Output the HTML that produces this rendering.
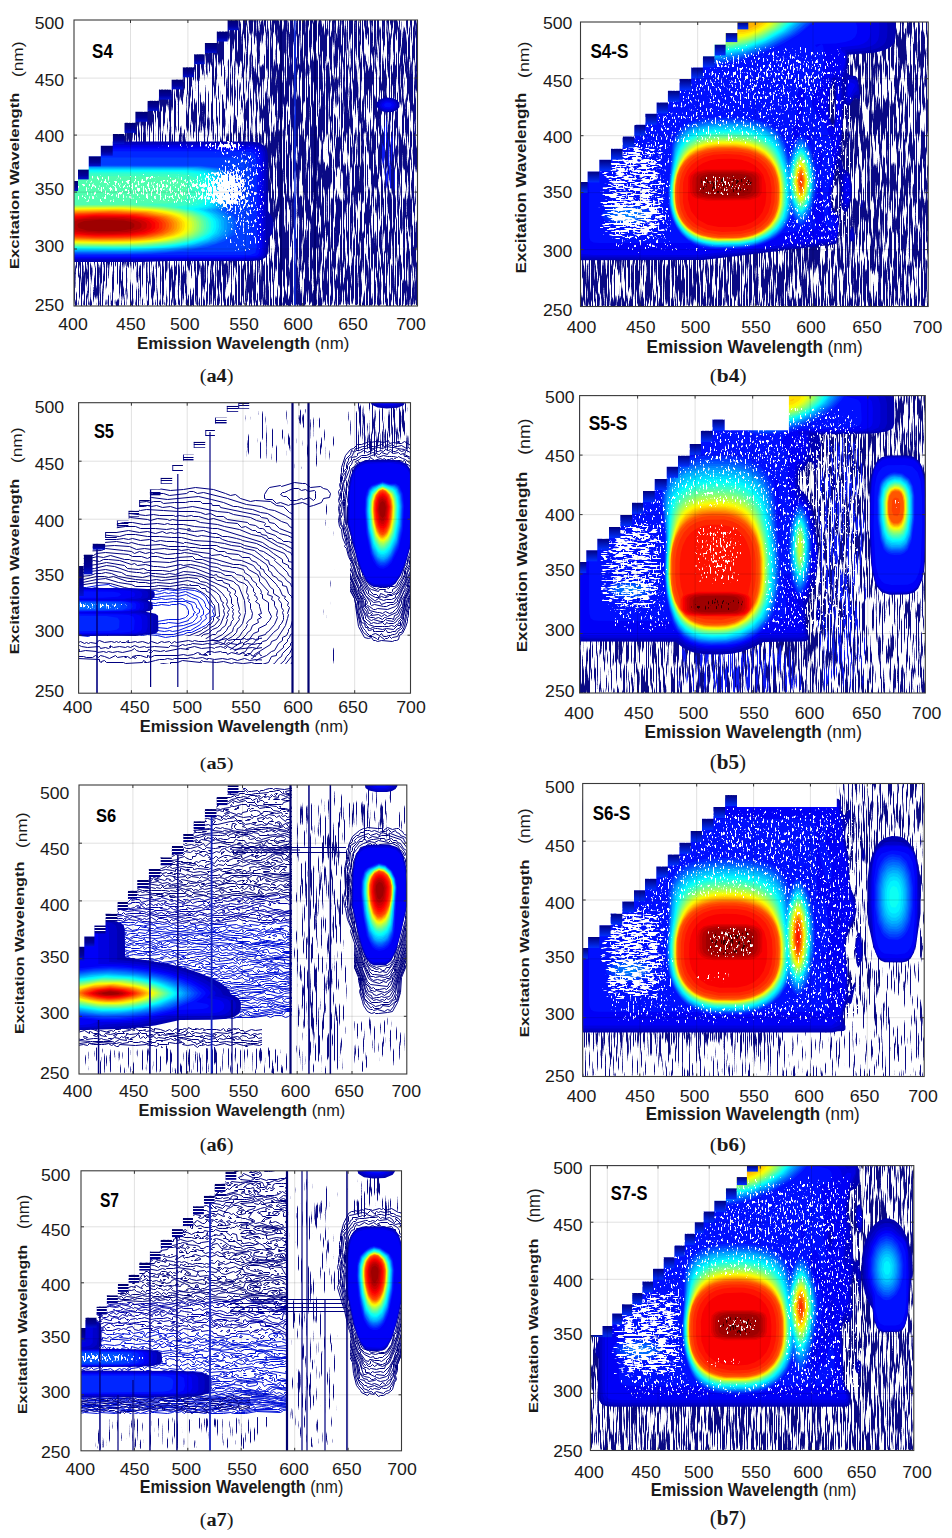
<!DOCTYPE html><html><head><meta charset="utf-8"><style>html,body{margin:0;padding:0;background:#fff;}svg{display:block}</style></head><body>
<svg width="952" height="1538" viewBox="0 0 952 1538">
<defs>
<filter id="tex" x="0" y="0" width="952" height="1538" filterUnits="userSpaceOnUse" color-interpolation-filters="sRGB">
<feTurbulence type="fractalNoise" baseFrequency="0.75 0.03" numOctaves="2" seed="7" result="n0"/>
<feColorMatrix in="n0" type="matrix" values="1 0 0 0 0  1 0 0 0 0  1 0 0 0 0  0 0 0 0 1" result="n"/>
<feGaussianBlur in="SourceGraphic" stdDeviation="1.5" result="d"/>
<feComposite in="n" in2="d" operator="arithmetic" k1="0" k2="14" k3="14" k4="-14" result="s"/>
<feColorMatrix in="s" type="matrix" values="0 0 0 0 0.04  0 0 0 0 0.04  0 0 0 0 0.52  1 0 0 0 0"/>
</filter>
<filter id="htex" x="0" y="0" width="952" height="1538" filterUnits="userSpaceOnUse" color-interpolation-filters="sRGB">
<feTurbulence type="fractalNoise" baseFrequency="0.025 0.42" numOctaves="2" seed="11" result="n0"/>
<feColorMatrix in="n0" type="matrix" values="1 0 0 0 0  1 0 0 0 0  1 0 0 0 0  0 0 0 0 1" result="n"/>
<feGaussianBlur in="SourceGraphic" stdDeviation="1.5" result="d"/>
<feComposite in="n" in2="d" operator="arithmetic" k1="0" k2="14" k3="14" k4="-14" result="s"/>
<feColorMatrix in="s" type="matrix" values="0 0 0 0 0.04  0 0 0 0 0.04  0 0 0 0 0.52  1 0 0 0 0"/>
</filter>
<filter id="btex" x="0" y="0" width="952" height="1538" filterUnits="userSpaceOnUse" color-interpolation-filters="sRGB">
<feTurbulence type="fractalNoise" baseFrequency="0.75 0.03" numOctaves="2" seed="5" result="n0"/>
<feColorMatrix in="n0" type="matrix" values="1 0 0 0 0  1 0 0 0 0  1 0 0 0 0  0 0 0 0 1" result="n"/>
<feGaussianBlur in="SourceGraphic" stdDeviation="1.5" result="d"/>
<feComposite in="n" in2="d" operator="arithmetic" k1="0" k2="14" k3="14" k4="-14" result="s"/>
<feColorMatrix in="s" type="matrix" values="0 0 0 0 0.05  0 0 0 0 0.1  0 0 0 0 0.95  1 0 0 0 0"/>
</filter>
<filter id="spk" x="0" y="0" width="952" height="1538" filterUnits="userSpaceOnUse" color-interpolation-filters="sRGB">
<feTurbulence type="fractalNoise" baseFrequency="0.6 0.25" numOctaves="2" seed="3" result="n0"/>
<feColorMatrix in="n0" type="matrix" values="1 0 0 0 0  1 0 0 0 0  1 0 0 0 0  0 0 0 0 1" result="n"/>
<feGaussianBlur in="SourceGraphic" stdDeviation="1.5" result="d"/>
<feComposite in="n" in2="d" operator="arithmetic" k1="0" k2="14" k3="14" k4="-14" result="s"/>
<feColorMatrix in="s" type="matrix" values="0 0 0 0 1  0 0 0 0 1  0 0 0 0 1  1 0 0 0 0"/>
</filter>
<filter id="hspk" x="0" y="0" width="952" height="1538" filterUnits="userSpaceOnUse" color-interpolation-filters="sRGB">
<feTurbulence type="fractalNoise" baseFrequency="0.12 0.55" numOctaves="2" seed="13" result="n0"/>
<feColorMatrix in="n0" type="matrix" values="1 0 0 0 0  1 0 0 0 0  1 0 0 0 0  0 0 0 0 1" result="n"/>
<feGaussianBlur in="SourceGraphic" stdDeviation="1.5" result="d"/>
<feComposite in="n" in2="d" operator="arithmetic" k1="0" k2="14" k3="14" k4="-14" result="s"/>
<feColorMatrix in="s" type="matrix" values="0 0 0 0 1  0 0 0 0 1  0 0 0 0 1  1 0 0 0 0"/>
</filter>
<filter id="kspk" x="0" y="0" width="952" height="1538" filterUnits="userSpaceOnUse" color-interpolation-filters="sRGB">
<feTurbulence type="fractalNoise" baseFrequency="0.6 0.2" numOctaves="2" seed="9" result="n0"/>
<feColorMatrix in="n0" type="matrix" values="1 0 0 0 0  1 0 0 0 0  1 0 0 0 0  0 0 0 0 1" result="n"/>
<feGaussianBlur in="SourceGraphic" stdDeviation="1.5" result="d"/>
<feComposite in="n" in2="d" operator="arithmetic" k1="0" k2="14" k3="14" k4="-14" result="s"/>
<feColorMatrix in="s" type="matrix" values="0 0 0 0 0.2  0 0 0 0 0  0 0 0 0 0  1 0 0 0 0"/>
</filter>
<clipPath id="ca4"><rect x="74" y="20" width="343.5" height="286.0"/></clipPath>
<clipPath id="cb4"><rect x="580.5" y="22" width="347.7" height="284.5"/></clipPath>
<clipPath id="ca5"><rect x="78.6" y="402.7" width="331.9" height="290.5"/></clipPath>
<clipPath id="cb5"><rect x="579.6" y="395.6" width="345.7" height="297.4"/></clipPath>
<clipPath id="ca6"><rect x="79" y="785" width="327.8" height="289.0"/></clipPath>
<clipPath id="cb6"><rect x="582.7" y="783.5" width="341.5" height="293.0"/></clipPath>
<clipPath id="ca7"><rect x="81" y="1170.8" width="320.5" height="280.0"/></clipPath>
<clipPath id="cb7"><rect x="590.4" y="1165.6" width="323.4" height="284.9"/></clipPath>
<linearGradient id="rimg" x1="0" y1="0" x2="0" y2="1"><stop offset="0" stop-color="#000070"/><stop offset="0.6" stop-color="#00009a"/><stop offset="1" stop-color="#0010d0"/></linearGradient>
<linearGradient id="rimb" x1="0" y1="0" x2="0" y2="1"><stop offset="0" stop-color="#000080"/><stop offset="1" stop-color="#0030ff"/></linearGradient>
<linearGradient id="rims" x1="0" y1="0" x2="0" y2="1"><stop offset="0" stop-color="#000070"/><stop offset="0.25" stop-color="#000070"/><stop offset="0.25" stop-color="#fff"/><stop offset="0.37" stop-color="#fff"/><stop offset="0.37" stop-color="#000080"/><stop offset="0.62" stop-color="#000080"/><stop offset="0.62" stop-color="#fff"/><stop offset="0.74" stop-color="#fff"/><stop offset="0.74" stop-color="#000090"/><stop offset="1" stop-color="#000090"/></linearGradient>
<linearGradient id="rimo" x1="0" y1="0" x2="0" y2="1"><stop offset="0" stop-color="#000070"/><stop offset="0.17" stop-color="#000070"/><stop offset="0.17" stop-color="#fff" stop-opacity="0"/><stop offset="0.42" stop-color="#fff" stop-opacity="0"/><stop offset="0.42" stop-color="#000080"/><stop offset="0.58" stop-color="#000080"/><stop offset="0.58" stop-color="#fff" stop-opacity="0"/><stop offset="0.83" stop-color="#fff" stop-opacity="0"/><stop offset="0.83" stop-color="#000080"/><stop offset="1" stop-color="#000080"/></linearGradient>
</defs>
<g clip-path="url(#ca4)">
<rect x="74" y="20" width="343.5" height="286.0" fill="#fff"/>
<g filter="url(#tex)"><rect x="72" y="18" width="347.5" height="290.0" fill="#000"/>
<path d="M419 307 72 307 72 18 419 18 419 307Z" fill="#4c4c4c" fill-rule="evenodd"/>
<path d="M419 307 72 307 72 18 419 18 419 307Z" fill="#545454" fill-rule="evenodd"/>
<path d="M419 307 72 307 72 18 419 18 419 307Z" fill="#5c5c5c" fill-rule="evenodd"/>
<path d="M419 307 72 307 72 18 419 18 419 307Z" fill="#636363" fill-rule="evenodd"/>
<path d="M419 307 72 307 72 18 419 18 419 307Z" fill="#6b6b6b" fill-rule="evenodd"/>
<path d="M419 307 72 307 72 18 419 18 419 307Z" fill="#737373" fill-rule="evenodd"/>
<path d="M419 307 72 307 72 18 419 18 419 307Z" fill="#7a7a7a" fill-rule="evenodd"/>
<path d="M419 307 72 307 72 18 419 18 419 307ZM147 104 148 95.2 158 96.8 159 85.5 171 86 172 75.6 182 75.6 182.9 61 182 59 162 61 155 64.1 150 68.7 146.4 76 144.6 86 144.8 100 147 104ZM193.3 125 201 122.9 207.6 119 212 113 214.4 106 215.7 93 214.4 81 211.5 76 205 72.9 204 82.7 195 81.7 194 94.4 183 94.1 182 106.6 172 106.7 171 119 163.8 121 164.9 123 172 125.6 193.3 125Z" fill="#828282" fill-rule="evenodd"/>
<path d="M419 307 72 307 72 302.9 80 305.4 94 306.4 140 306.4 157.4 305 162.8 303 166 299.8 168.1 286 165.9 273 162 269.6 155 267.6 92 266.6 79 267.7 72 270.1 72 18 419 18 419 307ZM135.1 119 136 109.2 147 110.1 148 99.3 158 99.6 159 88.3 171 88.5 172 78.3 182 78.3 183 66 194 65.9 195 51.9 204 51.6 204 38.6 179 37.4 155 38.8 141 42.6 132 49.2 127.1 57 124.1 68 122.7 103 124 116.5 130.4 119 135.1 119ZM197.9 147 212 144.9 222 140.8 229.5 134 234 125 237.1 106 236.9 76 233.9 60 228 51.8 227 59 217 56.8 216 66.9 205 66 204 76.8 195 76.5 194 89.4 183 89.2 182 101.4 172 101.4 171 111.8 159 112.1 158 124.3 148 125 147 142 148 144.9 168 147.3 197.9 147Z" fill="#8a8a8a" fill-rule="evenodd"/>
<path d="M419 307 189.1 307 192.2 297 191.7 272 188.2 265 180 259.3 168 255.8 154 254.5 72 255.1 72 18 122.8 18 112.6 26 104.2 36 98.3 47 94.9 59 93 81 93.3 112 95.5 129 100 141.8 101 138.5 112 141.4 113 130.7 124 132 125 121.1 135 122 136 111.1 147 111.7 148 100.9 158 101.2 159 89.9 171 90.1 172 79.9 182 79.9 183 67.6 194 67.6 195 53.9 204 53.8 205 41.5 216 41.2 217 28.3 227 27.7 227.1 18 419 18 419 307ZM195.3 177 218 174.7 234 168.9 249 157.2 258 143 261 132 262.4 119 262.5 68 259 45 256 38.4 252 34.6 249 35.1 238 43.5 228 44.1 227 54 217 53.1 216 63.6 205 63 204 73.7 195 73.5 194 86.3 183 86.2 182 98.3 172 98.3 171 108.6 159 108.8 158 120.7 148 121.2 147 133.2 136 134.3 135 147.7 125 149.7 125 168.3 132 171.7 155 176.5 195.3 177Z" fill="#919191" fill-rule="evenodd"/>
<path d="M77 205 74 205 73.6 203 73.6 180 77 179 78 167.4 88 167.4 89 154.3 100 154.5 101 144 112 144.4 113 133.1 124 133.7 125 122.8 135 123.5 136 112.7 147 113.3 148 102.7 158 103 159 91.8 171 92 172 81.9 182 81.9 183 69.5 194.4 69 195 55.6 204 55.5 205 43.3 216 43 217 30.8 227 30.6 228 18.8 239.1 21 240.9 25 239.6 35 236 39.6 228 40.9 227 51.1 217 50.4 216 60.7 205 60 204 70.4 195 70 194 82.5 183 82.3 182 94.3 172 94.3 171 104.7 159 105.1 158 117 148 117.7 147 129.7 136 130.8 135 143.3 125 144.3 124 156.7 113 157.3 112 169.4 101 169.6 100 180.3 89 180.3 88 193.4 78 193.4 77 205ZM320 303.1 285 303.1 279.7 300 277.5 293 277.7 35 280 26 288 22.6 320.2 23 325.3 26 327.5 33 327.8 288 326 298.9 320 303.1Z" fill="#999999" fill-rule="evenodd"/>
<path d="M216 56.3 205 54.9 205 45.4 216 44.9 217 32.5 227 32.3 228 20.5 235.8 22 237.4 27 235.6 35 233 37.1 228 38 227 47.9 217 47.1 216 56.3ZM77 201.5 74 201.5 73.5 184 74 180.7 77 180.7 78 169.2 88 169.2 89 156.1 100 156.2 101 145.7 112 145.9 113 134.6 124 135.3 125 124.4 135 125.4 136 115 146.7 118 147 122.3 136 126.5 135 139.6 125 140.9 124 153.3 113 153.9 112 165.9 101 166.1 100 176.7 89 176.8 88 189.9 78 189.9 77 201.5Z" fill="#a1a1a1" fill-rule="evenodd"/>
<path d="M230 33.1 227.9 33 228 22.5 233.3 25 232.9 30 230 33.1ZM227 41.4 217 39.6 217 35.6 227 35 227 41.4ZM125 134.2 125 128.8 126.4 132 125 134.2ZM77 198.3 74 198.3 73.8 185 74 182.4 77.2 182 78 170.8 88 170.8 89 157.7 100 157.8 101 147.4 112 147.7 113 136.5 124 137.8 124 149.1 113 150.3 112 162.5 101 162.8 100 173.5 89 173.6 88 186.7 78 186.7 77 198.3Z" fill="#a8a8a8" fill-rule="evenodd"/>
<path d="M97 166 89 166.4 89 161.7 100 162.4 100 165.7 97 166ZM88 179.8 78 179.9 78 174.5 88 174.6 88 179.8ZM77 191.5 74 191.5 74 186 77 186 77 191.5Z" fill="#b0b0b0" fill-rule="evenodd"/>
</g>
<g filter="url(#btex)"><rect x="72" y="18" width="347.5" height="290.0" fill="#000"/>
<path d="M295 303.3 293 299.7 292.5 292 292.4 164 292.5 34 293 26.3 295 22.7 297 26.3 297.5 34 297.6 154 297.5 291 297 299.7 295 303.3ZM389 202.2 384 200.9 381 196.3 378.7 171 379.8 124 383 115.1 388 112.8 392.9 115 395.4 120 397.3 144 396.4 190 394 198.5 389 202.2Z" fill="#4c4c4c" fill-rule="evenodd"/>
<path d="M295 302.1 293.3 299 292.8 291 292.7 165 292.8 35 293.3 27 295 23.9 296.7 27 297.2 35 297.3 157 297.2 291 296.7 299 295 302.1ZM389 200.2 384 198.7 381.4 194 379.3 170 380.5 125 383 117.5 388 114.7 392 116.3 394.9 122 396.7 145 395.7 189 393.3 197 389 200.2Z" fill="#545454" fill-rule="evenodd"/>
<path d="M295 300.6 293.7 298 293 288 293 166 293 38 293.7 28 295 25.4 296.3 28 297 38 297 153 297 288 296.3 298 295 300.6ZM389 198 385 197.1 382 192.2 380 169 381 127.5 383.2 120 388 116.9 392 118.8 394.1 123 396 146 395 187.5 393 194.7 389 198Z" fill="#5c5c5c" fill-rule="evenodd"/>
<path d="M295 298.7 293.4 287 293.4 161 293.4 39 295 27.3 296.6 39 296.6 155 296.6 287 295 298.7ZM390 195.2 386 195.2 383 191.2 380.9 174 381.7 130 384 121.7 388 119.3 391 120.5 393.1 124 395.1 141 394.6 183 393 191.2 390 195.2Z" fill="#636363" fill-rule="evenodd"/>
<path d="M295 295.9 293.9 286 293.8 166 293.9 41 295 30.1 296.1 40 296.2 154 296.1 285 295 295.9ZM390 192.2 387 192.7 384 189.4 381.8 173 382.5 132 384.3 125 388 122.1 391 123.8 392.5 127 394.2 142 393.8 180 392.5 188 390 192.2Z" fill="#6b6b6b" fill-rule="evenodd"/>
<path d="M295 286.8 295 39.2 295 286.8ZM388 189.2 385.9 188 383.9 183 382.7 158 383.8 133 385.3 128 388 125.8 390.1 127 392.1 132 393.3 157 392.2 182 390.7 187 388 189.2Z" fill="#737373" fill-rule="evenodd"/>
<path d="M389 183 387 183 385.6 180 384.2 164 385 138 386 133.7 388 131.5 390.8 137 391.8 151 391.3 174 389 183Z" fill="#7a7a7a" fill-rule="evenodd"/>
<path d="M388 159.2 388 155.8 388 159.2Z" fill="#828282" fill-rule="evenodd"/>
</g>
<path d="M392 112.1 385 112.3 379.1 110 376.2 106 377.1 102 380.8 99 386 97.5 392 97.9 396.9 100 399.5 103 399.5 107 396.9 110 392 112.1ZM141 262 72 262 72 141.4 248 141.5 259 142.6 264.6 146 266.9 150 267.9 156 268.2 211 272.5 218 273.8 225 272.5 233 268.4 239 267.9 253 266 257.3 261 259.9 253 260.9 169 261.1 141 262Z" fill="#0000b2" fill-rule="evenodd"/>
<path d="M390 111.1 384 110.7 380 108.6 378.2 105 379.4 102 383 99.6 387 98.8 392 99.3 396 101.4 397.7 104 397.3 107 394 109.9 390 111.1ZM145 260 72 260.1 72 143.3 247 143.4 257 144.3 262.4 147 265.1 152 265.9 163 265.9 249 265.4 254 263.7 257 259 259.1 250 259.9 145 260Z" fill="#0000c9" fill-rule="evenodd"/>
<path d="M389 110 384 109.4 381 107.4 380 105 381.6 102 385 100.3 389 100 392.9 101 395 102.6 396 105 395.3 107 392.9 109 389 110ZM237 259 72 259 72 145 245 145.1 255 145.7 260 147.7 262.9 152 263.9 160 263.6 253 262 256.2 258 258.1 237 259Z" fill="#0000e0" fill-rule="evenodd"/>
<path d="M391 108.4 387 108.8 384.1 108 382.1 106 382.1 104 386 101.3 391.9 102 394.1 105 393.3 107 391 108.4ZM244 258 72 258 72 146.7 243 146.7 253 147.3 258 148.9 261 153 261.9 160 261.9 251 260.6 255 258 256.7 244 258Z" fill="#0000f7" fill-rule="evenodd"/>
<path d="M390 107.2 385.5 107 384.3 106 384.3 104 387 102.5 390.5 103 392 105 390 107.2ZM255 256.1 240 256.9 72 256.9 72 148.6 241 148.6 251 149.1 256 150.7 259 155 259.8 162 259.9 246 259.1 253 257.5 255 255 256.1Z" fill="#000fff" fill-rule="evenodd"/>
<path d="M250 255 72 255.5 72 151.2 238 151.2 248 151.7 253 153 256 157 256.8 164 256.9 247 255.4 253 250 255Z" fill="#0026ff" fill-rule="evenodd"/>
<path d="M151 254.1 72 254.4 72 157.4 233 157.5 242.4 158 247.2 160 249.2 164 249.8 175 249.8 243 249.2 248 248 249.9 245 251.2 239 251.7 181 252 151 254.1Z" fill="#003dff" fill-rule="evenodd"/>
<path d="M155 253 121 253.9 72 253.6 72 165.3 200 165.7 219 167.8 225 169.9 228 172 229.8 175 230.6 179 230.7 200 229.4 206 225.3 210 232.7 215 236.2 220 236.7 229 233.7 235 224 241.5 207 246.9 184 250.7 155 253Z" fill="#0054ff" fill-rule="evenodd"/>
<path d="M131 253 72 252.8 72 165.9 200 166.4 218 168.6 223 170.4 226.3 173 228.3 180 228.3 201 226.3 207 222.3 210 231 217 233.1 221 233.6 225 232.3 232 228 237 215 243.4 194 248.3 166 251.5 131 253Z" fill="#006bff" fill-rule="evenodd"/>
<path d="M142 252 72 252.1 72 166.4 198 167 215.9 169 221 170.9 223.7 173 226 180 225.9 201 223.7 207 219.1 210 226.8 216 229.9 221 230.2 229 226.8 235 222 238.7 216 241.6 198 246.6 173 250.2 142 252Z" fill="#0081ff" fill-rule="evenodd"/>
<path d="M150 251 72 251.4 72 167 195 167.5 212 169.1 218 170.9 221.1 173 222.9 176 223.7 180 223.6 201 221.1 207 215.6 210 223.7 216 226.5 220 227.3 228 224.6 234 216 240 200 245.2 178 248.8 150 251Z" fill="#0098ff" fill-rule="evenodd"/>
<path d="M127 251 72 250.7 72 167.6 194 168.1 211.5 170 216.8 172 219.2 174 220.7 177 221.4 182 220.9 202 218.2 207 211.5 210 220.6 216 223.9 221 223.9 230 219.5 236 207.4 242 187 246.8 161 249.7 127 251Z" fill="#00afff" fill-rule="evenodd"/>
<path d="M142 250 72 250.1 72 168.3 192 168.7 208 170.3 213.4 172 216.3 174 218 177 218.8 182 218.3 202 215.1 207 206.8 210 216 214.7 220.7 220 221.6 228 218.7 234 209.3 240 193 244.8 170 248.2 142 250Z" fill="#00c6ff" fill-rule="evenodd"/>
<path d="M150 249 117 249.9 72 249.5 72 168.9 188 169.4 205 170.9 213 174 215.1 177 215.9 181 215.4 202 212 206.7 203.4 210 212.1 214 217.4 219 218.7 222 219 227 216.7 233 208.3 239 195 243.4 175 246.9 150 249Z" fill="#00ddff" fill-rule="evenodd"/>
<path d="M134 249 72 248.8 72 169.7 186 170.1 203 171.8 210.3 175 212.2 178 213 183 213 196 212.2 202 210.3 205 208 206.6 198.5 209 209.2 214 214.8 219 216.1 222 216.4 227 215.3 231 213.1 234 209.2 237 202.8 240 186 244.5 163 247.5 134 249Z" fill="#00f4ff" fill-rule="evenodd"/>
<path d="M146 248 114 248.7 72 248.3 72 170.6 183 171 200 172.7 207 176 208.7 179 209.4 184 209.4 196 208.3 202 204.1 206 193.2 209 205 213.3 212 218.8 213.5 222 213.8 227 211.4 233 203 238.6 189.1 243 170 246.1 146 248Z" fill="#0cfff3" fill-rule="evenodd"/>
<path d="M128 248 72 247.7 72 171.7 179 172.1 195 173.6 199.7 175 202.6 177 204.3 180 205 186 204.8 197 203.4 202 198 205.6 185.2 208 200 212.4 208.8 218 211 222 211.3 227 210.2 231 207.8 234 197 239.8 180 244 157 246.7 128 248Z" fill="#23ffdc" fill-rule="evenodd"/>
<path d="M142 247 72 247.1 72 173.3 175 173.7 188.6 175 196 178 198 181 198.9 187 198.6 196 196.9 201 191 204.4 175.4 207 193.3 211 204 216.1 207 219 208.7 223 208.7 228 207 232 203.9 235 199 237.8 185.9 242 167 245.1 142 247Z" fill="#3affc5" fill-rule="evenodd"/>
<path d="M121 247 72 246.5 72 204 90.3 204 72 204 72 176 165 176.6 179 178 185.3 181 187.4 186 187.4 194 186 198.1 182.2 201 166 203.4 121.5 204 149 204.2 150.3 205 160 205.5 177.1 208 193.1 212 201.3 216 205.7 221 206.3 228 203.6 233 199.7 236 193.1 239 176 243.2 152 245.9 121 247Z" fill="#50ffaf" fill-rule="evenodd"/>
<path d="M139 246 72 246 72 205 131 204.7 165.6 207 181 209.5 192 212.7 199 216.3 203.2 221 204 227 202.7 231 198.6 235 192.8 238 183 241 171 243.3 139 246Z" fill="#67ff98" fill-rule="evenodd"/>
<path d="M147 245.1 115 246 72 245.4 72 205.6 127 205.2 164 207.5 179 209.9 189.8 213 197.4 217 200.8 221 201.7 225 200.8 230 197.4 234 192.3 237 174.4 242 147 245.1Z" fill="#7eff81" fill-rule="evenodd"/>
<path d="M137 245 72 244.9 72 206.1 127 205.7 163.2 208 177 210.3 188 213.4 194.9 217 198.8 222 199.2 227 197.8 231 193.4 235 186.9 238 166 242.6 137 245Z" fill="#95ff6a" fill-rule="evenodd"/>
<path d="M145 244 113 244.9 72 244.3 72 206.7 125 206.2 160 208.2 173 210.2 184 213 192.3 217 196 221 196.9 225 196 230 193.6 233 188.9 236 171.9 241 145 244Z" fill="#acff53" fill-rule="evenodd"/>
<path d="M134 244 72 243.8 72 207.2 125 206.7 160 208.9 173.1 211 183.7 214 191.1 218 194 222 194.5 227 193 231 189.7 234 183.7 237 163 241.7 134 244Z" fill="#c3ff3c" fill-rule="evenodd"/>
<path d="M143 243 111 243.9 72 243.2 72 207.8 123 207.2 158 209.3 171 211.4 181 214.1 188.5 218 191.6 222 192.2 226 191.2 230 188.5 233 183.3 236 167 240.4 143 243Z" fill="#daff25" fill-rule="evenodd"/>
<path d="M132 243 72 242.6 72 208.4 122 207.7 156 209.7 169 211.7 179 214.5 186 218 189.2 222 189.7 227 188.1 231 184.5 234 179 236.5 160 240.8 132 243Z" fill="#f1ff0e" fill-rule="evenodd"/>
<path d="M141 242 109 242.8 72 242.1 72 208.9 121 208.3 154 210.1 167 212.1 177.5 215 183.3 218 186.8 222 187.4 226 186.3 230 179.9 235 164 239.5 141 242Z" fill="#fff600" fill-rule="evenodd"/>
<path d="M129 242 72 241.5 72 209.5 119 208.8 152 210.5 165 212.5 174.4 215 180.7 218 184.3 222 184.9 226 183.8 230 180.7 233 174.4 236 156 240 129 242Z" fill="#ffe000" fill-rule="evenodd"/>
<path d="M138 241 102 241.7 72 240.9 72 210.1 118 209.3 150.6 211 171.3 215 178 218 181.8 222 182.4 226 181.2 230 178 233 174 235 159 238.9 138 241Z" fill="#ffc900" fill-rule="evenodd"/>
<path d="M124 241 72 240.3 72 210.7 118 209.9 150 211.6 162 213.5 170.9 216 176.6 219 179.6 223 179.6 228 177.8 231 173.3 234 168 236 150 239.4 124 241Z" fill="#ffb200" fill-rule="evenodd"/>
<path d="M135 240 99 240.6 72 239.7 72 211.3 115 210.4 147 211.9 167.7 216 173.8 219 176.6 222 177.3 225 176.6 229 173.8 232 170.2 234 155 238 135 240Z" fill="#ff9b00" fill-rule="evenodd"/>
<path d="M112 240 72 239 72 212 114 211 146 212.5 166 216.6 172 219.8 174.3 223 174.3 228 172.3 231 162 235.7 141 238.9 112 240Z" fill="#ff8400" fill-rule="evenodd"/>
<path d="M129 239 95 239.3 72 238.3 72 212.7 112 211.6 143.7 213 163.7 217 169.3 220 171.5 223 171.9 226 171 229.1 167.9 232 163.7 234 150 237.2 129 239Z" fill="#ff6d00" fill-rule="evenodd"/>
<path d="M135 238 99 238.8 72 237.6 72 213.4 109 212.2 141 213.5 160.1 217 166.3 220 168.7 223 169 226 168.2 229 162.7 233 152.1 236 135 238Z" fill="#ff5600" fill-rule="evenodd"/>
<path d="M120 238 91.6 238 72 236.9 72 214.1 103 212.9 138.8 214 157 217.3 163 220 165.6 223 166 226 165.1 229 161.4 232 157 233.7 142 236.7 120 238Z" fill="#ff3f00" fill-rule="evenodd"/>
<path d="M128 237 94 237.3 72 236.1 72 214.9 100 213.6 136 214.5 155 217.9 159.6 220 162.4 223 162.4 228 160.9 230 157 232.3 146 235.2 128 237Z" fill="#ff2800" fill-rule="evenodd"/>
<path d="M131 236 96 236.6 72 235.2 72 215.8 97 214.4 132 215 150.8 218 155.8 220 159 223 159 228 154 231.9 145 234.4 131 236Z" fill="#ff1200" fill-rule="evenodd"/>
<path d="M132 235.1 97 235.8 72 234.1 72 216.9 95 215.2 130 215.8 147 218.3 152 220.2 155.3 223 155.3 228 151.6 231 144 233.4 132 235.1Z" fill="#fa0000" fill-rule="evenodd"/>
<path d="M112 235 88 234.7 72 232.9 72 218.1 94 216.1 128 216.6 144 219 148.9 221 151.6 224 151.6 227 150.3 229 144 232 132 234.1 112 235Z" fill="#e30000" fill-rule="evenodd"/>
<path d="M113 234 88 233.6 72 231.3 72 219.7 91 217.2 123 217.3 141 219.9 145.4 222 147 224 146.5 228 141.2 231 131 233 113 234Z" fill="#cc0000" fill-rule="evenodd"/>
<path d="M127 232.1 99 232.8 80 231.3 72 228.6 72 222.4 78 220.1 85 218.9 115 218.2 133.8 220 139.5 222 141.5 224 141.5 227 139.5 229 127 232.1Z" fill="#b50000" fill-rule="evenodd"/>
<path d="M119 231 99 231.3 87 230.4 78.6 228 77.3 225 78.6 223 84.3 221 100 219.7 124 220.4 131.4 222 134.3 224 134.3 227 131.4 229 119 231Z" fill="#9e0000" fill-rule="evenodd"/>
<g filter="url(#spk)"><rect x="72" y="18" width="347.5" height="290.0" fill="#000"/>
<path d="M252 254.1 235 253.6 225.7 249 222.1 240 220.2 217 217.9 213 211.7 209 201 206 188 204.7 82 203.1 76.9 201 74.3 197 73.6 187 74.6 180 79 175.8 89 174.1 198 172.5 213.9 168 218.2 165 221.1 160 220.1 155 209.9 151 191 148.9 142 148.1 133.1 146 133.1 144 137 142.5 194 141.1 230 138.7 242.3 140 254.4 144 263.8 150 268 160 269.1 180 268.7 228 267.8 241 265.1 248 260.2 252 252 254.1Z" fill="#4c4c4c" fill-rule="evenodd"/>
<path d="M250 251 237 250.5 229 246.1 226 239 223.4 216 220 212 213 208.3 201 205 187 203.5 84.2 202 79.2 200 76.9 197 75.9 189 76.9 181 81 177 91 175.2 179 174.7 199 173.4 216.9 168 222.6 164 225.3 159 224.9 156 222.5 154 208 149.8 188 147.8 142.9 147 137.2 145 140 143.5 192 142.1 227 139.4 245.2 142 255.6 148 262 155 264.2 162 265.6 176 264 239.1 260 247.2 250 251Z" fill="#575757" fill-rule="evenodd"/>
<path d="M249 246.1 240 245.9 234 242.4 231.2 236 228.5 217 223.6 212 215.2 208 201 203.9 187 202.2 87 200.6 82.4 199 79.9 196 78.9 189 79.9 182 84 178.2 92 176.8 181 176.1 205 173.3 225.6 165 230.6 160 231 156 221.1 152 199 147.5 151.7 145 190 143.5 225 140 241.9 142 249.4 147 252 153 257.1 159 261.6 178 261.6 200 259 235.1 256 242.4 249 246.1Z" fill="#616161" fill-rule="evenodd"/>
<path d="M236 153 219 150.6 198.9 145 211.4 142 229 140.7 238.7 142 245.1 146 245.8 149 244 151 236 153ZM246 221.2 244 221.7 237.1 216 223.7 210 194 201.2 176 199.8 90 198.4 86.4 197 84 194.2 83.6 185 87 180.6 95 178.9 191 177.2 207 173.8 237 163.7 245 163.5 250 166.1 255 172 257.2 185 256 204 246 221.2Z" fill="#6b6b6b" fill-rule="evenodd"/>
<path d="M236 151.1 220 149.9 208.7 147 206.3 145 219 141.8 235.1 142 240.3 144 242.6 147 241 149.6 236 151.1ZM241 210.2 227 209.5 196 199.4 180 195.8 105.5 194 98 192.5 95.3 189 98 185.5 105.5 184 180 182.2 193 179.5 227 168.6 239 167.7 245 169.5 249.8 173 251.9 177 252.7 183 252.6 197 251.2 203 247 207.7 241 210.2Z" fill="#757575" fill-rule="evenodd"/>
<path d="M234 150 219.8 149 213 147 211.3 145 222 142.3 234 142.8 238 144.4 239.7 147 237.9 149 234 150ZM239 208 232 208.7 224 207.4 202 199 198 196 195.5 192 196.4 184 203.8 178 222 171.1 234 169.4 243 171.6 247 175 248.6 179 248.9 197 246.3 204 239 208Z" fill="#7f7f7f" fill-rule="evenodd"/>
<path d="M231 149.1 220.2 148 217.2 147 216 145 228 142.9 234 144 236.6 146 235.5 148 231 149.1ZM235 207 221 205.6 206.5 199 203.3 195 202.3 191 202.6 185 204.5 181 211.4 176 225 171.5 235 171.1 242.6 174 246 181 245.7 199 242 204.5 235 207Z" fill="#8a8a8a" fill-rule="evenodd"/>
<path d="M232 147.1 226 147.6 220.9 146 228 144.3 231.5 145 232 147.1ZM237 205 231 205.9 223 205 210.1 199 207.5 195 206.7 189 207.5 183 210.1 179 216.8 175 227 172.3 235 172.5 240.5 175 243.5 181 243.6 196 241.6 202 237 205Z" fill="#949494" fill-rule="evenodd"/>
<path d="M235 204 223 203.8 215.9 201 212.4 198 210.5 193 210.4 186 211.8 181 214.4 178 220.3 175 229 173.4 235 174 239.5 177 241.4 183 241.2 197 239 201.7 235 204Z" fill="#9e9e9e" fill-rule="evenodd"/>
<path d="M232 203.1 221 201.8 216.5 199 214.5 196 213.5 189 214.5 182 217 178.6 221.6 176 232.4 175 236.6 177 238.5 180 238.8 197 236.7 201 232 203.1Z" fill="#a8a8a8" fill-rule="evenodd"/>
<path d="M232 201.2 223 200.7 219 198 217.4 195 217.4 183 220 179 223.9 177 232 176.8 236.2 181 236.5 196 235 199.2 232 201.2Z" fill="#b2b2b2" fill-rule="evenodd"/>
<path d="M230 199 223.6 198 220.7 193 221.3 183 226 179 231 179.5 233.7 184 233.5 195 230 199Z" fill="#bdbdbd" fill-rule="evenodd"/>
</g>
<rect x="294.2" y="20" width="1.5" height="286" fill="#1030e0"/>
<rect x="280.0" y="20" width="2" height="286" fill="#000070"/>
<rect x="314.0" y="20" width="2" height="286" fill="#000070"/>
<rect x="73.6" y="181.0" width="4.4" height="10" fill="url(#rimg)"/>
<rect x="78.0" y="169.4" width="10.7" height="10" fill="url(#rimg)"/>
<rect x="88.7" y="156.3" width="12.1" height="10" fill="url(#rimg)"/>
<rect x="100.8" y="145.7" width="11.9" height="10" fill="url(#rimg)"/>
<rect x="112.7" y="134.1" width="11.6" height="10" fill="url(#rimg)"/>
<rect x="124.3" y="122.8" width="11.1" height="10" fill="url(#rimg)"/>
<rect x="135.4" y="111.7" width="12.1" height="10" fill="url(#rimg)"/>
<rect x="147.5" y="100.8" width="11.3" height="10" fill="url(#rimg)"/>
<rect x="158.8" y="89.5" width="12.6" height="10" fill="url(#rimg)"/>
<rect x="171.4" y="79.4" width="11.4" height="10" fill="url(#rimg)"/>
<rect x="182.8" y="67.3" width="11.3" height="10" fill="url(#rimg)"/>
<rect x="194.1" y="54.2" width="10.6" height="10" fill="url(#rimg)"/>
<rect x="204.7" y="42.9" width="12.1" height="10" fill="url(#rimg)"/>
<rect x="216.8" y="31.5" width="10.8" height="10" fill="url(#rimg)"/>
<rect x="227.6" y="20.2" width="11.0" height="10" fill="url(#rimg)"/>
<path d="M73.0 19.0 73.0 181.0 78.0 181.0 78.0 169.4 88.7 169.4 88.7 156.3 100.8 156.3 100.8 145.7 112.7 145.7 112.7 134.1 124.3 134.1 124.3 122.8 135.4 122.8 135.4 111.7 147.5 111.7 147.5 100.8 158.8 100.8 158.8 89.5 171.4 89.5 171.4 79.4 182.8 79.4 182.8 67.3 194.1 67.3 194.1 54.2 204.7 54.2 204.7 42.9 216.8 42.9 216.8 31.5 227.6 31.5 227.6 20.2 227.6 19.0Z" fill="#fff"/>
</g>
<path d="M130.5 20.0V306.0M187.9 20.0V306.0M245.3 20.0V306.0M302.7 20.0V306.0M360.1 20.0V306.0M74.0 78.1H417.5M74.0 135.1H417.5M74.0 192.1H417.5M74.0 249.0H417.5" stroke="#000" stroke-opacity="0.12" stroke-width="1" fill="none"/>
<path d="M130.5 20.0v3M130.5 306.0v-3M187.9 20.0v3M187.9 306.0v-3M245.3 20.0v3M245.3 306.0v-3M302.7 20.0v3M302.7 306.0v-3M360.1 20.0v3M360.1 306.0v-3M74.0 78.1h3M417.5 78.1h-3M74.0 135.1h3M417.5 135.1h-3M74.0 192.1h3M417.5 192.1h-3M74.0 249.0h3M417.5 249.0h-3" stroke="#333" stroke-width="1" fill="none"/>
<rect x="74.0" y="20.0" width="343.5" height="286.0" fill="none" stroke="#3a3a3a" stroke-width="1.1"/>
<text transform="translate(34.70,28.93) scale(0.1766,0.1690)" font-size="100" fill="#1a1a1a" xml:space="preserve"><tspan font-family="Liberation Sans" font-weight="400">500</tspan></text>
<text transform="translate(34.70,86.13) scale(0.1766,0.1690)" font-size="100" fill="#1a1a1a" xml:space="preserve"><tspan font-family="Liberation Sans" font-weight="400">450</tspan></text>
<text transform="translate(34.70,141.63) scale(0.1766,0.1690)" font-size="100" fill="#1a1a1a" xml:space="preserve"><tspan font-family="Liberation Sans" font-weight="400">400</tspan></text>
<text transform="translate(34.70,195.23) scale(0.1766,0.1690)" font-size="100" fill="#1a1a1a" xml:space="preserve"><tspan font-family="Liberation Sans" font-weight="400">350</tspan></text>
<text transform="translate(34.70,252.43) scale(0.1766,0.1690)" font-size="100" fill="#1a1a1a" xml:space="preserve"><tspan font-family="Liberation Sans" font-weight="400">300</tspan></text>
<text transform="translate(34.70,310.63) scale(0.1766,0.1690)" font-size="100" fill="#1a1a1a" xml:space="preserve"><tspan font-family="Liberation Sans" font-weight="400">250</tspan></text>
<text transform="translate(58.20,329.54) scale(0.1772,0.1648)" font-size="100" fill="#1a1a1a" xml:space="preserve"><tspan font-family="Liberation Sans" font-weight="400">400</tspan></text>
<text transform="translate(116.10,329.54) scale(0.1772,0.1648)" font-size="100" fill="#1a1a1a" xml:space="preserve"><tspan font-family="Liberation Sans" font-weight="400">450</tspan></text>
<text transform="translate(170.00,329.54) scale(0.1772,0.1648)" font-size="100" fill="#1a1a1a" xml:space="preserve"><tspan font-family="Liberation Sans" font-weight="400">500</tspan></text>
<text transform="translate(229.20,329.54) scale(0.1772,0.1648)" font-size="100" fill="#1a1a1a" xml:space="preserve"><tspan font-family="Liberation Sans" font-weight="400">550</tspan></text>
<text transform="translate(283.20,329.54) scale(0.1772,0.1648)" font-size="100" fill="#1a1a1a" xml:space="preserve"><tspan font-family="Liberation Sans" font-weight="400">600</tspan></text>
<text transform="translate(338.20,329.54) scale(0.1772,0.1648)" font-size="100" fill="#1a1a1a" xml:space="preserve"><tspan font-family="Liberation Sans" font-weight="400">650</tspan></text>
<text transform="translate(396.20,329.54) scale(0.1772,0.1648)" font-size="100" fill="#1a1a1a" xml:space="preserve"><tspan font-family="Liberation Sans" font-weight="400">700</tspan></text>
<text transform="translate(137.00,348.56) scale(0.1681,0.1636)" font-size="100" fill="#1a1a1a" xml:space="preserve"><tspan font-family="Liberation Sans" font-weight="700">Emission Wavelength</tspan><tspan font-family="Liberation Sans" font-weight="400"> (nm)</tspan></text>
<text transform="translate(19.01,269.00) rotate(-90) scale(0.1660,0.1326)" font-size="100" fill="#1a1a1a" xml:space="preserve"><tspan font-family="Liberation Sans" font-weight="700">Excitation Wavelength</tspan></text>
<text transform="translate(22.50,77.00) rotate(-90) scale(0.1723,0.1380)" font-size="100" fill="#1a1a1a" xml:space="preserve"><tspan font-family="Liberation Sans" font-weight="400">(nm)</tspan></text>
<text transform="translate(199.70,381.57) scale(0.2032,0.1967)" font-size="100" fill="#1a1a1a" xml:space="preserve"><tspan font-family="Liberation Serif" font-weight="400">(</tspan><tspan font-family="Liberation Serif" font-weight="700">a4</tspan><tspan font-family="Liberation Serif" font-weight="400">)</tspan></text>
<text transform="translate(92.10,57.70) scale(0.1698,0.2014)" font-size="100" fill="#000" xml:space="preserve"><tspan font-family="Liberation Sans" font-weight="700">S4</tspan></text>
<g clip-path="url(#cb4)">
<rect x="580.5" y="22" width="347.7" height="284.5" fill="#fff"/>
<g filter="url(#tex)"><rect x="578.5" y="20" width="351.7" height="288.5" fill="#000"/>
<path d="M929.5 308 578.5 308 578.5 20 929.5 20 929.5 308Z" fill="#4c4c4c" fill-rule="evenodd"/>
<path d="M929.5 308 578.5 308 578.5 20 929.5 20 929.5 308Z" fill="#545454" fill-rule="evenodd"/>
<path d="M929.5 308 578.5 308 578.5 20 929.5 20 929.5 308Z" fill="#5c5c5c" fill-rule="evenodd"/>
<path d="M929.5 308 578.5 308 578.5 20 929.5 20 929.5 308Z" fill="#636363" fill-rule="evenodd"/>
<path d="M929.5 308 578.5 308 578.5 20 929.5 20 929.5 308Z" fill="#6b6b6b" fill-rule="evenodd"/>
<path d="M929.5 308 578.5 308 578.5 20 929.5 20 929.5 308Z" fill="#737373" fill-rule="evenodd"/>
<path d="M929.5 308 578.5 308 578.5 20 929.5 20 929.5 308Z" fill="#7a7a7a" fill-rule="evenodd"/>
<path d="M929.5 308 578.5 308 578.5 20 929.5 20 929.5 308Z" fill="#828282" fill-rule="evenodd"/>
<path d="M929.5 308 578.5 308 578.5 20 929.5 20 929.5 308Z" fill="#8a8a8a" fill-rule="evenodd"/>
<path d="M929.5 308 578.5 308 578.5 20 929.5 20 929.5 308Z" fill="#919191" fill-rule="evenodd"/>
</g>
<path d="M703.5 260.1 578.5 260.3 578.5 20 895.3 20 895.9 29 895.3 39 893.4 44 890.6 47 884.9 50 875.5 52.5 847.5 54.8 847.5 72.9 850.5 75.5 855.5 76.1 857.4 78 859 85 860 96 859.5 99.2 854.5 97.8 849.5 105.5 847.5 105.5 844.5 103.7 843.1 107 841.1 158 843.5 168.7 848.5 171.8 849.8 174 851.3 182 851.8 193 849.2 207 846.5 211.7 844.5 212.1 842 209 841.2 206 840.7 183 838.5 168 837.5 166.2 835.5 171.3 831.5 193 831 200 832.5 209.3 837.9 214 839.2 217 839 231 836.5 243.5 833.5 244.5 703.5 260.1ZM833.6 124 835.2 112 834.6 87 833.5 83.6 830.5 90.9 829.1 109 830.5 120.5 832.5 124.4 833.6 124ZM850.5 144.1 848.9 136 849.5 131.4 850.5 131 850.5 144.1ZM862.5 208.1 861.5 208 860.7 205 861.5 199.6 862.5 200 862.8 202 862.5 208.1ZM853.5 241.6 850.5 241.3 849.3 238 849.8 231 851.5 227.1 852.5 227.1 853.5 228.8 854.7 234 854.9 239 853.5 241.6Z" fill="#0000b2" fill-rule="evenodd"/>
<path d="M706.5 258 699.5 258.8 578.5 258.5 578.5 20 886.7 20 887.5 27 887.1 37 885.6 42 883.2 45 878.2 48 871.5 49.9 847.5 52.3 847 53 846 69 843.1 77 842.3 82 843 97 841.9 130 839.6 157 835.5 166.5 830.7 198 831.9 209 837.5 215.6 838.6 219 838.6 230 836.5 241.8 833.5 242.8 706.5 258ZM849.5 103.2 847.5 103.3 846.2 102 844.5 96 847 79 848.3 77 849.5 76.8 856.5 78.5 858 83 858.9 91 858.5 94.6 854.5 95.3 849.5 103.2ZM833.8 126 835.1 122 835.7 114 835.6 84 834.5 80 832.5 81.8 830.4 88 828.5 107 830 121 832.5 126.2 833.8 126ZM845.5 209.3 843 206 841.9 198 842.4 174 843.1 173 845.5 172.7 847.5 173.1 849.5 176.1 851.3 191 849.5 203.7 847.5 207.9 845.5 209.3ZM853.5 239.4 851.5 239.7 850.3 238 850.2 234 851.5 229.9 852.5 229.8 853.8 233 854.2 237 853.5 239.4Z" fill="#0000c9" fill-rule="evenodd"/>
<path d="M700.5 257.1 578.5 256.6 578.5 20 878.5 20 879.5 26 879.2 35 878 40 875.5 43.5 871.4 46 864.6 48 845.3 50 846.2 57 845.6 66 842.1 75 841 82 841.6 125 840.8 137 838.6 153 835 165 830.2 199 831.4 209 836.7 216 838.1 220 838.2 229 836.5 240.1 834.5 241 700.5 257.1ZM833.9 128 836.1 118 836.7 84 836.3 79 834.5 76.7 832.2 80 829.8 87 827.8 107 829.1 120 831.5 126.5 832.5 127.9 833.9 128ZM848.5 101.2 847.1 100 846.1 96 847.5 82.4 849.5 79 854.5 79.5 856.8 82 857.5 90 853.5 93.7 850.5 99.3 848.5 101.2ZM846.5 206.3 845.5 206.2 844.1 204 843.1 196 843.8 179 844.6 176 846.5 174.8 848.5 176.4 849.5 179.1 850.8 191 849.5 201.2 846.5 206.3ZM852.5 237 851.4 235 852.5 233.4 852.5 237Z" fill="#0000e0" fill-rule="evenodd"/>
<path d="M706.5 254.1 699.5 254.9 593.5 254.9 578.5 253.8 578.5 20 868.9 20 870.3 24 870.5 32 869.6 37 867.3 41 863.5 43.6 858.5 45.2 840.5 47.3 841.5 51.1 844.7 54 845.3 59 844.5 65.1 839.5 76 838.5 76.6 836.5 73.1 834.5 72.7 830.8 80 828.8 87 827.1 104 827.2 113 829.9 125 833.5 130.9 835.2 129 836.3 124 837.2 113 837 96 838.5 88.1 839.9 96 840.5 133.7 834.8 161 829.8 199 831.1 210 836.5 217.7 837.5 221 837.5 232 836.5 237.6 832.4 239 706.5 254.1ZM849.5 96.5 848.2 96 847.6 91 848.5 84.9 850.5 82.2 854.5 83.9 854.9 86 849.5 96.5ZM847.5 202.3 846.5 202.6 845.5 201.6 844.4 195 844.7 183 846.5 177.9 848.5 179.8 849.9 189 849.5 197.3 847.5 202.3Z" fill="#0000f7" fill-rule="evenodd"/>
<path d="M738.5 249.1 721.5 249.5 708.5 248.7 698.5 246.7 690.5 243.1 599.5 243 593.5 242.4 590.5 240.7 589.5 238 589.1 230 589.1 45 589.5 35 591.5 30.8 594.5 29.6 601.5 29.1 679.5 29 689.8 20 853.5 20 855.7 22 857.3 27 856.9 33 855.1 37 851.5 39.9 845.1 42 835.5 43.5 818 44 815 45 816.5 47.3 821.5 44 822.8 45 823.7 49 823.5 61.3 821.5 84.6 820.5 85.8 816.5 84.3 814.5 86 811.9 104 818.5 118.3 822.5 119.8 823.5 121.2 831.5 140.3 832.2 148 831.3 171 830.5 181.4 827.7 195 827.6 206 828.9 215 833.5 220.8 834.5 226 833.1 227 829.5 227.2 825.5 224.3 823.5 211.2 822.3 188 820.5 181.6 818.5 184.3 817.5 187.7 817.2 194 814.2 208 812.4 214 810.5 217 810.5 218.2 812.5 216.4 814.5 217.6 816 226 815.5 229 782.5 233.1 773.5 239.6 762.5 244.5 751.5 247.4 738.5 249.1ZM789.5 81 789.4 77 785.5 62.1 784.3 67 784.9 74 787.5 80.9 788.5 81.9 789.5 81ZM793.5 141 799.9 133 800.1 125 804.8 96 804.3 90 802.5 87.8 799.4 89 796.8 95 797 118 792.6 130 792.7 139 793.5 141ZM811.9 147 808.5 128.5 807.4 130 807.2 138 811.9 147ZM821 169 822.5 157 821.5 147.4 819.5 150.8 818.6 157 819.5 165.9 820.5 169.6 821 169Z" fill="#000fff" fill-rule="evenodd"/>
<path d="M712.5 66 698.5 66.4 686.5 64.7 678.2 61 673.1 55 672.2 48 675.4 39 682.1 30 692.9 20 816 20 798.5 34.4 784.5 42.8 769.5 50.2 740.5 60.7 725.5 64.2 712.5 66ZM742.5 248 714.5 248.3 703.5 246.7 695.5 244.3 688.5 240.7 681.8 235 677.2 229 672.1 219 669.1 208 668 194 672 144 674 137 677.5 131 682.5 126.2 689.5 122.3 700.5 119.1 715.5 117.5 739.5 117.5 755.5 119.4 768.5 123.7 778.5 130.9 784.3 140 788.5 154.8 795.2 141 800.5 135.8 802.5 136.3 805.5 139.2 810.4 148 815.7 167 816.8 185 813.2 206 810 215 806.5 221.5 803.5 225 800.5 226.2 796.5 222.8 791.5 214.6 785.7 227 781.5 232 775.5 236.9 767.5 241.5 759.5 244.6 742.5 248ZM638.5 225.1 625.5 225.9 613 224 604.5 219.8 602.3 217 602 214 603.7 211 608.5 207.7 615.5 205.4 623.5 204.2 639.5 205.1 645.9 207 651.2 210 654 214 653.7 217 652.3 219 646.5 222.7 638.5 225.1Z" fill="#0026ff" fill-rule="evenodd"/>
<path d="M715.5 64 701.5 64.6 689.9 63 681.5 59.4 676.7 54 675.6 47 678.3 39 684.8 30 695.6 20 813.3 20 804.5 27.9 794.5 35.1 769.5 48.6 742.5 58.6 715.5 64ZM734.5 248 710.5 247.3 700.5 245.4 692.5 242.3 686.5 238.6 680.5 232.7 676 226 671.9 217 669.1 205 668.6 190 673 144 675.4 137 679.5 131 685.5 126.2 693.5 122.6 706.5 119.8 723.5 118.9 744.5 119.5 759.5 122.1 771.5 127.3 779.5 134.5 784.5 144 788.5 159.2 794.5 144.4 797.5 140.1 800.5 137.8 803.5 139.1 806.5 142.7 812 155 815.7 173 815.7 189 811.7 208 808.4 216 804.5 221.9 801.5 224.2 798.5 222.9 794.7 218 791.5 211.3 788.7 220 784.8 227 779.5 232.9 773.5 237.4 765.5 241.6 754.5 245.4 734.5 248ZM633.5 224.1 622.5 224.1 613.2 222 606.9 218 605.9 214 607.9 211 612.5 208.3 625.5 205.7 639.5 207 645.1 209 649.1 212 650.1 216 647.5 219.5 641.5 222.4 633.5 224.1Z" fill="#003dff" fill-rule="evenodd"/>
<path d="M719.5 62 705.5 62.9 693.5 61.6 684.6 58 680 53 678.8 46 681.6 38 688.3 29 698.2 20 810.7 20 793.5 34 770.5 46.7 744.5 56.6 719.5 62ZM741.5 247.1 715.5 247.3 704.5 245.8 696.5 243.5 688.5 239.4 682.5 234.3 677 227 673.1 219 669.8 207 668.8 192 673.3 147 675.3 140 678.7 134 683.5 129.3 690.5 125.3 701.5 122.1 716.5 120.5 739.5 120.6 755.5 122.6 768.5 127.2 773.5 130.5 778.2 135 783.7 145 788.5 162.8 793.7 148 799.5 140.1 801.5 139.6 804.5 142 809.6 151 814.1 167 815.3 185 812 204 809.2 212 805.5 218.7 801.5 222.4 799.5 221.9 795.5 217.3 791.5 208.7 789.1 217 785.9 224 781.5 229.9 776.5 234.5 770.5 238.5 761.5 242.7 751.5 245.6 741.5 247.1ZM634.5 222.1 625.5 222.6 616.8 221 611.3 218 610 216 610 214 614.5 209.9 625.5 207.4 636.5 208.3 644.7 212 646.1 215 644.7 218 640.5 220.5 634.5 222.1Z" fill="#0054ff" fill-rule="evenodd"/>
<path d="M714.5 61 702.5 61 692.5 59 685.5 55.1 682.2 50 682.2 43 685.3 36 691.7 28 700.6 20 808.3 20 800.7 27 790.5 34.3 765.5 47.6 739.5 56.7 714.5 61ZM735.5 247 710.5 246.4 701.5 244.6 693.5 241.7 686.5 237.4 681 232 675.8 224 672.3 216 669.8 205 669.2 189 674.3 146 676.8 139 680.5 133.7 686.5 128.8 693.5 125.6 705.5 122.8 721.5 121.7 742.5 122.1 757.5 124.5 769.5 129.3 774.5 133 778.5 137.4 783.8 148 788.5 165.9 794.2 149 797.5 143.8 800.5 141.3 802.5 141.9 805.5 145.1 810.3 155 814.1 172 814.3 188 810.9 205 807.8 213 804.5 218.2 801.5 220.7 798.5 219.3 794.7 214 791.5 206.4 788.4 217 785.1 224 780.6 230 774.5 235.3 767.5 239.5 757.5 243.5 747.5 245.8 735.5 247ZM633.5 220.1 626.5 220.6 619.5 219.4 615.4 217 614.8 214 618.5 211 625.5 209.5 633.5 209.9 639.4 212 641.2 214 640.6 217 633.5 220.1Z" fill="#006bff" fill-rule="evenodd"/>
<path d="M720.5 59.1 707.5 59.6 697.5 58.3 689.7 55 685.4 50 684.7 44 687.7 36 693.9 28 702.9 20 806.1 20 789.5 33.5 767.5 45.5 743.5 54.3 720.5 59.1ZM742.5 246.1 715.5 246.5 705.5 245.1 696.5 242.6 688.5 238.4 683.5 234.2 677.9 227 674.2 220 670.4 207 669.5 193 670 181 674.2 150 676.1 143 679.5 136.6 684.5 131.6 691.5 127.6 707.5 123.7 730.5 122.8 750.5 124.2 764.5 128.1 773.5 133.7 779.6 141 783.9 151 788.5 168.7 793.7 152 799.5 143.5 801.5 142.9 803.5 144.3 808.5 152.5 812.9 168 814 184 811.1 202 805.5 215.2 802.5 218.5 799.5 218.5 795.2 213 791.5 204 786.1 221 782.4 227 776.6 233 770.5 237.3 761.5 241.6 752.5 244.4 742.5 246.1ZM632.5 217.1 625.5 217.6 622.5 216.6 621.3 215 624.5 212.6 630.5 212.4 634.5 214.4 634.3 216 632.5 217.1Z" fill="#0081ff" fill-rule="evenodd"/>
<path d="M717.5 58 706.5 58 697.5 56.3 691.2 53 687.8 48 687.6 42 690.6 35 696.1 28 705 20 803.9 20 796.2 27 787.5 33.3 764.5 45.6 739.5 54.3 717.5 58ZM738.5 246.1 721.5 246.4 709.5 245.4 694.5 241.3 687.5 237.2 682 232 677 225 673.3 217 670.2 204 669.8 189 675 149 677.5 141.7 681.3 136 686.5 131.5 692.5 128.4 708.5 124.7 731.5 123.9 750.5 125.3 764.5 129.4 773.5 135.1 779.5 142.7 783.7 153 788.5 171.4 793.7 154 796.5 148.5 799.5 145 801.5 144.4 803.5 145.9 808.7 155 812.7 171 813.3 186 810.1 203 804.5 214.9 801.5 217.6 799.5 217 797.5 214.9 793.7 208 790.5 198 789.6 208 786.8 218 783.2 225 777.5 231.6 769.5 237.4 761.5 241.2 750.5 244.5 738.5 246.1Z" fill="#0098ff" fill-rule="evenodd"/>
<path d="M724.5 56 712.5 56.8 702.5 55.7 695.4 53 690.7 48 690.1 42 692.8 35 698.2 28 707.1 20 801.8 20 787.3 32 768.5 42.6 745.5 51.4 724.5 56ZM731.5 246 709.5 245.1 700.5 243.1 692.8 240 686.6 236 681.5 230.9 676.5 223.4 672.5 213.8 670.5 204 670.2 186 675.5 149.7 678.5 141.6 682.5 136.1 689.4 131 696.8 128 715.5 125.2 736.2 125 753.5 126.9 765.5 131 773.5 136.5 779.5 144.5 783.5 154.6 788.5 174 789.5 173.7 791.2 164 794 155 799.5 146.4 801.5 145.8 804.5 148.6 810 161 812.7 176 812.3 190 808.7 205 803.5 214.6 800.5 216.2 796.5 212 792.9 204 790.5 194.9 788.6 210 786.5 217.4 782.6 225 776.3 232 767.5 238 758 242 745.2 245 731.5 246Z" fill="#00afff" fill-rule="evenodd"/>
<path d="M722.5 55 711.5 55.3 703 54 696.5 51 693.2 47 692.6 41 694.9 35 700.2 28 709.1 20 799.8 20 785.3 32 765.5 42.9 743.5 50.9 722.5 55ZM739.5 245.1 713.7 245 697.5 241.5 690.3 238 684.5 233.4 679.5 227.5 674.8 219 670.9 204 670.4 190 671.5 176.9 675.7 153 678.1 145 681.5 139.4 686.5 134.7 693.5 130.9 704.5 127.9 717.5 126.6 738.5 126.7 753.5 128.6 762.5 131.4 770.5 136 776.4 142 780.7 150 785.8 166 789.1 181 788.8 204 787.4 212 785 219 778.4 229 768.5 236.7 754.5 242.5 739.5 245.1ZM802.5 214.2 801.5 214.8 799.5 214.2 795.5 208.6 792.3 200 789.8 188 789.9 175 792 163 795.7 153 800.5 147.2 802.5 147.8 804.5 150 808.1 157 810.9 167 812.4 179 811.9 189 809.7 200 806.5 208.6 802.5 214.2Z" fill="#00c6ff" fill-rule="evenodd"/>
<path d="M719.5 54 710.5 53.8 702.8 52 697.8 49 695.3 45 695.4 39 698.2 33 703.1 27 711.1 20 797.8 20 783.2 32 762.5 43.1 740.5 50.7 719.5 54ZM743.5 244.1 716.5 244.7 706.5 243.4 698.5 241.3 691.5 238 685.5 233.7 679.7 227 675.7 220 672.3 210 670.9 200 670.9 185 672.8 172 676.6 153 679.5 145 684.5 138.3 692.5 133.1 702.5 129.9 715.5 128.3 736.5 128.2 751.5 129.9 761.5 132.8 769.2 137 775.3 143 779.4 150 785.2 167 788.1 183 788.1 203 785 217 779.1 227 770.5 234.7 758.5 240.6 743.5 244.1ZM801.5 213.5 799.5 212.8 797.5 210.5 793.9 203 791.2 193 790.1 182 790.9 171 793.2 161 796.5 153.1 800.5 148.5 802.5 149.2 804.5 151.5 808.1 159 810.8 169 811.9 180 811.1 191 808.8 201 805.5 208.9 801.5 213.5Z" fill="#00ddff" fill-rule="evenodd"/>
<path d="M727.5 52.1 717.5 52.8 708.5 51.8 701.5 49 698 45 697.4 40 699.6 34 705 27 713 20 795.9 20 782.8 31 765.5 40.7 746.5 47.9 727.5 52.1ZM738.5 244.1 712.5 243.8 703.5 242.2 695.5 239.5 688.5 235.5 683.5 231 678.9 225 674.8 217 671.7 205 671.1 189 672.3 177 676.5 156.7 678.8 149 682.5 142.6 687.5 137.7 694.5 133.9 705.5 130.9 718.5 129.7 739.5 129.9 753.5 131.9 763.5 135.4 770.5 139.9 775.8 146 779.9 154 785.4 171 787.6 186 787.1 205 783.3 219 776.4 229 766.5 236.4 753.5 241.6 738.5 244.1ZM801.5 212.2 799.5 211.5 797.5 209.1 794.1 202 791.8 193 790.6 182 791.3 172 793.5 162 796.8 154 800.5 149.8 802.5 150.5 804.5 152.9 807.9 160 810.2 169 811.4 180 810.7 190 808.5 200 805.2 208 801.5 212.2Z" fill="#00f4ff" fill-rule="evenodd"/>
<path d="M726.5 51.1 717.5 51.4 709.5 50.4 703.8 48 700.3 44 699.8 39 702.2 33 706.9 27 714.9 20 794 20 781.5 30.5 764.5 40.1 745.5 47.2 726.5 51.1ZM743.5 243.1 717.5 243.7 707.5 242.6 699.5 240.5 692.5 237.4 685.5 232.3 680 226 676.1 219 673 210 671.6 200 671.6 185 673.2 174 677.4 156 680.5 147.9 685.5 141.2 693.5 135.9 703.5 132.7 715.5 131.2 736.5 131.1 750.5 132.7 759.5 135.2 767.5 139.4 773.5 145 778.4 153 784.1 169 786.8 184 786.6 203 783.8 216 778.1 226 769.5 233.9 757.5 239.8 743.5 243.1ZM802.5 210.2 801.5 210.9 799.5 210.2 795.5 203.9 792.5 194 791.1 183 791.6 173 793.7 163 797 155 800.5 151.1 803.5 152.8 807.3 160 809.7 169 810.9 179 810.5 188 808.8 197 806 205 802.5 210.2Z" fill="#0cfff3" fill-rule="evenodd"/>
<path d="M725.5 50 716.5 50 709.5 48.6 704.8 46 702.2 42 702.4 37 704.8 32 709.8 26 716.8 20 792.1 20 779.5 30.6 762.5 39.9 743.5 46.8 725.5 50ZM739.5 243 715.5 243.1 705.5 241.7 697.5 239.3 690.5 235.7 684.7 231 679.8 225 676 218 673.1 209 671.8 198 672 184 674.2 171 678.1 156 681.6 148 687.5 141.1 695.5 136.5 705.5 133.7 718.5 132.4 738.5 132.5 752.5 134.5 761.5 137.5 769.5 142.6 775 149 779.1 157 784.1 172 786.2 186 785.8 205 782.2 218 775.6 228 766.5 235.1 753.5 240.6 739.5 243ZM802.5 209 801.5 209.7 799.5 209 795.5 202.4 792.8 193 791.5 183 792 174 794 164 797.2 156 800.5 152.3 803.5 154.1 807 161 809.2 169 810.5 179 810 188 808.3 197 805.5 204.6 802.5 209Z" fill="#23ffdc" fill-rule="evenodd"/>
<path d="M732.5 48.1 722.5 48.9 713.5 48 708.4 46 704.8 42 704.6 37 706.7 32 711.6 26 718.7 20 790.2 20 779.9 29 765.5 37.5 748.5 44.3 732.5 48.1ZM731.5 243 708.5 241.8 700.5 239.9 693.5 236.9 687.5 232.9 681.7 227 677.3 220 674.2 212 672.2 200 672.3 185 674.1 173 678.5 157.1 681.5 150 686 144 691.5 139.9 699.5 136.5 713.5 134 732.5 133.6 746.5 134.6 758.5 137.7 766.5 141.9 773 148 778.2 157 782.6 169 785.4 183 785.4 202 783.1 214 778.1 224 769.5 232.5 758.5 238.4 746.5 241.7 731.5 243ZM801.5 208.5 798.5 206.7 795.2 200 792.9 191 791.9 182 792.6 173 794.5 164.1 797.5 156.9 800.5 153.5 803.5 155.3 806.8 162 809.1 171 810.1 180 809.4 189 807.5 197.9 804.5 205.1 801.5 208.5Z" fill="#3affc5" fill-rule="evenodd"/>
<path d="M731.5 47.1 722.5 47.6 715.5 46.8 710.5 44.9 707.1 41 707 36 709.3 31 713.5 26 720.5 20 788.4 20 778.1 29 763.5 37.4 747.5 43.6 731.5 47.1ZM740.5 242.1 715.5 242.3 698.5 238.7 691.5 235.3 685.5 230.6 680.7 225 676.7 218 673.7 209 672.4 198 672.6 184 674.7 172 678.8 158 682.5 150.1 687.7 144 695.5 139.2 705.5 136.2 719.5 134.8 738.5 135 752.5 137.1 761.5 140.3 768.5 144.9 773.9 151 778.5 159.6 783.1 173 785 187 784.5 205 780.9 218 774.9 227 765.5 234.5 753.5 239.6 740.5 242.1ZM801.5 207.4 798.5 205.4 795.5 199.3 793.3 191 792.4 182 793 173 794.7 165 797.5 158.2 800.5 154.6 803.5 156.6 806.5 162.7 808.7 171 809.6 180 809 189 807.3 197 804.5 203.8 801.5 207.4Z" fill="#50ffaf" fill-rule="evenodd"/>
<path d="M730.5 46.1 722.5 46.3 716.5 45.4 711.6 43 709.4 40 709.1 36 711.3 31 715.3 26 722.4 20 786.5 20 776.2 29 762 37 745.5 43.2 730.5 46.1ZM735.5 242.1 712.5 241.6 703.5 239.9 696.5 237.5 689.5 233.5 684.4 229 679.1 222 675.8 215 673.3 205 672.6 193 673.2 181 675.8 169 679.9 157 684.4 149 690.5 143.2 697.5 139.6 708.5 136.9 722.5 135.9 741.5 136.4 754.5 138.8 763.5 142.7 770.2 148 775.5 155.3 779.9 165 783.8 180 784.5 197 783 210 778.7 221 772.2 229 762.5 235.6 749.5 240.2 735.5 242.1ZM801.5 206.2 798.5 204.2 795.9 199 793.8 191 792.8 182 795 166 797.5 159.5 800.5 155.8 803.5 157.8 806.1 163 808.2 171 809.2 180 807 196 804.5 202.5 801.5 206.2Z" fill="#67ff98" fill-rule="evenodd"/>
<path d="M729.5 45 722.5 44.9 716.5 43.5 712.8 41 711.4 38 711.8 34 713.9 30 718.2 25 724.3 20 784.6 20 774.2 29 760.5 36.6 744.5 42.4 729.5 45ZM742.5 241.1 717.5 241.6 700.5 238.6 693.5 235.6 687.5 231.5 682.2 226 677.8 219 674.8 211 673.1 201 673 187 674.4 176 678.1 163 682.5 153.2 687.5 146.9 694.5 142.1 704.5 138.7 716.5 137.2 735.5 137.1 749.5 138.7 758.5 141.4 766.5 146.1 772.3 152 777.1 160 781.9 173 783.9 187 783.4 205 780.1 217 774.4 226 766.2 233 754.5 238.4 742.5 241.1ZM801.5 205.1 798.5 203 796.1 198 794.1 190 793.2 182 793.7 174 795.5 166 797.9 160 800.5 156.9 803.5 159 805.9 164 807.9 172 808.8 180 808.3 188 806.5 196 804.1 202 801.5 205.1Z" fill="#7eff81" fill-rule="evenodd"/>
<path d="M736.5 43.1 728.5 43.8 721.5 43.2 716.5 41.2 714 38 714 34 715.9 30 720.1 25 726.3 20 782.7 20 775.1 27 763.5 34.1 749.5 39.9 736.5 43.1ZM739.5 241 715.5 241.1 706.5 239.8 698.5 237.5 691.5 233.9 685.5 229.2 681.1 224 677.2 217 674.3 208 673.2 199 673.3 185 675.1 174 679 162 683.5 153 689.5 146.5 696.5 142.4 706.5 139.4 719.5 138.1 738.5 138.3 752.5 140.5 761.5 144 768.4 149 773.5 155.2 778.2 164 782 176 783.5 190 782.7 206 779.1 218 772.8 227 764.5 233.5 753.5 238.4 739.5 241ZM802.5 203.1 800.5 203.9 797.1 199 794.9 192 793.7 183 795.4 168 797.5 162 800.5 158.1 802.5 158.9 805.5 164.5 808.3 179 806.9 193 802.5 203.1Z" fill="#95ff6a" fill-rule="evenodd"/>
<path d="M735.5 42 728.5 42.4 722.5 41.7 718.8 40 716.4 37 716.5 33 718.6 29 728.2 20 780.7 20 773.1 27 761.4 34 748.5 39.1 735.5 42ZM734.5 241 712.5 240.5 703.5 238.7 696.5 236.2 689.5 232.2 684.5 227.7 680.1 222 676.3 214 673.9 204 673.3 191 674.1 180 676.8 169 680.9 159 685.5 151.6 691.5 146.2 699.5 142.3 710.5 139.8 725.5 138.9 741.5 139.5 754.5 142.2 762.5 145.8 769.5 151.4 775 159 779.5 169 782.6 183 782.9 199 781.1 211 776.9 221 770.1 229 760.5 235.2 748.5 239.3 734.5 241ZM801.5 202.8 799.5 201.9 796.5 196 794 182 795.9 168 798.2 162 800.5 159.2 802.5 160.1 805.5 166 808 180 806.1 194 803.8 200 801.5 202.8Z" fill="#acff53" fill-rule="evenodd"/>
<path d="M732.5 41 722.5 39.6 720.2 38 718.7 35 719.1 32 721.4 28 730.3 20 778.6 20 771.1 27 759 34 745.5 38.9 732.5 41ZM741.5 240.1 717.5 240.6 700.5 237.5 693.5 234.4 687.5 230.2 682.5 224.9 678.2 218 675.3 210 673.8 201 673.7 187 675.1 176 678.5 165.4 683.5 155.5 688.5 149.6 695.5 145 705.5 141.6 717.5 140.1 736.5 140.1 749.5 141.8 758.5 144.8 765.5 148.9 771.5 155 776.5 163.2 780.8 175 782.5 188 781.9 205 778.5 217 772.5 226 764.5 232.6 753.5 237.6 741.5 240.1ZM801.5 201.7 799.5 200.8 797 196 794.5 182 796.1 169 798.4 163 800.5 160.3 802.5 161.2 805 166 807.5 180 805.9 193 803.6 199 801.5 201.7Z" fill="#c3ff3c" fill-rule="evenodd"/>
<path d="M739.5 39 727.5 39.2 723.5 37.5 721.6 35 721.5 32 723.5 28 732.5 20 776.5 20 770.3 26 760.6 32 750.5 36.2 739.5 39ZM739.5 240 716.5 240.2 706.5 238.8 699.5 236.8 692.5 233.4 686.5 228.9 682.1 224 678 217 675 208 673.9 199 674 185 675.9 174 679.9 163 684.5 155.2 689.5 149.9 696.5 145.5 706.5 142.4 718.5 141 737.5 141.1 750.5 143 759.5 146.3 766.5 150.9 772.5 157.6 777.2 166 780.9 178 782.1 192 781.1 207 777.5 218 771 227 762.5 233.3 752.5 237.6 739.5 240ZM801.5 200.6 799.5 199.6 797.2 195 794.9 182 796.5 169.2 798.5 164 800.5 161.4 802.5 162.4 804.8 167 807.1 180 805.5 192.8 803.5 198 801.5 200.6Z" fill="#daff25" fill-rule="evenodd"/>
<path d="M736.5 38 727.5 37 724.9 35 724.1 33 726.6 27 734.8 20 774.1 20 768.1 26 758 32 747.4 36 736.5 38ZM735.5 240 713.5 239.6 705.5 238.2 697.5 235.6 690.5 231.7 685 227 680.4 221 677 214 674.7 205 674 194 674.6 182 676.7 172 680.5 162.8 685.5 154.9 691.5 149.3 698.5 145.6 709.5 142.7 722.5 141.7 739.5 142.1 752.5 144.5 760.5 147.8 767.5 152.9 773.5 160.3 777.9 169 781.1 182 781.6 198 780 210 775.9 220 769.3 228 759.5 234.5 748.5 238.3 735.5 240ZM801.5 199.4 799.5 198.4 797.5 194.3 795.3 182 796.8 170 800.5 162.6 802.5 163.6 804.5 167.7 806.7 180 805.2 192 801.5 199.4Z" fill="#f1ff0e" fill-rule="evenodd"/>
<path d="M741.5 36 731.7 36 729.2 35 727.4 33 727.4 30 729.1 27 737.3 20 771.6 20 767 25 759.2 30 749.7 34 741.5 36ZM742.5 239.1 718.5 239.7 701.5 236.8 694.5 233.8 688.5 229.9 682.8 224 679 218 675.9 210 674.4 200 674.3 187 675.9 176 678.9 167 683.5 158.5 688.5 152.7 695.5 147.9 704.5 144.6 716.5 142.8 735.5 142.7 748.5 144.3 757.5 147.3 764.5 151.3 770.5 157.2 775.5 164.9 779.6 176 781.2 188 780.7 204 777.4 216 771.7 225 764.5 231.3 754.5 236.2 742.5 239.1ZM801.5 198.2 799.5 197.1 797.6 193 795.7 182 797 171 800.5 163.8 802.5 164.9 804.4 169 806.3 180 805 191 801.5 198.2Z" fill="#fff600" fill-rule="evenodd"/>
<path d="M743.5 34.1 734.5 34.3 731.7 33 730.5 31 732.6 26 740.1 20 768.8 20 765.5 24 759.5 28.2 751.5 31.9 743.5 34.1ZM740.5 239 717.5 239.4 700.5 236.1 693.5 233 687.5 228.7 682.5 223.3 678.7 217 675.9 209 674.6 200 674.6 186 676.1 176 679.5 166.4 684.5 158 689.5 152.8 696.5 148.3 705.5 145.2 717.5 143.6 735.5 143.5 748.5 145.2 757.5 148.2 764.5 152.3 770.5 158.2 776 167 779.6 178 780.8 191 780 206 776.5 217 771.2 225 762.7 232 752.5 236.6 740.5 239ZM801.5 197.1 799.6 196 798.1 193 796.1 182 797.2 172 800.5 164.9 802.4 166 803.9 169 805.9 180 804.8 190 801.5 197.1Z" fill="#ffe000" fill-rule="evenodd"/>
<path d="M744.5 32.1 737.5 32.2 734.5 30 735.7 26 741.8 21 743.5 20 765.4 20 763.4 23 758.2 27 752.1 30 744.5 32.1ZM737.5 239 714.5 238.8 699.5 235.5 692.5 232 686.5 227.4 681.9 222 678 215 675.7 207 674.6 197 674.9 184 676.8 174 680.5 165.1 685.5 157.6 690.5 152.8 697.5 148.7 707.5 145.6 719.5 144.3 736.5 144.4 749.5 146.3 758.5 149.5 765.5 154 771.5 160.4 775.9 168 779.7 181 780.4 196 778.9 209 775 219 768.8 227 760.5 232.9 750.5 236.8 737.5 239ZM801.5 195.8 800.5 195.8 798.5 192.5 796.5 182 797.5 172.7 800.5 166.2 801.5 166.2 803.5 169.5 805.5 180 804.5 189.3 801.5 195.8Z" fill="#ffc900" fill-rule="evenodd"/>
<path d="M748.5 29 741.5 29.5 740.3 29 739.5 27 742.9 23 748.5 20 760.4 20 760 22 757.1 25 748.5 29ZM732.5 239 711.5 238.2 703.5 236.5 695.5 233.4 689.5 229.7 684.5 225 680.2 219 677.1 212 675.1 202 674.8 190 675.8 179 678.1 171 682.5 162.4 687.5 156.3 693.5 151.6 700.5 148.3 710.5 145.9 723.5 144.9 739.5 145.4 751.5 147.6 760.5 151.4 767.5 156.7 773.3 164 777.1 172 779.7 184 779.8 201 777.7 212 773.4 221 765.9 229 756.5 234.5 745.5 237.7 732.5 239ZM801.5 194.6 800.5 194.6 798.5 190.9 796.9 182 797.9 173 800.5 167.4 801.5 167.4 803.5 171.1 805.1 180 804.1 189 801.5 194.6Z" fill="#ffb200" fill-rule="evenodd"/>
<path d="M741.5 238.1 718.5 238.6 701.5 235.6 694.5 232.6 688.5 228.6 683.5 223.5 679.9 218 677 211 675.2 201 675 188 676.2 178 679.2 169 683.5 161.6 688.5 156.1 695.5 151.3 705.5 147.6 716.5 145.9 733.5 145.7 746.5 147.2 755.5 149.8 763.5 154.2 769.5 159.7 774.5 167 778.2 177 779.6 189 779.1 204 775.7 216 770.5 224.2 762.5 231 752.5 235.7 741.5 238.1ZM801.5 193.3 800.5 193.3 798.8 190 797.4 182 798.2 174 800.5 168.7 801.5 168.7 803.2 172 804.6 180 803.8 188 801.5 193.3Z" fill="#ff9b00" fill-rule="evenodd"/>
<path d="M739.5 238.1 717.5 238.3 701.5 235.4 694.5 232.3 688.5 228.3 683.4 223 679.5 216.8 676.4 208 675.2 199 675.3 186 677.2 175 679.9 168 684.5 161 690.5 155.2 696.5 151.6 705.5 148.4 716.5 146.7 733.5 146.4 746.5 147.9 755.5 150.6 763.5 155 769.5 160.5 774.5 168 778 178 779.3 191 778.6 205 774.9 217 769.3 225 761.5 231.3 752.5 235.4 739.5 238.1ZM801.5 191.9 800.5 191.9 799.4 190 797.8 182 798.5 174.9 800.5 170.1 801.5 170.1 802.6 172 804.2 180 803.5 187.1 801.5 191.9Z" fill="#ff8400" fill-rule="evenodd"/>
<path d="M736.5 238.1 716.6 238 708.9 237 699.5 234.4 692.8 231 687.5 227.1 682.5 221.5 679.3 216 676.4 207 675.3 198 675.5 185.6 677.4 175 680.2 168 684.5 161.6 690.5 155.9 697.5 151.8 707.5 148.6 718.5 147.2 735.5 147.2 747.5 148.9 756.5 151.8 764.5 156.6 770.5 162.5 775 170 778.5 183 779 196 777.7 208 773.9 218 767.9 226 759.5 232.1 748.5 236.3 736.5 238.1ZM801.5 190.3 800.5 190.3 799.5 188.4 798.3 182 798.8 176 800.5 171.7 801.5 171.7 802.5 173.6 803.7 180 803.2 186 801.5 190.3Z" fill="#ff6d00" fill-rule="evenodd"/>
<path d="M732.5 238 710.5 237 699.3 234 693.3 231 686.9 226 682.4 221 678.5 213.4 676.5 206.6 675.5 196 675.5 188.5 677.5 175.4 680.5 168 685.5 161.1 691.5 155.9 699.5 151.7 709.5 148.9 721.5 147.8 736.7 148 749.2 150 759.4 154 766.5 159 771.7 165 775.5 172.2 777.5 179 778.5 186.9 778.5 199.1 776.5 211 771.7 221 763.8 229 754.8 234 743.7 237 732.5 238ZM801.5 188.6 800.5 188.6 799.8 187 798.8 182 800.5 173.4 801.5 173.4 802.2 175 803.2 180 801.5 188.6Z" fill="#ff5600" fill-rule="evenodd"/>
<path d="M742.5 236 720.5 236.9 704.5 234.5 697.7 232 691.5 228.4 686.5 224 682.5 218.8 679.3 212 677.2 203 676.7 191 677.5 180.8 679.6 173 683.3 166 688.5 160 693.9 156 702.8 152 713.5 149.7 729.5 149 742.5 150 751.5 152.1 760.1 156 766.6 161 771.5 167.2 775.5 176.4 777.2 187 776.8 203 774 214 768.5 222.9 761.7 229 753.5 233.2 742.5 236ZM801.5 186.6 800.5 186.6 799.5 183 800.5 175.4 801.5 175.4 802.5 179 801.5 186.6Z" fill="#ff3f00" fill-rule="evenodd"/>
<path d="M740.5 234.1 719.5 234.7 704.5 232.2 692.5 226.2 688 222 684.3 217 681.2 210 679.5 202 679.2 189 680.2 180 682.3 173 685.6 167 690.5 161.5 696.5 157.2 704.5 153.8 714.5 151.8 729.5 151.2 741.5 152 750.5 154.1 758.5 157.8 765.1 163 769.7 169 773.4 178 774.8 188 774.5 202 771.5 213.5 766.9 221 760.3 227 751.5 231.5 740.5 234.1ZM801.5 183.8 800.3 183 800.5 178.2 801.7 179 801.5 183.8Z" fill="#ff2800" fill-rule="evenodd"/>
<path d="M741.5 231 722.5 231.9 707.5 229.9 696.4 225 691.6 221 687.6 216 684.5 209.3 682.9 202 683 183 684.5 176.7 687.5 170.2 691.5 165.1 696.5 161 704.5 157 713.5 154.8 725.5 154 739.5 154.7 748.5 156.7 756 160 761.5 164.1 766.4 170 769.9 178 771.5 188 771.1 202 768.5 211.9 764.2 219 758.5 224.3 750.5 228.6 741.5 231Z" fill="#ff1200" fill-rule="evenodd"/>
<path d="M735.5 227 718.5 227 707.5 224.8 697.5 219.3 691 211 687.9 199 688.3 177 690.6 173 698.4 166 703.2 163 710.5 160.3 718.5 159 731.5 158.7 741.5 159.8 748.7 162 754.2 165 758.8 169 763.3 175 765.7 184 766.3 195 765.4 204 762.5 211.9 758.5 217.4 752.5 222.1 745.5 225.1 735.5 227Z" fill="#fa0000" fill-rule="evenodd"/>
<path d="M749.5 200.3 706.5 200.8 695.5 198.3 692.1 196 690.2 192 689.8 181 690.8 176 695.5 171.7 705.5 169.5 744.5 169.4 756.5 171.7 759.9 174 761.6 177 761.8 192 760.7 195 758.5 197.2 749.5 200.3Z" fill="#e30000" fill-rule="evenodd"/>
<path d="M748.5 199 713.5 199.7 698.5 197.8 694.5 195.4 692.6 192 692.2 182 693 177 694.5 174.6 697.5 172.6 707.5 170.6 740.5 170.4 753.5 172.2 756.8 174 759 177 759.6 191 756.8 196 748.5 199Z" fill="#cc0000" fill-rule="evenodd"/>
<path d="M744.5 198 712.5 198.3 700.5 196.5 696.8 194 695.5 191.1 695.8 178 699.4 174 708.5 171.9 739.5 171.7 751.5 173.5 755.2 176 756.5 178.9 756.2 192 752.6 196 744.5 198Z" fill="#b50000" fill-rule="evenodd"/>
<path d="M743.5 196.1 715.5 196.6 703.9 195 700.9 193 699.7 191 699.7 179 700.9 177 703.5 175.2 710.5 173.7 737.5 173.4 748.1 175 751.1 177 752.3 179 752.5 190 750 194 743.5 196.1Z" fill="#9e0000" fill-rule="evenodd"/>
<g filter="url(#spk)"><rect x="578.5" y="20" width="351.7" height="288.5" fill="#000"/>
<path d="M829.5 253 637.5 253.3 621.5 252 612.6 248 609.1 242 607.6 232 607.3 145 599.8 140 596.1 134 594 124 593.4 107 593.9 88 595.7 77 599.8 70 607.8 65 609.1 57 611.7 52 618.5 47.8 630.5 46 742.5 44.6 829.5 46 840.5 47.5 847.4 51 851.2 58 852.5 71 852.1 235 850.5 243.3 846.5 248.7 839.5 251.8 829.5 253ZM774.1 243 780.5 239.2 782.7 231 782.7 159 781.7 152 779.5 148.3 771.5 145.5 743.5 145.2 685.5 145.4 679.5 146.1 675.5 148.3 673.3 152 672.4 158 672.2 222 672.8 235 675.5 240.4 679.5 242.7 687.5 243.6 774.1 243ZM742.5 197.1 715.5 197.5 702.5 195.6 698.6 193 697 190 697 180 701.2 175 709.5 172.9 736.5 172.5 749.5 174.4 753.4 177 755 180 755 190 750.8 195 742.5 197.1ZM716.5 212 707.5 212.3 705.1 211 704.5 209 708.5 206.4 715.5 206.7 718.5 209 716.5 212Z" fill="#4c4c4c" fill-rule="evenodd"/>
<path d="M822.5 250 785.5 250.2 771.7 248 780.5 242.5 784 235 784.3 159 783.1 151 780.5 147 775.5 144.4 768.5 143.7 686.5 143.7 675.5 146.2 672.3 150 670.8 157 670.8 233 674 242 683.2 248 669.5 250.2 636.5 250 623.5 248.5 616.6 245 613.2 239 611.9 229 611.6 143 602.8 138 598.9 132 596.8 122 596.2 105 596.8 88 598.9 78 603.5 71.4 612.1 67 613.5 59 616.5 54.1 623.5 50.5 636.5 49 762.5 47.7 827.5 49.2 837.5 50.8 843.4 54 847.1 61 848.3 74 847.7 234 845.7 242 841.5 246.5 834.5 248.9 822.5 250ZM730.5 196 712.5 195.6 703.5 193.6 699.2 188 699.9 180 704.5 175.9 716.5 174.1 741.5 174.6 750.7 178 753.1 185 750.5 192.2 744.2 195 730.5 196Z" fill="#575757" fill-rule="evenodd"/>
<path d="M820.5 245 791.5 245.3 786 243 786.9 232 786.2 153 784.4 148 780.5 144 775.5 141.9 768.5 141.3 685.5 141.3 674.5 144 670.1 149 668.4 157 669 243 663.5 245.3 641.5 245.1 630.5 243.9 623.5 241 620 236 618.4 226 618 140 609.5 137.5 604.7 134 601.9 129 600.2 121 600.1 90 601.5 82 604.5 76.3 609.5 72.5 618.6 70 620.4 62 624.5 57.3 637.5 54.1 710.5 53.5 736.5 51.7 796.5 51.7 827.5 54.7 836.5 58 840.5 64.7 841.8 77 841.5 228 840 236 836.5 241 830.5 243.7 820.5 245ZM729.5 194 714.5 193.6 706.8 192 702.8 188 702.8 182 707.5 177.7 720.5 176 740.5 176.7 745.5 178.2 748.5 180.7 749.7 186 746.9 191 741.5 193.1 729.5 194Z" fill="#616161" fill-rule="evenodd"/>
<path d="M804.5 97.5 726.5 98 714.5 95.9 707.5 91.6 704.7 88 702.9 80 704.2 70 706.6 65 710.5 61.6 724.6 58 788.5 57.3 814.5 59.6 820.5 62.3 824.7 67 826.7 75 826.1 84 824.1 89 820.1 93 814.5 95.6 804.5 97.5ZM639.5 135.2 627.5 135.9 616.5 134.6 610.5 131.9 606.5 126.9 603.9 113 604.4 91 607.5 81.3 613.5 76.4 624.5 74.2 639.5 74.9 647.4 78 652.2 84 654.4 94 653.3 123 648.5 131.3 639.5 135.2ZM726.5 191 711.5 189.2 708.7 187 708.5 183.4 713.7 180 725.5 179 738.3 180 743.5 183.4 743.3 187 740.5 189.2 726.5 191Z" fill="#6b6b6b" fill-rule="evenodd"/>
<path d="M783.5 81.1 748.5 81.3 740.5 79.8 737.7 77 745.8 74 764.5 73.1 784.2 74 792.3 77 790.5 79.4 783.5 81.1ZM635.5 128.1 627.5 128.7 619.5 127.2 614.9 124 612.1 119 610.4 107 611.5 93.1 614.5 86.4 620.5 82.5 628.5 81.2 637.5 82.5 642.5 85.4 645.9 91 647.6 104 646.2 118 642.5 124.6 635.5 128.1Z" fill="#757575" fill-rule="evenodd"/>
</g>
<g filter="url(#hspk)"><rect x="578.5" y="20" width="351.7" height="288.5" fill="#000"/>
<path d="M647.5 242 610.5 241.3 603.4 239 599.2 234 597.6 217 598.7 155 600.6 147 605.5 142.8 618.5 140.6 651.5 140.8 661 143 665.9 148 667.4 157 668.4 201 667.6 231 665.8 236 662.5 239 647.5 242Z" fill="#4c4c4c" fill-rule="evenodd"/>
<path d="M645.5 241 610.5 240.1 604.5 237.9 600.6 233 599.2 212 600.4 155 602.5 147.4 607.5 143.5 620.5 141.6 651.3 142 659.6 144 664.3 149 665.7 157 665.9 200 666.8 201 666 231 663.7 236 660.5 238.5 645.5 241Z" fill="#575757" fill-rule="evenodd"/>
<path d="M642.5 240 611.5 239 605.5 236.7 602.1 232 600.8 201 601.9 200 602.2 156 604.4 148 609.5 144.4 622.5 142.8 649.5 143.1 658.5 145.3 662.7 150 664 160 664.1 200 665.2 201 664.5 230 662.3 235 658.5 237.8 642.5 240Z" fill="#616161" fill-rule="evenodd"/>
<path d="M652.5 238 615.5 238.3 607.5 236 604.1 232 602.7 224 602.5 201 603.8 200 604.1 157 605.7 150 610.3 146 622.5 144.1 647.5 144.4 655.7 146 660.5 150.5 662.1 160 662.2 200 663.5 201 663.2 226 660.5 234.3 652.5 238Z" fill="#6b6b6b" fill-rule="evenodd"/>
<path d="M649.5 237 616.3 237 609.5 235 605.9 231 604.5 223 604.3 201 606.1 200 606.4 158 608.1 151 612.5 147.4 624.5 145.6 647.1 146 654.8 148 658.4 152 659.8 162 659.9 200 661.7 201 661.2 226 657.9 234 649.5 237Z" fill="#757575" fill-rule="evenodd"/>
<path d="M641.5 236 615.3 235 610.5 232.9 607.6 228 606.6 201 609 200 609.5 158 611.5 152 616.5 148.9 628.5 147.6 646.5 148.2 652.5 150.2 655.9 155 657 200 659.4 201 658.7 227 657.2 231 653.7 234 641.5 236Z" fill="#7f7f7f" fill-rule="evenodd"/>
<path d="M640.5 234 617.5 233 612.5 230.3 610.4 226 609.5 201 613.6 200 614.3 160 616.5 154.5 621.5 151.8 632.5 150.8 644.5 151.8 649 154 651.5 158.7 652.4 200 656.5 201 656 224 652.5 231.2 640.5 234Z" fill="#8a8a8a" fill-rule="evenodd"/>
<path d="M643.5 230.1 626.5 230.6 617.5 227.8 614.6 221 614.1 201 632.5 200.1 651.9 201 650.8 224 648.3 228 643.5 230.1Z" fill="#949494" fill-rule="evenodd"/>
</g>
<g filter="url(#kspk)"><rect x="578.5" y="20" width="351.7" height="288.5" fill="#000"/>
<path d="M740.5 196 713.5 196.1 703.5 194.6 698.9 190 698.9 180 702.5 175.8 710.5 174.1 739.5 173.9 750.5 175.8 754.4 181 753.7 191 749.5 194.6 740.5 196Z" fill="#4c4c4c" fill-rule="evenodd"/>
<path d="M734.5 195 713.5 194.8 704.5 193.2 700.6 188 701.2 180 705.5 176.4 715.5 175.1 741.5 175.3 750.3 178 752.7 185 750.5 191.8 745.5 194.1 734.5 195Z" fill="#575757" fill-rule="evenodd"/>
<path d="M741.5 193 708.5 192.4 703.8 189 703.4 182 706.5 178.3 712.5 176.9 744.5 177.6 749.2 181 749.9 187 747.6 191 741.5 193Z" fill="#616161" fill-rule="evenodd"/>
<path d="M737.5 191 712.5 190.5 708 188 707.1 184 709.5 180.6 715.1 179 733.5 178.7 742.5 180.1 745.6 183 745.6 187 742.5 189.9 737.5 191Z" fill="#6b6b6b" fill-rule="evenodd"/>
</g>
<rect x="580.5" y="182.0" width="7.1" height="11" fill="url(#rimb)"/>
<rect x="587.6" y="171.4" width="11.7" height="11" fill="url(#rimb)"/>
<rect x="599.3" y="159.8" width="11.7" height="11" fill="url(#rimb)"/>
<rect x="611.0" y="148.7" width="11.6" height="11" fill="url(#rimb)"/>
<rect x="622.6" y="136.5" width="11.7" height="11" fill="url(#rimb)"/>
<rect x="634.3" y="124.8" width="11.0" height="11" fill="url(#rimb)"/>
<rect x="645.3" y="113.7" width="11.3" height="11" fill="url(#rimb)"/>
<rect x="656.6" y="102.4" width="11.3" height="11" fill="url(#rimb)"/>
<rect x="667.9" y="90.8" width="11.6" height="11" fill="url(#rimb)"/>
<rect x="679.5" y="79.1" width="11.7" height="11" fill="url(#rimb)"/>
<rect x="691.2" y="67.5" width="11.7" height="11" fill="url(#rimb)"/>
<rect x="702.9" y="56.2" width="11.6" height="11" fill="url(#rimb)"/>
<rect x="714.5" y="44.5" width="11.1" height="11" fill="url(#rimb)"/>
<rect x="725.6" y="33.1" width="11.7" height="9" fill="url(#rimb)"/>
<rect x="737.3" y="22.4" width="11.0" height="7" fill="url(#rimb)"/>
<path d="M579.5 21.0 579.5 182.0 587.6 182.0 587.6 171.4 599.3 171.4 599.3 159.8 611.0 159.8 611.0 148.7 622.6 148.7 622.6 136.5 634.3 136.5 634.3 124.8 645.3 124.8 645.3 113.7 656.6 113.7 656.6 102.4 667.9 102.4 667.9 90.8 679.5 90.8 679.5 79.1 691.2 79.1 691.2 67.5 702.9 67.5 702.9 56.2 714.5 56.2 714.5 44.5 725.6 44.5 725.6 33.1 737.3 33.1 737.3 22.4 737.3 21.0Z" fill="#fff"/>
</g>
<path d="M640.1 22.0V306.5M697.7 22.0V306.5M755.3 22.0V306.5M813.0 22.0V306.5M870.6 22.0V306.5M580.5 78.7H928.2M580.5 135.7H928.2M580.5 192.6H928.2M580.5 249.6H928.2" stroke="#000" stroke-opacity="0.12" stroke-width="1" fill="none"/>
<path d="M640.1 22.0v3M640.1 306.5v-3M697.7 22.0v3M697.7 306.5v-3M755.3 22.0v3M755.3 306.5v-3M813.0 22.0v3M813.0 306.5v-3M870.6 22.0v3M870.6 306.5v-3M580.5 78.7h3M928.2 78.7h-3M580.5 135.7h3M928.2 135.7h-3M580.5 192.6h3M928.2 192.6h-3M580.5 249.6h3M928.2 249.6h-3" stroke="#333" stroke-width="1" fill="none"/>
<rect x="580.5" y="22.0" width="347.7" height="284.5" fill="none" stroke="#3a3a3a" stroke-width="1.1"/>
<text transform="translate(543.00,28.93) scale(0.1766,0.1690)" font-size="100" fill="#1a1a1a" xml:space="preserve"><tspan font-family="Liberation Sans" font-weight="400">500</tspan></text>
<text transform="translate(543.00,87.13) scale(0.1766,0.1690)" font-size="100" fill="#1a1a1a" xml:space="preserve"><tspan font-family="Liberation Sans" font-weight="400">450</tspan></text>
<text transform="translate(543.00,143.33) scale(0.1766,0.1690)" font-size="100" fill="#1a1a1a" xml:space="preserve"><tspan font-family="Liberation Sans" font-weight="400">400</tspan></text>
<text transform="translate(543.00,198.33) scale(0.1766,0.1690)" font-size="100" fill="#1a1a1a" xml:space="preserve"><tspan font-family="Liberation Sans" font-weight="400">350</tspan></text>
<text transform="translate(543.00,256.63) scale(0.1766,0.1690)" font-size="100" fill="#1a1a1a" xml:space="preserve"><tspan font-family="Liberation Sans" font-weight="400">300</tspan></text>
<text transform="translate(543.00,315.83) scale(0.1766,0.1690)" font-size="100" fill="#1a1a1a" xml:space="preserve"><tspan font-family="Liberation Sans" font-weight="400">250</tspan></text>
<text transform="translate(566.70,333.14) scale(0.1772,0.1648)" font-size="100" fill="#1a1a1a" xml:space="preserve"><tspan font-family="Liberation Sans" font-weight="400">400</tspan></text>
<text transform="translate(626.00,333.14) scale(0.1772,0.1648)" font-size="100" fill="#1a1a1a" xml:space="preserve"><tspan font-family="Liberation Sans" font-weight="400">450</tspan></text>
<text transform="translate(680.70,333.14) scale(0.1772,0.1648)" font-size="100" fill="#1a1a1a" xml:space="preserve"><tspan font-family="Liberation Sans" font-weight="400">500</tspan></text>
<text transform="translate(741.20,333.14) scale(0.1772,0.1648)" font-size="100" fill="#1a1a1a" xml:space="preserve"><tspan font-family="Liberation Sans" font-weight="400">550</tspan></text>
<text transform="translate(796.20,333.14) scale(0.1772,0.1648)" font-size="100" fill="#1a1a1a" xml:space="preserve"><tspan font-family="Liberation Sans" font-weight="400">600</tspan></text>
<text transform="translate(852.20,333.14) scale(0.1772,0.1648)" font-size="100" fill="#1a1a1a" xml:space="preserve"><tspan font-family="Liberation Sans" font-weight="400">650</tspan></text>
<text transform="translate(912.70,333.14) scale(0.1772,0.1648)" font-size="100" fill="#1a1a1a" xml:space="preserve"><tspan font-family="Liberation Sans" font-weight="400">700</tspan></text>
<text transform="translate(646.60,352.95) scale(0.1713,0.1786)" font-size="100" fill="#1a1a1a" xml:space="preserve"><tspan font-family="Liberation Sans" font-weight="700">Emission Wavelength</tspan><tspan font-family="Liberation Sans" font-weight="400"> (nm)</tspan></text>
<text transform="translate(526.07,273.40) rotate(-90) scale(0.1702,0.1444)" font-size="100" fill="#1a1a1a" xml:space="preserve"><tspan font-family="Liberation Sans" font-weight="700">Excitation Wavelength</tspan></text>
<text transform="translate(528.94,78.00) rotate(-90) scale(0.1771,0.1551)" font-size="100" fill="#1a1a1a" xml:space="preserve"><tspan font-family="Liberation Sans" font-weight="400">(nm)</tspan></text>
<text transform="translate(709.70,381.98) scale(0.2140,0.1868)" font-size="100" fill="#1a1a1a" xml:space="preserve"><tspan font-family="Liberation Serif" font-weight="400">(</tspan><tspan font-family="Liberation Serif" font-weight="700">b4</tspan><tspan font-family="Liberation Serif" font-weight="400">)</tspan></text>
<text transform="translate(590.40,57.80) scale(0.1712,0.2000)" font-size="100" fill="#000" xml:space="preserve"><tspan font-family="Liberation Sans" font-weight="700">S4-S</tspan></text>
<g clip-path="url(#ca5)">
<rect x="78.6" y="402.7" width="331.9" height="290.5" fill="#fff"/>
<g filter="url(#tex)"><rect x="76.6" y="400.7" width="335.9" height="294.5" fill="#000"/>
<path d="M399.6 456.7 363.6 456.6 355.6 454.9 350.6 451.5 346.9 442.7 346 422.7 347.2 408.7 351.4 400.7 411.6 400.7 411.6 453.8 399.6 456.7ZM311.6 470.7 260.6 470.7 249.6 468.9 243.6 465.7 238.9 457.7 237.2 442.7 238.2 423.7 242.2 413.7 251.1 408.7 269.6 407 313.6 407.4 322.6 408.9 328.6 411.7 333.2 417.7 335.2 426.7 335.7 444.7 334.1 457.7 331.6 463.2 327.6 467 321.6 469.4 311.6 470.7ZM330.6 676.8 325.6 676.4 322.6 672.7 320.5 652.7 320.7 508.7 322.9 496.7 325.4 493.7 328.6 492.8 332.6 494.5 334.9 498.7 336.5 517.7 336.4 659.7 334.8 671.7 330.6 676.8Z" fill="#4c4c4c" fill-rule="evenodd"/>
<path d="M390.6 455.7 360.6 454.7 354.6 452.7 350.6 448.8 347.8 438.7 347.6 416.4 349.6 406.1 354 400.7 411.6 401.1 411.6 451.9 404.5 454.7 390.6 455.7ZM312.6 466.8 264.6 467.1 254.2 465.7 247.6 462.7 242.9 455.7 241.1 444.7 241.7 427.7 245.2 417.7 252.7 412.7 268.6 410.7 309.6 411 318.6 412.2 324.6 414.7 329 419.7 331.3 427.7 332 441.7 330.7 453.7 328.6 459.1 325.4 462.7 320.6 465.2 312.6 466.8ZM329.6 664.9 327.6 665.2 326.3 661.7 325.3 643.7 325.4 518.7 326.4 507.7 328.6 504.4 331 509.7 331.7 526.7 331.7 648.7 329.6 664.9Z" fill="#545454" fill-rule="evenodd"/>
<path d="M400.6 453.8 365.6 453.9 358.6 452.6 353.5 449.7 349.7 441.7 348.7 425.7 349.8 410.7 353.6 403.2 357.6 400.7 407.3 400.7 411.6 403.4 411.6 449.6 407.6 452.2 400.6 453.8ZM306.6 461.7 267.6 461.8 258.6 460.4 252.6 457.7 248.6 452.3 246.7 442.7 247.2 430.7 250.3 422.7 257.6 417.8 271.6 416 305.6 416.2 319.6 419.8 323.6 424.1 325.8 430.7 326.3 441.7 325 450.7 322.6 455.5 318.8 458.7 306.6 461.7Z" fill="#5c5c5c" fill-rule="evenodd"/>
<path d="M394.6 452.7 364.6 452.2 358.4 450.7 354.2 447.7 350.8 438.7 350.3 421.7 351.6 410.4 355.6 403.9 365.1 400.7 399.9 400.7 406.6 402.3 411.1 405.7 411.6 446.7 405.6 451.1 394.6 452.7ZM287.6 449.7 273.6 448.8 266.6 446.4 262.6 440.7 263.6 434.6 270.6 429.9 283.6 428.3 300.6 429.4 308.8 433.7 310.5 439.7 307.4 445.7 300.1 448.7 287.6 449.7Z" fill="#636363" fill-rule="evenodd"/>
<path d="M398.6 450.7 367.6 450.8 360.6 449.5 356.1 446.7 352.6 438.7 351.9 424.7 352.9 412.7 356.6 405.8 365.6 402.4 387.6 401.7 401.6 402.8 409.2 406.7 411.6 411 411.6 442 407.6 447.8 398.6 450.7Z" fill="#6b6b6b" fill-rule="evenodd"/>
<path d="M397.6 448.8 368.6 448.9 361.6 447.4 357.6 444.7 354.6 437.7 353.8 424.7 354.9 413.7 358.2 407.7 365.6 404.5 382.6 403.6 399.6 404.5 406.8 407.7 409.4 411.7 410.8 417.7 410.2 438.7 406.3 445.7 397.6 448.8Z" fill="#737373" fill-rule="evenodd"/>
<path d="M392.6 446.8 369.6 446.5 363.6 445.1 359.6 442.2 356.9 435.7 356.3 423.7 357.5 414.7 360.7 409.7 368.6 406.6 386.6 406 398.6 407.1 405.3 410.7 408.6 421.7 407.3 438.7 402.6 444.5 392.6 446.8Z" fill="#7a7a7a" fill-rule="evenodd"/>
<path d="M386.6 443.7 369.6 442.8 362.4 438.7 360.2 432.7 359.9 422.7 361.6 415.7 364.6 412.2 372.6 409.7 388.6 409.4 397.6 410.8 402.6 414.3 405.3 425.7 403.2 437.7 397.6 442.2 386.6 443.7Z" fill="#828282" fill-rule="evenodd"/>
<path d="M389.6 436.7 377.6 437.1 370.4 434.7 366.9 427.7 369 419.7 373.6 416.7 380.6 415.7 389.6 416.3 395.1 418.7 397.8 423.7 397.6 430.2 394.6 434.7 389.6 436.7Z" fill="#8a8a8a" fill-rule="evenodd"/>
</g>
<clipPath id="lca50"><path d="M78 402H292V664L262 664L200 636H78Z"/></clipPath>
<g clip-path="url(#lca50)" fill="none" stroke-width="1">
<path d="M77.5 636.5l13 1 16-1 2-2 28 1 6 2 8-1 3 1 5 0 3 1 13 0 15-3 12-5 2-2 3-1 2-3 2 0 3-4 0-3 2-2-1-10-2-2-2-4-5-5-10-6-13-1-7 2-6-1-9 0-23 2-13-3-14-4-13-1-20 3M77.5 640.5l21 1 4-2 7 0 2-2 6 0 25 2 19 3 6-1 6 1 11-4 14-3 10-6 2-2 4-2 5-6-2-1-1-1 3-1 0-2-1-11-2-2-1-2-6-7-3-1-1-3-4 0-3-3-8 0 0-1-2 1-5-1-14 2-11-1-4 1-19 0-4-2-13-2-13-4-9 1-14 3-5 0M77.5 642.5l6 1 5-1 16 1 10-2 7-1 3 1 10-1 7 2 22 3 2 1 7-1 16-5 5 0 2-2 4 0 4-4 5-1 4-4 5-2 3-3 4-10-1-4 1-2-2-4 1-2-2-1-2-6-3-3-11-7-10-3-8-2-17 3-14-1-7 1-4-1-7 0-3-1-8 0-14-5-5 1-4-1-8 0-13 3-6 0M77.5 646.5l14 0 2-1 4 2 10-1 14-1 5-2 3 1 4 0 14 2 4 1 13 1 12 0 6-4 7-1 3 0 5-2 4 0 11-7 3 0 1-1 1-2 3-1 1-2 4-3 2-6-1-1 2-4-1-2 2-3-3-5 1-3-1-3-2-2-2-3-8-7-5-2-3-2-6-1-3-3-9-1-27 3-5-1-7 1-14-1-17-3-7-3-6-1-4 1-6 0-5 2-10 1-3-1M77.5 650.5l11-1 7 1 5-1 5 1 14-3 5 1 4-1 4 1 4 0 3 1 4-1 7 3 18 2 13-4 5-3 9 0 9-4 9-3 9-5 4-4 2-4 2-1 1-4 2-2-1-3 1-3-1-2 1-2-2-2 2-2-2-2 0-5-2-4 1-2-3-2 0-2-18-8-8-4-14-2-22 3-10-1-5-1-8 2-16-2-5-3-16-3-15 2-3 1-10 0M77.5 652.5l5 0 3 0 5 0 13 0 12-1 3 1 12-2 8 2 8 0 6 2 2 1 4-1 5 1 6 0 17-6 16-2 11-5 5-1 14-10 1-4 6-8-1-2 2-3-2-3 1-2-2-8 0-4-3-3 1-2 0-2-6-4 0-2-6-2-1-2-5 0-4-3-4 0-14-5-12-1-8 3-6-1-5 1-9-1-4 0-3-1-5 1-4-1-3 0-8-1-14-5-8-1-12 3-11 1-6 0M77.5 656.5l4-1 17 0 10 2 13-2 6-1 5 2 4-2 26 6 16-4 6-2 1-1 17-1 7-4 4 0 4-3 7-2 1-3 7-4 4-4 1-4 2-1 3-4 3-11-1-12-6-15-2-1-3-3-10-3-6-2-1-2-3 1-18-7-8-2-18 5-7-1-15 0-4-2-5 1-11-1-3-3-18-3-10 2-8 1-11 0M77.5 659.5l6 0 5-2 22 3 18-2 5 1 3-1 3 1 14 2 4 2 6 0 1 0 0-1 9-1 14-4 6-1 4 1 5-1 2-1 19-8 10-6 3-3 3-2 3-5 3-3 2-4-1-1 2-3 3-2 1-5-1-3-1-2 0-5-2-2 1-2-2-1 1-3-2-3 1-6-3-3-6-2-7-6-6 0-5-3-10-2-3-2-7-2-10-2-7 1-3-1-15 3-8-1-4 0-8-2-8 1-3-2-3 1-12-4-11-1-5 0-4 2-6-1-6 3-8 0-2-1M77.5 663.5l6-2 9 1 3-1 4 1 18 1 3 1 3-1 19-1 6 2 7 0 9 2 8-1 5-3 7-1 18-1 7-1 3-3 5 0 1-2 9-3 13-9 0-2 6-6 1-2 3-2 2-5 6-3-1-3 4-2-3-3 3-1-2-7 0-2-4-3 2-2-1-3-2-1 1-2-2-2 0-3-4-5-2-3-3-1 0-2-3-2-5-1-2-2-12-2-5-3-7-1-7-3-13-3-12 0-9 2-18-1-8 1-2-1-10-1-2-1-5 0-14-4-7 2-6-1-8 2-12 0M77.5 666.5l14-1 4-1 9 1 6 1 19 1 6-1 9 0 4 1 7 0 1 2 3 0 9-1 18-4 6 0 1 1 6-1 10-1 7-2 1-2 5-1 9-4 2-3 9-5 2-4 4-2 5-7 5-2 0-3 8-4 0-1 3-3 2-4-3-6 0-8-6-4 0-4-2-1 1-1-1-3-4-4 0-2-4-3-2-4-6-4 0-1-1-2-7-2-4 0-3-1-8-1-2-1-3-1-6-1-8-3-7 0-3-3-15 1-3 1-10 0-7-2-6 0-4 2-6-2-9 0-4-2-23-2-9 1-3 2-16 0M77.5 670.5l13-2 10 0 24 3 10-1 15 0 5 2 8 0 19-2 3-1 4 0 12-1 7 1 3-1 6-1 1-2 5-3 6-2 2-3 5 0 3-3 7-3 3-5 6-4 1-2 3-1 0-3 7-2 1-2 2-1 6-7 3-7-1-2 1-5-3-5 0-4-3-2 1-3-5-2 1-3-9-10 0-3-2-4-9-5-2-3-7-2-6 0-21-6-9-1-6-3-6-1-7-1-4 1-5 0-8 1-12-2-2 1-4-1-4 1-6-2-5 2-3-2-8-1-18-2-4 2-24 1M77.5 674.5l8-2 20 0 22 0 10 2 6 0 4-1 2 1 3 1 6-1 4 1 3-1 7 1 6-2 8 2 4-1 8 0 19-4 4-2 3-3 16-6 7-6 3 0 3-4 3-1 6-7 4-1 7-8 5-4 1-3 2-2 2-4 0-2 0-2-1-3 1-2-2-3 0-4-3-4 1-2-6-4 0-4-3-2-5-8-5-4-1-4-3-2-3-4-12-5-9-1-5-3-3 0-4-2-9 1-2-2-16-2-5-2-7 1-4-1-7 0-6-1-13 1-7-1-8 1-7-3-15-1-17 1-9 1-11 1M77.5 677.5l42-2 6 0 11 2 3 0 7 1 34 0 5-1 5 2 11-1 13-3 3-2 7-1 2-3 8-2 0-1 2-1 5-1 4-2 1-2 4-1 3-2 1-3 16-10 1-3 5-2 9-14 2-7 1-4-1-1 2-6-2-2 1-3-4-4 1-2-3-1-3-7-2-2-1-2-12-12-1-3-3-1 0-2-3-2-1-2-5-2-2-3-7 0-4-3-11-1-3-2-6 0-6-3-12 0-5-1-6 0-4-1-5 0-12 0-8-2-15 1-7-1-7-2-3 1-12-2-24 2-5-1-10 2M77.5 681.5l2-1 4 0 4 0 6 1 31-3 6 1 6 2 10 1 3-1 4 1 7-2 24 3 8-1 4 2 23-7 9-3 5-1 3-2 1-2 9-2 13-9 7-3 5-4 3-1 4-7 4-3 0-3 4-2 2-4 0-2 2-2 2-7 1-2 0-2 1-2 0-4 0-3-2-3 0-3 2-2-3-2 0-1-3-3-2-7-4-1 0-2-1-2-3-1-2-3-4-2-1-3-3-2 0-2-2-4-7-5-8-5-10-3-21-4-4-2-15 0-15-3-2 0-1 1-9-2-8 0-6-1-5 1-6-2-9 1-8-2-4 1-5-1-7 1-27 0-5 2-7-1M77.5 685.5l3-1 16 1 3-1 10 0 4-2 14 0 10 3 9 0 7-1 3 2 6-2 8 0 15 2 3 2 16-2 5-2 13-3 9-4 17-5 4-3 5-2 1-2 10-3 3-6 5-1 0-2 7-6 0-2 4-4 0-2 2-2 1-3 2-1 2-7 3-3 2-4 2-3 1-5-1-2 0-5-2-2 1-2-2-2 0-4-5-7-2-1-1-3-4-3-2-3-6-5-5-6-4-2-1-4-3-1-2-2-9-7-10-2-4-2-9-1-7-2-7-1-6-1-18-1-12-3-10 0-12-1-12 0-12-2-9 0-7 2-21-2-12 3-4-2-5 1M77.5 689.5l9 0 6-1 7 1 2-1 18-3 30 4 4-1 23 0 8 3 7-1 6 2 15-4 3-2 10-2 9-3 10-2 2-1 2-2 8-1 0-2 18-10 4-5 3-2 1-3 8-8 0-2 4-4 1-3 2-2 1-3 4-4 1-5 4-8 0-2 1-3-2-4-1-8-3-3 0-3-4-4-1-3-3-2-3-5-3-2-1-3-5-5-1-1-6-5-1-1 1-1-12-8-4-1-2-2-13-3-4-2-12-2-6-2-3-2-4 0-14-2-4 1-12-3-4 0-3-1-4 1-4-1-4 1-4-2-7 2-8-2-8 1-11-2-12 2-3-1-4 1-13-1-4 1-3-1-5 1-7 0M194.5 695.5l10-1 17-7 10-1 3 1 10-3 5 0 14-8 1-2 9-4 11-10 2-4 3-3 3-6 7-6 1-3 0-2 3-3 3-1 0-3 4-4 1-3-1-1 4-10-2-11-4-6 0-2-1-3-4-2 0-3-1-3-8-8-1-3-5-3 0-2-6-3 0-3-9-6-5-4-12-6-14-3-2-1-4-1-9-2-5 0-6-3-4 0-9-3-9 1-7-1 3-1-1-1-3 1-7-1-4 1-3-1-6 1-11-1-15 0-5-2-10 0-14 2-11 0-4-1-11 2-8-1M77.5 693.5l6-1 5 1 4-1 3 2 4 0 22-5 11 2 3 2 3-1 16 1 6-1 7 0 10 0 14 3M212.5 695.5l7-1 4-3 7 0 10-1 8 0 3-2 7-2 1-2 4-2 3-3 7-3 5-6 5-4 12-15 4-3 2-4 3-3 1-2 4-3 0-1 1-3 4-2 2-8 0-3 1-1 0-2 2-3-1-6 1-2-2-2 1-2-4-6 1-2-3-4 1-1-3-2-3-5-5-5-3-6-4-3 0-2-2-1 0-2-5-1 0-2-4-6-15-6-7-5-45-14-5 0-7-1-11-1-11-2-10 0-3 0-3-1-3 1-7-1-14 1-11-2-9 0-11 3-6-1-5 1-7-2-6 1-4 0-3 1-4-1M114.5 695.5l6-1 6 0 3 0 1 1M243.5 695.5l19-6 1-2 4-2 3-3 4-2 1-2 11-7 1-3 2-2 3-5 2-1 5-6 2-1 4-6 6-4 3-5 0-3 4-3 4-10-1-1 0-2 2-3-1-3 1-6-1-2 1-5-2-3 0-5-4-6 1-2-5-3-3-6-5-2 0-3-3-2-1-4-3-2-1-4-4-1-3-5-3-1-6-4-3-1-17-10-10-2-12-5-15-3-7-2-17-2-5-2-17 0-6-1-3 1-2-1-10-1-7 2-3-1-17-2-23 5-11-2-8 0-11-1M256.5 695.5l6-2 6-4 4-4 4-1 5-4 5-2 1-3 4-3 0-2 4-3 0-2 3-4 5-3 9-9 3 0 0-3 3-1 2-4 2-2 3-4-1-1 2-4-2-1 1-3 3-4-1-6 2-7 0-6-2-5 1-4-2-2-2-4 1-2-2-4-4-3 2-3-1-1-3 1-2-1 0-2-5-3-1-4-2-1-1-2-2-2-4-6-4-3-3-3-9-5-7-2-6-4-3 0-2-3-5-1-1-2-3 0-2-2-3 0-7-4-4 1-4-4-11-1-13-4-5 1-10-3-5 0-2-1-6 1-6-1-4 1-2-1-14 0-6-1-8 1-16-2-25 5-10-2-17 0M266.5 695.5l4-1 7-6 8-3 0-2 6-3 8-9-3-1 3-1 0-2 8-5 1-3 4-1 6-6 4-1 6-7 0-1-1-1 3-3 0-2 6-5-1-3-3-3 2-1 3-3-2-3 1-2 0-1 0-4 2-2-1-2-1-5-2-2 0-4 1-2-1-1-2-6-2-3 2-2-4-5-1-2 1-2-6-2-2-3-5-3-4-7-3-2-3-5-9-6-2-3-6-2-5 0-2-2-4-2-2-2-9-3-2-3-2-1-3 0-4-3-6-1-2-2-20-3-4-3-7 0-6-3-5 1-5-2-6-1-16 0-15-1-17-1-6 1-5-1-9 2-3-1-20 3-26-2M275.5 695.5l3 0 2-3 8-3 1-2 4-1 7-6 9-13 6-5 0-1 8-1 2-4 3-1 2-4 2-1 4-5 3-7 1-1 0-2 2-2 0-6 3-3-1-4 1-4-2-4 1-2-2-5 1-2-2-5 1-2-2-2-2-8-2-2 0-2-3-5 0-3-1-3-4-1 2-3-5-1-3-4-11-9-4-6-4-2-4-4-12-6-8-2-1-1-7-3-2-3-4 0-1-1 1-2-1-1-8-2-6-3-17-3-5-2-11-1-25-5-6 1-10 1-6-2-8 1-6-2-5 1-4-1-3 1-17 0-4 1-6-1-2 1-5 1-11 1-3-1-4 1-7-1-1-1-7 0M316.5 554.5l-2 0 2 0M290.5 695.5l0-1 4-2 1-1 9-4 1-1-1-1 3-2 1-3 1-3 3-2 2-4 4-3 4 0 2-3 9-5 3-3 0-3 4-3-1-2 4-5 3-1 1-9 3-4 0-5 2-3-1-1 0-7-2-2 3-2-3-4 1-2-2-2 1-4-4-6-2-7-3-4-1-2 2-2-3-2 1-2-6-11-7-2-3-3 0-2-7-5-3-5-9-6-2-2-23-9-5-5-5-1-2-4-6-1-2-2-39-8-1-2-7 0-1-2-9 0-2-2-7 0-4 0-4 1-11 0-11 1-3-2-7 0-3 1-4-1-9 1-15 0-12 2-6-2-2 2-3-1-5 1-5-2-8 1-4-1M301.5 695.5l11-7 0-4 6-4 1-2 2-2 0-1 0-1 6-3 4-4 5-2 8-10 1-2 4-3 1-4-1-2 5-7 1-6 2-2-2-2 1-1 0-3 1-2-2-2 1-2-1-2 2-4-2-4 2-2-1-4 1-3-2-1-3-9-4-5 0-2-2-3 0-2-3-7 1-3-5-3 2-1-3-3 0-1-1-1-4-2-1-1-8-7-5-1-1-4-5-2 0-1-11-7-8-3-5-3-2-3-6-2-14-8-7-1-8-3-8-1-7-2-4 0-10-4-12-3-13-3-31 3-16-2-3 1-3-1-17 2-7-1-13 1-5-1-9 1-3-1-14 0M312.5 695.5l2-2 6-6 2-1 0-3 5-3 3-4 3-1 7-7 3-1 3-2 1-4 7-6 0-2 2-1-1-3 5-11 1-20 2-3 0-3 1-2-1-3 2-3-3-4 0-3-2-4 1-4-2-3-2-2-2-3-3-4 0-4-3-3 2-3-2-4 0-2-6-5-7-8-4-1-2-3-10-6 0-2-3-2-4-1-2-2-9-4-7-5-1-2-3-1-6-4-11-5-6-1-7-3-15-2-19-6-24-6-6 1-4-2-4 0-3 2-17 2-6-2-11 0-5-1-4 2-8-2-15 2-8 0-4-1-6 1-3 0-9 0-10-1-3 1M321.5 695.5l8-5 1-5 6-2 3-5 2-2 2-3 4-2 6-7 7-6 3-9-1-2 2-3 0-8 2-4 0-2 1-1-1-2 3-3-2-2 2-2-1-2 3-2-1-3 1-3-1-2 2-4-2-2 2-2-2-3 1-2-3-3 0-3-2-2 0-3-8-13 0-4-3-8-4-5-2-1-4-5-4-2 0-1-3-4-4-2-2-2-4-3-6-3-1-3-2 0-8-4-3 0-11-7-1-2-7-3-6-6-7-1-6-4-15-1-5 1-10-3-5-4-5 1-5-2-12-4-18-2-12 2-13 1-13-2-15 1-12 1-18-2-4 2-8 0-23-1" stroke="#000080"/>
</g>
<clipPath id="lca51"><path d="M78 636H262V664H78Z"/></clipPath>
<g clip-path="url(#lca51)" fill="none" stroke-width="1">
<path d="M383.5 632.5l1 0-1 0M388.5 633.5l-2 0 2 0M77.5 641.5l1 2 0-1 2-1 4 2 2-1 2 1 2-1 6 1 1-2 2-1 5 2 7-1 3 1 2-1 2 1 2-1 1 1 4 0 3-2 0 1-1 1 3 0 5-1 2 1 5-1 6 2 3-2 6 2 4-2 3 1 5-1 2 2 3-2 2 1 12-2 4 1 2-1 4 1 6 0 5-1 9 0 8-2 2 2 4-1 8 0 4-1 2 1 6-1 3 1 4-1 7-1 6 1 3 0 3 1 18 0 3-1 6 1 9-2 3 1 2-1 5 1 11-2 3 1 3-1 2 1 8-2 4 2 9-3 2 1-2 1 3 1 4-3 5 1 5-1 5 1-1 1 6-2 6 0 1 2 4-1 4 2 3-2 3 1M77.5 645.5l2 0 2 1 6 1 12-1 1 2 5-1 3 1 3-2 2 1 6-1 6 1 2-1 3 1 4-2 5 2 5-1 2 1 8-1 14 1 2-2 8 1 4-2 3 1 3-1 2 0 2-1 10 1 5-1 5 1 8-2 5 2 3-2 2 1 7 1 5-2 2 2 1 0 2-1 6 1 4-1 7 0-1-1 2-1 9 2 22-2 3 1 14 0 4 1 3-2 2 2 4-1 1 1 0-2 2-1 1 0 1 3 2 0 1-2 3 1 0 1 1 0 2-1 6-1 1 1 5 0 5-1 5 1 3-2 5-2 4 2 4 0 5-2 5 2 5-2 3 1 5 0 5 1 3 0 1 1 2 0M236.5 645.5l0-1 0 1M110.5 647.5l-1-1 1-1 0 2M77.5 650.5l2-1 0 1-1 1 2 0 5-1 11 1 1 1 6-1 3 1 2-1 4 1 5-1 5 1 9-2 3-2 1 1 1 1 3 1 8 0 1-2 3 1-2 2 2 0 2-2 7 1 4-1 1 1 15-3 7 1 1 0-2-1 8-2 7 2 10-1 3 1 1-1 5-1 3 1 2 1 2-2 7 3 18-2 4 1 6-1 4 1 3-2 6 0 5-1 7 1 4-2 4 1 2-1 3 1 2-1 9 3 5-1 2 2 2-2 2 1 22-1 3 1 7-2 5 2 4-1 5 1 8-1 4 2 9-3 6 1 1 0-1-2 1-1 3 2 4 1-1 1 2 0 8-2M398.5 650.5l-1-1 0-1 1 1 0 1M77.5 656.5l6 0 3 1 6 0 3-2 3 2 2-2 4 1 5 2 6-3 2 2 6-1 3 1 1-1 3 2 2-1 0-1 4-1 4 0 6 2 1 0 0-2 3 1-1 1 1 0 4-2 23 0 6-1 4 1 6-1 4-2 3 1-1 1 1 0 6 1 1 0-2-2 1-1 5-1 3 1 6-1 2 1 4 0 1 2 4-2 8 2 3-2 3 2-1 1 3 0 3-2 1 2 4 1 0-1 4-3 0 1 1 2 1 0 3-1 1-2 2 0 2 1 2 0-2-1 4 0 1-1 0 1-2 1 2 0 3-1 3 2 1 0-2-2 3-1 3 1 1-1 5 0 3 1 2-1 7 0 2-1 1 2 4-2 7 2 2-1 4-1 3 1 6-1 12 1 5 0 2 2 1-1-1-1 2-1 7 2 3-1 1 1 6 0 4-1 6 1 2 1 1-2 8-1 2 1 9-1 3 1 1-2 6 1M209.5 651.5l-2 0 2 0M382.5 651.5l-2 0 2-1 0 1M237.5 652.5l-1 0 1 0M205.5 654.5l-2 0 2-1 0 1M210.5 654.5l-1 0 1 0M126.5 656.5l-1 1-1-1 2 0M136.5 657.5l-1-1-2 1 2 1 1-1M77.5 658.5l22 1 0 2 2 1 0-1 3-1 2 2 17 0 2 1 17-1 1-2 2 1-1 1 3 0 8-2 4-1 5 0 3-1 5 1 2-1 13 0 3-1 5 1 7-1 5 2 0-1 2 0 5 1 8-1 5 1 4-1 6 2 7-2 3 1 2 1 7-1 11 1 3-1 3 0 0-1 4 0 2-1 9-1 2 0 4-1 2 1 2-1 4 0 1-1 3 2 7-1 2 1 4-1 5 2 4-1-1-1 1-1 11 2 4-1 3 1 7-1 4 1 7-1 3 1 9-1 9 1 2-1 5 1 3-2 7 3 2-1 3 1 2-1 3 0M77.5 665.5l5-1 5 2 5-1 2 1 3-2 3 2 9-1 3 1 5-1 1 2 5-1 3 1 7-2 4 2 5-2 6 0 3 2 1 0 0-2 1-1 6 0 3-1 7 1 1 0 0-2 7 0 5-2 18 2 1 0-1-1 1-1 2 1 13 1 7-1 8 2 3-1 8 1 1 0 8-1 3 1 12 0 9-2 6 1 4-2 7 1 1 0 0-2 6 0 5-1 0 1-1 1 3 1 1 0-2-1 2-2 8 2 3-2 8 2 12-1 26 0 9-1 3 1 3-1 6 1 2-1 8 2 3-2 3 1 2 0 0 1 3 0 2-1 4-1M77.5 664.5l0 1M84.5 664.5l-1 1-1-1 2 0M119.5 665.5l-2 0 3 0-1 0" stroke="#000080"/>
</g>
<clipPath id="lca52"><path d="M78 402H292V693H78Z"/></clipPath>
<g clip-path="url(#lca52)" fill="none" stroke-width="1">
<path d="M77.5 618.5l4 0 4 2 5-1 3 1 6 1 13-2 17 1 7 1 5-1 12 0 4 1 11-2 11 0 6-2 3-3 0-4-3-5-6-2-3 1-5 0-2 1-8-1-4 1-7 0-9-2-4 0-11-2-10 0-8 0-6 0-7 0-8 2-10 1M77.5 622.5l13 1 9 0 5-1 3 1 12-1 14 1 8-1 6 2 7 0 7-1 4 0 3-1 10 1 10-3 0-1 5-4 0-2 2-1-2-2-2-6-6-3-12 0-6 1-9 0-3 1-12-2-18-2-6-2-8 1-4-1-18 1-1 2-1 1-10 0M77.5 625.5l6 0 4 2 3-2 12 1 8-2 11 1 14 0 32 3 6-2 10-1 9-3 3-3 2-3-1-2 3-2 0-3-3-2 0-2-2-3-9-2-3-2-5 1-5-1-7 1-4-1-5 1-17 0-21-3-2-1-4 0-11-1-4 0-4 2-6-1-10 2M77.5 628.5l9 1 6-1 4 1 4-1 14-1 10 1 7 1 4-1 4 1 4-1 21 3 5-1 3 1 6-1 18-7 4-3 1-2-1-2 3-2 0-4-6-11-6-2-5-3-9 2-3-1-13 1-4 1-28-2-11-3-4 0-3-1-21 0-2 2-11 0M77.5 631.5l11 1 16-1 9-1 9 1 3-2 3 2 13 0 3 1 3 0 14 2 12 0 13-4 4 0 10-6 1-2 5-4-1-3 4-3 0-2-4-4 0-2-2-4-4-3-14-6-8 2-5-1-4 1-4-1-3 1-6 1-10-2-4 1-8 0-4-1-5 0-14-4-8 1-7-2-11 3-4 0-3 1M77.5 634.5l2 1 9 1 2-1 16-2 5-1 8 1 3 0 14 1 6 1 5-1 10 1 8 2 6-1 3 0 3-1 6-1 4-2 4 0 10-5 4-2 6-6-1-2 4-2-2-4 1-3-2-3-2-1-4-8-5-4-6-2-9-1-11 1-8-1-4 1-3 1-4-1-17 1-15-2-11-3-4-2-11 1-11 2-9 0" stroke="#0018e8"/>
</g>
<clipPath id="lca53"><path d="M336 402H412V693H336Z"/></clipPath>
<g clip-path="url(#lca53)" fill="none" stroke-width="1">
<path d="M412.5 473.5l-1-3-1-3-1-2-4-2 0-2-1-1-2 1-2-1-3 0-2 1-2-1-1-2-1 0-2 1-2 0-1 1-2-2-2 1-2-1-6 2-4-3-2 3-3 0-5 3-2-2-2 5-3 1-1 2 0 5-2 4-2 9 1 3-1 3-1 7 1 4-1 2 0 17 4 13 0 3 1 2 0 2 4 10 1 7 5 13 0 2 2 3 5 7 3 2 4 2 3-2 3 0 4 0 2 1 2-2 4 0 2-1 2-4 3-4 3-11 3-4 0-3 2-5 3-10M395.5 458.5l-1 0 1 0M412.5 465.5l-7-6-3-1-4-2-1 1-4-1-2 0-2 0-2 0-4-1-6 2-2-3-4 1-4 2-6 0-2 2-4 2 1 2-2 3-3 2-5 20 0 7-1 4 1 26 2 7 1 6 2 3 0 3 4 13 1 6 2 1 1 5 1 7 3 2 5 9 3 2 7 2 1-2 6 0-1 2 4 1 3 0 1-1 0-2 5-3 5-8 2-4 0-4 3-6 1-5 2-4 2-7M412.5 459.5l-4-1-1-2-3 0-1-3-3 1-2-2-5 1-3-2-2 1-1 2-6-2-2 2-1 0-2-1-4-1-6 3-5 0-6 4-2 0-1 2-1 3-2 2 0 3-4 10 1 2 0 5-2 12 0 3 0 5 1 17-1 2 3 7 1 6 1 3 0 2 4 12 1 2 1 6 4 7-1 2 2 4 5 8 2 4 2 1 1 2 3 3 3 0 2 2 1 0 1-3 3 1 3 2 1-2 4 0 4-3 4-5 6-12 0-4 4-6 0-4 2-4 1-3M412.5 458.5l-8-4 1-3-1-1-3 1-3-2-3 2-2 0-3-2-2 1-3-1-2 2-3-1-2 1-2 0-3-2-6 3-2-1-2-1-3 2-3 1 0 2-1 1-5 1 0 1 0 2-2 2-2 3 0 4-1 1-2 9 0 2-1 2 1 7-1 2 0 6 0 3 0 5 1 12-1 7 6 20 2 10 5 11 3 10 4 7 1 2 2 4 2 1 0 3 7 4 4 0 2-1 3 1 2 0 3-2 3 0 1-1 3-1 5-8 3-5 2-6 1-4 3-6 0-2 2-5M412.5 453.5l-8-4-7-1-3-1-3 0-4-1-5 2-4-1-6 1-4-1-2 1-3 0-4 2-3 0-3 2-1 3-4 3 0 2-2 4 0 4-2 2 1 2-3 4 0 3 1 2-1 3 0 6-1 2 0 7 1 2-1 10 1 3-2 4 1 6 2 3 0 4 3 6 0 3 2 5 2 10 4 11 2 7 11 21 3 3 4 3 1 0 3-2 5 2 3-1 5 0 4-2 0-2 4-4 6-10 2-9 4-7 1-5M412.5 450.5l-4-3-2 1-5-3-4 1-3 0-2-2-2 1-3-1-3 2-3-2-6 2-2 0-2 0-3-2-3 2-3 0-5 2-2 0-1 2-1 1-2-1-1 4-5 5-2 8 0 5-2 3 0 7-1 3 1 5-1 2 0 4-1 3 2 3-2 6 1 6-1 5 1 5 2 3 7 29 4 8 3 10 3 6 6 15 8 7 6-1 2 3 5-2 7 0 5-7 4-7 1-2 8-18 1-4M412.5 446.5l-8-5-3 2-3 0-5-1-4 1-1-3-5 2-5-1-2 1-1-1-5 1-1-1-8 3-4 0-4 4-3 1-5 6-4 12 0 5-1 4 0 6-1 2 1 4-2 3 1 5-1 4 1 3-1 5 1 6-1 6 1 6 2 3 1 8 3 7-1 2 2 2 2 8 4 8 3 10 5 10 0 3 5 8 5 7 0 2 1 1 3-1 9 2 3 0 4-2 3 0 4-3 0-2 2-3 3-7 2-3 8-18M399.5 442.5l0-1-2 0 0 1 2 0" stroke="#000080"/>
</g>
<clipPath id="lca54"><path d="M350 560H412V693H350Z"/></clipPath>
<g clip-path="url(#lca54)" fill="none" stroke-width="1">
<path d="M412.5 444.5l-4-5-3 1-7-2-2 1-1-1-5 0-2-1-5 2-2-2-3 1-2-1-2 1-4 0-3 1-3-1-2 1 0 1-3 0-1 0-3 0-2 2-2 0-1 3-3 2 1 1-4 1-1 7-4 6 0 3-1 4-1 10 1 2-1 6 0 5-1 3 1 2-1 2 1 4-1 7 0 11 1 2-1 2 2 3 2 7 0 2 3 7 0 3 2 1 3 13 2 2 1 4 2 5 1 3 7 17 5 8 1 2-1 2 1 1 2 1 4 3 2 0 2-1 10 1 8-3 3-4 1-3 3-5 2-5 1-2 7-16M412.5 440.5l-4-2-2 0-2-2-3-1-2 1-2 0-3-1-2 1-4-1-8 1-4-1-6 1-4-1-5 2-1-1-2 2-2-1-3 3-3 1-1 3-4 1-3 4-1 3-1 2 0 2-2 4 0 6-2 1 1 5-1 3 0 2-1 3 0 2 0 3 1 7-2 5 1 4-1 9 0 14 2 4 11 32 2 3 0 4 3 5 1 3 6 16 3 3 1 4 2 2 0 6 3 1 1 3 8 2 2 0 3 1 3-2 4 2 3-1 3-3 2-2 6-15 4-5 0-3 5-11M412.5 435.5l-2 1-2-1-5-1-2-2-5 1-2-1-2 2-5-2-4 2-3-2-2 2-6-2-2 1-3-1 1 1-2 0-3-1-1 2-4 0-1 1-4 0-1 2-3-1-1 1-2 4-7 9 0 2-3 8 0 3-2 4 1 4-2 10 0 4 1 3-2 9 2 6-1 10 0 6 0 4 2 5 1 5 2 3 3 9 0 3 4 9 1 3 2 3 0 4 4 6 0 3 6 12 0 3 2 3 3 6 1 6 3 3 1 4 1 0 2-1 1 1-2 2 1 0 7-1 3 2 3-2 3 2 9-4 5-9 0-3 3-5 1-3 3-5 0-3 4-8M412.5 433.5l-1 0-2-2-3-1-2 0-5 0-1-1-5 1-2-3-2 2-4 0-5-1-3 0-1 0-2 1 1 1-1 1-2-1-9-1-2 1-2 2-4 0-3 1-2 0-2 1-2 4-2 2-4 6-2 2 0 3-3 5-1 4 1 3-2 4 1 3-1 2-1 4 1 2-2 5 1 10-1 5 2 6-1 6-1 2 1 2-1 4 1 7 1 2 2 7 2 2 3 8 0 3 3 6 2 7 2 3 0 3 4 11 5 11 1 3 2 3 3 6 1 7 3 4 1 4 3 2 3 0 2 1 3-1 4 2 2-2 1 0 2 1 4 0 2 1 1-4 3-1 3-6 2-2 1-7 6-12 0-2 3-6M391.5 432.5l-2-1 1-2 1 2 0 1M412.5 428.5l-5-2-4 3-1-2-2-2-3 2-6-1-4 2-3-2-2 1-2-1-2 0-2 0-2 1-2-1-2 2-3-2-2 2-3-3-3 2 0 3-1 1-5-2-2 2-2-1-1 1-3 5-3 1-2 3-3 2-1 4 0 4-3 9 0 3-2 5 0 6-1 3 1 3-1 14-1 5 2 7-1 4-1 2 2 4-2 3 2 8 5 15 2 2 0 4 4 6 2 8 2 2 2 8 7 17 1 4 3 2 2 6 1 8 4 7 3 4 2 1 2-1 7 2 3 0 2-2 2 1 6 1 1-1 2-3 2-1 1-2 4-9 1-6 5-11 1-3 2-4M412.5 426.5l-2-1-5 0-3-2-3 0-2 2-4-3-2 3-3-2-2 2-4-2-2 0-2 2-6-1-3 1-5-2-4 0-3 2-3 0-3 2-3 0-5 5 0 2-4 2-1 3-2 3 0 2-2 2-3 12 0 3-1 5 0 3-2 7 1 9-1 14 1 5-1 4 1 6-1 7 2 6 3 5 2 9 2 3 4 13 6 12 0 2 5 11 4 10 4 8 1 7 4 9 0 2 2 2 2 1 1 2 1 0 2-1 4 1 5-1 2 2 1 0 1-2 2 1 5 0 3-2 1-2 3-2 4-12 0-6 6-11 2-5M412.5 424.5l-4-2-2 1-6-2-3 1-2-1-5 1-1-2-3 0-2 2-4-1-5 0-1 1-6 0-4-1-4 0-1 1-2 0-2 1-2-1-2 3-7 2-2 2-1 3-4 2-2 4 0 5-3 2 0 2-2 7-2 2 2 3-1 3 0 2-1 2 0 3-1 7 0 13 1 5-1 8 1 2-1 4 0 9-1 6 5 10 2 8 3 5 2 7 3 6 3 8 1 2 1 2 6 12 3 9 4 8 1 8 1 3 1 3 1 2 0 3 4 4 1 1 6 2 8 0 2 0 4 0 3-1 3 1 2-2 3-1-1-2 3-3 1-5 1-2 2-12 7-13M412.5 420.5l-2-1-8 0-7-1-3 2-1-3-3 0-3 1-1 2-1 0-1-2 0-1-1 2-1 0-1-1 0-1-1-1-1 2-4 0-2 1-2 0-2 1-5-2-5 0-2 2-4 1-1 2-3-1-2 3-3 2-2 0 0 3-4 2 0 1-3 4 0 2-3 6-1 8-2 3 0 1 1 2-1 2 1 3-2 3 1 3-1 3 1 5-1 11 1 5-2 2 1 3-1 4 1 3-1 2 1 2-1 8 0 6 5 10 3 9 2 3 2 7 2 3 6 15 13 29 0 5 4 13 3 5 1 2 3 3 1 0 2-1 3 1 2 0 5 1 4-1 7 1 4-4 3 0 0-4 2-2 1-6 1-2 2-11 6-11M412.5 418.5l-3-2-1 0-2 0-2 1-3-2-2 1-2-2-3 2-2-2-5 0-2 2-3-2-3 1-2-2-1 0-2 3-5 0-2-1-4 2-5-2-6 4-3 0-2 1-2 0-6 6-3 1-1 3-4 6 0 3-1 3-3 12-1 2 0 8-2 8 1 7-1 6 1 6-1 5 1 3-1 6 0 9-1 4 2 10 3 4 3 12 4 6 1 4 3 5 1 4 6 12 5 12 6 14 1 9 3 12 3 1 1 4 2 0 1 3 1 0 3-1 1 0 0 2 2 0 8 0 2-2 1 1 1 2 3 0 2-1 3 0 1-2 4-2 3-8 0-3 3-11 0-2 1-3 5-10M412.5 413.5l-1 1-10-2-2 0-3 0-2 2-2-2-3 1-6-1-3 1-3-2-5 3-3-2-4 1-5-1-4 1-2 3-2-1-4 0-1 3-2 0-3 1-2 2-1 2-4 1-1 3 0 3-5 6-1 8-1 2 0 2-2 3 0 3-1 2 1 5-1 7-1 4 1 7-2 4 1 15-1 8 1 2-1 10 1 4-1 2 6 12 2 8 5 7 0 3 3 6 1 3 6 12 3 8 9 18-1 4 1 6 4 13 1 2 1 2 2 2 1 2 3 3 2 0 1-1 3-1 4 2 2-2 2 3 3 0 2-1 2 0 2-1 2 0 2-1 2-3 2-1 2-2 2-7 4-20 4-8M412.5 410.5l-4 0-3 1-6-2-2 0-5 0-3 1-2-1-2 1-1-1-1-1-3 2-3-1-3 1-1-2-4 0-2 2-3-2-2 2-2-1-4 1-3 0-2 3-3-1-2 2-3 0-2 3-3 2-5 2 0 2-2 4 0 3-3 2-2 6 0 6-2 2 1 2-1 5-2 4 1 10-2 4 1 5-1 9 0 10-1 11 1 2 0 10 1 4-1 2 2 2 0 3 4 7 3 8 3 7 4 10 1 3 6 11 3 8 7 15 6 28 3 6 5 4 4 0 4 2 1 1 1 0 0-2 2-1 4 3 1-1 2 0 2-2 2 2 1-1 5-1 2-4 2 0 3-6 2-10 1-4 0-2 2-6-1-4 4-7M412.5 408.5l-2-2-2 2-1 0-2-1-1 1-2 0-3-3-3 1-5 2-4-3-1 2-8 0-2 0-2-1-6 1-4-1-3 2-6-1-2 2-5 0-3 1-2 0-2 3-2-1-1 2 0 2-3 1-2 2-4 6-1 3-3 5 0 4-2 3 1 3-1 3 0 6-2 5 1 6-2 7 1 6-1 5 0 14-1 5 0 3 0 3 1 6-1 2 1 2-1 2 1 2 0 5 2 2 0 4 2 2 3 9 5 9 5 14 3 4 1 2 2 4 2 7 9 16 1 5 0 2 3 21 6 11 4 1 3-1 2 3 2 0 2 1 4-1 11 1 2-1 2 0 2-1 1-4 3-2 3-6 2-6 0-3 1-3 0-5 2-6-1-4 3-5" stroke="#000080"/>
</g>
<clipPath id="lca55"><path d="M240 470H345V520H240Z"/></clipPath>
<g clip-path="url(#lca55)" fill="none" stroke-width="1">
<path d="M313.5 500.5l2-2 0-5 0-2-1-1-6 1-3-2-4 1-3-2-5 0-5 2-4 2-2 0-2 2 3 2 3 0 4 4 6 0 5-2 2 1 6-2 4 3M313.5 505.5l8-3 2-4 6-1 1-4-3-4-4-1-3-2-10 1-5-4-3 0-8-1-13 4-1-1-11 2-2 2-3 5 0 4 2 1 6 0 4 4 4-1 8 3 2-1 3 0 9-2 5 2 2 2 4-1" stroke="#000080"/>
</g>
<path d="M397.6 407.8 386.6 408.5 377.6 407.6 371.7 404.7 369.9 400.7 406.1 400.7 403.6 405.3 397.6 407.8ZM390.6 586.9 383.6 587.6 373.6 587 369.6 584.8 366.1 580.7 361.4 571.7 357.1 559.7 347.7 523.7 348.1 492.7 350.4 476.7 353.1 469.7 355.8 465.7 359.6 462.5 365.6 460.2 384.6 459.4 398.6 460.3 406.6 464.1 411.6 471.1 411.6 542.7 406 562.7 400.7 575.7 395.6 583.6 390.6 586.9ZM134.6 635.7 76.6 636.1 76.6 587.8 134.6 588.2 146.6 589 153.3 590.7 154.7 592.7 154.6 596.7 152.5 598.7 148.7 599.7 147.9 600.7 152.5 602.7 152.9 608.7 150.2 610.7 145.6 611.7 155.5 613.7 158.1 615.7 158.4 630.7 156.8 632.7 152.6 634.1 134.6 635.7Z" fill="#0000b2" fill-rule="evenodd"/>
<path d="M395.6 406.8 385.6 407.3 378.6 406.4 373.7 403.7 372.5 400.7 403.5 400.7 401.2 404.7 395.6 406.8ZM384.6 586.7 372.6 585.7 368.6 582.9 364.6 577.3 357.5 559.7 348.2 523.7 348.6 493.4 351.6 474.9 354.5 468.7 358.1 464.7 362.6 462.1 368.6 460.7 390.6 460.4 399.6 461.5 406.6 465.3 411.6 472.8 411.6 541 404.8 564.7 398.6 578.6 392.6 585.1 384.6 586.7ZM137.6 634.8 76.6 635.4 76.6 588.4 131.6 588.8 142.7 589.7 147.6 591.5 148.6 594.7 147.5 597.7 139.5 599.7 147.4 602.7 148.3 604.7 147.9 608.7 144.7 610.7 139 611.7 148.8 613.7 152.2 615.7 152.9 618.7 152.8 629.7 151.9 631.7 149.6 633 137.6 634.8Z" fill="#0000c9" fill-rule="evenodd"/>
<path d="M394.6 405.7 380.6 405.5 376.5 403.7 374.9 400.7 401.1 400.7 399.5 403.7 394.6 405.7ZM385.6 585.7 372.6 584.7 368.6 581.9 365.6 577.9 361.6 569.9 357.6 558.5 348.8 523.7 349.3 492.7 351.6 477.2 354.6 470.1 357.6 466.4 361.6 463.6 368.4 461.7 390.6 461.4 400.2 462.7 406.8 466.7 411.6 474.7 411.6 539.1 405.6 561 399.6 575.9 393.6 583.5 390.6 585 385.6 585.7ZM100.6 634.7 76.6 634.7 76.6 589.1 128.6 589.5 137.6 590.4 141.4 591.7 142.4 594.7 140.9 597.7 136.6 598.8 124 599.7 138.6 601.1 143.6 603.3 144 607.7 142.6 609.7 132.1 611.7 131 612.7 141.8 613.7 146.6 615.7 147.6 618.7 147.6 626.7 146.2 631.7 142.6 633.1 134.6 634.1 100.6 634.7Z" fill="#0000e0" fill-rule="evenodd"/>
<path d="M392.6 404.8 381.6 404.4 378.3 402.7 377.4 400.7 398.6 400.7 396.6 403.5 392.6 404.8ZM389.6 583.7 374.3 583.7 370.1 581.7 366.6 577.9 362.6 570.4 358.6 559.5 349.6 523.9 350 495.7 350.6 487.3 352.6 477.6 354.6 472.6 357.6 468.4 361 465.7 366.2 463.7 389.6 462.9 400.6 464.6 404.5 466.7 407.6 469.8 411.6 478.2 411.6 536 405.6 558.9 400.6 572.1 395.6 580.1 389.6 583.7ZM124.6 598.7 76.6 599.1 76.6 589.8 123.6 590.3 130.6 591 134.5 592.7 135 594.7 134.1 596.7 124.6 598.7ZM121.6 611.8 76.6 612.4 76.6 599.9 126.6 600.4 136.8 601.7 140 603.7 140.2 607.7 138.5 609.7 121.6 611.8ZM124.6 633.7 76.6 634 76.6 613 126.6 613.4 135.6 614.2 140.5 615.7 141.9 619.7 141.9 627.7 141.1 630.7 136.7 632.7 124.6 633.7Z" fill="#0000f7" fill-rule="evenodd"/>
<path d="M393.6 402.8 384.6 403.4 382.2 402.7 380.4 400.7 395.6 400.7 393.6 402.8ZM383.6 568.7 379.6 568.2 376.6 565.9 373.1 560.7 370.4 553.7 366.1 532.7 364.6 509.7 365.1 497.7 366.1 492.7 368.5 487.7 371.6 485.1 382.6 481.2 389.6 483.4 395.6 483.2 399.5 485.7 403 493.7 404.2 505.7 403 529.7 398.8 548.7 391.5 562.7 387.6 566.8 383.6 568.7ZM102.6 597.7 76.6 597.8 76.6 591.2 113.3 591.7 119.3 592.7 121.1 594.7 117.9 596.7 102.6 597.7ZM128.6 610.8 76.6 611.7 76.6 600.3 120.6 600.7 135 602.7 136.4 604.7 135.8 608.7 128.6 610.8ZM121.6 632.7 76.6 633.1 76.6 613.9 121.6 614.4 128.6 615 133.5 616.7 134.7 620.7 134 629.7 130.6 631.7 121.6 632.7Z" fill="#000fff" fill-rule="evenodd"/>
<path d="M383.6 566.8 379.6 566.2 376.6 563.8 371.3 553.7 366.9 532.7 365.2 509.7 366 496.7 368.7 488.7 371.6 485.9 382.6 482 389.6 484.1 395.6 484.1 398.6 486 402.1 493.7 403.4 506.7 402.1 529.7 398.4 546.7 391.3 560.7 387.6 564.8 383.6 566.8ZM121.6 610.7 76.6 611.2 76.6 600.7 120.6 601.3 127.6 602 131.9 603.7 132.5 606.7 131.5 608.7 121.6 610.7ZM110.6 630.7 76.6 631.3 76.6 615.7 106.6 616.1 117.6 617.7 119.5 620.7 119.1 627.7 116.6 629.7 110.6 630.7Z" fill="#0026ff" fill-rule="evenodd"/>
<path d="M384.6 564.8 380.6 564.9 377.6 563 374.6 559.2 372.1 553.7 367.9 535.7 365.7 512.7 366.2 498.7 368.7 489.7 371.6 486.6 382.6 482.4 389.6 484.6 395.6 484.9 398.2 486.7 401.4 493.7 402.8 505.7 401.8 526.7 398.2 544.7 391.6 558.4 388 562.7 384.6 564.8ZM100.6 610.7 76.6 610.8 76.6 601.3 116.9 601.7 124.8 602.7 127.5 604.7 127.3 607.7 122.9 609.7 100.6 610.7Z" fill="#003dff" fill-rule="evenodd"/>
<path d="M385.6 562.8 381.6 563.6 378.6 562.3 375.6 559.1 372.8 553.7 368.2 534.7 366.1 513.7 366.5 499.7 369.3 489.7 372.5 486.7 382.6 482.8 388.6 484.8 394.6 485.2 397.6 487 400.7 493.7 402.2 504.7 401.3 525.7 398.1 542.7 392.3 555.7 388.6 560.5 385.6 562.8ZM110.6 609.7 76.6 610.1 76.6 601.9 112.6 602.5 118.6 603.4 120.9 604.7 121.1 606.7 118.6 608.7 110.6 609.7Z" fill="#0054ff" fill-rule="evenodd"/>
<path d="M384.6 561.9 380.6 562 377.6 560.1 374.6 556 372.3 550.7 368.2 531.7 366.5 511.7 367 498.7 369.2 490.7 372.6 487.1 382.6 483.1 388.6 485.1 394.6 485.8 397.4 487.7 400.4 494.7 401.7 505.7 400.8 525.7 397.4 542.7 391.3 555.7 387.6 560.1 384.6 561.9ZM91.6 608.7 76.6 608.8 76.6 603.2 101 603.7 106.6 604.7 107.9 605.7 107.6 606.7 105.3 607.7 91.6 608.7Z" fill="#006bff" fill-rule="evenodd"/>
<path d="M383.6 561 380.6 560.8 377.6 558.8 374.6 554.6 372.2 548.7 368.1 528.7 366.8 509.7 367.4 498.7 369.7 490.7 372.6 487.6 382.6 483.4 389.6 485.7 394.6 486.3 397.5 488.7 400.2 495.7 401.3 506.7 400.2 526.7 396.8 542.7 390.6 555.3 387.6 558.8 383.6 561Z" fill="#0081ff" fill-rule="evenodd"/>
<path d="M383.6 559.9 380.6 559.6 377.6 557.6 374.6 553.3 372.4 547.7 368.3 527.7 367.1 510.7 367.6 499.7 370.1 490.7 373.2 487.7 382.6 483.7 394.3 486.7 396.9 488.7 399.7 495.7 400.8 506.7 400 524.7 396.9 540.7 390.6 554.1 386.6 558.4 383.6 559.9Z" fill="#0098ff" fill-rule="evenodd"/>
<path d="M383.6 558.8 380.6 558.6 377.6 556.5 372.6 547 368.6 527.2 367.4 510.7 368.4 496.7 370.5 490.7 373.6 487.9 379.6 484.7 382.6 484.1 393.6 487 396.6 489.2 399.6 497.3 400.4 506.7 399.7 523.7 396.6 540 390.6 552.9 387.3 556.7 383.6 558.8Z" fill="#00afff" fill-rule="evenodd"/>
<path d="M384.6 556.8 381.6 557.2 378.6 555.7 373.6 547.8 369.7 531.7 367.9 511.7 368.6 498.1 370.6 491.6 373.2 488.7 379.6 485.1 382.6 484.4 393.6 487.6 396.1 489.7 398.6 495.7 399.8 505.7 399 523.7 396.2 538.7 390.6 551 387.6 554.8 384.6 556.8Z" fill="#00c6ff" fill-rule="evenodd"/>
<path d="M384.6 555.2 381.6 555.5 378.6 554 373.6 545.7 369.9 529.7 368.3 511.7 368.8 499.7 371.2 491.7 374.2 488.7 382.6 484.8 392.6 488 395.6 490.2 398.2 496.7 399.2 505.7 398.3 523.7 395.7 537.7 390.6 549.1 387.6 553 384.6 555.2Z" fill="#00ddff" fill-rule="evenodd"/>
<path d="M383.6 553.9 380.6 553.7 377.9 551.7 373.6 543.6 370.1 527.7 368.7 509.7 369.3 499.7 371.6 492 378.6 486.5 382.6 485.2 392.6 488.6 395.1 490.7 397.5 496.7 398.6 506.7 397.7 523.7 394.9 537.7 389.6 548.9 386.6 552.3 383.6 553.9Z" fill="#00f4ff" fill-rule="evenodd"/>
<path d="M384.6 552.1 381.6 552.5 378.6 550.9 374.3 543.7 370.9 529.7 369.1 511.7 369.5 500.7 371.7 492.7 374.6 489.5 379.6 486.3 382.6 485.5 392.6 489.3 394.6 491.1 396.9 496.7 398.1 505.7 397.3 522.7 394.8 535.7 390 546.7 384.6 552.1Z" fill="#0cfff3" fill-rule="evenodd"/>
<path d="M384.6 550.7 381.6 551.1 379.6 550.3 376.6 546.9 374.6 542.8 371.2 528.7 369.5 511.7 369.9 500.7 372.2 492.7 378.6 487.3 382.6 485.9 391.6 489.4 394.3 491.7 396.4 496.7 397.5 505.7 396.9 520.7 394.4 534.7 389.6 545.7 384.6 550.7Z" fill="#23ffdc" fill-rule="evenodd"/>
<path d="M383.6 549.8 380.6 549.5 378.6 548.1 374.5 540.7 371.1 525.7 369.8 509.7 370.3 500.7 372.2 493.7 377.6 488.4 382.6 486.2 391.6 490 393.6 491.7 396.1 497.7 397.1 506.7 396.2 522.7 393.8 534.7 389.3 544.7 386.6 548 383.6 549.8Z" fill="#3affc5" fill-rule="evenodd"/>
<path d="M384.6 548.1 381.6 548.6 379.6 547.7 375 540.7 371.8 527.7 370.2 511.7 370.7 500.7 372.6 493.7 378.6 488 382.6 486.5 391.6 490.6 393.6 492.6 395.6 497.7 396.6 505.7 396 519.7 393.8 532.7 389.6 542.8 384.6 548.1Z" fill="#50ffaf" fill-rule="evenodd"/>
<path d="M384.6 546.9 381.6 547.4 379.6 546.5 375.2 539.7 372 526.7 370.6 511.7 371 500.7 373 493.7 378.6 488.3 382.6 486.8 390.6 490.5 393 492.7 395.1 497.7 396.1 505.7 395.5 520.7 393.2 532.7 389.4 541.7 384.6 546.9Z" fill="#67ff98" fill-rule="evenodd"/>
<path d="M384.6 545.8 381.6 546.3 379.6 545.3 375.6 539.3 372.4 526.7 370.9 511.7 371.2 501.7 372.9 494.7 378.5 488.7 382.6 487.1 385.6 488 392.6 492.9 394.6 497.7 395.7 505.7 395.1 519.7 393 531.7 389.2 540.7 384.6 545.8Z" fill="#7eff81" fill-rule="evenodd"/>
<path d="M383.6 545.1 380.6 544.8 378.6 543.2 375.2 536.7 372.2 523.7 371.1 509.7 371.5 501.7 373.3 494.7 378.6 488.9 382.6 487.4 386.6 488.9 392.6 493.7 394.4 498.7 395.3 506.7 394.7 519.7 392.4 531.7 388.5 540.7 383.6 545.1Z" fill="#95ff6a" fill-rule="evenodd"/>
<path d="M383.6 544.1 379.6 543.1 375.6 536.6 372.7 524.7 371.4 509.7 371.9 500.7 373.7 494.7 378.6 489.2 382.6 487.6 386.6 489.2 392.1 493.7 394 498.7 394.9 506.7 394.2 520.7 391.9 531.7 387.7 540.7 383.6 544.1Z" fill="#acff53" fill-rule="evenodd"/>
<path d="M383.6 543.1 379.6 542.1 375.6 535.4 372.8 523.7 371.7 509.7 372.2 500.7 374 494.7 378.6 489.5 382.6 487.9 386.6 489.5 391.6 493.8 393.6 498.7 394.6 506.7 393.9 519.7 391.7 530.7 387.6 539.7 383.6 543.1Z" fill="#c3ff3c" fill-rule="evenodd"/>
<path d="M383.6 542.1 379.6 541.1 375.8 534.7 373.1 523.7 371.9 509.7 372.3 501.7 374.3 494.7 378.6 489.7 382.6 488.1 386.6 489.8 391.6 494.5 393.5 499.7 394.2 506.7 393.5 519.7 391.3 530.7 387.6 538.6 383.6 542.1Z" fill="#daff25" fill-rule="evenodd"/>
<path d="M384.6 540.7 380.6 540.9 376.6 535.6 373.8 525.7 372.2 511.7 372.5 502.7 374.2 495.7 378.6 490 382.6 488.3 386.6 490 391.3 494.7 393.1 499.7 393.8 505.7 393.4 517.7 391.7 527.7 388.6 535.9 384.6 540.7Z" fill="#f1ff0e" fill-rule="evenodd"/>
<path d="M384.6 539.8 380.6 540 376.6 534.5 373.9 524.7 372.5 511.7 372.7 502.7 374.4 495.7 378.6 490.2 382.6 488.6 386.6 490.3 390.9 494.7 392.7 499.7 393.5 505.7 393.1 517.7 391.3 527.7 388.1 535.7 384.6 539.8Z" fill="#fff600" fill-rule="evenodd"/>
<path d="M384.6 539 382.6 539.7 380.6 539.1 376.7 533.7 374 523.7 372.7 511.7 373 502.7 374.7 495.7 378.6 490.5 382.6 488.8 386.6 490.6 390.5 494.7 392.4 499.7 393.2 505.7 392.8 516.7 391.2 526.7 388.1 534.7 384.6 539Z" fill="#ffe000" fill-rule="evenodd"/>
<path d="M382.6 538.8 380.6 538.3 378.6 536.3 375.7 529.7 373.5 518.7 372.9 507.7 373.5 500.7 375.5 494.7 379.6 489.9 382.6 489 386.5 490.7 390.1 494.7 392.1 499.7 392.9 507.7 392.1 519.7 390.2 528.7 386.6 536.2 382.6 538.8Z" fill="#ffc900" fill-rule="evenodd"/>
<path d="M383.6 537.8 381.6 537.9 379.6 536.7 376.6 531.5 374.2 521.7 373.1 509.7 373.6 501.7 375.2 495.7 378.6 491 382.6 489.2 386.2 490.7 389.8 494.7 391.7 499.7 392.6 506.7 392.1 517.7 390.1 527.7 387 534.7 383.6 537.8Z" fill="#ffb200" fill-rule="evenodd"/>
<path d="M383.6 537.1 381.6 537.2 379.6 535.9 376.6 530.5 374.2 520.7 373.3 509.7 373.8 501.7 375.5 495.7 378.6 491.2 382.6 489.4 385.9 490.7 389.4 494.7 391.4 499.7 392.3 506.7 391.9 516.7 390 526.7 387.1 533.7 383.6 537.1Z" fill="#ff9b00" fill-rule="evenodd"/>
<path d="M384.6 535.8 382.6 536.5 380.6 535.9 377.6 532 375 523.7 373.6 511.4 373.8 503.7 375.3 496.7 378.6 491.4 382.6 489.6 385.6 490.7 389.2 494.7 391.1 499.7 392 505.7 391.7 515.7 390.2 524.7 387.6 532 384.6 535.8Z" fill="#ff8400" fill-rule="evenodd"/>
<path d="M382.6 535.8 379.6 534.3 376.3 527.7 374.4 518.7 373.8 507.7 374.4 500.7 376.4 494.7 379.7 490.7 382.6 489.8 386.5 491.7 388.9 494.7 390.8 499.7 391.8 507.7 391 518.7 389 527.7 385.9 533.7 382.6 535.8Z" fill="#ff6d00" fill-rule="evenodd"/>
<path d="M383.6 534.9 381.6 535 379.6 533.5 376.6 527.7 374.6 518.5 374.1 509.7 374.6 500.8 376.6 494.9 380.2 490.7 382.6 490.2 384.8 490.7 388.6 494.7 390.8 500.7 391.4 507.7 389.6 524.5 386.8 531.7 383.6 534.9Z" fill="#ff5600" fill-rule="evenodd"/>
<path d="M382.6 533.9 379.6 532.3 376.6 526.1 374.8 516.7 374.4 507.7 374.8 501.7 376.6 495.7 379.6 491.7 382.6 490.7 385.6 491.8 388.6 495.7 390.5 501.7 391 507.7 390.6 516.7 388.6 526.1 385.6 532.1 382.6 533.9Z" fill="#ff3f00" fill-rule="evenodd"/>
<path d="M383.6 532 380.6 531.6 377.6 526.8 375.6 518.9 374.8 509.7 375.2 502.7 376.6 497.3 379.6 492.8 382.6 491.7 385.6 492.9 387.8 495.7 389.7 500.7 390.5 506.7 388.6 523.7 386.6 528.8 383.6 532Z" fill="#ff2800" fill-rule="evenodd"/>
<path d="M383.6 530.3 380.6 529.8 378.1 525.7 376.2 518.7 375.4 509.7 375.6 503.6 377.2 497.7 379.6 494 382.6 492.8 385.6 494.2 387.6 496.9 390 506.7 388.4 521.7 386.6 526.8 383.6 530.3Z" fill="#ff1200" fill-rule="evenodd"/>
<path d="M383.6 528.4 380.6 527.9 378.6 524.7 376.7 517.7 375.9 509.7 376.2 503.7 377.6 498.5 379.6 495.4 382.6 494 384.6 494.7 387.1 497.7 389.3 506.7 387.6 521.7 385.6 526.4 383.6 528.4Z" fill="#fa0000" fill-rule="evenodd"/>
<path d="M383.6 526.3 380.6 525.7 378.8 522.7 376.6 509.7 378 499.7 379.8 496.7 382.6 495.4 384.6 496.2 386.6 498.6 388.6 506.7 387.5 518.7 385.6 524 383.6 526.3Z" fill="#e30000" fill-rule="evenodd"/>
<path d="M383.6 523.9 381.6 524.1 379.6 521.7 377.3 509.7 378.6 500.5 380.6 497.6 382.6 496.9 386 499.7 387.9 506.7 386.6 518.5 383.6 523.9Z" fill="#cc0000" fill-rule="evenodd"/>
<path d="M383.6 521.1 381.6 521.4 379.8 518.7 378.2 509.7 379.2 501.7 380.6 499.5 382.6 498.7 385.6 501.3 386.9 506.7 386.1 515.7 383.6 521.1Z" fill="#b50000" fill-rule="evenodd"/>
<path d="M382.6 518.2 380.3 515.7 379.2 507.7 380.3 502.7 382.6 500.9 384.7 502.7 385.9 507.7 384.7 515.7 382.6 518.2Z" fill="#9e0000" fill-rule="evenodd"/>
<g filter="url(#spk)"><rect x="76.6" y="400.7" width="335.9" height="294.5" fill="#000"/>
<path d="M129.6 609.7 76.6 610.7 76.6 601.3 122.6 601.8 132.3 602.7 136.3 604.7 136 607.7 129.6 609.7Z" fill="#4c4c4c" fill-rule="evenodd"/>
<path d="M123.6 609.7 76.6 610.3 76.6 601.6 120.6 602.1 127.7 602.7 132.9 604.7 132.5 607.7 123.6 609.7Z" fill="#575757" fill-rule="evenodd"/>
<path d="M113.6 609.7 76.6 610 76.6 602.1 121.5 602.7 127.3 603.7 129.5 605.7 128.5 607.7 125.9 608.7 113.6 609.7Z" fill="#616161" fill-rule="evenodd"/>
<path d="M118.6 608.7 76.6 609.5 76.6 602.5 113.6 602.9 121.6 603.7 124.9 605.7 123.5 607.7 118.6 608.7Z" fill="#6b6b6b" fill-rule="evenodd"/>
<path d="M103.6 608.7 76.6 608.9 76.6 603.1 111.6 603.7 118.3 605.7 115.8 607.7 103.6 608.7Z" fill="#757575" fill-rule="evenodd"/>
<path d="M76.6 607.7 76.6 604.4 103.3 605.7 98.6 607 76.6 607.7Z" fill="#7f7f7f" fill-rule="evenodd"/>
</g>
<rect x="96.2" y="542" width="1.6" height="151" fill="#000080"/>
<rect x="150.0" y="490" width="1.2" height="197" fill="#000080"/>
<rect x="177.2" y="474" width="1.2" height="213" fill="#000080"/>
<rect x="209.4" y="432" width="1.2" height="223" fill="#000080"/>
<rect x="212.4" y="660" width="1.2" height="30" fill="#000080"/>
<rect x="291.4" y="402" width="2.2" height="291" fill="#000070"/>
<rect x="307.4" y="402" width="2.2" height="291" fill="#000070"/>
<rect x="78.6" y="566.0" width="5.1" height="30" fill="url(#rimg)"/>
<rect x="83.7" y="554.4" width="8.8" height="20" fill="url(#rimg)"/>
<rect x="92.5" y="543.7" width="12.6" height="6" fill="url(#rimg)"/>
<rect x="105.1" y="532.0" width="11.7" height="6" fill="url(#rimo)"/>
<path d="M105.6 532.0v6" stroke="#000080" stroke-width="1"/>
<rect x="116.8" y="520.4" width="11.6" height="6" fill="url(#rimo)"/>
<path d="M117.3 520.4v6" stroke="#000080" stroke-width="1"/>
<rect x="128.4" y="510.7" width="10.7" height="6" fill="url(#rimo)"/>
<path d="M128.9 510.7v6" stroke="#000080" stroke-width="1"/>
<rect x="139.1" y="500.0" width="10.7" height="6" fill="url(#rimo)"/>
<path d="M139.6 500.0v6" stroke="#000080" stroke-width="1"/>
<rect x="149.8" y="489.3" width="10.7" height="6" fill="url(#rimo)"/>
<path d="M150.3 489.3v6" stroke="#000080" stroke-width="1"/>
<rect x="160.5" y="477.7" width="11.7" height="6" fill="url(#rimo)"/>
<path d="M161.0 477.7v6" stroke="#000080" stroke-width="1"/>
<rect x="172.2" y="465.0" width="10.7" height="6" fill="url(#rimo)"/>
<path d="M172.7 465.0v6" stroke="#000080" stroke-width="1"/>
<rect x="182.9" y="454.4" width="10.6" height="6" fill="url(#rimo)"/>
<path d="M183.4 454.4v6" stroke="#000080" stroke-width="1"/>
<rect x="193.5" y="441.7" width="11.7" height="6" fill="url(#rimo)"/>
<path d="M194.0 441.7v6" stroke="#000080" stroke-width="1"/>
<rect x="205.2" y="430.0" width="9.7" height="6" fill="url(#rimo)"/>
<path d="M205.7 430.0v6" stroke="#000080" stroke-width="1"/>
<rect x="214.9" y="417.4" width="11.7" height="6" fill="url(#rimo)"/>
<path d="M215.4 417.4v6" stroke="#000080" stroke-width="1"/>
<rect x="226.6" y="405.8" width="11.6" height="6" fill="url(#rimo)"/>
<path d="M227.1 405.8v6" stroke="#000080" stroke-width="1"/>
<rect x="238.2" y="402.7" width="11.0" height="6" fill="url(#rimo)"/>
<path d="M238.7 402.7v6" stroke="#000080" stroke-width="1"/>
<path d="M77.6 401.7 77.6 566.0 83.7 566.0 83.7 554.4 92.5 554.4 92.5 543.7 105.1 543.7 105.1 532.0 116.8 532.0 116.8 520.4 128.4 520.4 128.4 510.7 139.1 510.7 139.1 500.0 149.8 500.0 149.8 489.3 160.5 489.3 160.5 477.7 172.2 477.7 172.2 465.0 182.9 465.0 182.9 454.4 193.5 454.4 193.5 441.7 205.2 441.7 205.2 430.0 214.9 430.0 214.9 417.4 226.6 417.4 226.6 405.8 238.2 405.8 238.2 402.7 238.2 401.7Z" fill="#fff"/>
</g>
<path d="M131.4 402.7V693.2M187.2 402.7V693.2M243.0 402.7V693.2M298.9 402.7V693.2M354.7 402.7V693.2M78.6 461.2H410.5M78.6 519.2H410.5M78.6 577.2H410.5M78.6 635.2H410.5" stroke="#000" stroke-opacity="0.12" stroke-width="1" fill="none"/>
<path d="M131.4 402.7v3M131.4 693.2v-3M187.2 402.7v3M187.2 693.2v-3M243.0 402.7v3M243.0 693.2v-3M298.9 402.7v3M298.9 693.2v-3M354.7 402.7v3M354.7 693.2v-3M78.6 461.2h3M410.5 461.2h-3M78.6 519.2h3M410.5 519.2h-3M78.6 577.2h3M410.5 577.2h-3M78.6 635.2h3M410.5 635.2h-3" stroke="#333" stroke-width="1" fill="none"/>
<rect x="78.6" y="402.7" width="331.9" height="290.5" fill="none" stroke="#3a3a3a" stroke-width="1.1"/>
<text transform="translate(34.70,412.83) scale(0.1766,0.1690)" font-size="100" fill="#1a1a1a" xml:space="preserve"><tspan font-family="Liberation Sans" font-weight="400">500</tspan></text>
<text transform="translate(34.70,470.03) scale(0.1766,0.1690)" font-size="100" fill="#1a1a1a" xml:space="preserve"><tspan font-family="Liberation Sans" font-weight="400">450</tspan></text>
<text transform="translate(34.70,527.23) scale(0.1766,0.1690)" font-size="100" fill="#1a1a1a" xml:space="preserve"><tspan font-family="Liberation Sans" font-weight="400">400</tspan></text>
<text transform="translate(34.70,581.33) scale(0.1766,0.1690)" font-size="100" fill="#1a1a1a" xml:space="preserve"><tspan font-family="Liberation Sans" font-weight="400">350</tspan></text>
<text transform="translate(34.70,637.43) scale(0.1766,0.1690)" font-size="100" fill="#1a1a1a" xml:space="preserve"><tspan font-family="Liberation Sans" font-weight="400">300</tspan></text>
<text transform="translate(34.70,696.73) scale(0.1766,0.1690)" font-size="100" fill="#1a1a1a" xml:space="preserve"><tspan font-family="Liberation Sans" font-weight="400">250</tspan></text>
<text transform="translate(62.70,713.24) scale(0.1772,0.1648)" font-size="100" fill="#1a1a1a" xml:space="preserve"><tspan font-family="Liberation Sans" font-weight="400">400</tspan></text>
<text transform="translate(120.00,713.24) scale(0.1772,0.1648)" font-size="100" fill="#1a1a1a" xml:space="preserve"><tspan font-family="Liberation Sans" font-weight="400">450</tspan></text>
<text transform="translate(172.60,713.24) scale(0.1772,0.1648)" font-size="100" fill="#1a1a1a" xml:space="preserve"><tspan font-family="Liberation Sans" font-weight="400">500</tspan></text>
<text transform="translate(231.20,713.24) scale(0.1772,0.1648)" font-size="100" fill="#1a1a1a" xml:space="preserve"><tspan font-family="Liberation Sans" font-weight="400">550</tspan></text>
<text transform="translate(283.20,713.24) scale(0.1772,0.1648)" font-size="100" fill="#1a1a1a" xml:space="preserve"><tspan font-family="Liberation Sans" font-weight="400">600</tspan></text>
<text transform="translate(338.20,713.24) scale(0.1772,0.1648)" font-size="100" fill="#1a1a1a" xml:space="preserve"><tspan font-family="Liberation Sans" font-weight="400">650</tspan></text>
<text transform="translate(396.20,713.24) scale(0.1772,0.1648)" font-size="100" fill="#1a1a1a" xml:space="preserve"><tspan font-family="Liberation Sans" font-weight="400">700</tspan></text>
<text transform="translate(139.80,732.41) scale(0.1653,0.1711)" font-size="100" fill="#1a1a1a" xml:space="preserve"><tspan font-family="Liberation Sans" font-weight="700">Emission Wavelength</tspan><tspan font-family="Liberation Sans" font-weight="400"> (nm)</tspan></text>
<text transform="translate(19.15,654.20) rotate(-90) scale(0.1652,0.1262)" font-size="100" fill="#1a1a1a" xml:space="preserve"><tspan font-family="Liberation Sans" font-weight="700">Excitation Wavelength</tspan></text>
<text transform="translate(21.95,463.00) rotate(-90) scale(0.1723,0.1455)" font-size="100" fill="#1a1a1a" xml:space="preserve"><tspan font-family="Liberation Sans" font-weight="400">(nm)</tspan></text>
<text transform="translate(199.70,769.04) scale(0.2032,0.1747)" font-size="100" fill="#1a1a1a" xml:space="preserve"><tspan font-family="Liberation Serif" font-weight="400">(</tspan><tspan font-family="Liberation Serif" font-weight="700">a5</tspan><tspan font-family="Liberation Serif" font-weight="400">)</tspan></text>
<text transform="translate(93.90,437.50) scale(0.1641,0.2000)" font-size="100" fill="#000" xml:space="preserve"><tspan font-family="Liberation Sans" font-weight="700">S5</tspan></text>
<g clip-path="url(#cb5)">
<rect x="579.6" y="395.6" width="345.7" height="297.4" fill="#fff"/>
<g filter="url(#tex)"><rect x="577.6" y="393.6" width="349.7" height="301.4" fill="#000"/>
<path d="M926.6 694.6 577.6 694.6 577.6 393.6 926.6 393.6 926.6 694.6Z" fill="#4c4c4c" fill-rule="evenodd"/>
<path d="M926.6 694.6 577.6 694.6 577.6 393.6 926.6 393.6 926.6 694.6Z" fill="#545454" fill-rule="evenodd"/>
<path d="M926.6 694.6 577.6 694.6 577.6 393.6 926.6 393.6 926.6 694.6Z" fill="#5c5c5c" fill-rule="evenodd"/>
<path d="M926.6 694.6 577.6 694.6 577.6 393.6 926.6 393.6 926.6 694.6Z" fill="#636363" fill-rule="evenodd"/>
<path d="M926.6 694.6 577.6 694.6 577.6 393.6 926.6 393.6 926.6 694.6Z" fill="#6b6b6b" fill-rule="evenodd"/>
<path d="M926.6 694.6 577.6 694.6 577.6 393.6 926.6 393.6 926.6 694.6Z" fill="#737373" fill-rule="evenodd"/>
<path d="M926.6 694.6 577.6 694.6 577.6 393.6 926.6 393.6 926.6 694.6Z" fill="#7a7a7a" fill-rule="evenodd"/>
<path d="M926.6 694.6 577.6 694.6 577.6 393.6 926.6 393.6 926.6 694.6ZM897.5 691.6 906.6 689.9 913.6 686.3 917.7 681.6 920.8 673.6 922.9 643.6 921.6 590.6 917.8 578.6 910.6 571.8 897.6 568.4 879.6 568.8 871.6 570.8 865.6 574.4 861.6 579.6 858.9 587.6 857 620.6 858.4 669.6 861.7 680.6 868.6 687.8 880.6 691.4 897.5 691.6ZM623.6 688.6 643.6 687.2 652.8 682.6 655.7 677.6 656.8 669.6 655.8 662.6 652.6 657.2 642.6 652.6 623.6 651.4 602.6 652.6 592.6 657 589.6 661.6 588.2 669.6 589.3 677.6 592.6 683 602.6 687.4 623.6 688.6Z" fill="#828282" fill-rule="evenodd"/>
<path d="M839.6 694.6 676.7 694.6 680.3 678.6 679.5 654.6 675.1 642.6 666.6 634.4 659.6 631.4 650.6 629.8 616.6 629 591.6 630.1 577.6 634.9 577.6 393.6 926.6 393.6 926.6 550.8 917.6 547.1 905.6 545 870.6 545.4 853.6 550.7 846.6 556 841.3 562.6 835.7 578.6 834 605.6 834.5 670.6 836.1 683.6 839.6 694.6Z" fill="#8a8a8a" fill-rule="evenodd"/>
</g>
<g filter="url(#btex)"><rect x="577.6" y="393.6" width="349.7" height="301.4" fill="#000"/>
<path d="M853.6 694.6 829.7 694.6 823.6 692.1 817.6 683.7 815.1 668.6 815.3 458.6 817.2 447.6 820.6 440.6 826.6 436.3 835.6 434.6 852.6 435.1 861.4 438.6 866.5 446.6 868.8 460.6 868.9 668.6 867.5 679.6 864.6 687.6 859.7 692.6 853.6 694.6ZM794.6 694.6 684.6 694.6 677.6 689.7 674.4 682.6 673.5 666.6 675.2 654.6 678.2 649.6 682.6 646.3 698.6 642.7 768.6 642.1 793.6 644.8 799.6 647.6 803.6 652.1 805.8 658.6 806.6 667.6 806.1 679.6 804.3 686.6 800.6 691.6 794.6 694.6Z" fill="#4c4c4c" fill-rule="evenodd"/>
<path d="M848.6 692.7 832.6 692.4 823.5 688.6 818.5 679.6 816.4 661.6 816.9 459.6 818.7 449.6 822.6 442.3 828.6 438.6 838.6 437.1 853.6 438.1 861.6 442.5 865.8 451.6 867.6 467.6 867.2 668.6 865.5 679.6 862.3 686.6 857.5 690.6 848.6 692.7ZM788.6 694.6 691.2 694.6 687.6 693.6 680.8 689.6 677.1 682.6 675.9 667.6 677.6 655.6 680.6 650.6 684.7 647.6 700.6 644.1 768.6 643.6 792.6 646.5 798.6 649.9 802.4 655.6 803.9 664.6 803.9 676.6 802.6 683.6 800.1 688.6 795.6 692.2 788.6 694.6Z" fill="#545454" fill-rule="evenodd"/>
<path d="M849.6 689.6 833.6 689.5 824.6 685.6 819.9 676.6 818.1 660.6 818.6 461.7 820.4 451.6 823.6 445.5 829.6 441.5 838.6 440 851.6 440.7 859.6 444.6 863.8 452.6 865.9 468.6 865.6 665.9 864.1 676.6 861.1 683.6 856.6 687.6 849.6 689.6ZM773.6 694.6 706.2 694.6 688.4 691.6 682.7 687.6 679.5 680.6 678.6 666.6 680.6 655.8 683.4 651.6 688 648.6 703.6 645.6 768.6 645.2 782.6 646.2 791.6 648.4 797.5 652.6 800.6 659.6 801.4 672.6 799.7 683.6 796.4 688.6 791.6 691.6 773.6 694.6Z" fill="#5c5c5c" fill-rule="evenodd"/>
<path d="M844.6 686.7 831.6 685.4 827.6 683.5 824.1 679.6 820.7 667.6 819.7 645.6 820.6 463.5 822.6 453.6 826.2 447.6 831.6 444.5 841.6 443.3 853.6 445 860 450.6 863.3 462.6 864.3 484.6 863.5 665.6 861.7 675.6 858.5 681.6 853.6 685 844.6 686.7ZM775.6 692.6 714.6 693.1 691.6 690.2 685.9 686.6 682.6 680.3 681.6 667.6 683.3 657.6 685.7 653.6 689.8 650.6 704.6 647.4 764.6 646.9 787.8 649.6 793.6 652.9 797.1 658.6 798.5 669.6 797.3 680.6 794.9 685.6 790.6 689.2 775.6 692.6Z" fill="#636363" fill-rule="evenodd"/>
<path d="M849.6 681.7 836.6 682.1 828.5 678.6 824 669.6 822.3 653.6 822.8 468.6 824.6 458.1 827.6 452.3 832.6 448.9 840.6 447.5 850.6 448.6 856.6 452.6 860 460.6 861.6 475.6 861.5 657.6 858.3 674.6 854.6 679.4 849.6 681.7ZM772.6 690.6 717.6 691.1 695.6 688.6 689.6 685.2 686.3 679.6 685.1 669.6 686.5 659.6 688.9 655.6 692.8 652.6 706.6 649.5 762.6 648.9 784.9 651.6 790.6 655 793.8 660.6 794.9 670.6 793.7 679.6 791 684.6 786.8 687.6 772.6 690.6Z" fill="#6b6b6b" fill-rule="evenodd"/>
<path d="M847.6 675.9 836.6 675.9 830.1 671.6 826.8 662.6 825.5 645.6 826 473.6 827.6 463.9 830.6 457.8 835.1 454.6 841.6 453.4 849.6 454.9 854.6 459.6 857.4 468.6 858.5 484.6 858.2 652.6 855.5 668.6 852.6 673.1 847.6 675.9ZM755.6 688.6 715.6 688.3 698.3 685.6 693.6 682.6 690.6 677.3 689.7 668.6 691.4 660.6 694.6 656.5 700.6 653.6 719.6 651.5 769.6 652 779.6 653.7 786.6 657.6 789.4 662.6 790.3 670.6 789.3 677.6 786.4 682.6 776.6 687 755.6 688.6Z" fill="#737373" fill-rule="evenodd"/>
<path d="M844.6 663.7 838.6 663.3 834.5 658.6 832.3 648.6 831.4 630.6 831.8 486.6 834.6 471.3 837.6 467.3 841.6 465.9 846.7 467.6 850.3 473.6 852.6 499.1 852.3 640.6 850.2 656.6 847.6 661.6 844.6 663.7ZM757.6 684.6 722.6 684.6 706.5 682.6 701.6 680.4 698.2 676.6 696.8 671.6 697.4 665.6 699.4 661.6 703.4 658.6 718.7 655.6 762.6 655.7 773.6 657.4 779.6 660.6 782.3 664.6 783.2 669.6 780.4 678.6 773.5 682.6 757.6 684.6Z" fill="#7a7a7a" fill-rule="evenodd"/>
<path d="M742.6 674.6 727.2 673.6 722.3 671.6 721.5 669.6 726.4 666.6 739.6 665.4 753.6 666.6 758.6 669.6 757.7 671.6 754.6 673.1 742.6 674.6Z" fill="#828282" fill-rule="evenodd"/>
</g>
<path d="M720.6 654.6 704.6 654.3 692.6 652.2 683.6 648.2 675.6 641.8 577.6 641.4 577.6 398.6 724.6 398.2 727.1 397.6 730.8 393.6 889.5 393.6 893.1 397.6 894.2 402.6 894.3 423.6 892.6 428.6 886.6 431.6 873.6 433.5 819.1 434.6 821.2 445.6 815.6 472.6 813.3 463.6 812.6 462.4 810.6 462.1 807.6 463.6 804.6 469.3 800.6 471.4 799.2 473.6 798.4 479.6 800.3 489.6 806.6 495.8 812.2 507.6 815.2 521.6 818.1 546.6 818.1 560.6 815.6 584.6 814.6 586.5 813.6 585.7 813.2 586.6 806.6 605.6 806.3 622.6 808.6 636.6 808.1 639.6 806.6 641.1 803.6 641.6 763.6 641.9 751.6 648.1 742.6 651.4 731.6 653.8 720.6 654.6ZM906.6 594.6 889.6 594.7 881.6 592.3 876 585.6 872.1 571.6 870.3 552.6 869.7 524.6 869.9 493.6 871.1 478.6 873.3 468.6 876.6 461.7 881.6 457.2 887.6 455.5 906.6 455.3 911.6 456.1 915.6 457.9 919.3 461.6 922 466.6 925 479.6 926.2 495.6 926.3 525.6 925.4 557.6 924 571.6 921.9 580.6 918.2 588.6 913.6 592.8 906.6 594.6ZM834.6 491.4 833.2 489.6 832.1 484.6 832.4 479.6 833.6 476.8 834.6 477.6 835.8 483.6 835.6 489.6 834.6 491.4ZM817.6 622.7 816.4 620.6 815.8 614.6 817.6 599.6 818.6 599.7 819.6 602.3 820.7 611.6 819.7 619.6 817.6 622.7Z" fill="#0000b2" fill-rule="evenodd"/>
<path d="M719.6 651.6 704.6 651.3 693.6 649.3 685.6 646 677.6 639.8 577.6 639.3 577.6 400.7 728.6 400.2 730.4 399.6 735.8 393.6 880.7 393.6 882.6 394.6 885.6 397.7 887 403.6 887.1 423.6 884.9 428.6 878.6 431.1 866.6 432.6 811.1 433.6 811.9 448.6 810.8 456.6 807.6 460 804.4 465.6 799.6 468.1 797.6 471.6 796.4 479.6 797 487.6 799.6 494.2 801.6 494.7 804.6 497.5 811 507.6 817.8 549.6 817.7 558.6 815.6 577.7 814.6 581.1 812.6 580.3 809.4 592.6 805.3 602.6 805.4 621.6 807.2 635.6 806.6 638.4 802.6 639.6 760.6 639.8 750.6 645.1 740.6 648.8 730.6 650.8 719.6 651.6ZM907.6 593.6 889.6 593.7 881.6 591.3 878.6 588.5 875.6 583.2 872.4 570.6 870.9 554.6 870.1 524.6 870.3 495.6 871.4 479.6 873.6 469.6 876.6 463 881.6 458.2 887.6 456.4 906.6 456.3 915 458.6 918.4 461.6 920.9 465.6 924.6 480.1 925.8 496.6 926 524.6 923.8 569.6 921.7 579.6 918.6 586.8 913.6 591.8 907.6 593.6ZM817.6 618.6 817 611.6 817.6 607.5 818.6 606.5 819.5 613.6 818.6 618.2 817.6 618.6Z" fill="#0000c9" fill-rule="evenodd"/>
<path d="M729.6 648.7 710.6 649.4 697.6 648 686.6 644.1 678.6 637.8 587.6 637.7 577.6 637 577.6 403 589.6 402.3 731.6 402.2 739.7 393.6 870.4 393.6 875.7 395.6 878.8 398.6 880.3 404.6 880.3 422.6 878.5 427.6 872.6 430.1 860.6 431.6 809.6 432.2 808.9 432.6 810.1 444.6 809.6 452.1 803.9 462.6 798.6 465.6 796.6 469.6 795.1 480.6 796.4 493.6 798.4 497.6 800.6 497.4 803.6 499.7 807.9 506.6 810.6 509.3 813.8 533.6 816.6 543.1 817.3 550.6 815.6 573.1 814.6 576.5 813.6 576.5 812.6 573.3 808.1 591.6 802.7 601.6 805.6 636.1 801.6 637.5 759.6 637.8 744.6 645.1 729.6 648.7ZM907.6 592.7 889.6 592.8 882.2 590.6 876.6 584 872.6 569.3 870.4 525.6 871.6 482 873.6 471.4 876.6 464.3 881.1 459.6 886.6 457.5 905.6 457.2 913.6 458.9 916.6 460.9 919.6 464.6 923.6 476.6 925.2 493.6 925.6 524.6 923.6 567.9 921.6 578.1 918.6 585.5 913.8 590.6 907.6 592.7Z" fill="#0000e0" fill-rule="evenodd"/>
<path d="M720.6 647.6 705.6 647.4 694.6 645.5 685.6 641.5 677.6 635 587.6 635 581.2 634.6 577.6 633.2 577.6 406.8 580.6 405.5 588.6 405 733.6 405 742.9 393.6 851.3 393.6 862.6 395.2 868.6 397.4 871.9 401.6 872.8 408.6 872.6 422.7 871.7 425.6 869.6 427.6 863.6 429.4 855.6 430.2 800.6 431 798.2 431.6 797.9 432.6 799.6 435.6 805.6 433.9 807 437.6 807.4 443.6 803.6 458.5 801.6 460.4 797.6 461.6 795.2 467.6 793.8 479.6 795.1 495.6 796.6 500.8 797.6 501.2 800.6 500.1 802.6 501.4 807.6 509.6 810 511.6 813.2 537.6 815.6 543.2 816.7 551.6 815.6 568 814.6 571.3 813.6 571.1 812.6 566.7 808.9 584.6 804.6 595.6 801.6 599.3 799.6 600 795.1 595.6 793.6 592.1 793.1 592.6 794.4 596.6 798.8 603.6 803.6 627.5 803.6 633.4 797.6 634.6 760.6 635 749.6 641.1 741.6 644.3 731.6 646.7 720.6 647.6ZM905.6 591.6 889.6 591.5 885 590.6 881.3 588.6 878.6 585.7 875.6 579.6 872.6 565 871.1 524.6 871.4 493.6 872.6 479 874.6 470.6 877.6 464.5 881.7 460.6 887.9 458.6 906.6 458.5 914.3 460.6 917.6 463.4 920.6 468.5 923.6 480.3 924.7 493.6 924.9 525.6 924.6 546.1 922.6 570.7 920.6 579 916.6 586.7 911.6 590.4 905.6 591.6Z" fill="#0000f7" fill-rule="evenodd"/>
<path d="M728.6 645.6 705.6 645.9 696.6 644.5 689.6 642.1 684.6 639.3 679.4 634.6 674.9 628.6 671.7 622.6 671.6 620.9 598.6 620.8 593.6 620.2 590.6 618.2 589.4 613.6 589.1 602.6 589.1 434.6 590.2 422.6 593.6 419.8 600.6 419.2 731.6 419.1 733 412.6 736.1 405.6 745.8 393.6 848.3 393.6 846.6 396.8 856.6 399.2 858.8 400.6 860.8 403.6 861.7 419.6 860.9 423.6 859.3 425.6 853.6 427.6 843.6 428.6 800.6 429.2 785.6 433.6 781.6 441.2 782.2 447.6 786.6 450.9 788.2 455.6 787.7 482.6 791.7 511.6 792.6 511.7 793.8 508.6 797.6 503.7 799.6 502.4 801.6 503 804.7 506.6 808 513.6 811 526.6 812.3 541.6 812 560.6 809.3 578.6 805.5 590.6 801.6 596.5 799.6 597.3 798.6 596.7 793.6 588.5 789.7 577.6 789.6 573.6 787.6 574.7 784.2 574.6 783.4 576.6 783.4 582.6 786.7 609.6 785.4 617.6 783.6 619.1 779.6 618.9 775.6 620.4 771.6 620.6 762.8 630.6 749.6 639.4 739.6 643.4 728.6 645.6ZM907.6 584.8 891.6 585.1 884.6 583.5 881.6 581.2 878.6 576.6 875.6 565.5 873.6 527.5 874.6 486.9 876.6 476.7 878.6 472 882.3 467.6 887.6 465.3 904.6 464.9 912.2 466.6 917.6 472.3 920.6 481.6 922 497.6 922.3 524.6 920.6 564.2 918.6 573.4 915.6 579.7 912.6 582.8 907.6 584.8ZM778.8 523.6 780.2 520.6 780.7 513.6 779.2 500.6 779.1 484.6 776.6 477.4 775.6 477.5 774.1 481.6 777.5 498.6 777.6 513.8 778.8 523.6Z" fill="#000fff" fill-rule="evenodd"/>
<path d="M766.6 434.6 756.6 434.1 747.6 431.9 740.6 427.9 736.6 422.6 735.5 415.6 737.2 408.6 741.2 401.6 748.3 393.6 845.7 393.6 841.1 400.6 834.6 407.4 826.6 414 816.6 420.3 804.6 425.9 790.6 430.8 778.6 433.4 766.6 434.6ZM726.6 644.6 711.6 645 700.6 644.1 690.6 641.2 683.6 637.1 677.6 630.7 673.3 622.6 669.4 610.6 666.1 595.6 664.2 574.6 665.1 534.6 661.3 500.6 662.3 485.6 666.1 474.6 672.6 466.2 681.6 460.3 694.6 456.5 708.6 455.3 729.6 455.7 741.6 457.5 751.6 460.8 759.6 465.7 766.6 473.1 771.5 482.6 774.4 493.6 780 563.6 779.3 588.6 775.9 606.6 772.9 614.6 768.9 621.6 758.6 632.3 751.6 636.9 743.6 640.7 735.6 643.2 726.6 644.6ZM900.6 554.7 894.6 555.1 889.6 554.2 886.6 552.5 883.6 549.2 880.1 539.6 877.4 518.6 877.4 496.6 879.8 483.6 881.9 479.6 885.6 475.9 890.6 473.1 894.6 472.3 902.6 473.6 909.6 479 913.1 486.6 914.7 497.6 914.4 520.6 911.4 541.6 907.6 550.3 904.6 553.1 900.6 554.7ZM800.6 594.7 798.6 594.2 796.5 591.6 792.1 580.6 789.5 566.6 788.4 550.6 789 533.6 791.1 520.6 795 509.6 799.6 504.5 801.6 505.2 803.8 507.6 808.2 517.6 810.7 530.6 811.5 544.6 811 561.6 808.9 576.6 805.1 588.6 800.6 594.7ZM630.6 599.6 620.6 598.8 612.5 596.6 606.9 592.6 606.2 588.6 608.6 585.6 614.6 582.6 629.6 580.4 637.6 580.9 645.4 582.6 651.4 585.6 653.8 588.6 653.1 592.6 648.6 596.1 640.6 598.6 630.6 599.6Z" fill="#0026ff" fill-rule="evenodd"/>
<path d="M773.6 432.6 761.6 432.9 751.6 431.1 744.3 427.6 739.7 422.6 738.1 416.6 739.2 409.6 743.5 401.6 750.7 393.6 843.4 393.6 838.8 400.6 833.1 406.6 824.6 413.4 815.6 419.1 794.6 428.1 773.6 432.6ZM725.6 643.6 710.6 643.9 699.6 642.8 690.6 640.1 682.6 635 677.1 628.6 673.1 620.6 669.2 607.6 666.3 593.6 664.7 573.6 665.7 535.6 662.4 502.6 663.6 487.5 667.6 476.6 674.1 468.6 683.6 462.8 695.6 459.5 709.6 458.4 729.6 458.8 741.6 460.7 751.6 464.2 759.6 469.4 766 476.6 770.4 485.6 773.2 496.6 779 564.6 778.1 589.6 774.4 607.6 767.4 621.6 762.6 627.3 756.6 632.4 749.6 636.8 741.6 640.3 725.6 643.6ZM901.6 552.7 891.6 553 887.6 551.4 884.6 548.5 880.9 539.6 878.4 522.6 877.8 499.6 879.9 485.6 881.6 481.6 884.6 477.9 888.6 475.1 893.6 473.4 901.6 474.2 908.6 479.1 912.1 485.6 913.8 494.6 914.1 516.6 911.3 538.6 907.6 548.3 904.6 551.3 901.6 552.7ZM801.6 591.7 799.6 592.5 797.6 590.8 793.3 581.6 790.4 567.6 789.2 551.6 789.6 535.6 791.4 522.6 795.1 511.6 799.6 506.5 801.6 507.2 803.6 509.4 807.3 517.6 809.8 529.6 810.8 543.6 810.5 559.6 808.8 572.6 805.6 584.6 801.6 591.7ZM637.6 597.6 627.6 598.1 617.6 596.5 610.6 592.6 609.6 590.6 609.8 588.6 612.6 585.7 616.6 583.8 628.6 581.8 641.6 583.3 646.6 585.2 649.6 587.6 650.4 590.6 648.4 593.6 643.6 596.1 637.6 597.6Z" fill="#003dff" fill-rule="evenodd"/>
<path d="M778.6 430.6 766.6 431.6 756.6 430.5 748.4 427.6 742.7 422.6 740.5 416.6 741.4 409.6 745.7 401.6 752.8 393.6 841.2 393.6 837.4 399.6 832 405.6 816.6 417 797.6 425.8 778.6 430.6ZM725.6 642.7 710.6 643 699.6 641.9 690.6 639.1 683.6 634.8 678 628.6 674.2 621.6 670.1 609.6 667 595.6 665 573.6 666.1 535.6 663.4 504.6 664.6 489.6 668.2 479.6 674.6 471.4 683.6 465.7 695.6 462.3 709.6 461.1 728.6 461.5 740.6 463.3 750.6 466.8 758.6 471.9 764.6 478.6 769.2 487.6 772.1 498.6 778 563.6 777.3 588.6 774 605.6 770.9 613.6 766.9 620.6 756.6 631.2 748.6 636.2 741.6 639.3 725.6 642.7ZM899.6 551.6 890.6 551.2 887.6 549.8 884.6 546.6 881.1 537.6 878.6 517.6 878.5 497.6 880.9 484.6 883.2 480.6 886.6 477.3 890.6 475 894.6 474.2 901.6 475.1 908.6 480.3 911.8 486.6 913.4 496.6 913.3 519.6 910.4 539.6 906.6 547.7 903.6 550.3 899.6 551.6ZM800.6 590.2 798.6 589.6 796.6 587 793 577.6 790.8 565.6 789.8 550.6 790.2 535.6 792.2 522.6 795.6 512.9 799.6 508.3 801.6 509 803.6 511.5 807 519.6 809.4 531.6 810.2 545.6 809.8 559.6 807.9 573.6 804.6 584.6 800.6 590.2ZM631.6 596.6 624.6 596.3 617.9 594.6 613.8 591.6 613.7 588.6 615.6 586.6 619.6 584.8 629.6 583.3 639.8 584.6 644.4 586.6 646.3 588.6 646.2 591.6 643.6 593.9 638.6 595.7 631.6 596.6Z" fill="#0054ff" fill-rule="evenodd"/>
<path d="M776.6 429.6 765.6 430.1 756.6 428.8 749 425.6 744.6 421.2 742.8 415.6 743.9 408.6 747.7 401.6 754.9 393.6 839.2 393.6 835.5 399.6 830 405.6 814.6 416.8 795.6 425.3 776.6 429.6ZM727.6 641.6 712.6 642.2 701.6 641.4 692.6 639 684.6 634.6 678.8 628.6 674.3 620.6 670.2 608.6 667.3 595.6 665.3 573.6 666.5 536.6 664.3 504.6 665.5 491.6 669.2 481.6 675.5 473.6 683.6 468.4 694.6 465 707.6 463.7 727.6 463.9 739.6 465.6 749.6 469 757.6 474 763.6 480.6 767.9 488.6 771 499.6 776.2 546.6 777.2 562.6 776.5 587.6 773.1 605.6 766.5 619.6 756.6 630 742.6 638 727.6 641.6ZM901.6 549.8 891.6 550.1 888.6 549 885.6 546.4 882 538.6 879.5 522.6 878.8 500.6 880.8 486.6 882.6 482.6 885.6 479 889.6 476.3 893.6 475.1 900.6 475.6 907.6 480.2 910.9 485.6 912.8 494.6 913.1 515.6 910.7 535.6 907.6 544.6 904.6 548.2 901.6 549.8ZM800.6 588.2 798.6 587.6 797.1 585.6 793.6 576.6 791.3 564.6 790.4 550.6 790.8 536.6 792.5 524.6 795.6 514.9 799.6 510 803.1 512.6 806.5 520.6 808.7 531.6 809.6 544.6 809.2 559.6 807.4 572.6 804.4 582.6 800.6 588.2ZM633.6 594.7 627.6 594.8 621.6 593.6 618.3 591.6 617.7 589.6 621 586.6 628.6 585.1 636.6 585.8 641.8 588.6 642.3 590.6 640.5 592.6 633.6 594.7Z" fill="#006bff" fill-rule="evenodd"/>
<path d="M774.6 428.6 764.6 428.6 756.6 427.1 750.6 424.3 746.3 419.6 744.9 413.6 746.2 407.6 750.3 400.6 756.8 393.6 837.3 393.6 833.6 399.6 828.1 405.6 812.6 416.6 793.6 424.8 774.6 428.6ZM728.6 640.7 715.6 641.4 702.6 640.7 692.6 638.2 685.6 634.4 679.6 628.7 675.3 621.6 671.2 610.6 668.1 598.6 666.2 586.6 665.6 574.6 666.8 538.6 665.1 508.6 666.1 494.6 669.6 484.2 675.6 476.2 683.6 470.8 694.6 467.3 707.6 465.9 726.6 466.1 738.6 467.7 748.6 471 756.6 475.9 762.6 482.3 767.1 490.6 769.9 500.6 776.3 560.6 775.9 585.6 772.8 603.6 766.8 617.6 757.6 628.2 744.6 636.3 736.6 639.1 728.6 640.7ZM900.6 548.8 891.6 548.9 888.6 547.7 885.6 544.9 882.1 536.6 879.7 520.6 879.3 499.6 881.3 486.6 883.3 482.6 886.6 479.1 890.6 476.6 894.6 475.7 901.6 476.7 907.6 481.1 911 487.6 912.4 495.6 912.6 515.6 910.1 535.6 906.6 544.6 903.6 547.5 900.6 548.8ZM800.6 586.2 799.6 586.3 797.6 584.3 794.1 575.6 791.9 564.6 791 550.6 791.4 536.6 792.9 525.6 795.8 516.6 799.6 511.7 801.6 512.5 803.2 514.6 806.4 522.6 808.3 532.6 809 545.6 808.6 559.6 806.9 571.6 803.9 581.6 800.6 586.2ZM634.6 591.7 627.6 592.2 624.6 591.1 623.9 589.6 627.6 587.7 632.6 587.8 636.1 589.6 634.6 591.7Z" fill="#0081ff" fill-rule="evenodd"/>
<path d="M780.6 426.7 769.6 427.6 760.6 426.6 753.6 423.9 748.8 419.6 747 413.6 748.1 407.6 752.1 400.6 758.7 393.6 835.4 393.6 832.5 398.6 827.3 404.6 814.6 414.2 797.6 422.3 780.6 426.7ZM721.6 640.6 708.6 640.6 698.6 639.3 689.6 636.1 683.6 632 678.6 626.4 674.4 618.6 670.4 606.6 667.3 592.6 665.8 574.6 667.2 536.6 665.8 508.6 667.4 493.6 671.6 483.7 677.6 476.9 686.6 471.7 698.6 468.7 712.6 467.9 730.6 468.5 741.6 470.6 750.6 474.2 758.6 480.2 764 487.6 768 497.6 770.4 509.6 775 549.6 775.7 567.6 774.8 589.6 770.8 607.6 763.8 620.6 758.6 626.3 752.6 631 745.6 635 737.6 638.1 721.6 640.6ZM900.6 547.7 891.6 547.7 888.6 546.5 885.6 543.6 882.4 535.6 880.1 520.6 879.7 500.6 881.5 487.6 883.6 483.1 886.6 479.8 890.6 477.3 894.6 476.3 901.6 477.4 907.2 481.6 910.2 486.6 912 495.6 912.1 518.6 909.8 534.6 906.6 543.3 903.6 546.3 900.6 547.7ZM800.6 584.4 799.6 584.5 797.6 582.4 794.5 574.6 792.4 563.6 791.5 550.6 791.8 537.6 793.3 526.6 796.2 517.6 799.6 513.4 802.6 515.5 805.7 522.6 807.7 532.6 808.5 544.6 808.2 557.6 806.7 569.6 803.8 579.6 800.6 584.4Z" fill="#0098ff" fill-rule="evenodd"/>
<path d="M780.6 425.6 770.6 426.3 761.6 425.3 754.8 422.6 750.7 418.6 749 412.6 750.3 406.6 753.8 400.6 760.5 393.6 833.6 393.6 826.5 403.6 813.6 413.6 797.6 421.2 780.6 425.6ZM726.6 639.6 709.6 639.9 699.6 638.8 692.3 636.6 685.3 632.6 678.6 625.6 674.6 618 670.6 606.3 667.6 592.9 666.1 569.6 667.5 536.6 666.5 507.6 667.6 497.3 670.6 488.3 676.6 480.1 684.7 474.6 694.6 471.3 708.6 469.9 726.6 470.1 737.6 471.5 747.2 474.6 755.3 479.6 761.6 486.4 765.6 494 768.6 504.6 773.7 543.6 774.9 561.6 774.6 585 770.7 605.6 763.6 619.6 754.6 628.7 742.6 635.6 726.6 639.6ZM900.6 546.6 891.6 546.7 886.6 543.6 882.6 534.3 880.5 520.6 880.1 501.6 881.6 488.9 883.6 484.1 886.5 480.6 891.4 477.6 894.6 477.1 900.6 477.6 906.6 481.7 909.7 486.6 911.6 495.6 911.7 518.6 909.6 533.4 906.6 541.9 904.3 544.6 900.6 546.6ZM799.6 582.6 796.6 578.4 794.2 570.6 792.5 559.6 792 547.6 794 526.6 796.6 518.6 799.6 514.9 802.6 517.2 805.6 524.8 807.3 534.6 808 547.6 807.4 560.6 805.6 571.6 802.6 580.1 799.6 582.6Z" fill="#00afff" fill-rule="evenodd"/>
<path d="M779.6 424.7 770.6 425.1 762.6 424.1 756.5 421.6 752.4 417.6 750.9 412.6 752.1 406.6 756.3 399.6 762.2 393.6 831.9 393.6 824.8 403.6 811.6 413.6 795.6 420.9 779.6 424.7ZM725.6 638.7 711.6 639 700.6 638 691.6 635.2 684.6 630.9 679.6 625.6 675 617.6 670.8 605.6 667.9 592.6 666.6 580.8 666.4 565.6 667.9 536.6 667.4 510.6 668.9 498.6 672.6 489.2 678.6 481.9 686.6 477 697.6 473.9 710.6 472.8 728.6 473.3 739.6 475.2 748.6 478.6 755.7 483.6 761.6 490.8 765.5 499.6 768.1 510.6 772.9 546.6 774 563.6 773.3 587.6 769.9 604.6 763.6 617.7 753.6 628.1 740.6 635.3 725.6 638.7ZM900.6 544.9 891.6 545 886.6 541.6 883.2 533.6 881 519.6 880.7 499.6 882.6 488 884.6 484 887.6 480.9 894.6 477.9 900.6 478.6 906.6 482.9 909.6 488.6 911.1 496.6 911.3 515.6 909 532.6 905.6 541.4 900.6 544.9ZM800.6 580.7 799.6 580.9 797.6 578.5 795.1 571.6 793.3 561.6 792.6 550.6 794.1 528.6 796.6 520.5 799.6 516.5 802.6 518.9 804.9 524.6 806.7 533.6 807.4 544.6 805.8 567.6 803.6 575.8 800.6 580.7Z" fill="#00c6ff" fill-rule="evenodd"/>
<path d="M779.6 423.6 770.6 423.9 763.6 422.9 758.1 420.6 754.1 416.6 752.8 411.6 754.2 405.6 758 399.6 763.9 393.6 830.1 393.6 827.4 398.6 823.1 403.6 811.3 412.6 795.6 419.9 779.6 423.6ZM725.6 637.6 711.6 638 701.6 637.1 692.6 634.5 685.6 630.5 679.6 624.3 675.3 616.6 671 604.6 668.3 592.6 666.9 579.6 666.7 563.6 668.4 536.6 668.5 511.6 670.1 500.6 673.6 491.9 679.6 484.7 687.6 479.8 697.6 477 709.6 475.9 727.6 476.2 738.6 478.1 747.6 481.5 754.9 486.6 760.6 493.6 764.6 502.6 767.1 513.6 771.9 546.6 773 563.6 772.3 587.6 768.7 604.6 762.3 617.6 752.6 627.5 740.6 634.2 725.6 637.6ZM898.6 543.7 890.6 542.9 886 538.6 883.3 530.6 881.3 515.6 881.3 498.6 883.1 488.6 887.6 482 890.6 480 894.6 478.9 900.6 479.6 906.6 484.3 909.5 490.6 910.7 499.6 910.5 517.6 908 533.6 904.6 540.6 901.6 542.9 898.6 543.7ZM800.6 579 799.6 579.1 798.2 577.6 795.6 571.1 793.8 561.6 793 550.6 794.5 529.6 796.6 522.3 799.6 518.1 801.9 519.6 804.6 525.9 806.9 544.6 805.4 566.6 803.3 574.6 800.6 579Z" fill="#00ddff" fill-rule="evenodd"/>
<path d="M778.6 422.7 770.6 422.7 763.6 421.4 758.3 418.6 755.3 414.6 754.7 409.6 756.3 404.6 760.5 398.6 765.6 393.6 828.4 393.6 825.8 398.6 821.5 403.6 809.6 412.5 794.6 419.2 778.6 422.7ZM725.6 636.6 711.6 637 701.6 636.1 692.6 633.5 685.6 629.4 680 623.6 675.9 616.6 672 606.6 668.8 593.6 667.2 580.6 667 563.6 668.9 536.6 669.3 514.6 670.9 503.6 674.4 494.6 679.6 488.1 687.6 482.9 697.6 479.9 709.6 478.8 727.6 479.1 737.6 480.8 746.6 484.1 753.6 488.9 759.6 496.2 763.6 505.2 766.3 516.6 770.9 546.6 772 563.6 771.4 586.6 768 603.6 761.7 616.6 752.6 626.2 740.6 633.1 725.6 636.6ZM900.6 541.6 892.6 542 887.6 539 884.5 532.6 882.1 518.6 881.8 500.6 883.5 489.6 887.6 483.1 890.6 480.9 894.6 479.8 900.6 480.6 905.6 484.3 908.5 489.6 910 497.6 910.2 514.6 908.2 529.6 905.6 537.3 903.6 539.9 900.6 541.6ZM800.6 577.2 798.6 576.3 795.9 569.6 793.5 550.6 794.9 530.6 796.9 523.6 799.6 519.6 802.1 521.6 804.4 527.6 806.5 544.6 805 565.6 802.8 573.6 800.6 577.2Z" fill="#00f4ff" fill-rule="evenodd"/>
<path d="M777.6 421.7 769.6 421.4 763.6 419.8 759.6 417.4 757 413.6 756.7 408.6 758.5 403.6 762.1 398.6 767.3 393.6 826.8 393.6 820.6 402.8 808.6 411.9 793.6 418.6 777.6 421.7ZM725.6 635.7 711.6 636.1 701.6 635.2 693.6 632.9 686.6 629.1 680.6 623.2 676 615.6 671.8 604.6 669 592.6 667.5 578.6 667.4 562.6 670.2 515.6 671.8 505.6 675.5 496.6 680.6 490.4 688.6 485.3 698.6 482.5 711.6 481.4 728.6 481.9 738.6 483.8 747.6 487.6 754.6 493.2 759.6 500.2 763.3 509.6 766.1 522.6 770 547.6 771.1 566.6 770.2 588.6 766.6 604.6 760.5 616.6 751.6 625.7 739.6 632.5 725.6 635.7ZM898.6 540.6 891.6 540.2 887.1 536.6 884.4 529.6 882.4 515.6 882.4 499.6 884.1 489.6 888.6 483.2 894.6 480.7 900.6 481.5 905.6 485.4 908.2 490.6 909.6 499.6 909.5 516.6 907.3 530.6 904.1 537.6 901.6 539.7 898.6 540.6ZM800.6 575.4 798.6 574.5 796.2 568.6 794 550.6 795.3 531.6 797.3 524.6 799.6 521.2 801.6 522.4 803.8 527.6 806 544.6 804.8 563.6 802.8 571.6 800.6 575.4Z" fill="#0cfff3" fill-rule="evenodd"/>
<path d="M776.6 420.6 769.6 420.1 764.6 418.6 760.6 415.8 758.7 412.6 758.4 408.6 760.1 403.6 763.7 398.6 769 393.6 825.1 393.6 822.5 398.6 818.6 403.2 806.6 412 791.6 418.2 776.6 420.6ZM900.6 538.7 893.6 539.3 888.4 536.6 885.4 530.6 883.2 518.6 882.7 502.6 884.1 491.6 888.1 484.6 891.6 482.2 894.6 481.5 899.6 481.9 904.6 485.3 907.6 490.6 909 497.6 909.2 513.6 907.4 527.6 904.6 535.3 900.6 538.7ZM726.6 634.7 713.6 635.3 702.6 634.5 693.6 632 686.6 628.1 680.6 622.1 676.1 614.6 672.2 604.6 669.3 592.6 667.8 579.6 667.7 560.6 671 517.6 672.6 507.9 675.9 499.6 681.5 492.6 688.6 488.1 697.6 485.2 709.6 484 727.6 484.4 737.6 486.2 746.6 489.9 753.6 495.3 758.6 502.2 762.1 510.6 765 522.6 769 546.6 770.2 565.6 769.5 587.6 766 603.6 760 615.6 751.6 624.6 740.6 631.1 726.6 634.7ZM800.6 573.6 798.6 572.6 796.6 567.6 794.5 550.6 795.6 532.7 797.6 525.6 799.6 522.8 801.6 524.1 803.6 529.1 805.5 544.6 804.5 562.6 802.6 570.1 800.6 573.6Z" fill="#23ffdc" fill-rule="evenodd"/>
<path d="M785.6 418.6 777.6 419.5 770.6 419 764.6 416.8 761.3 413.6 760.1 409.6 761.2 404.6 765.3 398.6 770.7 393.6 823.4 393.6 818.6 401.6 810.3 408.6 798.6 414.8 785.6 418.6ZM899.6 537.7 892.6 537.8 888 534.6 885.4 528.6 883.5 516.6 883.2 501.6 884.7 491.6 888.6 485.1 894.6 482.2 899.6 482.7 904.6 486.3 907.3 491.6 908.6 498.6 908.7 514.6 906.8 527.6 904 534.6 899.6 537.7ZM728.6 633.6 717.6 634.4 704.6 633.9 695.6 631.9 688.6 628.5 682.6 623.5 677.6 616.4 673.3 606.6 670.2 595.6 668.1 580.6 667.9 561.6 671.5 520.6 673.2 510.6 676.6 501.8 681.6 495.4 688.6 490.7 697.6 487.7 709.6 486.4 726.6 486.7 736.6 488.4 745.6 492 752.6 497.3 757.4 503.6 760.9 511.6 764.1 523.6 768.2 546.6 769.4 564.6 768.7 586.6 765.4 602.6 759.6 614.6 751.6 623.5 740.6 630.2 728.6 633.6ZM800.6 571.8 799.6 572 798.6 570.7 796.7 565.6 795 550.6 796 533.6 797.6 527.6 799.6 524.4 801.6 525.9 803.4 530.6 805 544.6 804.1 561.6 802.6 567.9 800.6 571.8Z" fill="#3affc5" fill-rule="evenodd"/>
<path d="M785.6 417.6 777.6 418.4 770.6 417.6 765.8 415.6 762.9 412.6 762 408.6 763.4 403.6 766.9 398.6 772.4 393.6 821.7 393.6 817 401.6 808.6 408.5 797.6 414.2 785.6 417.6ZM898.6 536.7 892.6 536.5 888.4 533.6 885.8 527.6 883.9 515.6 883.7 500.6 885.2 491.6 889 485.6 894.6 483 899.6 483.4 904.6 487.3 907.1 492.6 908.2 499.6 908.2 514.6 906.2 527.6 903.6 533.6 898.6 536.7ZM719.6 633.6 707.6 633.4 698.6 632 690.6 628.9 684.6 624.6 679.5 618.6 674.8 609.6 670.9 597.6 668.8 585.6 668.1 570.6 668.7 553.6 672.4 519.6 675.1 508.6 679.6 500.4 685.6 494.9 693.6 491.1 703.6 489.1 720.6 488.6 733.6 490 743.6 493.4 751.6 499.1 757.1 506.6 760.9 515.6 765.1 533.6 767.8 550.6 768.7 569.6 767.8 587.6 765.2 600.6 760.5 611.6 753.5 620.6 743.6 627.9 732.6 632 719.6 633.6ZM800.6 569.9 799.2 569.6 797.4 565.6 795.5 550.6 796.4 534.6 797.6 529.6 799.6 526.1 800.8 526.6 802.7 530.6 804.5 544.6 803.7 560.6 800.6 569.9Z" fill="#50ffaf" fill-rule="evenodd"/>
<path d="M785.6 416.6 778.6 417.3 772.2 416.6 767.3 414.6 764.6 411.6 763.8 407.6 765.5 402.6 769.4 397.6 774.1 393.6 820 393.6 816.2 400.6 808.2 407.6 797.6 413.2 785.6 416.6ZM897.6 535.6 891.6 534.9 887.6 530.8 885.2 522.6 884.1 511.6 884.3 498.6 886.1 490.6 890.6 485.1 895.6 483.6 900.6 484.6 904.8 488.6 907.1 494.6 907.9 502.6 907.7 515.6 905.6 527.7 902.6 533.4 897.6 535.6ZM723.6 632.7 710.6 632.9 701.6 631.9 693.6 629.5 686.6 625.4 680.6 619.2 676.1 611.6 672.3 601.6 669.8 590.6 668.4 575.6 668.7 556.6 672.6 523.6 675 512.6 678.6 504.6 683.9 498.6 691.6 494.1 700.6 491.7 715.6 490.7 730.6 491.7 740.6 494.4 748.6 499 754.6 505.5 758.8 513.6 762.4 525.6 766.1 543.6 767.8 560.6 767.5 582.6 765.5 596.6 761.7 607.6 755.3 617.6 746.6 625.2 735.6 630.4 723.6 632.7ZM800.6 567.9 799.6 568.1 797.6 563.7 796 550.6 796.6 536.6 799.6 527.9 800.9 528.6 802.6 532.7 804 544.6 803.4 558.6 800.6 567.9Z" fill="#67ff98" fill-rule="evenodd"/>
<path d="M784.6 415.7 777.6 416.1 772.6 415.3 768.6 413.3 766.3 410.6 765.8 406.6 767.2 402.6 771.1 397.6 775.9 393.6 818.2 393.6 814.6 400.6 806.6 407.4 796.4 412.6 784.6 415.7ZM900.6 533.7 894.6 534.5 889.6 532.3 886.6 526.6 884.9 517.6 884.5 502.6 885.9 492.6 889.6 486.6 894.6 484.3 899.6 484.8 903.3 487.6 905.8 491.6 907.2 497.6 907.6 510.6 906.5 521.6 904.2 529.6 900.6 533.7ZM726.6 631.7 714.6 632.2 703.6 631.5 695.6 629.6 688.6 626.1 682.6 620.8 677.6 613.6 673.3 603.6 670.4 592.6 668.8 578.6 668.9 557.6 672.9 526.6 675.1 515.6 678.6 507.4 683.6 501.3 690.6 496.7 699.6 493.9 712.6 492.8 728.6 493.5 738.6 495.8 746.6 499.9 752.6 505.6 757.4 513.6 760.9 523.6 764.4 538.6 766.9 556.6 767.1 577.6 765.6 592.6 762.2 604.6 756.7 614.6 748.6 622.9 738.6 628.6 726.6 631.7ZM800.6 565.8 799.6 566 797.8 561.6 796.5 550.6 797.1 537.6 799.6 529.8 800.6 530 802.1 533.6 803.5 544.6 803 557.6 800.6 565.8Z" fill="#7eff81" fill-rule="evenodd"/>
<path d="M784.6 414.6 773.6 414 770.6 412.6 768.1 409.6 767.8 405.6 769.5 401.6 777.8 393.6 816.3 393.6 813.6 399.7 805.9 406.6 795.6 411.9 784.6 414.6ZM899.6 533 893.6 533.3 889.6 531.1 886.9 525.6 885.2 516.6 884.8 502.6 886.1 493.6 889.4 487.6 894.6 484.9 898.6 485.2 902.6 487.6 905.2 491.6 906.9 498.6 907.2 511.6 905.8 522.6 903.6 529.4 899.6 533ZM728.6 630.7 718.6 631.5 705.6 631.1 696.6 629.2 689.6 626 683.6 621.1 678.6 614.5 674.3 605.6 671 594.6 669 579.6 669.1 558.6 671 541.6 675.3 518.6 678.6 510.2 683.6 503.6 690.6 498.9 698.6 496.2 710.6 494.8 726.6 495.2 736.6 497.2 744.6 500.9 750.6 505.8 755.6 512.9 759.2 521.6 763 535.6 766 553.6 766.5 573.6 765.4 589.6 762.2 602.6 757.2 612.6 749.6 621.1 739.6 627.4 728.6 630.7ZM799.6 563.8 797.6 557.3 797 547.6 797.6 538.1 799.6 531.9 800.6 532.2 802.1 536.6 803 547.6 801.9 559.6 800.6 563.5 799.6 563.8Z" fill="#95ff6a" fill-rule="evenodd"/>
<path d="M782.6 413.7 773.6 412.2 771.3 410.6 769.7 407.6 769.9 404.6 772 400.6 779.7 393.6 814.3 393.6 811.6 400 804 406.6 793.6 411.5 782.6 413.7ZM899.6 531.9 893.6 532.3 889.6 529.9 887.1 524.6 885.5 515.6 885.2 502.6 886.5 493.6 889.6 488.1 894.6 485.5 898.6 485.8 902.6 488.3 905.2 492.6 906.5 498.6 906.8 511.6 905.6 521.6 903.3 528.6 899.6 531.9ZM723.6 630.6 710.6 630.8 701.6 629.8 693.6 627.4 686.6 623.1 681.2 617.6 676.4 609.6 672.9 600.6 670.3 589.6 669 574.6 669.5 555.6 673.1 531.6 676.5 517.6 680.5 509.6 685.6 504.1 692.6 500 701.6 497.5 713.6 496.7 728.6 497.4 738.6 499.9 746.6 504.4 752.6 510.7 757 518.6 761 530.6 764.3 545.6 765.8 561.6 765.5 582.6 763.5 595.6 759.8 606.6 753.6 616.2 745.6 623.3 735.6 628.3 723.6 630.6ZM800.6 560.9 799.6 561.2 798.6 558.6 797.6 550.6 797.9 540.6 799.6 534.4 800.6 534.6 801.6 537.6 802.4 544.6 802.1 554.6 800.6 560.9Z" fill="#acff53" fill-rule="evenodd"/>
<path d="M788.6 411.7 778.6 412.1 774.6 410.7 772.5 408.6 771.8 405.6 772.6 402.6 778.9 395.6 781.9 393.6 812.2 393.6 810.7 398.6 804.8 404.6 797.6 408.8 788.6 411.7ZM899.6 530.9 893.6 531.3 889.6 528.7 887.3 523.6 885.9 515.6 885.6 502.6 886.9 493.6 889.8 488.6 894.6 486.1 898.6 486.4 902.6 489.1 904.7 492.6 906.1 498.6 906.5 510.6 905.4 520.6 903.1 527.6 899.6 530.9ZM726.6 629.7 714.6 630.3 703.6 629.6 695.6 627.5 688.6 623.9 682.6 618.5 677.8 611.6 673.8 602.6 671.1 592.6 669.4 577.6 669.6 557.6 671.8 540.6 676.1 521.6 679.6 513.4 684.6 507.1 691.6 502.4 699.6 499.8 710.6 498.5 726.6 499 736.6 501.1 744.6 505 750.6 510.5 755.2 517.6 759.2 527.6 762.9 541.6 765 557.6 765.2 577.6 763.7 591.6 760.4 603.6 754.8 613.6 747.6 621.1 737.6 626.8 726.6 629.7ZM800.6 557.6 799.6 558 798.3 550.6 798.6 541.6 799.6 537.4 800.6 537.8 801.7 544.6 800.6 557.6Z" fill="#c3ff3c" fill-rule="evenodd"/>
<path d="M787.6 410.6 779.5 410.6 774.6 407.6 774.7 402.6 779.7 396.6 784.3 393.6 809.8 393.6 808.7 398.6 804 403.6 796.6 407.9 787.6 410.6ZM899.6 529.9 894.6 530.5 890.6 528.7 887.8 523.6 886.2 515.6 885.9 502.6 887 494.6 889.6 489.6 894.6 486.7 898.6 486.9 902.4 489.6 904.6 493.6 905.9 499.6 906.1 511.6 905 520.6 902.6 527.2 899.6 529.9ZM720.6 629.6 708.6 629.5 699.6 628.1 691.6 625.1 685.6 620.9 680.1 614.6 675.7 606.6 672.2 596.6 670.3 586.6 669.4 571.6 670.1 553.6 673.2 535.6 677.6 519.9 681.6 512.6 687.6 506.6 694.6 503 703.6 500.8 717.6 500.2 729.6 501.2 738.6 503.7 746.6 508.6 752.6 515.4 756.8 523.6 761 536.6 763.7 550.6 764.7 566.6 764 585.6 761.4 598.6 757.3 608.6 750.6 617.5 742.6 623.7 732.6 627.9 720.6 629.6ZM799.6 553.3 799.6 542 800.6 543 800.9 547.6 800.6 552.4 799.6 553.3Z" fill="#daff25" fill-rule="evenodd"/>
<path d="M790.6 408.7 784.6 409.5 779.6 408.6 776.7 405.6 777.4 401.6 780.8 397.6 787.1 393.6 807 393.6 807 397.6 804.1 401.6 798.5 405.6 790.6 408.7ZM899.6 529 894.6 529.5 890.6 527.7 888.3 523.6 886.6 515.6 886.2 502.6 887.4 494.6 890.6 489.2 894.6 487.2 898.6 487.5 901.6 489.4 904.2 493.6 905.4 498.6 905.8 509.6 905 518.6 902.8 525.6 899.6 529ZM725.6 628.6 713.6 629.1 703.6 628.4 695.6 626.3 688.6 622.6 682.6 617.2 678 610.6 674 601.6 671.3 591.6 669.8 577.6 670 556.6 672.2 541.6 676.3 525.6 680.6 516.1 685.6 510.1 692.6 505.6 700.6 503.1 711.6 501.9 726.6 502.4 735.6 504.4 743.6 508.2 749.6 513.6 754.6 521.2 758.8 531.6 762 543.6 763.9 558.6 764 578.6 762.3 592.6 759 603.6 753.2 613.6 745.6 621 736.6 626 725.6 628.6Z" fill="#f1ff0e" fill-rule="evenodd"/>
<path d="M787.6 407.6 782.6 407.2 779.6 404.8 780 401.6 783.4 397.6 790.9 393.6 803.2 393.6 804.1 394.6 803.9 398.6 800.3 402.6 794.6 405.8 787.6 407.6ZM897.6 528.6 892.6 528.1 889.6 525.3 887.6 519.6 886.6 511.6 886.7 500.6 888.2 493.6 891.6 488.9 895.6 487.7 899.6 488.4 902.6 491.3 904.5 495.6 905.4 502.6 905.3 513.6 903.9 521.6 901.6 526.4 897.6 528.6ZM728.6 627.6 718.6 628.5 705.6 628.1 697.6 626.4 690.6 623.3 684.6 618.7 679.6 612.5 675 603.6 672.2 594.6 670 579.6 670 559.6 671.9 544.6 675.6 529.8 679.6 519.9 684.6 513 691.6 507.8 699.6 504.9 709.6 503.6 724.6 503.9 733.6 505.5 741.6 508.8 747.8 513.6 753.1 520.6 757.3 529.6 760.9 541.6 763.2 556.6 763.5 576.6 762.1 590.6 759.2 601.6 754 611.6 747.6 618.7 738.6 624.5 728.6 627.6Z" fill="#fff600" fill-rule="evenodd"/>
<path d="M792.6 404.6 785.6 405.2 783.2 403.6 783.2 401.6 785.5 398.6 790.8 395.6 796.6 394.5 800.2 395.6 801 397.6 799.3 400.6 792.6 404.6ZM897.6 527.8 892.6 527.2 889.9 524.6 888 519.6 886.9 511.6 886.9 501.6 888.2 494.6 891.5 489.6 895.6 488.2 899.6 489 902.3 491.6 904.1 495.6 905.1 502.6 905 513.6 903.6 521.2 901.4 525.6 897.6 527.8ZM724.6 627.7 703.6 627.3 695.6 625.1 688.6 621.4 682.6 615.9 678.2 609.6 674.1 600.6 671.7 591.6 670.1 577.6 670.3 557.6 672.3 543.6 676.2 529.6 680.6 520 685.6 513.8 692.6 509 701.6 506.1 712.6 505.1 726.6 505.7 735.6 507.7 742.6 511.2 748.6 516.3 753.6 523.5 757.9 533.6 761.2 545.6 762.9 560.6 762.8 580.6 761 593.6 757.3 604.6 751.8 613.6 744.3 620.6 735.6 625.2 724.6 627.7Z" fill="#ffe000" fill-rule="evenodd"/>
<path d="M792.6 401 790.6 401.3 789.7 400.6 793.6 398.6 794.3 399.6 792.6 401ZM898.6 526.7 893.6 526.8 890.6 524.7 888.6 520.5 887.3 513.6 887.1 502.6 888.2 495.6 890.6 491 894.6 488.7 898.6 489 901.6 491.2 903.6 495.1 904.7 500.6 904.9 510.6 903.9 518.6 901.6 524.4 898.6 526.7ZM727.6 626.7 717.6 627.5 705.6 627 697.6 625.3 690.6 622.1 684.6 617.5 679.1 610.6 675.1 602.6 672.1 592.6 670.3 578.6 670.4 559.6 672.1 545.6 675.6 532.8 680.1 522.6 685.6 515.5 692.6 510.6 700.6 507.9 710.6 506.7 724.6 506.9 733.6 508.7 741.6 512.2 747.6 517.1 752.6 523.7 756.8 532.6 760.2 543.6 762.3 558.6 762.4 577.6 761 590.6 758 601.6 753.3 610.6 746 618.6 737.6 623.8 727.6 626.7Z" fill="#ffc900" fill-rule="evenodd"/>
<path d="M898.6 525.9 894.6 526.2 891.4 524.6 889.1 520.6 887.6 513.6 887.4 503.6 888.3 496.6 890.6 491.6 894.6 489.2 898.6 489.5 901.4 491.6 903.4 495.6 904.4 500.6 903.8 517.6 901.6 523.4 898.6 525.9ZM724.6 626.6 712.6 627 703.6 626.2 695.6 624.1 689.6 621 683.6 615.9 678.6 609.2 675 601.6 672.1 591.6 670.5 577.6 670.6 559.6 672.1 546.6 675.6 534 680.6 523.4 685.6 517.1 692.6 512.2 701.6 509.1 711.6 508.1 725.6 508.5 734.6 510.5 741.6 513.8 747.6 518.8 753.2 526.6 757.2 535.6 760.2 546.6 761.9 560.6 761.8 579.6 760.1 592.6 756.6 603.6 751.2 612.6 743.6 619.8 734.6 624.4 724.6 626.6Z" fill="#ffb200" fill-rule="evenodd"/>
<path d="M898.6 525.1 894.6 525.4 891.6 524 889.5 520.6 887.9 513.6 887.7 503.6 888.6 496.6 891.1 491.6 894.6 489.6 898.6 490 900.9 491.6 903.1 495.6 904.1 500.6 904.3 510.6 903.4 517.6 901.6 522.5 898.6 525.1ZM727.6 625.7 717.6 626.5 705.6 626 697.6 624.3 690.6 621.1 684.6 616.4 679.2 609.6 675.2 601.6 672.5 592.6 670.6 576.9 670.6 562.1 672 548.6 675.1 536.6 679.6 526.5 684.6 519.7 691.6 514.2 700.6 510.8 710.6 509.6 724.6 509.8 733.6 511.7 740.6 514.8 746.6 519.4 751.6 525.6 756.2 534.6 759.3 544.6 761.3 558.6 761.4 577.6 760 590.6 756.9 601.6 752 610.6 745.6 617.6 737.6 622.7 727.6 625.7Z" fill="#ff9b00" fill-rule="evenodd"/>
<path d="M897.6 524.6 893.6 524.4 890.6 521.9 888.9 517.6 888 511.6 888.1 501.6 889.2 495.6 891.6 491.6 895.6 490 898.6 490.4 901.6 493.1 904 502.6 904 511.6 902.8 518.6 900.6 522.9 897.6 524.6ZM724.6 625.7 712.6 626.1 703.6 625.3 695.6 623.1 689.6 619.9 683.6 614.8 678.6 608.1 674.6 599.4 672.2 590.6 670.7 573.6 671.2 555.6 672.6 546.4 675.6 536.1 680.6 526.2 686.6 519.2 693.6 514.7 702.6 511.8 712.6 510.9 725.6 511.3 734.6 513.4 741.6 516.9 747.6 522 752.6 528.9 756.6 537.6 759.4 547.6 761 561.6 760.8 579.6 759.1 592.6 755.9 602.6 750.7 611.6 743.6 618.6 734.6 623.4 724.6 625.7Z" fill="#ff8400" fill-rule="evenodd"/>
<path d="M897.6 523.9 893.6 523.7 891.1 521.6 889.2 517.6 888.3 511.6 888.3 501.6 889.6 495.6 892.2 491.6 895.6 490.4 899.6 491.4 901.6 493.8 903.7 502.6 902.8 517.6 900.6 522.1 897.6 523.9ZM717.6 625.6 706.6 625.2 699.6 623.9 692.6 621.2 685.6 616.3 680.6 610.7 676.5 603.6 673.6 595.6 671.4 583.6 671.4 554.6 673.6 543.1 677.6 532.5 682.6 524.7 689.6 518.3 697.6 514.4 707.6 512.5 720.6 512.3 729.6 513.4 737.6 516.1 744.6 520.6 750.6 527.3 755.2 535.6 758.2 544.6 760.2 556.6 760.6 573.4 759.7 586.6 757.3 597.6 752.8 607.6 746.6 615.4 738.6 621.1 728.5 624.6 717.6 625.6Z" fill="#ff6d00" fill-rule="evenodd"/>
<path d="M898.6 522.8 893.6 522.9 891.6 521.4 889.6 517.7 888.6 512.4 888.5 502.6 889.5 496.6 891.6 492.7 893.6 491.4 899 491.6 901.6 494.4 902.7 497.6 903.6 507.6 902.7 516.6 901.6 519.7 898.6 522.8ZM725.6 624.6 705.6 624.7 697 622.6 690.7 619.6 685.4 615.6 679.5 608.6 675.6 600.9 672.6 590.6 671.5 583.6 671.5 555.6 672.6 548.2 675.6 538 680.6 528.5 686.6 522 693.6 517.4 702.6 514.5 712.6 513.5 725.6 514 732.8 515.6 740.6 519.2 746.6 523.9 751.9 530.6 755.8 538.6 758.6 548.6 759.8 557.6 759.8 581.6 757.6 594.6 754.8 602.6 750.3 610.6 741.9 618.6 734.1 622.6 725.6 624.6Z" fill="#ff5600" fill-rule="evenodd"/>
<path d="M897.6 516.2 893.6 515.6 891.7 510.6 892.3 500.6 893.6 498.4 895.6 497.5 898.6 498.6 900.3 503.6 899.9 512.6 897.6 516.2ZM726.6 622.7 714.6 623.4 703.6 622.5 696.6 620.6 685.6 615.2 680 608.6 674.5 592.6 672.6 580.3 672.4 562.6 673.6 550.5 676.2 540.6 680.6 531.6 686.6 524.6 693.6 519.8 701.6 516.9 710.6 515.7 723.6 515.9 731.6 517.5 738.6 520.4 744.6 524.8 749.7 530.6 753.6 537.6 756.6 546.6 758.5 560.6 758.5 578.6 757 590.6 753.1 604.6 750 610.6 745.6 615.2 734.6 620.5 726.6 622.7Z" fill="#ff3f00" fill-rule="evenodd"/>
<path d="M721.6 619.7 705.6 619.2 688.6 615.8 684.6 613.8 681.6 610.5 679.9 606.6 679.6 598.6 676.2 586.6 675.2 575.6 675.4 559.6 676.8 549.6 679.6 540.4 683.9 532.6 689.6 526.6 696.6 522.3 705.6 519.8 724.6 519.6 732.6 521.6 738.7 524.6 744.6 529.6 749.6 536.6 752.6 543.6 754.8 552.6 755.8 563.6 755.6 579.4 754.6 587.6 752.2 596.6 752.2 604.6 750.8 608.6 747.6 612.9 743.6 615.6 721.6 619.7Z" fill="#ff2800" fill-rule="evenodd"/>
<path d="M740.6 615.7 724.6 616.5 693.6 615.9 686.6 614.4 681.7 609.6 681.1 599.6 683.2 594.6 680.9 586.6 679.8 577.6 679.7 563.6 680.7 553.6 682.8 545.6 686.6 537.8 691.6 532 697.6 528 703.6 525.8 710.6 524.8 720.6 524.8 728.6 526.2 734.5 528.6 738.9 531.6 743.6 536.6 746.6 541.7 749.6 550.1 751.2 560.6 751.1 579.6 748.1 594.6 750.7 598.6 750.9 605.6 749.7 609.6 747.4 612.6 744.6 614.6 740.6 615.7Z" fill="#ff1200" fill-rule="evenodd"/>
<path d="M734.6 615.7 701.6 615.8 688.6 614.3 685.2 612.6 683 609.6 682.9 598.6 683.8 596.6 686.6 594.4 697.6 591.8 734.6 591.8 745.6 594.6 748.2 596.6 749.3 599.6 748.6 610 744.6 613.8 734.6 615.7Z" fill="#fa0000" fill-rule="evenodd"/>
<path d="M737.6 614.6 703.6 615.2 689.6 613.6 686.1 611.6 684.8 609.6 684.7 598.6 685.9 596.6 689.1 594.6 698.6 593 729.6 592.8 742.6 594.5 745.6 596.1 747.2 598.6 747.4 608.6 744.6 612.6 737.6 614.6Z" fill="#e30000" fill-rule="evenodd"/>
<path d="M737.6 613.7 707.6 614.5 692.6 613.3 688.6 611.6 687 609.6 686.6 599.6 687.5 597.6 690 595.6 698.6 593.8 727.6 593.5 739.1 594.6 743.6 596.6 745 598.6 745.5 607.6 743.3 611.6 737.6 613.7Z" fill="#cc0000" fill-rule="evenodd"/>
<path d="M724.6 613.6 701.6 613.4 692.1 611.6 689.8 609.6 689.2 607.6 689.7 598.6 694.3 595.6 705.6 594.4 731.6 594.7 737.7 595.6 741.6 597.6 742.9 600.6 743 605.6 741.3 610.6 736.6 612.7 724.6 613.6Z" fill="#b50000" fill-rule="evenodd"/>
<path d="M732.6 611.7 708.6 612.3 697.6 611.4 693.2 608.6 692.8 600.6 695 597.6 701.6 596 724.6 595.7 734.4 596.6 737 597.6 738.9 599.6 739.3 606.6 737.6 610 732.6 611.7Z" fill="#9e0000" fill-rule="evenodd"/>
<g filter="url(#spk)"><rect x="577.6" y="393.6" width="349.7" height="301.4" fill="#000"/>
<path d="M843.6 633.7 771.6 634.5 747.6 632.9 688.6 632.8 638.6 634.3 621.6 633 612.6 629 608.9 622.6 607.6 612.1 607.3 514.6 600.6 510.8 596.6 505.2 594.4 496.6 593.6 482.6 594.3 468.6 596.6 459.8 600.6 454.2 607.2 450.6 608.1 421.6 612 411.6 616.6 408.5 624.6 406.5 658.6 405.5 833.6 405.7 849.6 407.3 857.6 411.2 861.4 418.6 862.5 431.6 862.3 613.6 861 622.6 857.8 628.6 852.6 631.8 843.6 633.7ZM897.6 511.6 891.6 511.4 888.7 508.6 888.6 501.6 891.6 498.6 897.6 498.4 901.4 501.6 901.3 508.6 897.6 511.6ZM753.4 629.6 760.1 625.6 762.7 617.6 762.7 524.6 760.6 513.6 755.6 510.2 747.6 509.3 682.6 509.3 672.6 511.4 669.1 516.6 668.3 525.6 668.2 615.6 670.6 625.2 675.6 629.1 682.6 630.3 753.4 629.6ZM725.6 586.6 701.8 585.6 697.1 583.6 694.1 579.6 692.7 569.6 692.9 536.6 694.4 529.6 698.6 525.5 708.6 523.5 728.9 523.6 737.6 525.6 741.6 529.6 743.4 543.6 742.3 578.6 740.6 582 737.2 584.6 725.6 586.6Z" fill="#4c4c4c" fill-rule="evenodd"/>
<path d="M838.6 630.7 773.6 631.3 763 629.6 764.5 616.6 764 518.6 762.5 513.6 759.6 510.2 754.6 508.2 747.6 507.7 680.6 507.8 674.6 508.7 670.6 510.9 667.7 515.6 666.7 524.6 666.5 616.6 668.4 628.6 666.6 630.4 662.6 631.1 635.6 630.9 623.6 629.5 616.6 626 613.4 620.6 611.9 609.6 611.6 512.6 603.6 508.7 599.6 503.6 597.3 495.6 596.5 482.6 597.3 469.6 599.6 461.4 603.6 456.3 611.6 452.6 612.3 424.6 616 414.6 620.6 411.5 628.6 409.6 661.6 408.7 830.6 408.9 845.6 410.3 853.6 414.2 857.2 421.6 858.3 434.6 858 612.6 856.6 620.6 853.6 625.8 847.6 629.2 838.6 630.7ZM897.6 509.6 893.6 510 890.6 508 890 503.6 892 500.6 896.6 500.1 899.6 502.4 899.9 506.6 897.6 509.6ZM725.6 584.6 704.6 583.9 699.6 581.8 697 578.6 695.5 568.6 695.7 537.6 697.4 530.6 701.6 527.1 711.6 525.3 728.2 525.6 735.5 527.6 739.1 531.6 740.6 544.6 739.7 576.6 735.6 582.3 725.6 584.6Z" fill="#575757" fill-rule="evenodd"/>
<path d="M834.6 625.7 777.6 626.4 771.6 625.9 768.6 624.1 766.9 607.6 766.1 516.6 764.1 511.6 759.6 507.4 747.6 505.3 680.6 505.4 673.6 506.4 668.6 509.5 665.4 514.6 664.3 521.6 664.1 605.6 662.7 623.6 657.6 626.1 639.6 626 629.1 624.6 622.6 621.2 619.6 615.6 618.3 604.6 618 510.6 607.9 506.6 603.6 502.4 600.8 494.6 599.9 482.6 600.7 470.6 603.6 462.6 608.6 458 618 454.6 618.8 428.6 622.6 418.8 627.6 415.9 634.6 414.4 670.6 413.5 824.6 413.7 839.6 415.1 847.2 418.6 850.6 425.1 851.8 438.6 851.6 607.6 850.4 615.6 847.6 620.9 842.6 624.1 834.6 625.7ZM895.6 506 893.9 505.6 894.6 503.8 896.1 504.6 895.6 506ZM726.6 581.7 708.6 581.5 703.4 579.6 700.6 576.1 699.2 566.6 699.4 539.6 700.7 533.6 704.8 529.6 713.6 527.9 725.6 528.2 731.6 529.8 735.3 533.6 736.8 544.6 736.1 573.6 733.6 578.8 726.6 581.7Z" fill="#616161" fill-rule="evenodd"/>
<path d="M818.6 460.7 721.6 461.5 710.6 459.6 705.7 454.6 709.6 451.1 720.6 448.8 764.6 448.6 817.6 449 829.6 451.3 833.8 454.6 833.2 456.6 830 458.6 818.6 460.7ZM631.6 505.6 614.6 504 609.6 501.1 606.5 496.6 604.3 485.6 605.2 472.6 608.1 465.6 613.6 461.4 624.6 459.3 638.6 460.4 644.6 463.1 649.3 469.6 651.2 483.6 648.3 497.6 642.6 503.1 631.6 505.6ZM722.6 575.9 711.6 575.2 708.6 572.7 707.1 568.6 707.3 540.6 709.6 536.1 714.6 533.9 724.6 534.9 727.6 537.6 728.9 541.6 728.9 568.6 726.7 573.6 722.6 575.9Z" fill="#6b6b6b" fill-rule="evenodd"/>
<path d="M632.6 497.7 620.6 497.2 616.6 495.1 613.6 491.4 611.9 484.6 612.3 477.6 614.6 471.9 618.6 468.6 625.6 466.8 632.6 467.3 638.1 469.6 641.6 474 643.2 482.6 641.8 490.6 638.6 495 632.6 497.7Z" fill="#757575" fill-rule="evenodd"/>
</g>
<g filter="url(#hspk)"><rect x="577.6" y="393.6" width="349.7" height="301.4" fill="#000"/>
<path d="M638.6 611.6 609.6 610.5 603.6 608.2 600 603.6 598.5 591.6 598.7 534.6 600.9 526.6 606.6 522.3 620.6 520.5 649.6 520.9 658.6 523.3 663.1 528.6 664.6 546.6 663.4 602.6 661.2 606.6 656.6 609.6 638.6 611.6Z" fill="#4c4c4c" fill-rule="evenodd"/>
<path d="M650.6 609.7 613.6 609.9 605.6 607.6 601.9 603.6 600.2 591.6 600.3 536.6 601.8 528.6 606.6 523.9 619.6 521.7 647.6 521.9 656.6 524 661.2 528.6 662.8 541.6 662.4 598.6 658.8 606.6 650.6 609.7Z" fill="#575757" fill-rule="evenodd"/>
<path d="M648.6 608.6 614.6 608.7 607.3 606.6 603.6 602.6 601.9 590.6 602.1 537.6 603.5 529.6 607.6 525.3 619.6 522.9 645.6 523 654.6 524.9 659.5 529.6 661.1 542.6 660.6 598.1 657.1 605.6 648.6 608.6Z" fill="#616161" fill-rule="evenodd"/>
<path d="M644.6 607.6 615.6 607.3 609.4 605.6 605.5 601.6 603.9 589.6 604.1 537.6 606 529.6 610.6 525.9 622.6 524.1 645.6 524.5 653.6 526.4 657.6 530.6 659.1 543.6 658.6 597.6 655.1 604.6 644.6 607.6Z" fill="#6b6b6b" fill-rule="evenodd"/>
<path d="M646.6 605.6 616.6 605.7 610.6 603.6 607.6 599.9 606.2 588.6 606.3 539.6 607.8 531.6 612 527.6 623.6 525.7 643.6 526 651 527.6 655.2 531.6 656.8 543.6 656.4 595.6 653.7 602.6 646.6 605.6Z" fill="#757575" fill-rule="evenodd"/>
<path d="M643.6 603.8 618.6 603.6 613.2 601.6 610.3 597.6 609.1 585.6 609.3 539.6 611.1 532.6 615.6 529.2 626.6 527.6 642.6 528.1 649.6 530.3 652.6 534.1 653.9 545.6 653.5 593.6 650.9 600.6 643.6 603.8Z" fill="#7f7f7f" fill-rule="evenodd"/>
<path d="M638.6 600.7 620.6 599.9 616.6 597.6 614.6 593.6 614.2 540.6 616.4 534.6 622.4 531.6 641.6 531.8 646.6 534.6 648.5 538.6 648.6 592.6 645.6 598.3 638.6 600.7Z" fill="#8a8a8a" fill-rule="evenodd"/>
</g>
<g filter="url(#kspk)"><rect x="577.6" y="393.6" width="349.7" height="301.4" fill="#000"/>
<path d="M736.6 611.7 696.6 611.6 689.6 608.7 688.1 603.6 690.6 599.5 697.6 597.3 738.4 597.6 744.6 600.6 745.8 605.6 743.3 609.6 736.6 611.7Z" fill="#4c4c4c" fill-rule="evenodd"/>
<path d="M733.6 610.6 697.6 610.3 691.6 607.6 690.6 603.6 694.3 599.6 702.6 598.2 731.6 598.2 741.5 600.6 743.4 603.6 742.4 607.6 733.6 610.6Z" fill="#575757" fill-rule="evenodd"/>
<path d="M734.6 608.7 702.6 609.1 696.1 607.6 693.9 604.6 695.7 601.6 701.6 600 731.6 599.9 737.6 601.3 740 603.6 739.2 606.6 734.6 608.7Z" fill="#616161" fill-rule="evenodd"/>
<path d="M726.6 606.6 707 606.6 701.5 604.6 705.4 602.6 716.6 602.1 728.6 602.6 732.5 604.6 726.6 606.6Z" fill="#6b6b6b" fill-rule="evenodd"/>
</g>
<rect x="579.6" y="562.0" width="6.7" height="11" fill="url(#rimb)"/>
<rect x="586.3" y="550.3" width="11.0" height="11" fill="url(#rimb)"/>
<rect x="597.3" y="538.7" width="11.7" height="11" fill="url(#rimb)"/>
<rect x="609.0" y="527.0" width="11.3" height="11" fill="url(#rimb)"/>
<rect x="620.3" y="515.0" width="11.7" height="11" fill="url(#rimb)"/>
<rect x="632.0" y="502.7" width="11.0" height="11" fill="url(#rimb)"/>
<rect x="643.0" y="491.0" width="11.7" height="11" fill="url(#rimb)"/>
<rect x="654.7" y="479.0" width="12.0" height="11" fill="url(#rimb)"/>
<rect x="666.7" y="466.8" width="11.3" height="11" fill="url(#rimb)"/>
<rect x="678.0" y="455.7" width="11.7" height="11" fill="url(#rimb)"/>
<rect x="689.7" y="444.0" width="11.2" height="11" fill="url(#rimb)"/>
<rect x="700.9" y="430.8" width="11.5" height="11" fill="url(#rimb)"/>
<rect x="712.4" y="419.5" width="12.3" height="11" fill="url(#rimb)"/>
<path d="M578.6 394.6 578.6 562.0 586.3 562.0 586.3 550.3 597.3 550.3 597.3 538.7 609.0 538.7 609.0 527.0 620.3 527.0 620.3 515.0 632.0 515.0 632.0 502.7 643.0 502.7 643.0 491.0 654.7 491.0 654.7 479.0 666.7 479.0 666.7 466.8 678.0 466.8 678.0 455.7 689.7 455.7 689.7 444.0 700.9 444.0 700.9 430.8 712.4 430.8 712.4 419.5 724.7 419.5 724.7 430.2 788.9 430.2 788.9 395.6 788.9 394.6Z" fill="#fff"/>
</g>
<path d="M637.6 395.6V693.0M695.1 395.6V693.0M752.7 395.6V693.0M810.2 395.6V693.0M867.8 395.6V693.0M579.6 455.1H925.3M579.6 514.6H925.3M579.6 574.0H925.3M579.6 633.5H925.3" stroke="#000" stroke-opacity="0.12" stroke-width="1" fill="none"/>
<path d="M637.6 395.6v3M637.6 693.0v-3M695.1 395.6v3M695.1 693.0v-3M752.7 395.6v3M752.7 693.0v-3M810.2 395.6v3M810.2 693.0v-3M867.8 395.6v3M867.8 693.0v-3M579.6 455.1h3M925.3 455.1h-3M579.6 514.6h3M925.3 514.6h-3M579.6 574.0h3M925.3 574.0h-3M579.6 633.5h3M925.3 633.5h-3" stroke="#333" stroke-width="1" fill="none"/>
<rect x="579.6" y="395.6" width="345.7" height="297.4" fill="none" stroke="#3a3a3a" stroke-width="1.1"/>
<text transform="translate(545.10,402.73) scale(0.1766,0.1690)" font-size="100" fill="#1a1a1a" xml:space="preserve"><tspan font-family="Liberation Sans" font-weight="400">500</tspan></text>
<text transform="translate(545.10,461.93) scale(0.1766,0.1690)" font-size="100" fill="#1a1a1a" xml:space="preserve"><tspan font-family="Liberation Sans" font-weight="400">450</tspan></text>
<text transform="translate(545.10,521.23) scale(0.1766,0.1690)" font-size="100" fill="#1a1a1a" xml:space="preserve"><tspan font-family="Liberation Sans" font-weight="400">400</tspan></text>
<text transform="translate(545.10,576.33) scale(0.1766,0.1690)" font-size="100" fill="#1a1a1a" xml:space="preserve"><tspan font-family="Liberation Sans" font-weight="400">350</tspan></text>
<text transform="translate(545.10,635.53) scale(0.1766,0.1690)" font-size="100" fill="#1a1a1a" xml:space="preserve"><tspan font-family="Liberation Sans" font-weight="400">300</tspan></text>
<text transform="translate(545.10,696.83) scale(0.1766,0.1690)" font-size="100" fill="#1a1a1a" xml:space="preserve"><tspan font-family="Liberation Sans" font-weight="400">250</tspan></text>
<text transform="translate(564.20,719.04) scale(0.1772,0.1648)" font-size="100" fill="#1a1a1a" xml:space="preserve"><tspan font-family="Liberation Sans" font-weight="400">400</tspan></text>
<text transform="translate(624.10,719.04) scale(0.1772,0.1648)" font-size="100" fill="#1a1a1a" xml:space="preserve"><tspan font-family="Liberation Sans" font-weight="400">450</tspan></text>
<text transform="translate(678.70,719.04) scale(0.1772,0.1648)" font-size="100" fill="#1a1a1a" xml:space="preserve"><tspan font-family="Liberation Sans" font-weight="400">500</tspan></text>
<text transform="translate(739.20,719.04) scale(0.1772,0.1648)" font-size="100" fill="#1a1a1a" xml:space="preserve"><tspan font-family="Liberation Sans" font-weight="400">550</tspan></text>
<text transform="translate(794.70,719.04) scale(0.1772,0.1648)" font-size="100" fill="#1a1a1a" xml:space="preserve"><tspan font-family="Liberation Sans" font-weight="400">600</tspan></text>
<text transform="translate(851.90,719.04) scale(0.1772,0.1648)" font-size="100" fill="#1a1a1a" xml:space="preserve"><tspan font-family="Liberation Sans" font-weight="400">650</tspan></text>
<text transform="translate(911.80,719.04) scale(0.1772,0.1648)" font-size="100" fill="#1a1a1a" xml:space="preserve"><tspan font-family="Liberation Sans" font-weight="400">700</tspan></text>
<text transform="translate(644.50,737.95) scale(0.1723,0.1786)" font-size="100" fill="#1a1a1a" xml:space="preserve"><tspan font-family="Liberation Sans" font-weight="700">Emission Wavelength</tspan><tspan font-family="Liberation Sans" font-weight="400"> (nm)</tspan></text>
<text transform="translate(527.07,652.30) rotate(-90) scale(0.1701,0.1444)" font-size="100" fill="#1a1a1a" xml:space="preserve"><tspan font-family="Liberation Sans" font-weight="700">Excitation Wavelength</tspan></text>
<text transform="translate(529.80,454.80) rotate(-90) scale(0.1766,0.1668)" font-size="100" fill="#1a1a1a" xml:space="preserve"><tspan font-family="Liberation Sans" font-weight="400">(nm)</tspan></text>
<text transform="translate(709.70,768.73) scale(0.2117,0.2077)" font-size="100" fill="#1a1a1a" xml:space="preserve"><tspan font-family="Liberation Serif" font-weight="400">(</tspan><tspan font-family="Liberation Serif" font-weight="700">b5</tspan><tspan font-family="Liberation Serif" font-weight="400">)</tspan></text>
<text transform="translate(588.80,430.49) scale(0.1735,0.2085)" font-size="100" fill="#000" xml:space="preserve"><tspan font-family="Liberation Sans" font-weight="700">S5-S</tspan></text>
<g clip-path="url(#ca6)">
<rect x="79" y="785" width="327.8" height="289.0" fill="#fff"/>
<g filter="url(#tex)"><rect x="77" y="783" width="331.8" height="293.0" fill="#000"/>
<path d="M393 1075 361.1 1075 357 1073.7 351 1067.3 349 1053.6 346.8 1069 342.8 1075 299.2 1075 296 1071.4 293.1 1075 86.9 1075 84 1070 83.6 1058 84.6 1052 87 1048.9 92 1046.9 101 1046 273 1045.8 286 1046.6 293 1048.9 293.8 815 295.5 795 298 790.8 303 788.8 340 789 344 790.8 346 793.6 348 804.9 350.5 795 356 790 366 787.9 387 787.8 400 790.5 403.9 794 405.8 798 407.2 808 407.1 824 405.8 832 403.1 837 399 840 392 841.8 366 842.1 355 839.5 351.1 836 349 831.2 348.5 833 348.3 1023 349 1036.4 351.3 1022 354.3 1018 359 1015.5 370 1014.1 389 1014.3 397 1015.9 402 1019.3 404.5 1024 405.8 1032 405.3 1062 401.8 1071 393 1075Z" fill="#4c4c4c" fill-rule="evenodd"/>
<path d="M392 840.1 364 840.2 357 838.4 353 835.3 349.9 827 349.3 810 350.8 799 354.7 793 364 789.8 384 789.2 396 790.8 402 794.7 405.4 806 404.7 829 401 836.4 392 840.1ZM290 1075 89.7 1075 85.9 1070 85.4 1057 86.6 1052 90 1048.9 108 1046.7 277 1046.8 289 1048.5 292 1050.2 294 1053.6 295.5 800 298 793.2 302 790.9 339 790.7 343 792.3 345.1 795 347.3 810 346.5 1065 344 1071.8 340 1074.1 305 1074.6 298 1071.8 295.6 1067 295 1060.9 293.8 1071 290 1075ZM385 1074 361.6 1073 356 1070.4 353 1066.3 350.9 1055 351.3 1031 353.3 1023 358.7 1018 370 1016 390 1016.4 398 1018.9 402 1023.7 404.3 1042 402.5 1065 397 1071.7 385 1074Z" fill="#545454" fill-rule="evenodd"/>
<path d="M384 839 363 838.2 357 836 354 833 351.4 824 351.2 808 353 799 357 794 367 791.3 386 791.1 396 793 401 797 403.2 803 404 812 402 831 396.1 837 384 839ZM339 1072.2 303 1072.2 298.2 1069 296.3 1062 295.8 810 298 796.4 301 793.5 305 792.5 339 792.8 343.8 796 345.7 803 346.3 1053 344.7 1067 343 1070 339 1072.2ZM381 1072 362 1070.5 357.5 1068 354.8 1064 353 1052 353.6 1031 356 1023.7 361 1019.8 372 1018.1 389 1018.6 396.3 1021 400.2 1026 402.1 1046 400 1064.4 394 1070.2 381 1072ZM286 1075 93.9 1075 90 1073 88.1 1070 87.4 1058 88.5 1053 91 1050.2 102 1047.9 280 1048 288.6 1050 292.2 1055 291.9 1070 290 1073 286 1075Z" fill="#5c5c5c" fill-rule="evenodd"/>
<path d="M383 837 364 836.2 359 834.3 355.7 831 353.3 822 353.3 808 355 800.4 359 795.7 368 793.2 386 793.1 394.7 795 399.3 799 402 813 400 829.6 394.7 835 383 837ZM337 1070 304 1069.8 299 1066.1 297.3 1059 297 812 299 798.9 301.8 796 306 794.8 339 795.5 343 798.9 344.7 806 345 1053 343 1066.1 341 1068.5 337 1070ZM385 1069 366 1068.4 361 1066.3 358 1062.9 355.8 1053 356 1035 358 1027.1 362.1 1023 370 1021 385 1021 392.9 1023 397 1027.1 399.4 1040 398.1 1060 394 1066.3 385 1069ZM274 1075 102 1074.8 95 1073.4 91.5 1071 89.9 1066 89.9 1058 91 1053.8 93.9 1051 106 1049 267 1048.8 286.1 1051 288.5 1053 290 1057 289.1 1070 284 1073.8 274 1075Z" fill="#636363" fill-rule="evenodd"/>
<path d="M387 834.1 368 834.1 363 832.9 358.9 830 356.1 823 355.5 813 356.8 804 360 798.9 367.1 796 381 795.4 391 796.7 396.1 800 399.2 809 398.5 825 395 831.1 387 834.1ZM333 1067 304 1066.1 300.6 1063 298.9 1056 298.6 815 301 801.3 303.7 799 308 798 337 798.6 341 801.3 343.1 809 343.4 1051 341 1063.7 338 1066.1 333 1067ZM382 1065 367.6 1064 363.9 1062 361.2 1058 359.7 1049 360.2 1036 362.2 1030 367 1026.2 375 1024.8 385 1025.4 391 1027.9 393.8 1032 395.4 1044 394 1057.5 390 1062.8 382 1065ZM276 1073.1 105 1073.1 98.5 1072 95.1 1070 93.4 1066 93.1 1060 94 1055.8 96.3 1053 107 1050.7 275 1050.9 284 1053.3 286.1 1056 286.9 1061 284.9 1070 276 1073.1Z" fill="#6b6b6b" fill-rule="evenodd"/>
<path d="M382 831.1 367 830 361 825.3 359.3 819 359.4 810 361 804.7 364.7 801 372.4 799 384 799.2 390.3 801 394 804.7 395.9 815 394.1 825 390 829.2 382 831.1ZM331 1061.1 307 1060.3 303.4 1057 301.9 1050 301.6 820 304 807 311 803.9 335 804.7 338.6 808 340.1 815 340.4 1045 338 1058 331 1061.1ZM380 1053.3 374.3 1053 370.9 1049 370.9 1041 375 1036.7 380.7 1037 384.1 1041 384.1 1049 380 1053.3ZM271 1070 113 1070.3 102.1 1068 99.9 1065 99.5 1061 100.3 1058 103 1055.5 114 1053.6 267 1053.7 277 1055.5 280.4 1060 279 1067 271 1070Z" fill="#737373" fill-rule="evenodd"/>
<path d="M379 824.1 371.4 823 367.5 819 367.1 812 371.4 807 382 806.4 387.5 811 388.3 816 387 820.1 384 822.8 379 824.1Z" fill="#7a7a7a" fill-rule="evenodd"/>
</g>
<clipPath id="lca60"><path d="M79 785H292V1048H79Z"/></clipPath>
<g clip-path="url(#lca60)" fill="none" stroke-width="1">
<path d="M158.5 784.5l-3 0 3 0M77.5 786.5l2-1 7 3 2-1 3 1 1 0-1-1 1-2 2 2 1 2 4-3 7 3 4 0 2-4 3 0 0 2 3 3 3-1-4-1 1-1 2 0 10-2 2 0-1 1 2 2 3-1-1-1 1-1 3 0 2 0 0 1 1 0-1-1 1-1 2 2 2-1 10 2 3-2 2 0 3 0 2 1-2 1-1 2-3-3-1 1 0 1 3 1-1 1 5 0 2-3 5-1 1 3 4 1 1-1 1 1 4-2 0-1 1 0 2 1 3-1 1 1-1 2 2-1 3 0 2 2 4 1 1 0 2 1 2 0 5-5 3 1 1 1 4 2 3-3 5 1-1 1 4 0 1-2 1 0 4 2 8 0 1-1-2-1 0-1 2 0 2 2-1 1 1 1 1-1 3 0 6-1 2 2 1-2 3 0 2-1 4-1 3 0 1 1 2-1 9 1 17-3 8 0 1-1 6-2 3 1 2 2-2 1 0 2 2 1 5 0 3-3 2 0 2 0 2 2 1-1-3-1 1-1 2-1 4 1-2 1 0 1 3 0 0-1 7 3 2-1 2 0 4 2 3 1 3 0 4 1 6-1 3 0 1-2-3-1-4 0-3-2 1-2 3-1 4 0 7 3 2-2 1 2 5 0 2 3-5 1 5 1 2-1 0-2 7 0 1-2 3-2 4 0M103.5 786.5l-2 0 2-1 0 1M85.5 786.5l-1 0 1 0M108.5 787.5l-1 0 0-1 2 0-1 1M175.5 786.5l-1 1-1-1 1-1 2 1-1 0M215.5 786.5l-2 0 2 0M138.5 787.5l-2 0 2 0M152.5 787.5l-2 0 2 0M181.5 788.5l-3 1-2-2 5 0 0 1M197.5 788.5l-1-1 1 0 0 1M319.5 787.5l-1 0 1 0M365.5 787.5l-1 0 0-1 2 1-1 0M113.5 788.5l-1 0 1 0M164.5 789.5l-1 0 1-1 1 1-1 0M170.5 789.5l-3 0 3 0M206.5 789.5l-3 0 3-1 1 1-1 0M333.5 789.5l-2 0 2 0M352.5 790.5l-1 0 1 0M283.5 792.5l0-1 0 1M316.5 786.5l-2 0 1-1 1 1M378.5 788.5l-2 0 1-1 2 1-1 0M408.5 789.5l-1-1 1-1M126.5 788.5l-2 0 1-1 1 1M77.5 791.5l5 0 1-1-2-1 2 0 3 1 4 0 1 2 3-1 5 1 3-2 3 1 2-1 3 1 4-1 8 4 3-2 6 1 1-1-1-1 2-1 2 1 0 2 4-3 1-2 1 0 2 2 1 3 1 0 1 0 1-2 5 2 10-1 6 1 3-1 3 2 4-1 2-1 3 1 2 2 3-2 3 0 2 2 2-1 2 1 11 1 2-1 5 1 1 0 0-1-3-1 2-1-1-1 2 0 5 1 1 1-3 1 2 1 3-2 4 0 1-2 1 1-1 1 5 0 4 1 1-2 5 0 1 1 6 0 4-1 3 0 10-1 1-1 4 0 3-1 3 0 3 3 5 1 2 0 0-1-3 0-1-2 4-1 3 0 10-3 4 1 1 1 3-2 4 1 0 3-4 0-1 3-2 1-2-1 0 1 4 1 1-2 3 1 10-3 5-1 4 0 0 1 1 1 3-2 2 1-1 1 4 1 3-1-1-2-4 1-1-1 1-1 14 2 3 2 5-1 1 1 4 0 12-1 2-1 0-2 2-2 2 3 0 2 2 1 10-1 3-2 5 0 2-2 2 1M387.5 789.5l-1 0 1 0M130.5 791.5l-5 0 3-1 3 1-1 0M146.5 791.5l-2-1 3 0-1 1M141.5 792.5l-1 0 1 0M188.5 792.5l-2 0 1-1 1 1M192.5 794.5l-1-1 2 0-1 1M297.5 794.5l-1 0 1 0M304.5 792.5l-2 0-2-2 2-1 3 1-1 1 0 1M77.5 797.5l1 0 0 1 2 0 2-1 0-2 1 0 5 1 7-1 2 1 3-1-1-1 4-1 0-1 2 1-2 1 2 2 3 0 2-1 0-1-2 0 8-1 3 2 7 1 2-1 0 1 3 1 5-3 2 1-1 2 5-1 4 1 9-3 2 0-1 1 1 1 2 0 2-2 3 1 1-1 7 1 1 1 0 1 12-1 9 2 4-1 3 1 7 0 6-1 2 1 2-1 12 0 4-2 2 2 4 0 3-1 4 1 3-2 5 0 1 0-1 1 1 0 3-1 1 1-2 1 1 2 4-3 2 0-1 1 1 0 2-1 3 1 2-2 1 1 5 1 0-2 2-1 3 1 2 1 7-2 6 2 4-1 1 1 2 1-2 1 2 1 2 0 0-1 1-1 4 1-3 2 0 1 5-3 0-1 4-1 1-2 9 0 2-1 2 0-1 2 1-1 2 0-1 1 1 1 6 1 13-2 9 1 13-2 8 2 5-1 0 2 1 1 4-3 3 1 1-1 3 1 0-1 1-1 4 2 3 0M83.5 793.5l-1 0 1-1 0 1M275.5 795.5l-1-1 1-1 2 0-2 2M77.5 794.5l4 0 1 1-5-1M89.5 794.5l1 0-1 0M265.5 795.5l-1-1 2 0-1 1M271.5 796.5l-1-1 1-1 1 1-1 1M276.5 802.5l-1 0 1 0M77.5 799.5l4 1 2-2 2 0 1 2 2 0 1-2 2 0 2 0 4 0 0 1 1 1 4-1-1-1 2-1 6 1 2 2 1-2 3 0 2 1 1-2 2 2 2-2 3 1 0 2 1 0 2 0 1-2 3 1 4-1 10 4-1-1 2-1 2 0 0-1 0-1 3 1 3-2 2 0 2 2 2 0 2 0 2 1 2-2 3-1 6 2-1 1 1 1 2-2 3 0 4-1 0 2 3 2 3-2 2 2 3-1 5 1 3-1 1-1 4 1 9-2 2 1 2-1 4 1 2 1 3-2 5-1 3 2 6-2 5 0 2 2 4-2 1 1 0 1 0 2 3-2 2 0 2 2-1 2 18 0 1 0 1-2 7-2-5 0-4-1 6-2 2 1 2-1 2 1 4-2-1 2 1 1-1 1-3-2-1 1 0 1 2 1 0 1 1 1 7-2 2 1 9 0 4-1 2 1 2 0 1 1 5 0 2-1-5-2 3-1 2 2 2-1-1-1-2 1 0-2-4-1 0-1 2-1 4 3 4 1 0 1 1-2 1 0 2 2 3-2 3 1 11-3 8 2 3-2 3 1 8-2 2 1 4 1 2 2 3 1 3-2 5 1 6-2 5 1 1 1-4 1 4 1M117.5 797.5l-2 0 0-1 2 0 0 1M162.5 797.5l-1 0 1-1 1 1-1 0M278.5 799.5l-5 0 2-1 4 1-1 0M320.5 798.5l-1 0 2 0-1 0M226.5 799.5l-1 0 1 0M269.5 799.5l-1 0 1-1 0 1M367.5 799.5l-2 0 2 0M318.5 800.5l-1 0 2 0-1 0M401.5 801.5l-3-1-1 0 1 1 3 0M267.5 802.5l-2 0 2 0M371.5 798.5l-3 0 4-1-1 1M356.5 798.5l-2 0 1-1 1 1M376.5 799.5l-1-1 1 0 1 1-1 0M93.5 800.5l-2 0 2 0M77.5 803.5l2 1 6 0 2-3 2 1-1 1 2 1 4-4 2 1-2 3 4 0 2-2 3 3 2-1 6 0 5-1 4 1 4-1 1-1 2-1 7 1-4 3 1 1 8-3 1 0-1 1 2 2 5-1 3-3 7 2-1-3 1-2 2 1 0 1 2 0 2 2 3 0 2-1 5-1 1 1-1 1 0 2 1 0 3-1 2 1 1-1 3-1 1 1 3-1 3 1 3-1 5 2 2-1-1-1 1 0 5 1 3 0 1-1-1-1 4-1 5 1 3-1 3 1 2-1 4 2 4-3 6 2 7-2 2 2 7 0 3 3 2 0 8 1 2-1 7 1 2 2 7 0 3 1 3-1 1-3 3-1 10-1 10 1 2 0 6 1 2-1 3 0 4-2 9-1 4-1 3 1 2-1 3 1 2-2 1 2-3 2 4-1 0 2-3 1-4-1-1 1 1 1 4 1 4 0 6-3 2 1 1 0-1-1 1-2 5 0 1-2 8 2 1 1 2-2 5 1 3 0 2 1-1 2 1 1 2 0 0-1 1-1 3 1 2-1-4-1-2-1 9 1 3-1M362.5 803.5l-5-1 2-2 6 1-3 2M254.5 802.5l0-1 0 1M383.5 802.5l-2-1 3 0-1 1M143.5 802.5l-1 0 1 0M350.5 802.5l-1 0 1 0M129.5 803.5l-2 0 2 0M161.5 804.5l-1 0 1 0M279.5 806.5l1 0-1 0M280.5 807.5l0-1 0 1M293.5 809.5l0-1-1 1 1 0M233.5 803.5l-1-1 1 0 0 1M226.5 804.5l-2 0 1-1 1 1M339.5 807.5l-5 0-2-2 4-1 2-1 2 0 3 0 0 2-4 2M386.5 803.5l-1 0 1 0M217.5 806.5l0-2 1 1-1 1M77.5 807.5l1 1 3 0 6 0 1 1 3-1 2 1 4-3 2 0 6 3 1 0-1-1 2-1 2 2 3-1 0-1 1-1 3 2 1 0 0-1 3-1 5 1 2 1 8-1 2 0 2 0 4 0 5-2 1 2 1 0 2-1 2 1 3-1 4 1 8-1 3 2-1-1 4 0 1 2 3-1 2-2 1 1 3 0 5-1 7 2 4-1 2 1 2 0 2 1 2-1 0-1 2 0-2 1 2 1 1-1 0-1 4-1 0 1-1 1 5 1 3-1 6-1 2-1-1-1 1-1 1 2 2 0 7-2 5 0 1 2 2 0 0-2 1 0 7 2 2 2 6-1 5 0 3 3 6 1 2-2 4 0 6 2 5-2 0-2 1-2 3 0 3 1 1 0-1-1 1-1 12 3 4-1 2 2 4-2 4 0 1 1-2 2-4-1 0 2 5-1 3 2 6 0 5-1 4 1 16-2 1-1-1-2 3 1 7-3 12 3 5-1 1 1-1 2 1 1 8-2 1 0-3 1 2 2 2-2 4 1 2-1M86.5 806.5l-2-1 2 0 0 1M347.5 807.5l-3 0-1-2 3 0 2 1-1 1M180.5 806.5l1 0-1 0M91.5 808.5l-1-1 1-1 1 1-1 1M206.5 808.5l-2-1 2 0 0 1M238.5 808.5l0-2-2 2 2 0M300.5 808.5l-1-1-1 1 2 0M310.5 807.5l-1 0 1 0M407.5 809.5l0-1 1 0-1 1M236.5 809.5l-1-1-1 1 2 0M285.5 811.5l-2 0 2 0M405.5 811.5l-3 0 3 0M77.5 812.5l2 1 2-1 3 1 2-2 5 0 4-1 6 2 2-1-2-1 1 0 3 0 2 2 2-2 2 1 2-2 4 1 7-1 3 1 13-1 1 1 2-1 9-1 5 1 3-1 3 2 7-1 3 1-1 1 5-1 1 2 1 0 4 0 1-1 1-3 4 0 3 2 3 0 2 1 1-1 0 2 1 0 3-1 6 0 2-1 4 1 5-1 3 1 1 0 0-2 2 0 3 0-3 1 4 1-5 2 1 1 5-2 6 2 2-1 3 1 1-2 5-1 0-2 1-1 1 0 1 1-1 1 1 1 3-1 3 0 3 1 1 2 2 0 1-2 5 0 8 2 5-1 1 2-1 1 1 1 3-1 2 2 3-1 2 0 4-5 3 1-1 1 1 1 1-3 1-2 5 1 8 0 0-1-1-1 6 0 3 2-2 2-1 2-3 1 5 2 2-1 0-2 2-2 3 1 3-2 7 1 7-1 5 2 2-1 3 0 4-1 5 1 3-2-1-1 2-1 2 0 2-2 4 0 12 2 4 3 5 0 5 2 2 0 3 1 1 0M253.5 808.5l-2 0 2 0M188.5 811.5l-1 0 1 0M288.5 811.5l-1 0 1 0M315.5 813.5l-1-1-4 0 2 1 3 0M273.5 813.5l-1-1-2 1 3 0M287.5 813.5l-2 0 2 0M310.5 815.5l-1-1-2 1 2 1 1-1M300.5 819.5l-2-2-3-1-1 0 3 2 3 1M308.5 820.5l1-1-2-2-6-1 4 3 0 1 3 0M313.5 818.5l-2 0 2 0M294.5 819.5l-1 0 1 0M77.5 816.5l2-1 3 1 2-1 5 0 1 0-1-2-2 0 4-1 2 1 0 1 0 1 1 0 5-1 2-1 6 1 2-2 4 1 2-1 3 1 2 0 3 1 6-1 1-1 2 0-1 1 4 1 3-2 11-1 3-1 1 2 3 1-1 1 2 1 3-1-1-1 1-1 1 1-1 1 1 0 4-1 2 1-3 1 2 0 2-1 3 0 4-1 3 1 0 1 5 1 3 0 1-1 3 0 0-2 1 0 2 1-3 1 1 1 3-1 2 1 13-1 1 1 4 1 3-2 4 1 0 2 1-1 1-2 1 0 2 1 2-1 2 2 5-2 8 2 7-1 0 1 2 1 1-2 3 0 4-2 4 2 4-2 6 1 2 2 3-2 1 2 5 4 1-2 4 0 1 3 4-2 3 0 1 1 11 0 2 1 1-1 0-1 3 0 3-1 2 0 4-2 0-1 3 0 1-2 3-2 9 1 2 2 4 0 3 1 8-3 12-1 5-2 2-2 6 0 3 2 2 0 1 1-5 2-1 2 0 2 3 2 2-1 4 0 1 1 1 0 2-2 4 0 4-3 2 1-1 1 3-1M153.5 810.5l-1 0 1 0M317.5 812.5l0-1 0 1M96.5 813.5l-1-1 1-1 0 2M135.5 812.5l-2 0 2 0M165.5 813.5l-1-1 1 0 0 1M145.5 813.5l-1 0 1 0M392.5 815.5l0-2 0 2M252.5 815.5l-1 0 0-1 1 1M386.5 817.5l-2 0 2 0M250.5 819.5l-3 0 1 1 2-1M331.5 819.5l-1 0 1 0M401.5 819.5l-3 0 1 1 2-1M247.5 820.5l-2 0 2 0M256.5 822.5l-4 0 3 1 1-1M380.5 810.5l-1 0 2 0-1 0M379.5 814.5l-6 0 4 0 2-3 1 1-1 2M148.5 814.5l-1-1 1 0 0 1M77.5 819.5l2-1 11 0 12-3 4 1 4 0 1 0-1 2 4 1 3-2 2 2 3-2 15 0 5-3 2 1 3-1 8 3 5-1-1 1 10-1 2 1 0-1 3 0 1-1 3 2 2-1 3 1 7 0 1 1 3-1 6 2 7-1 4 1 5-1 5 2 2-2 3 1 1-1 2 0 5-1 3 3 4 0 0 1 4 3 5-1 6 2 5-1 3 1 3-1-3-1-2-2-4 0-1-3 5-1 2 1-2 1 1 0 2-2 2 1 2-1 2 1 1 1-1 2 2 0-4 0-2 2 1 0 4 1 1 1 7 1 7-4 1 1-2 1 2 2 3-1 2 1 0-1 1-2 4 2 0-2 3-1 5 2 2-2 6 1 6-1 4 1 2-1 4-1 3 1 6-1 3 2 2-1-2-1-1-1 2-1-2-2 4-1 11 2 7-1-3-2 0-1 3 1 1-1 2 0 3 1-3 1-1 1 1 1 6 1 3-1-3-1 1-1 3 1 1 1 6 1 4 2 7-1 4 1 5-2 5 0M334.5 816.5l-3-1 4 0-1 1M339.5 821.5l0-2-2-1 0-2 1-1 1 1-1 1 3 2-2 2M94.5 818.5l-1 0 1 0M327.5 820.5l-2 1-1-2 2-1 2 0 0 1-1 1M184.5 819.5l-1 0 1 0M335.5 819.5l-1 0 1 0M240.5 821.5l-1 0 1 0M294.5 823.5l-1-1 2-1-1 2M275.5 823.5l0-1 1 0-1 1M280.5 825.5l-1 0 0-2-3-1 2-1 2 1 1 2-1 1M288.5 822.5l1 0-1 0M77.5 821.5l7 2 6-3 5 0 2-1 2 1 3-1 1 2 1 0 0-2 12 2 2-1 5 0 3-1 5 2 4-2 2 1 6-2 4 1 2-1 3 1 2-1 3 0 4 1 3-1 3 2 2-2 4 0 1 0 0 1 2 1 5 0 4 2 1 0 0-1 3-2 5 5 7 1 1-1-2-1 2-1 2 1 0 1-1 1 5-1 3 2 1-2 5 0 13-3 3 0 2-1 2 1 2 2 2 0 2 1 1 1-2 1 3 1 1 1-1 1 1 0 6-2 3 1 4-1 6 0 3 0 9 1 6-2 2 2 5-1 8 0 6-2 1 1 4-2 1 0-1 1 2 1 7 0 14-3 7 1 7 0 0-3 8-2 6 1 1 1 4-1 4 2 3 0 1 2 2-1-4-1 0-1 5 0 2-2 3 2 0 1-2 0 2 2 1-1 13-1 4 0 4-1 3 1 2-1M345.5 818.5l-1 0 1 0M122.5 819.5l-1 0 2 0-1 0M139.5 819.5l-1 1 0-2 1 1M195.5 822.5l-1 0 0-1 2-2 4 1 0 1-5 1M206.5 821.5l-2 0 1-1 1 1M213.5 823.5l-2-1 2-2 2 1-2 2M227.5 824.5l-1 0 1 0M317.5 824.5l-2 0 2 0M198.5 825.5l-5 0 5 0M331.5 827.5l-2 0 2 0M77.5 827.5l2-1 0-1 2-1 1 1 6 0 1 0-2-1 0-1 6 2 3-1 3 2 1-3 3 1 1 0-1-1 2-1 4 3 5-3 4 1-1-1 2-1 3 2 2-1 4 0 6-1 5 2 1 0-1-1 1-1 2-1 2 1-1 1 4-1 5 0 7 3 0-1-1-2 0-1 1 0 3 2 7 0 1 3 2 0 1-2 4-1 3 2-1 1 0 1 5-1 3 1 0 1 2 1 5-1 6 2 9-1 4 1 2-2 5 1 2-1 2 1 6 1 2-1-1-1 1-4 2 0 2 1-2 1 0 2 2 2 9 1 8-1 8 0 7-1 4 1 2-1 12 2 4-2 8 0 4-1 9 3 6-2 9 0 1 1 1 2-1 1 1 0 8-2 4 1 1-1 0-1-3-2 2-1 8 1 3-2 3 1 5-1 1-1-2-1 6-1 4 3 5 0 10 0 3-1 7 0 3 2 3-1 9 2M101.5 822.5l-2 0 2-1 0 1M354.5 822.5l-1 0 1-1 0 1M150.5 824.5l0-1-2 0 2 1M334.5 825.5l-2-1 2 0 0 1M201.5 828.5l-2-1 1-1 2 1-1 1M336.5 826.5l-1 0 1 0M344.5 828.5l-1-1-1 1 2 0M77.5 829.5l2 1 1-1-1-1 3-2 3 2 6-1 5 1 1-1 4 0 3 1 1 0 1-1 2 1 4-3 6 2-1 1-1-1 0 1 5-1-1-1 0-2 1 0 4 1 3-1 2 1 0 2 1 0 2-1 4 1 3-2 4 1 1-2 1 0 2 1 3 0 0 2 4 1 3-2 5 1 1-2 1 0 3 2 2 0-2 0 0 1 8 1 1-1 2 0 1 2 2-2 6 1 2 1 2 0 17-1 3 1 10 1 2-1 4 1 3-1 13 2 5-1 6 0 3-1 5 2 2-1 2 0 4-1 4 2 3-2 16 3 1 1 0 1 1 0 1-1 1 1 0-2-6-1 0-2 3-1 1 2 1 0 7-2 3 1-2 1 2 0 0-1 4 2 6-2 2 1 4 1 0 2 2-1 3 1 3-1 4 0 2-1 3 0 2-1 8-1 1-1 2 1 4-3 2 0 0 1 4-1-1 0 0-2 2 0 3 1 3 0 3 1 2-1 6 1 1 0-2 1 2 0 1 0 0-2 4-1 1 0 1 1 3 0 4 1 0 2 4-1 4 2 4-2M112.5 828.5l0-1-1 1 1 0M77.5 828.5l1 0-1 1M395.5 830.5l1-1-1-1-3 0 2 1-1 1 2 0M266.5 830.5l1 0-1 0M275.5 830.5l-2 0 2 0M206.5 831.5l-4 0 4 0M289.5 831.5l-1 1-1-1 1-1 1 1M149.5 829.5l-1-1 1 0 0 1M390.5 829.5l-1 0 1-1 0 1M77.5 831.5l7 1 3-2 1 0 1 1 3 1 7-2 2 1 2 0 3-1 2 1 3 0 0-1 0 1 7 1 2-1 5 0 3-2 0 1 2 1 6-2 3 2 1 2 3 0 2-1 2 1 2-2 8-2 2 0 1 1 5-1 4 1 0 1 3 1 6 2 5 0 4 0 1-1 4 0 3-1-1-1 1 0 0 1 2 0 4 0 5 1 12-1 6 1 5-1 2-1 4 1 5 0 6 1 1 0 0-1 4 1 2-1 5 1 1 2 8 0 9-1 1-1 3 1 4-1 6 2 2 1 5 1 13-2 5 0 5 2 3 0 0 1 3 0 3-1 3 0 0-2 2-1 4 0 4-1 2 1 2-1 7 0 1-2 2 1 3-2 2 1 2-1 1 0 0 1 2 0 5 0 0-1-1-1 1-1 5 2 7 0 5-1 0 1-3 1 0 1 3 1 3-1 4 1 2-2 11 1M145.5 830.5l-1-1 1 0 0 1M152.5 830.5l-1-1 2 0-1 1M135.5 833.5l1-1-3 1 2 0M156.5 834.5l-2-2-3 1 2 2 3-1M183.5 832.5l-3 0 2-1 1 1M374.5 832.5l-1 0 1 0M96.5 833.5l-1 0 1 0M169.5 834.5l0-1-3 0 3 1M307.5 833.5l-1 1-1-1 3 0-1 0M379.5 833.5l-1 0 1 0M149.5 834.5l-1 0 1 0M268.5 834.5l-1 0 1 0M327.5 836.5l-1-1 2 0-1 1M328.5 836.5l-1 0 1 0M77.5 836.5l2 0 3-2 6 2 1-1 2-1 1 1-1 1 5 1 2-1-1-1 2-1 0-1 4 0 2-1 1 0 2 3 4 0 1 1 3 0 1-2 3 0 7 1 3 1 1-1 6 0 1 1 2-1 10 2 3-1 3 1 1-1 6 0 0-1 3-1 3 1 0 2 3-1 5-1 4 1 5 0 3 1 1-1-1-2 5 2 7-2 16 1 3 0 2 0 4-1 2 2 1-2 4-1 2 1 3-1 2 1 3 0 5 0 7 3 1 1 2-1 3 2 11-3 12-1 7 3 8 1 12-2 2 0 1 2 5 0 4 1 6 1 2-1 4-3 5-1 1-1 2 1 4-1 4 2 2-1-3 0-1-2 1 0 4 1 2-2 2 2 3-1 1 1 3 0 3 1 2-1 9 1 11 0 7-1 2-2 2 2 4 0 3-1M116.5 832.5l-2 0 2 0M128.5 832.5l-1 0 1 0M77.5 834.5l1 0-1 2M103.5 836.5l1-1-3 0-1 1 1 1 2-1M213.5 837.5l-1 0 1 0M314.5 837.5l-1 0 1 0M77.5 839.5l7-1 6 2 2-1 4 2 0-2 3-1 1 3 3 1 3-2-1-1 5 0 2-2 7 1 2-1 1 1 3 0 1 1 7-2 2 0-1 1 1 1-5 1 7 1 1 0-2-1 1 0 3-1 2-1-2-1 1 0 4 0-3 3 2 0 3 0 1-2 2 1-1-1 3-1 3 1 4 0 6 2 3-1 1 1 5-2 5 0 6-1 2 1 5 0 4-1 3 0 5-2 1 1-1 1 0 2 3-1 0-1 6 2 2-2 2 2 3-1 3 1 4 0 3-2 5 0 0-2 2 0 2 1 5-1 4 1 1 1-1 1 2 1 4-1 2 2 7 1 6-2 1 1 3 0 2 2 2-1-3-1 0-1 2-2 4-1 4 1 1 1-1 2-4 0-2 1 1 1-3 1 1 0 2-1 6-1 9-1 3 2 4-2 2 1 5-2 4 2 6-1 8 2 5 0 4-2 1-2 2 1 2-2 7 0 4 1 3 0 6 2 1-1-1-2 2 1 5-1 1 1 2-1 2 2 3-2 3 1 4-1 11 0 8 1 5-1 2 1M360.5 837.5l-1-1 1 1M90.5 837.5l-1 0 1 0M359.5 837.5l-2 0 2-1 1 1-1 0M127.5 839.5l-2-1 3 0-1 1M335.5 839.5l1-1-1 1M117.5 839.5l-2-1-1 1 2 1 1-1M122.5 840.5l-1 0 0 1 1-1M100.5 841.5l-2 0 2 0M113.5 842.5l0-1-3 0 1 1 2 0M130.5 844.5l-1 0 1 0M238.5 837.5l-1 0 2 0-1 0M77.5 840.5l4 3 3-1 4 2 5-1 6 2 5-1 1-2 2 0 1 0-2 1 1 0 3 0 0 3 6-3 2 2 3 0 2-2 4 1-1 1 1 1 4-1 4 0 5-1 1 0 0 1 1 1 1 0 0-2 4-2 4-1 2 1 4 0 4-2 8 2 4-2 2 0 1 1 3-1 5 1 6-2 3 2 3-2 1 1-2 1 0 1 5 0 1 0-3-1 3-2 6 1 3 1 3-1 2-1 10 3 8 0 2-3 1 0 2 1 6 0 1 2 2 1 3-1 4 1 7-1 2 3 3-4 1 0 1 2 3 0 1 2 4 0 3 1 6-2 3 0 0-1 1-1 2 2 3-2 7 1 5-2 2 2 3-1 4 2 1 0-2-2 1 0 9 2 4 0 4-1 2-1 5-1 2-2 4 1 3-1 5 0 2 2 0 2 5 0 3-2 2 1-2 1 1 0 2-3 3 0 5 0 7-2 5 1 2-1 3 0 3 2 3-1 6 1 3-1 2 0M192.5 839.5l-1 0 1 0M83.5 842.5l-3-1 2-1 2 1-1 1M225.5 841.5l-2 0 2 0M307.5 842.5l0-1 0 1M149.5 844.5l0-2-2 2 2 0M186.5 843.5l-1 0 1 0M133.5 848.5l0-1-1 0 0 1 1 0M408.5 847.5l-3 1 1 1 2 1M77.5 846.5l2-1 1 1-2 2 0 1 6-1-3-1 1-1 5-1 6 3 7 0 2 1 5-1 3 1 4-2 6 3 5-1 2-2 4 2 0 1 3-1 2 2 10-3 7-1 7-4 3 2 3-1 2 2 1 0 0-1 3-1 3 1 3 0 2-3 5 3 6-1 3 1 2-1 3 1 4-2 2 3 5-4 1 0 0 1 2 0 7-1 7 2 2 0 2 1 5-1 7 1 1-1 1 0 4 2 5 0 5-2 1 0-1 2 6-1 2 1 0 1 4 0 2 1 3-1 5 1 4-3 1 0-1 1 1 0 5 0 2 1 1-1-2-1 4 0 11-1 3 1 3-1 3 2 4-1 3 1 6 0 7 1 2-1-2-1 0-1 6-3 6 0 4 3 7 1 9-3 5 1 2-1 4 1 3-1 0-2 4 0 5-1 3 2 13 1 0 4-5 1 1 3 5 1M352.5 842.5l-2 0 2-1 0 1M240.5 843.5l-3 0 2-1 2 1-1 0M408.5 842.5l-1 0 1 0M164.5 843.5l-1 0 1 0M139.5 846.5l-1 0 1 0M390.5 841.5l0-1 0 1M77.5 850.5l5 0 1 1 3-2 2 1 0 1 2 1 1-2 4-1 1 2 1 1 7 0 2-2 1 2 2-1 4 1 2 1-1 1 1 1 2 0-1-1 2-1 2 0 5-1 6 1 7-2 1 2 3 0 1 0 1-1-2-1 1-1 2 2 6 1 1-2 2 1 2-1 4 0-1-2 3-1 2 2 2-2 6 0 5 2 3 1 3-1 0-2 1-1 2 1 4 0 7-2 4 2 1 1 2 0 2-2 7 1 2 0 5-1-2-1 6 0 3 1 2-1 11 2 1 0-1-1 1-1 5 1 7 0 2 1 4 1 2-1 3 1 6-1 3 1 5 0 22-3 5 1 4-1 2 1 2-2 4 2-1 1 1 1 3 1 9-3 7 1 4-2 0-2 2 0 2 1 1-2 4 1 0 2 3-1 6 1 17-1 6 3 2-1 3 1 2 0 1-1-3-5 3-1 1 3 3 1 1 0-2-1 7-1 1 1-1 5 4 2 5 1M382.5 848.5l-3-3 1-1 3 2-1 2M398.5 846.5l-2 0 2 0M165.5 847.5l-1 0 1 0M342.5 848.5l-1-1-1 1 2 0M172.5 851.5l0-1-2 0 2 2 0-1M211.5 850.5l-3 0 2 1 1-1M149.5 851.5l-1 0 1 0M125.5 855.5l0-1-3 1 3 0M77.5 852.5l6 2 3-2 3 2 6-2 1 1-1 2 1 0 3-1 1 0 1 2 4-1 2 1 5 0 4 2 4-2 2 2 2-2 5 0 3-1 11 0 0 1 2 0 1-2 14 0 2-2 3 1 1 1-1 1 1 0 2 0 0-1 1-1 4 1-5 1 4 1 3-2 7 1 2-2-1-1 1-1 6 1 3-2 3 1 2-1 2 1 5 0 3 2 4 0 4-2 3 1 2-3 3-1 1 0 0 1 5 3 3-2 0 4 2 1 2-1-3-1 2 0 1 0 0 1 1 0 7-1-3-1-6-1 2-1 8 2 1-1-3-2 0-1 5 0 3 3-2 1 3 0 3-2 5 3 0-2 1-1 3 1 6-2 2 2 7-1 2 1 8-3 3 1 1 1-3 3 0 1 7 0 2 1 1-2 5 0 2-1-3-2-2 0 3-1 3 0 1 3 1 0 3-1 6 1 10-3 12 0 3-1 27-2 16 5 5-1 4 2 11 1M299.5 848.5l-1 0 1 0M309.5 848.5l-1 1-1-1 2 0M391.5 849.5l0-1 0 1M231.5 849.5l-1 0 0-1 1 0 0 1M186.5 850.5l1 0-1 0M222.5 853.5l2-2-3 1 0 2 1-1M167.5 853.5l-2 0 3 0-1 0M257.5 853.5l-1 0 1 0M360.5 853.5l-1 0 1 0M81.5 854.5l-2 0 2 0M77.5 856.5l3-1 5 1-2 1 1 1 8-3 2 2 3 0 1 2 1 0 1-1 3-1 5 2 12 0 5 1 2 0-2-1 2-2 7 2 2-1 2 1 1 0 0-2 1 0 7 2 8-2 3 1-2-1 1-1 6 2 6 0 1 0-1 2 0 1 2-1 7-1-1-1 7-2 1 1 4 2 2 0 1-1 0-2 3 0 1-2-1-1 1 0 2 0 5 3 2-1 0-1 1 0 2 1 1 1-1 1 4 1 1 0 2-2 1 0 2 2 6-3 4 0 3 1 5 1 5-2 0 2 2 1 7-3 4 1 2 2 6-3 3 0 2-3 3-1 3 1 10 1 1-1 3-1 2 2-1 3 2 1 0 1 3 1 8-1 8-4 4 0 2-1 5 0 8-2 4 2-1 1 5 1 8-2-4-1-1-1 0-1 4 0 2-1 12 0 2 1 2-2 9 0 2 2 3-1 1 1 0 2-3 1 5 1 13-1 17 0M333.5 852.5l-3-2 4 0-1 2M201.5 852.5l-2 0 2 0M361.5 855.5l1-1 3 0 1-1-2-2-6 0-2 2 0 2 5 0M380.5 853.5l-3-1 3-1 1 1-1 1M252.5 855.5l-1-1 2 0-1 1M348.5 855.5l2-1-3 0 1 1M255.5 857.5l0-2 3 0-3 2M98.5 857.5l0-1 0 1M364.5 856.5l-2 0 2 0M301.5 857.5l-2 1-1-1 3 0M92.5 858.5l-2 0 2 0M211.5 859.5l-1-1-1 1 2 0M77.5 857.5l7 3 4-1 14 3 1 0-1-1 0-1 5 2 4-1 2 1 2-2 11 1 5 0 4 1 2 0 3 0 3-1 1-1 3 1 5-1 4 1 8-1 4 2 3-1 3 1 1-1 5 0 2 0-1 0 0 1 7 0 3 1 4 0-1-1 2-1 2 1 3-2 4 0 1 1-1 1 2-1 2 0 5 2 3-4 2 2 2-1 3 1 2-2 2 1 5-2 4 0 3 0 1 1 4 1 5-1 3 1 7 0 1 0 0-1 4-1 3-2 3-1 0-1 4-1 10 1 3 3-3 1 8 2 13-2 4-1 0-1 3 1 1-1 0-1 7 0 2-1 6 1 6 3-1-1 5 0 2 3 7-2 2-2 6 2 6-1 7 2 3-1 7-1 3-2 9-1 16 1 1 1M357.5 857.5l-1-1 1 0 0 1M226.5 857.5l-2 0 2 0M311.5 861.5l5-1-1-1-2 1-3-1 0 2 1 0M335.5 860.5l-2 0 2 0M228.5 861.5l-2 0 2 0M149.5 862.5l-1-1-1 1 2 0M191.5 862.5l-2 1-1-1 3 0M77.5 862.5l9 0 2 1-1 1-2 0 6 0 5-1 5 2 3-2 3 1 3-1 3 2 7-2 9 2 2 0 1 2 2 0 3-2 0-2 5 3 4-3 3 1 0 1 5-1 2 1 1-1 3 0 4-1 5 1 1 1 2-1 3 0 4-1 2 1 4-1 7 2 4-1 2 2 2-1 3 1 1 1 3 0 1 0-3 0 0-2 5-2 5 3 3-2 5 1 2-2 2 2 4 0 7-2 1-1-2-1 0-1 2 0 4 2 3-1 2 1 1 0 1-1 11 1 3-1 1 1-1 1 2 1 3-1 0-1-3-2 1-1 8-5 6 1 2 4 4 1 2 2 3 0 2-1 5 1 4-1 2 1 4 1 3 0 0-1 5 1 4-5 1 3 5 1 11 0 4 2-1-1 1-2 11-2 3 0 1 1 1-1 3 0 1 3 7 2 1-1 0-2 3 0 4 0 1-1 3-1 0-1 2-1 3-1 3 0 4-1 3 1 4-1 1 0 0 1-1 1 1 1 1-1 2 2 2-2 2 0M320.5 858.5l-2-1 2-1 1 1-1 1M331.5 859.5l-4-1-6 0 2-2 2-1 5 1 2 2-1 1M326.5 860.5l-3-1 2-1 2 1-1 1M408.5 859.5l-1 1-3 1 4 1M372.5 861.5l0-1 0 1M359.5 861.5l-1 0 1 0M267.5 862.5l-1 0 2 0-1 0M272.5 865.5l3-1 0-1-2-1-2 0-1 2 2 1M130.5 863.5l-3 0 3 0M172.5 864.5l-2-1 2 0 0 1M178.5 865.5l-2 0 2 0M281.5 862.5l-5-1 1-1-4 0-2-1 5-2 4 1 2 3-1 1M77.5 865.5l3 0 2 2 1-1-1-1 9 1 4-1 10 2 0-1 1-1 6 2 3-1 3 2 5-2 3 0 1 0-3 1 1 2 14 0 3 0 3-2 2 1 7 0-2-1 2-1 7 2 5-2 1 1 2-1 3 2 10-2 4 1 6 0 1 1 0 1 1 0 3-1 11 1 2-1 2 2 6-2 4 1 1-1 7 0 4-2 4-1 4 1 8-3 5 1 2-1 9 3 6 0 1 1 11-4 1 1 8 0 2-2 4 2 6-1 10 3 8 0 2-1 7-2 9 3 6 0 2 1 3-3-3-2 2-1 3 2 3 0 1 1-4 0 2 2 5-1 2 1 6-1 6 2 5-3-1-1 7-3 0-2 9-1 3 1 0 1 6 4 0 1 4 1M400.5 863.5l-1 0 1 0M398.5 868.5l1-2 3 2 1-3-3-1-6 3-3-1 1 1 3 0 1 2 2-1M407.5 866.5l-1 0 1 0M100.5 868.5l-1 0 1 0M320.5 869.5l1-1-2 0 0 1 1 0M324.5 868.5l-2 0 2 0M241.5 869.5l-5 0 5 0M391.5 865.5l-1 0-1-2 2-1-2-1 1-1 2 0-1 1 1 1 1-1 1-2 4 2-2 3-3-2-2 3M308.5 867.5l-2-1-8 1-1-1 8-2 4 2-1 1M77.5 867.5l6 2 1-2 9 3 3-2 3 2 3-2 2 2 4-1 5 3 2 0 0-3 1 0 1 2 6-2 14 3 4-2 2 2 3-3 15 1 4-1 7 1 3 1 0-2 2 0 3 2 0-3 1 0 5 2 7 2 7-1 7 2 2-2 3 1 7-3 3 2 4 0 6-2 3 1 0 1 3-1 4 2 1-2 2 0 1 2 4-2-1-3 5-1 3 1 3-1 10 1 2 2 1-1 5 1 1-3 7 0 0 1-3 1-4 4 1 1 2-1 9 1 1-1-2-2 1-1 1 1 4-2 3 2 1-1 0-1 1 0 5 2 11-1 3 1 6-2 0-1 4-2 12 3 4-1 3 2 3-1 1-2 9 2 4 0 2-2 3 2 0 1 4 1 2-1 7-1 4 0 1 2 14 0 2 0 2-1-2-1 3-1M383.5 866.5l-3 0 4 0-1 0M188.5 870.5l-2-1 3 0-1 1M135.5 870.5l-2 0 2 0M284.5 870.5l-1-1 1 0 1 1-1 0M105.5 871.5l-2 0 2 0M208.5 872.5l-1-1 2 0-1 1M77.5 871.5l5 0 2 1 5-1 3 1 4-1 1 0-1 2 10-1 3 2 2 0 6 0 5-2 5 2 2-2 4 3 8 0-1-1 1-1 4 1 3-1 3 0-1-1 1-1 7 0 4 2 4-1 1 1 4 0 2 1 2 0-1-1 1 0 3 0 1 0 0 1 1-1 5 2 2-1 3 1 1-1 2 1 13-1 3 1 8 0 2-1 1 2 1 0 1-2 3-1 6 0-2-1-3 1-1-1 1 0 4 0 3 1 5-1 3 1 6 0 6-1 0-2 3 0 2-1 2 0 1-1 8 1 1 1-1 1-6 0 0 1 18 2 2 0 6 0 4 2 2-1-2-1 1-1 1-3 1 1 1 2 2-1 8 0 2-1 3 1 5-1 3 0 6-1 4-2 5-1 6 2 2 2 4-1 3 0 1 3 3 1 8 1 5-1 3-1 7-1 1-1-1-1 1 0 4 1 6 0 3 1 8-1-2 2 1 0 6-2 4 2M344.5 869.5l1 0-1 0M275.5 871.5l-1 0 0-1 1 1M408.5 872.5l0-1M110.5 873.5l-1-1 1 0 0 1M171.5 872.5l-1 0 2 0-1 0M347.5 874.5l2-1-2-2-5 2 5 1M336.5 871.5l-1 1-1-1 2 0M77.5 875.5l2-2 1 0 0 1 0 1 3 1 2-2 3 1 2-1 2 2 3-2 3 1 1-1 2 3 2-2 4 0 1 1 3 1 7-1 1-1 2 0 2 2 3-1 7 1 11-1 4 1 2-2 3 1 2-2 2 1 0 2 3-1 2-2 3 2 4-1 4 1 1 2 2-1 9-1 2 2 4-2 7 1 1 1 2-2 2 1 5 1 1-1 2 1 4-1 1 0 0 1 3-1 5 1 3-1 4-2 18 0 3-2 8 0 3 1 4 0 2 1 4-1 13 1 13 3 2-4 3 0 8-1 4-1 15 0 2-1 2 1-3 1 1 1 13 1 4 0 16 1 8-3 1 1 4-2 3 1 1-1 4 0 11 3 3 3 7-2M335.5 874.5l0-2 1 1-1 1M174.5 877.5l-1-1 2 0-1 1M208.5 876.5l-1 0 1 0M151.5 878.5l-1-1-1 1 2 0M77.5 878.5l7 0 3-2 7 3 10 0 2-2 6 3 3-2 3 1 1-2 3 1 3 0 3 1 5 1 3-1 1 2 1 0 1-1 5 0 1-2 6 2 2-3 11 3 2-1 0-1 4 1-1 1 3 1 3-2 3 0 1 1 0 1 2 1 1 0-2-2 1-1 15 3 3-2 3 1 5-2 5 2 7-1 3 2 2-1-1-1 2-1 1 0 0 1 3 0 1-2 4-2 5 1 5-1 5 1 3-2 4 0 5 1 5-1 7 2 9-1 10 2 2 2 3-1 2 0 3-2 5-2 2 0 7-2 6 1 1-1 3 2 8 0 3 2 10-1 3 2 2-2 15 1 8-2 2-1 10 0 5 2-2 2 1 2 5 0 2 2 1 0 7-3 2 0M99.5 877.5l-1 0 1 0M329.5 883.5l3-1 0-1 3-1 1-2-4 0-3 1-3-1-2 1-4 1-2 2 6-2 2 1-2 2 1 1 4-1M342.5 878.5l-1 0 1 0M397.5 878.5l-1 0 1 0M158.5 880.5l-4-1 4 1M339.5 881.5l1-1-2 0 0 1 1 1 0-1M407.5 882.5l-1 0 1 0M313.5 878.5l-2 1-1-2 11-2 2 1 1 1-6 1-4-1-1 1M77.5 880.5l1 2 1-1-1-1 2-1 5 0 2 1 2-1 2 1 4 0 7 3 2-1 5 0 1 0-1-1-2 0 3 0 7 1 7 0 5 1 6 0 3 1 10-3 4 1 5-1 5 2 5-1 4 2 6-1 6 1 3 0 2-2 2 1 10-1 2 1-1 1 1 0 2 0-2-1 2 0 1 1 2-1 7-1 1 0 0 1 5 1 12-4 4 2 1-1 4-1 3 0-2 2 1 1 2 0 2-2-1-1 2-1 2 1 0 2 2-2 4 2 2-1 0-1-2-1 2-3 2 1 0 3 2-1 0-1 3-1 8 3 6-2 12 1 3 2 4 0 7-2 2 2 3-2 2 3 15 4 5-1 2 1 4-3 6 1 2-2 2 1 2-1 0-2-4 0-1-1 0-1 6 0 2-1 17 1 5-1 3-2 8 2 1 1-2 3 3 2 7 2 5-1 2 1 0 1 1 0 5-2M248.5 878.5l-1 0 1 0M131.5 881.5l-1 0 1 0M355.5 882.5l-1-1-1 1 2 0M256.5 883.5l-2 0 2 0M77.5 886.5l3 0 1-2 3-1 0 2 1 0 6-1 4 1 3-2 6 1 2-1 4 1 3-1 3 1 3-1 2 2 2-1 3 1 10-1 2 1 3 0 2 1 4-3 11 2 2-1 4 2 3-2 3 1-1 1 4-1 2 1-1-1 1 0 4 1 3-1 5 1 4-1 3 1 4-2 1 1 1 2 4-2 2 1 2-1 7 0 1 0-1 1 2 0 1-1 8-2 8 0 4 1 10 0 5 1 5-1 3 0 2-1 6 1 1 1 1-1 0-1 7-3 4 1 3-1 6 2 3 0 1 2 4-1 2 1 4-1 5 1 3-1 10 3 6 0 5 1 21-3 3-3-1-1 4-1 2 1 3-1 2 1 2-1 3 0 5-2 3 1 0 1-4 1 3 1-4 2 2 2-1 1 4-1 2 1 2 2 1-1-1-1 3-1 9 2 11 1M267.5 881.5l-1 0-1-2 3 1-1 1M356.5 880.5l-1 0 0-1 1 0 0 1M270.5 881.5l-2 0 2 0M370.5 882.5l-1 0 1 0M90.5 883.5l-1 0 1 0M77.5 884.5l0 2M275.5 885.5l-1-1-2 0 3 1M77.5 889.5l1 0 3-2 4 1 1-1 6 2 4-1 0-1 10 1 3-2 1 1 1 1 5-3 5 3 5-1 5 1 3-1 2 1 4-1 9 1 2-1 4 1 1-1 4 1 2-2 2 2 14-1 7 2 6-1 2 2 2-1 3 1 1-1 3-1 2 1 9-2 4 1 5-1 3 1 5-2 5 0 1-1 3 3 2-1 3 2 3-2 1-2 2 1 1 1-2 1 3 2 2-1-1-3 2 0 3 0-1 1 1 0 8-1 3 2 1-1 6 0 4-3 3 1 3-2 2 2-5 1 1 1 4 0 2-3 2 1-2 2 1 2 4-1 5-1 4-2 2 1 1-1 1 1 4-1 6 2 3 0 3 1 5-1 4 2 8-1 3 1 3-1-1-1 1-1 10-1 1-1 6-1 8 2 1 2-1 3 1 0 8-2 4 2 3-2 4 1 3 1 6-1 2 1-1 2 1 0 3-2 0-1 2 0M289.5 885.5l-2-1 2-1 1 1-1 1M260.5 885.5l-2 0 2 0M243.5 886.5l-2 0 2 0M391.5 887.5l-1 0 1 0M178.5 889.5l-1-1-1 1 2 0M396.5 889.5l-2 0 2 0M77.5 891.5l9 0 4-1 6 1 8-2 1 1 4-1 2 3 3-3 9 1 2 1 3-2 5 0 3 1 3-1 3 1 2 0 4 0 3 0 10 0 4 0 4 1 1-1 6 1 4-2 3 2 1 1 1 0 0-1 2-1 2 0 3 2 11-1 2 1 6-2 3 2 1-1 4-1 2 3 2-1 1-2 3 2 3 0 1-1 8 0 1 2 6-2 9 2 1 1 2-1 0-2 2 3 3-1-2-1 0-1-3-1 2-2 6 2 3-1 3 1 2-2 3 1 2-1 4 2 4-1 7 2 4 0 1-1-1-1 3-1 5 0 6-1 16 3 2-1 12 1 4 1-1-1 2-1 4 2 0 1 2 2 0 1 1 0 1-1-2-2 2-1-5-3 3 0 4 3 1-3 7-2 2-1 4 2-1 1-3-1-3 1 0 5 3 0 2-1-1-2-2 0 4-1 5 3 2-1 9 1 3-1 1 1 6 1 10 1 2 0M236.5 888.5l-1 0 1 0M371.5 889.5l-1-1 1-1 0 2M223.5 890.5l-4-1 1-1 3 1 0 1M232.5 889.5l-2 1-1-1 2 0 1 0M296.5 891.5l-2-1 0-1 2 0 0 2M242.5 890.5l-1 0 1 0M293.5 894.5l2-1-3 0 1 1M77.5 894.5l12-3 3 2 5 0 0-1 2-1 2 1 0 1 3 0 1 1 2-1-1-1 2 0 5 2 2-1 2 1 3-2 3 2 8-4 2 0 0 1-2 1 4 0 5-1 2 1 3-1 7 2 8 0 2 0-1 1-3-1-2 1 4 0 2 1 1 0-2-1 3-2 4 1 17 0 4 2 2 0 2-2 13 2 1-1 0-1 7 1 3 0 2 1 18-2 25 2 2 0 3-2 10-1 3-2 3 2 6 0 0 2 4 1 5-1 2 1 5-1 2 2 4 0-2-2 2-1 4 2 2 0-6-3-4 1-3-1 4-3 4-1 9 2 0 2-2 2 1 1 6-2 1 2 2 0 0 1 2 1 2-1-1-1 0-1 2 0 2 1 0 1 2 2 6-3 1 0 0 1 1 0 11 0 0-1 1-1 2 1-1 1 3 1 3-2 6 0 3-2 3 0 4-1 8 1 7 2 3-1 9 1M300.5 892.5l-2 0 2-1 1 0-1 1M321.5 891.5l-3 0 2 1 1-1M336.5 892.5l-4-1 3 0 1 1M342.5 892.5l-1 1 0-1 0-1 1 1M361.5 899.5l4-1-4 0 0 1M132.5 894.5l-1 0 2 0-1 0M77.5 897.5l6-1 1 0 0 1 3 0 1-1 4-1 2 0 1 2 2-1 12-1 3 2 3-1 3 2 5-3 3 1 5-2 1 2 5-2 2 1 10-1 7 1 2 1 5 0 5-2 2 1-1 1 1 1 14-1 2-1 2 1 5 1 1-1 9-1 7 2 4-1 2 1 4-1 6 1 6-2 9 0 1 1 4-1 1 2 3-1 14 0 14-3 14 3 5 0 13 1 11-1 5 1 2 2 3 0 3 1 19-2 2 2 4 1 8-1 2-2 5 1 0-1-1-2 7-1 0-1 1 1 7-1 3 1 1 1 3 1-1 1-8 0 4 1 8 0 3-3 3 1 3-1 1 0M174.5 897.5l-5-1 4-1 2 1-1 1M152.5 897.5l-1-1-1 1 2 0M384.5 898.5l-1 0 1 0" stroke="#000080"/>
<path d="M77.5 899.5l2-1 3 2 4-1 4-2 2 0-1 2 1-1 3 1 7 0 2 0-1-2 3 3 3-1 1 0 4-1 3 1 4 0 2-1 4 0 3-1 2 2 3-2 6 0 4 1 9 1 6-1 1-1 7 2 3 2 3-1 3 1 1-2 6 3 2-3 3 1 3-1 7-1 2 1 3 1 7-2 6 0 2 1-2 1 1 0 4-1 0-1 1 0 3 0 3-1 3 2 6-2 3 1 3-1 7 1 4-1 3 1 9-2 9-1 2-1 2 2-1 1 5-1 7 1 13 0 6 4 3-1 2-2 5 0 5 2 6 0 1 1 3-1 5 1 4-2 5 1 2 0 6 2 11-1 2-2 2 1 4-1 8 2 3-1 11 1 6-1 2-2 2 1M172.5 900.5l-2-1 2 0 0 1M184.5 899.5l-1 0 2 0-1 0M216.5 901.5l0-1-2 0 1 1 1 0M209.5 902.5l0-1-1 1 1 0M407.5 901.5l-1 0 1 0M77.5 902.5l4 0-2-1 1 0 7 1 4-2 3 1 3 0 3 1 4-1 1 0-1 1 4 1 6-4 14 2 2-2 2 1 3-1 4 0 2 3 7-2 2 1 6-1 3 1 4-1 3 1-2 1 6 2 4-1 2 1 2-2 7 1 2-1 3-1 2 2 5-2 6 0 3 0 3 3 3-1 2 0 0 1 0-1 4-1 4 0 0-1 1-1 4 1 9-2 3 1 4-1 2 2 4-3 4 2 2-1 9 0 3-2 3 2 14-2 4 3 3-2 6 1 4-1 5 2-2 1 5 1 5 0 0 2 5 0 2 1 10-3 6 1 2-1 6 0 1-1 12 3 3-1 3 1 2-2 5 0 1-1 1 0 4 1 3 0 7 1 5 0 1-1 3 1 6-2 3 2 3-1M316.5 901.5l-1 0 1-1 4-1-4 2M279.5 900.5l-3 0 3 0M326.5 903.5l-7-1 7 0 0 1M162.5 903.5l-1 0 1 0M204.5 903.5l-1-1 0 1 1 0M77.5 903.5l8 0-1 2 2 0 4 0 3-2 1 1 8-1 3 2 3-1 4 1 12-3 1 0 0 1 1 1 5-1 0-1 4 0 4 0 1 2 4-1 2 2 2-1 2-1 3 2 2-1 1 1 1 0-1-1 2-1 3 2 3-2 1 2 2 0 2 1 8 0-2 1 1 1 3-2 4 0-1-2 1 0 2 1 3 0 2 0 7 1 5-2 4 2 2-1 8 1 3-2 2 1 8-1 0-1 1 0 6 1 6-1 1-1 5 1 2-2 6 1 10-2 3 1 0 1 0-1 2 0 1 0-1 1 4-1 4 1-1 1 9 0 2 1 4-2 2-2 4 0 2 1 0 1 9 2 3 2 7 2 7-1 1-1 0-1 4-2 1 0 0 1-3 1 10-1 2 1 2-1 5 0 1 2 2-1 8 0 7-1 1 0 0 2 8 0 2-1 0-1 2-1 4 2 4-1 2 2 4-1 2 2-1 2 1 0 8-1 4-3M291.5 903.5l-1-1 0-2 2 1-1 2M239.5 902.5l-2-1 3 0-1 1M297.5 901.5l-2 0 2 0M270.5 905.5l0-2-2 1 1 1 1 0M399.5 906.5l-2-1 3 0-1 1M253.5 903.5l-2 0 2 0M77.5 906.5l1 0 0 1 3-2 7 2 3-1 2 0 3-1 8 2 4-2 3 2 5-2 1 1 5 0 2 1 6 1 4-1 1-1 2-1 1 0-1 2 1 0 2 0-1-1 2-1 4 3 5-1 8 0 4 0-2 1 7 1 3-2 3 2 5 1 3-1 6 0-1-1 1-1 5 2 1 0 0-1 8-1 2 1 2-1 3 1 1-2 3 1 2 1 5-2 1 1 3-1 2 1 3-1 6 0 2 1 10-2 3 1 10-3 1 0-1 3 3-1 11 4 6 0 5 2 11-2 1-2 2 0 0-1 3 0 4-2 5 1-1 1 0 1 3 0 4 2 3 0 5 1 2-1 3 2 2-1 3-3 3-1 10 0 3 2 2-1 9-1 3 3 3-2 6 1 1-1 12 0 3 1 2 0 4 3 12-1 1-1-1-1 1-1M263.5 903.5l-2 0 3 0-1 0M275.5 903.5l-2 0 2 0M126.5 906.5l-1-1 2 0-1 1M361.5 909.5l-1 0 1 0M357.5 911.5l-1-1-1 1 2 0M364.5 911.5l-1 0 1 0M77.5 909.5l2 0 2-1 2 0-2 2 1 1 1-1 3-1 4-2 12 0 3 1 2-1 6 2 3-2 15 2 11-1 5 1 6 0 1 1 9 0 9 2 3-1 1 0-1 1 2 0 2-1 16 0 10-2 5 0 2 0 3 2 1 0 1-1 8-2 2-1 1 3 2-1 4 0 1-1 4 2 0-1-3-1 2-1 6 1 7-2 2 1-1 1 1 0 2-1 3 0 0 2 1 1 5-1 3 2 8-1 8 2 8-2 18-1 15 2 2 0 3 0 7 0 3-2 1 2 6 0 2 0 0 1 14 1 14-4 3 0 4 0 4 1 2 4 4 0 2-1 2 0-1 2 1 1 3-1 0-1-1-1 1-1 5-1 3 1M346.5 908.5l-3 0 3-1 0 1M234.5 908.5l-1 0 1 0M306.5 908.5l-3 1-3-1 2-1 4 1M340.5 910.5l0-1 0 1M77.5 911.5l1 0-1 0M77.5 913.5l5 0 6-3 3 0 3 1 1-1 6 0 2-2 6 3 11-2 7 2 7-1 9 1 3 1 2-1 2 1 4-1 3 2 4-1 4 2 2-2 4 2 5 0 5-1 4 1 4-2 4 2 5-3 6 2-2 1 2-1 3 1 3-1 2 1 5-2 1 1 3-1 1 0 1 2 7-3 4 2 3 0 1 0 0-1 2 1 5-1 1-2 3 0 1-1 14 2 7 2 3-1 8 1 3-1 5 1 1-2 4 1 6-2 2 1 15 0 5 2 11-1 1 1-3 1 3 2 5-3 3 1 3-1 21 1 7-3 2 1 3-1 4 1 1 2 5 3 5-1 0 1 4 1 8-4 2 1M224.5 912.5l-1 0-1-2 2 0 0 2M331.5 915.5l-2 0 2 0M339.5 915.5l-1 0 1 0M404.5 917.5l-1 0 1 0M77.5 916.5l4-2 10 0 4-1 2 0 0-1 3-1 4 2 5 0 5-2 3 0 1 1-1 2 4 0 2-2 2 2 4-1 15 0 2 1 5-1 8 2 9 0 8 1 11-1 2 0 2 0 4 1 4-2 7 1 0 1 8-1 5 0 1 0 3 0 10-1 2 1 7-1 3 0 11-3 2 1 1 2 1-1 5 2 5 0 6-2 5 2 5-2 9 0 2-1 0 1-1 1 7 0 2-1 2 1 4-2 2 2 4-1 2 1 5 0 1 0 0 2 5 0 4 2 4-1 4 0 2-2 4-1 21 2 6-3 2 1 3 2 3-1 6 4 3-1 7 1 9-2M139.5 912.5l1 0-1 0M190.5 915.5l-2-1 2 0 0 1M338.5 919.5l-1 0 1 0M77.5 919.5l5-1 0-1 5-1 4 1 5-2 2 0 8-1 3 1 2-1 2 1 2 0 1 1 7-1 1 1 1 0 5-1 4 1 7-1 5 1 2-1 2-1 9 3 6 0 2-1 7 2 7-1 4 1 2-1 4 0 1 1 6 1 2-1 2 1 3-2 2 2 6-2 4 0 5 0 2 1 2-1 2 0 1 0-1-1 1 0 4 0 2 0 5-1 2 1 6 0 2-2 3 0 2 0 1 1 4 0-1 2 1 1 3-2 4 1 1 0 0-1 3 0 0 1 2 1 5-2 11-1 2-1 3 2 6-1 5 2 4-2 2 1 7-1 2 1 1 2 6 1 2-1 3 0 0 2 3 0 3 1 7-4 5-2 19 2 6-1 6 1 4 2 3 0 5 2 2-1 7 0 4-1 2 0M182.5 919.5l-1 0 1 0M77.5 921.5l2-1 5 0 1-2 3 1 4-1 3-2 3 1 3 0 9 2 2-1 6 0 4 0 2 2 1-1-1-1 3-1 2 1 3-2 10 3 2-1 2 1 5-2 5 3 2-2 4 0 2 1 3 0 0 1 2 1 2-2 2 1 2-1 6 2 14-2 2 1 1 1 6-1 2 1 4-1 4 1 2-1 2 1 5-1-1-1 1 0 5 0 5-2 3 1 3-2 5 2 2-1 10 1 2 1 2 0 2 1 4 0 0-1 2 1 3 0 1 1 2-1-2-1 6 0 2 2 4-4 1 2 2 0 1 0 2-1 2 1 3 0 4-1 3 2 3 0 0-2 2 0 2 3 2-2 3 0 1 1-1 1 1 0 3 0 1-1 3 1 4 1 3-1 4 2 2-2 7 2 6-3-1-1 2-1-1-2 2 0 2 0-2 2 1 0 3 0 1 1 6-1 3 1 2-1 5 0 6 1-1 1 2 1 3-1 1 0-1 1 1 0 5-1 6 2 15-1M257.5 918.5l0-1 0 1M217.5 919.5l-1 0 1 0M346.5 919.5l-1 0 1 0M219.5 920.5l-2 0 1-1 1 1M259.5 920.5l-1-1 0 1 1 0M344.5 920.5l-2 1-1-1 3 0M364.5 921.5l-1 0 1 0M362.5 923.5l-2-2 0 2 2 0M329.5 923.5l0-1-3 1 3 0M370.5 925.5l5-2-8-1-5 2 1 1 2-1 5 1M77.5 922.5l8 0 6 1 2-2 7 0 1-2 3 0 3 1 3 1 2-2 8 1 3 1 5-2 8 1 3-1 3 2 5 0 5 1 6-1 6 1 3-1 4 2 7-1 4 1 7-2 1 1 0 1 12-1 6 2 1-1 5 0 9-1 3-1 10-1 2-2 4 2 3 0 0 1 2 0 2-1 10 2 13 0 5-2 3 1 3-1 8 1 2-1 3 1 2 1 12 1 8 2 12-1 13 0 8-3 1 1-1 2 6-1 5 3 3-1 7 1 2-1 3 1 5-3 3 0 3-2 2 2 12 1 2 1 2-3 2 0M367.5 920.5l0-1 0 1M368.5 920.5l-1 0 1-1 1 1-1 0M356.5 921.5l-2 0 3 0-1 0" stroke="#0000a8"/>
<path d="M77.5 926.5l4 1 9-3 7 0 3 0 0-1 2 1 6-1 1-1 3 2 3-2 5 1-1-1 2 0 9 0 4 0 1 1 3-2 8 2 4-1 3 2 2-1 4 0 3 1 5-1 3 2 3-1 3 1 1 1 5-1 1 0 0 1 4 0 1-1 5-1 2 0 0 2 5-2 9 1 4-1 10 0 4 1 9-1 2 1 4 1 3-1 5 1 1 0-2-2 1 0 8 1 3-2 5 1 2-1 2 1 5-2 2 1 8-1 14 2 5 0 9 1 1 1-1 1 17-2 11 0 6 2 4-2 2 1 0 2 2 1 9-2 16 0 1 0 0-2 2-1 3 1 1-2 3 2 4 0 2 1 5 1 2-1 5 0M226.5 923.5l-1 1 0-1 1 0M244.5 923.5l-1 0 2 0-1 0M80.5 926.5l-1-1 2 0-1 1M346.5 926.5l-1-1 1 0 0 1M408.5 926.5l-1-1 1 0M77.5 928.5l7 1 4-2 5 1 5-3 6 2 9-1 3-1 6 0 2-1 4 1 5-1 3 1 5 0 3 1 2 0-2-1 1 0 5-1 5 1 1 2 13-1 4 2 2-1 0 1 3 0 5 0 2-1 2 1 5-2 6 2 4 0 5-2 3 3 3-2 5 0 4-1 3 0 1 2 4-3 1 2 5 1 4-1 11 2 6-1 3 2 4-2 0 1 2 1 3-1 2-2 2 2 3-1 5 0-1-2 6-1 4 2 10-1 1 0-1 1 1 0 3-1 1 1-2 1 1 1 3 0 1 1 2-1 7 0 4-2 8 0 2-1 26 4 8-2 19 1 0-1 4-3 2 2 11 1 3-1 1 1 3 0M101.5 925.5l-2 0 2 0M105.5 925.5l-1 0 1 0M264.5 926.5l-2 0 3 0-1 0M283.5 928.5l-2 0 2 0M296.5 928.5l-2 0 2 0M291.5 930.5l0-1-2 0 1 2 1-1M299.5 929.5l-1 0 1 0M293.5 932.5l-2-1-1 1 3 0M77.5 931.5l1 1 3-1 2 1 2-1 0-1 3-1 2 1 4 0 3-2 2 2 2 0 2 0 3-2 2 0 0 1-2 1 2 0 0-1 3-1 4 0 2 1 2-1 3 2 5-3 5 3 5-1 3-3 3 1 3 0 4 1 3 0 1 1 2-1 6 1 3-1 4 2 11 1 10-2 3 1 2-1 0-1 1 0 2 2 5 0 3-2 1 2 5 1 3 0 0-1 3-2 1 1-1 1 1 1 3 0 4-2 2 1 3 0 7 1 3-2 2 1-1 1 2 1 2-2 8 0 8 2 2-1 10-1 2-1 5 0 6 2 1 1-1 2 4 0 2 2 4-2 2 1 1 0 0-1 4-2 6 1 3-2 3 2 4-1 0 1 5 1 4-2-4 0-1-1 1-2 8-2 1 1-1 1 1 0 5-1 5 2 2 2 3 0 3 1-1 1 1 1 13-3-5-1 2-1 4 1 6-1 1 0-2 1 2 1 2 0 0-1 11 1 0-1-1-1 1-1 5-1 2 0-1 1 0 1 2 1 11 0 3-1M101.5 928.5l1 0-1 0M214.5 930.5l-2-1 2-1 1 1-1 1M323.5 930.5l-1-1 0-1 2 1-1 1M77.5 930.5l1 0-1 1M356.5 932.5l-1 0 1 0M398.5 933.5l-2 0 2 0M331.5 934.5l-2 0 2 0M349.5 935.5l2-1-3 0-1 1 2 0M148.5 929.5l1 0-1 0M77.5 934.5l2 0-1-1 2 0 5 1-1-1 1-1 4 1 4-1 4 0 2 1 1-1 4-1 2 2 9-1 2 1 1 0-2 0-1-1 0-1 9-1 9 1 6-2 31 3 7-1 13 1 6-1 11 1 13 0 2 1 8-2 2 1 2 0 1 1 7 0 2 1 5-2 7 3 2-2 6 1 1-1 0-1 13-1 1-1 1 0-1 1 6 2 0 2 1 1 4 0 2 1 4-1 4 0 6-2 12 0 3 2 3-1 4 3 5-1 1-1-1-1 2-1 2 1 6 1 3 1 4-1 2 1 3-2 3 1 10-3 6 1 2-1 3 1 4-1 4 1 2 0 7 1 4 0 2-3 6 0M338.5 931.5l-5 0 4-1 2 1-1 0M332.5 931.5l-1 0 1 0M340.5 935.5l-1-2 1-2 3 1-3 3M304.5 934.5l0-1 1 0-1 1M335.5 933.5l-1 0 1 0M125.5 934.5l-1-2 1 0 1 0-1 2M77.5 935.5l7 1 21-1 4-1 3 1 4 1 7-2 4 1 0-1 3-1 5 0 2 1 1-2 7 1 3-2 2 1-1 1 1 0 7-1 4 2 3-1 12 1 3-1 4 1 16-1 3 1 1-1 11 1 2-1 5 2 3-1 9 1 6 0 5 1 8-2 1 1 0 1 1 0 5-1 4 1 4-2 3 0 1-2 3 0 9 2-1 1 2 3 2-1 4 1 6 0 7 0 3-2 11 0 5 1 2 2 13 0 3 1 9-3 3 1 4-1 5-1 4-2 18 1 5 1 3-1 6 2 4 0 1-1 0 1 4 1 0-2 2-1M202.5 934.5l-1-1 2 0-1 1M270.5 937.5l-1-1-1 1 2 0M323.5 938.5l-1-1 2 0-1 1M274.5 938.5l-1 0 1 0M401.5 938.5l0-1 0 1M77.5 939.5l9-2 2 1-3 1 1 0 3-1 1-1 5 1-1-1 1-1 5 0 2 1 13 0 7 1-1-1 2-1 6 2 3-2 3-1 3 0 2 1 2-1 3 0 2-1 4 1 8 0 3 1 9-2 15 1 3-1 4 1 1 1 5-2 7 2 2-1 2 2 6-2 5 1 2 0 7 1 5 0 4 1 2 0 1-1 8 0 3 1 1 1 3 0 1-1-1-1 1 0 1 0 1 2-1 1 3-1 3 1 4 0 3 1 3 0 4-1 1 0-2-1 2 0 5 2 2-2 4 1 1 2 2-1 1-1 3 0 8 0 4 2 2 0 2-1 3 2 6 0 0-1 2 0 5-2 12 2 4-1 2 0 1 0 0-1 3 1 2-2 3-1 6 0 3-2 2 1 6-1 10 0 5 2 3-1 5 2 11 0M207.5 936.5l-1-1 1 0 1 0-1 1M276.5 936.5l-4-1 3-1 1 1 0 1M194.5 937.5l0-1 0 1M315.5 938.5l1 0-1 0M320.5 938.5l-1 0 1 0M98.5 939.5l-1 0 1 0M305.5 939.5l-1 0 1 0M311.5 939.5l-1 0 1 0M289.5 942.5l-2 0 2 0M77.5 940.5l1 1 17-1 7 0 6-2 2 0 0 2 4-2 2 2 3-1 5 1 2-2 4 1 3-2 4 0 3 1 5-1 10 1 7-1 3 1 1-1 3-1 3 2 1-1 0-1 2 0 2 2 3-2 1 0 1 2 3 0 0-1 4-1 4 2 3 0 2 1 4-1 3 1 8-1 8 0 2-1 7 2 4-1 2 0 0 2 2 1 11 0 2 2 11-2 3 0 3 0 8 2 5 0 1 0 0-1-2 0 3 0 7 2 9-2 2 1 0-1 3-1 2 1 1 1 8 2 4-1 6 1 2-2 4-2 17 1 9-2 7 0 3-1 4 0-1-1 9-1 2 1-2 1 1 0 3-1 5 2 5-1 7 2 3-1 2 1 3 0M115.5 938.5l-1 0 1 0M384.5 940.5l-1 0 1 0M374.5 941.5l-1-1-1 1 2 0M77.5 942.5l7 0 5-1 2 1 12-1 5 2 5-3 4 1 6 0 4 1 2-2 8 1 2-1 3 0 2-2 1 3 6 0 3-2 4 2 8-1 9-1 11 1 1 0 0-1 2 0 2 1 11 0 2 1 4-1 2 1 5-1 2 0 2-1 3 1 5-1 3 1 4 0 5 2 5 0 5 2 12-2 6 0 9 2 9 0 4 1 5 3 5 1 12-3 18 2 6-5 4 0 8 1 10-2 12 1 7 0 5-2 4 1 1-2 5 0 9 2 8 0M77.5 944.5l1 1 2-2 1 0 0 1 10 0 2-1 3 1 7-2 4 2 7-2 2 1 7-1 3 2 8-2 1 1 6 0 7-1 2 1 3-1 2 1 5-1 2 2 4-3 12-1 2 2 8-1 3 1 5 1 11-1 2 1 10-1 9 1 3 0 2 1 3-1 7 0 7 2 3-1 6 0-1-1 3 0 8 1 2 1 4 0 13 2 3 2 8 1 8-2 8 0 2 0-1 1 4 0 2 1 4 0-1-1 4 1 2-1 1-2 3 0 5-4 7 2 3-1 5 0 0-1 2 0 1 2-1 1 1 2 3-1 6 1 4-2 6 1-1-1 1-2 5-1 1 0 0 1 3 0 6-3 1 1 12 2 1-1 2 0M161.5 943.5l0-1 0 1M77.5 946.5l4 0 6-1 6 0 4 1 8 0 4-1 2 1 3-1 1 0 2-1 2 1 3-1 3 2 6-2 3 1 3-1 2 1 8-1 3 1 3-1 3 2 2-1-1-1 1-1 2 1 4 1 4-1 2-2 16 2 2-1-1-1 1 0 2 2 4-1 6 1 11 0 7 1 12-1 3 2 3-1 2 1 4 0-1-1 2-1 6 3 12-2 6 0 12 2 1 1 3 0 1 1-2 1 1 1 21 0 3 1 2 0-2-2 5-1 6 4 5-2 2 0 0 1 1 1 4-2 4 0 4 0 4-2-3-1 3-1-1-1 2 0-1 1 2 1 1-2 1 1 3 3 2 0 2-1-3-1 3-1-1-2 2 0 2 3-1 3 5 1 1-2 5-1 8 2 4-2 2 0 1-2 1-1 8 0 3-3 2 1-1 3 6-1 4 2 4-1M122.5 944.5l0-1 0 1M345.5 946.5l-1-1 1 0 0 1M371.5 948.5l1 0-1 0M77.5 949.5l10 0 3 0 5 0 1-2 8 1 3-1 7 1 5-1 1 1 0-1 1 0 6 0 3 0 1 1 8 0 3-2 2 1-1 1 1 1 3-2 3 0 4 2 6-3 2 0-1 1 2 0 3 0 1-1 2 1 6-2 1 0 0 1 5 1 5-1 1 1 3-1 2 1 6-1 8 1 1-2 2 2 3-2 2 2 7-2 6 3-1-1 3-2 3 3 4-1 3 1 6-1 1 2 4-1 1 1 7 1 3-3 2 0 3-1 3 1 1 1 4 0 2 1 3 1 2 2 8 0 3 1 5-1 4 1 8 1 3-1 1 2 7 1 4-2 3 1 1-2 14-2 3 1 2-2 3 1-1 1 1-1 2 1 2 3 3-1 3 0 2-1 4 1 1-2 10 1 1 0-1-1 1-1 1 0 2 2 0-2 3 0-1-2 2-1 2 1 2-1 6 0 5 2 8-1M156.5 947.5l-3 1-1-2 2 0 2 1M387.5 947.5l-1 0 1 0M257.5 948.5l-4 0 4 0M379.5 950.5l-1 0 1 0M408.5 951.5l-2 0 2 0M332.5 954.5l-2 0 2 0M77.5 953.5l2-2 2 1 3-2 4 1 4-1 4 1 2-2 4 1 14-1 2 1 5-1 7 2 2-1 6 0 4 1 11 0 4-2 6 1 7-1 2 1 12 0 8-1 7 0 3 1 3-2 3 2 3-2 1 0 0 1 2 1 1-1 1-1 3-1 1 1 1 2 5-1 4 1 3-1 11 3 2-1 7 1 9-2 3-1 2 0 2 4 7-1 5 3 4-2 11 0 3 2 8-1 14 3 2-1 3 0 3-1 6 0 6-2 2 0-3 2 0 2 4 0 1-1-3-1 1-1 3 0 3 1 1 1-2 1 2 1 1 0-1-1 0-1 3 1 4-2 4 1-1 1 2 0 3-1 3 0 2-2 5 2 3-2 4 1 2-2 7-2 2 1 1-1-2-1 1 0 6 2 5-1 4 2M265.5 954.5l-1 0 1 0M345.5 959.5l-1 0 1 0M218.5 950.5l0-1 0 1M77.5 954.5l3-1 8 0 3-1 2 1 2-1 5 0 4-1 4 1 11 0 2 2 4-3 2 1-1 1 1 0 1 0 0-1 5-1 3 1 1 1 5 0 5-1 2 0 1-1 2 2 8-2 3 1 10-1 1 1-2 1 1 0 1-1 2 1 4-1 6 0 1 1 5-2 4 1 9-1 1 1 3 0 9-1 4 2 4-1 2 1 5-1 3 1 2 0 0-1 1 0 5 1 12 1 2-2 7 4 2-1 4 1 2-1 8 1 3-1 4 1 8-1 1 0-3 2 1 1 2-1 4 2 6-3 14 2 14-2 3 2-1 1 7 1 9-1 2-1 8 1 3-2 18 0 2-1-1-1 5-2 6-1 4 2 2-1 6 1M264.5 952.5l-2 0 0-1 1 0 1 1M266.5 952.5l-1 0 1 0M389.5 957.5l-1-1-1 1 2 0M77.5 956.5l5-1 1 0 3 0 2 1 3-2 6 1 10-1 6 1 4-2 3 1 4 0 5 1 4-1 10 1 3-2 1 2 12-1 1-1 4 2 3-2 4 2 3 0 3-1 7 1 9-2 4 1 6-1 7 1 3 1 5-2 2 2 6 0 6-1 2 1 4-1 5 0 2 1 6-1 5 1-1 1 1 0 0-1 6 0-2 1 1 1 7 1 5-1 17 0 2 1 1 2 5 2 6-2 3-3 1 0 9 2 1 0 6 0 4-2 4 0 2 1 1 2 11 2 2-2 7 1 3 0 2-2 2 1 6-2 11 1 3-1 2 1 4 0 3-1 3 0 1-1-3-2 5-1 4 2 2 0-1-1 1 0 5 0M77.5 958.5l3 0 1 1 1 0-2-1 0-1 3 1 4-1 10 1 9-2 7 1 4 0 2-1 3 1 4-1 2 0 1 2 3 0 3 2 1-1 6-1 3 0 6 0 3 1 4-1 4 1 1-1-3-1 7-1 3 2 4-2 5 1 2 1-2 1 2 0 4-1-4-2 3 0 2 2 3 0 1-1 3 0 3-1 5 0 3-1 3 1 7 0 8 2 3-1 5 2 6-3 2 1 3-1 3 1 4-1 5 0 2 1-1 1 2 1 3 1 3-1 6 0 5-1 6 0 10 2 2 2 5 0 4 2 1-1 5-1 1-3 10 2 8 0 3-2 7 3 8 0 7 2 2-2 3 1 5-1 5-2 8-1 16 3 4-2 3 0 5-2 7-2M134.5 958.5l-1 1-1-1 2 0M237.5 959.5l0-1-1 0 0 1 1 0M244.5 959.5l-2 0 2 0M315.5 963.5l-1 0 1 1 0-1M77.5 960.5l6 2 1-1-1-1 1-1 3 0 1-1 2 1 11-1 5 1 5-1 3 1 6-1 0 1 1 1 2-1 2 1 1-1 3 0 7 3 3-2 4 2 2-1-3-1 4 0 5 2 2-1-2-1-2 1-1-1 1-1 8 1 5 2 15-2 1 2 5-1 3 1 2-2 6 0 3-2 2 2 8-3 2 2 4 1 5 1 15-2 2 2 5-2 3 1 4-2 1 1 4 1 12 1 2-1 3 1 3 0-2-1 4-1 5 0 5 1 0 2 2 1 10 0 4 2 3 0 1-1 2 2 6 0 9-2 6-1 4-1 20 4 3-1 1-1 6-1 3-2 8-1 6 1 6 4 4 0 6-2 4 1 2-1-4-1 1-1 5 1 1-3 5 0M214.5 960.5l0-1 0 1M218.5 959.5l1 0-1 0M219.5 960.5l0-1 0 1M394.5 962.5l-2 0 0-1 2 0 1 1-1 0M311.5 963.5l-3 0 2-1 1 1M77.5 963.5l6 1 4-3 5 2 2-1 2 1 8-2 2 0-2 2 2 1 5-1 1-3 5 2 1-1 4 0 4 2 4-1 5 1 13 0 6 2-1-2 4 1 2-2 2 2 1 0 10-2 3 1 0 1 1 1 5-2 2 1 4 0 4-2 6-1 3 1 4-2 5 2 0 2-4 0 1 0 3 0 3-2 2 0 1 2 10-1 3 0 4-1 3 1 2-1 2 2 1-1 0-1 1-1 2 1 2-1 1 1 3-1 6 1 6 0 2 2 9-2 4 1 2-1 5 1 9 1 2 2 7 1 12 0 6 1 6-3 2 0 7-1 11 2 7 1 4-2 4 0 3-1 4 0 5-2 2 0 4 0 0 1 4 2 6 2 3-1 4 1 10-4 2 1 1-3M368.5 962.5l-1 0 1 0M89.5 964.5l-2 0 2 0M77.5 967.5l3-1 9 0 3-1 4 0 3 1 2-1 8 1 3-2 2 1 8-2 11 3 3-1 9 2 3-2 7 1 4 0 4 1 3-1 6 1 2-1 8 0 8-1 2 1 3 0 0-2 5-1 2 0 1 1-2 1 3 2 4-1 3 1 6 0 1-1 6-1 2 0 2 2 7-2 3 2 5-2 3 0 2-1 1 1 2-1 3 0 4-1 4 2 12-1 10 1 2 1 4-1 6 3 2 0 9 1 5-1 8 1 11-4 21 3 3-1 6 0 2-2 5 0 1 0 0 1 8-1 4 2 8 1 3-1 2 1 5-2 3 0 1-1 5 1M200.5 967.5l-1-1-1 1 2 0M77.5 968.5l3-1 7 1 4 2 3-2 0-1 1 0 9 2 1 1 1 0 0-1 5-1 4 0 5-1 4 1 3 0 3 2 5-1 2-1 8 0 2-1 2 1 4 0 2 1 2-1 17 0 5 1 1-1 3 1 4-2 6 2 2 0 5 0 2-2 5 2 6 0 0-1 4 1 5-1-2-1 3-1 2 2 2 0 3 0 2 1 3-2 2 2 2-1 4 2 10-2 1-2 8 1 3-2 2 1-1 1 1 0 1-1 2 1 3-2 3 1 4-1 5 3 4 0 0 1 3 0 0 1 1 0 4-1 5 0 2 1 9-1 12 2 10-1-3 0-2-2-3 0 1-1 2 1 3-1 6 0 8 2 3 0 1 0 1 2 5-2 3 1 2-1 3 1 2-4 2 1 9 0 3 1 17 1 3 2 7-3M185.5 967.5l-1 0 1 0M338.5 969.5l-1-1-2 1 1 1 2-1M113.5 970.5l-2 0 2 0M275.5 971.5l-1 0 1 0M77.5 972.5l3 1 5-4 5 2 13 0 2 1 3-1 3 2 3-2 2 1 2 0-2-1-1 1-1-1 1 0 7 2 3-3 1 1 2 1 3-1 8 0 4-1 2 1 2-1 2 1 8-1 8 1 5 0 4-1 2 0-1 1 2 1 5-2 8 1 5-1 6 1 2-1 2 1 8 1 6-2 1 2 1 0 1-1 3 1 3-2 5 1-1 1 1 0 4-2 3 1 2 0 5 0 5-1 2 2 3 1 2-2 4 0 1 1 2 1 2-1-2-2 1-1 5-1 1 0-1 1-4 2 1 1 6 0 3-1 0-2 1 0 4 3 7-1 4 1 4-1 2 1 13-2 12 2 8 0 3-1 4 0 9-1 2 2-1 1 3 0 1 0-2-1 3-1 1 1 0 1 1 1 2-2 6 1 6-2 2-1-2-1 2-1 8 1 6 0 21 4M276.5 969.5l-3-1 1-1 4 1-2 1M408.5 971.5l-1-1 1-1M77.5 970.5l2 0-2 0M258.5 972.5l-1-2 1-1 1 1-1 2M77.5 975.5l3 1 0-1 4-1 2-2 2 2-1 1 2 1 3-1 3 0 1-2 4 1 2 1 2 0 0-1 3 1 5-1 3 1 1 0 0-1 7 0 5 1 4-2 9 1 1-2 3 1 10 0 3 0 0 1 2 1 3-2 5-1 7 2 12-2 5 1 2 1 8 1 4-2 4 1 3-1 4 1 2-1 3 1 8-1 2 1 11-2 5 1-1 2 4-1 6 0 19-2 5 1 5-1 12 2 3-1 7-1 3-1 15 2 2 0 3 1 12-2 2 2 3 0 2 1 2-1 4 2 0-1 3-1 3 0 8-1 2 1 2-1 0-2 4 2 1-1-1-1 1-1 4 0 6 0 10 3 1 1 4 0 4 2M136.5 972.5l-2 0 2 0M345.5 972.5l-2 0 2 0M91.5 975.5l-2-1 2 0 0 1M79.5 975.5l1 0-1 0M335.5 976.5l-1-1-2 1 3 0M77.5 977.5l6 0 2 1 2-1 4 0 2-1 4 2 8-2 5 1 12-1 5 0 6-2 7 2 5-1 5 1 6-1 3 2 8-2 2 1 8 0 2 0 5-2 1 0-2 1 0 1 14 0 3 0 5 0 6 1 3-3 4 2 2-1 3 2 2-1 10-1 2 2 5-3 4 2 7 1 2-1 3 0 4 0 13-3 6 1 4-1 2 1 4 0 8 2 2-1 4-1 2 1 6-3 10 2 1 1-1 2 1 1 1-1 0-1 3 0 0 2 2 1 2-1 5 0 4-1 2 0 4-2 2 1 0 1 3-1 5 1 2-1 3 0 3-1 14-1 4-2 2 2 0-1 4-2 2 1 0 2 5-1 0 1 12 4M242.5 974.5l-1-1 1 0 0 1M306.5 974.5l-1 0 2 0-1 0M77.5 978.5l3 0 1 1-1 1 1-1 3 0 4 1 7 0 7-1 3 0 7-1 4-1 2 1 7-1 2 1 2-1 1 2 7-2 4 1 3-1 3 0 9 0 2 1 4-1 4 3 11-3 3 1 3-1 7 1 5-1 2 0 1 2 7-1 1 1 6-1 5 0 2-1 1 1 8 0 2-1 1 0 1 1 3 1 7-2 2 2 4 1 1 0 0-2 1 0 12-1 7-1 2 0 3-2 4 0 2 2 5-1 3 1-3 1 2 1 5-3 4 2 8-1 3 1 3-1 2 2 6 0 0 1 17 1 4-1 3 0 3-1 6 0 3 1 5-1 1-1 10-1 4-1 3 1 4-2 2 2 4-1 1 1-3 1 0 1 2 0 3 1 6-2 2 2 2-1 3 0 1 0-1 1 1 1 4-1M321.5 976.5l-4 1-2-2 4-1 2 1 0 1M169.5 979.5l-1-1 1 0 0 1M93.5 979.5l-1 0 2 0-1 0M77.5 980.5l2 2 3 0 3-1 3 1 3-1 4 1 3-2 3 1 5-1 2 1 6-2 7 1 4 0 9 0 4-2 6 1 4 2 3-2 3 0 2 0-2 1 5 1 3-1 4 1 8-1 1 0 0 1 4-2 3 2 4-1 2-1 5 1 9 0 5 1 3-1 4-1 5 1 3 0 1 1-1 1 4 0 2-1 2 0 1 2 2-1 7 0 2 1 3-2 3 1 11-3 5 0 5-1 2 1 3-3 2 0 0 1 6 2 2 0 0-1 3 1 3-1 5 2 2-2 4 1 2-1 6 0 6 1 1 2 8 1 2-1 12 1 1-2 8-1 4 2 9 1 1-1-1-1 2 0-1-2 1 0 2 0 3-1 5 1 2-1 2 1 3-1 1 2 3 0 3 2 6-1 2 2 2-2 2 1 10 0M185.5 979.5l-2 0 2 0M253.5 979.5l-1 1 0-1 1 0M378.5 984.5l5 0 1-2-4-1-2 1-1 0 0-1 3 0 0-2-5 1-5 0 2 1-2 1 1 1 2-1 1 1 4 1M366.5 983.5l2-1-2-1-1 2 1 0M77.5 983.5l7 0 3 1 5-1 3 1 3-2 2 2 2-1 9-1 1 1 2-1 5 1 1 0-1-1 3 0 2 1 4-2 2 1 9 0 3 1 3 0-2-1 1 0 4 1 9-2 3 1 11-1 4 1 11 0 2 1 3-1 12 1 5 0 2-1 5 1 2-2 6 3 5-1 10 1 12 0 6-3 2 2 3-2 3 0 5-1 8 2 2-1 7 0 6-1 5 1 2 1 5-3 2 1-1 1 2 1 5-2 3 2 5 0 9 2 3 0 2-1 1 1 5-1 2-1 4-1 7 1 6 2 4 0 5 1 5-1 11 2 3-1 2-3 3 3-2 1 1 0 4-1-2 0-1-1 1-1 5 1 3-1 2 2 2-1 1-1 2 1M213.5 982.5l-1-1 2 0-1 1M77.5 986.5l3 0 4-2 5 2-1 1 1 0 3-1 3 1 7-2 5 1 2-1 3 0 2-1 8 1 6 0 3-1 5 1 4-1 4 1 7-2 4 2 0-1 1 0 4 0 2-1 4 1 6-1 7 1 5-1 3 2 5-2 2 1 3-1 7 1 5 0 1 0-1 1 1 0 3-1 2 1 4-2 5 3 5-1 2 2 4-1 7 0 12-1 7 0 4-2 10 0 3 2 4-2 2 1 2 0-2-1 5-1 14 3 8-2 4 1 6-1 1 1 3 0 1 2 4-1 3 0 5-1 5 0 3-1 2 1 2-1 5 1 2 1 4 1 10 0 12 1 3-1 5 2 2-1 2 1 1-1 0-1 1 0 11 0M108.5 984.5l-2 1 0-1 3 0-1 0M260.5 985.5l-2-1 2 0 0 1M289.5 983.5l-1 0 1 0M77.5 988.5l4-1 4 1 2 0 2 1 4-1 5 0 5 1 1-2 6-1 1 0-2 1 4 0 4 0 3-1 8 1 3-2 6 2 4-1 3 1 4-1 12 0 2-1 2 2 4-1 3 1 13-2 3 1 4-1 2 1 7-1 9 2 3-1 3 1 6-1 1 1 5 0 5 1 4-1 10 1 11-2 6 1 2-2 8 0 5 1 8 0 4-2 6 2 13 1 2 1 3-1-1-1 1-1 3 1 2 2-1 1 2 1 5-1 3-2 7-1 4-1 11 1 2-1 4 1 0 1 3-1 3 2 3-1 3 1 7-1 14 1 0 1 3 0 3 1 4-3 3 1 4-2-1 1 3 1M313.5 985.5l-2 0 2 0M316.5 989.5l-2 0 2 0M77.5 989.5l3 0-1 1 3-1 2 2 3 0 6-2 3 1 5-1 8 1 6-2 5 0 3 1 3-1 11 1 3-1 4 1 2-1 6 0 2-1 9 1 4-1 4 2 5-2 4 1 4-1 2 1 14 0 1-2 8 3 2-1 4 2 1 0-1-1 1-1 7 1 2-1 2 1 5 1 5-1 2 1 5 0 7-1 10 0 12-3 4 1 6 1 15-1 2 1 3 0 9 2 7 1 7-1 12-3 3 1 6-1 3 1 4 0 11 0 3 2 4-2 11 0 12 3 2 0 1-2 3 1 7-1M77.5 992.5l1 0 2 0 0 1 1 0 9-2 7 2 4-2 4 1 2-1 3 1 7-2 2-1 8 3 2-2 2 0 2 1 7-1 1 1 14-1 2-1 6 2 4-2 7 2 2 0-1-1 1-1 2 1 4-1 1 2 1 0 6-2 1 0-1 1 1 0 3 0 2 1 2-2 4 1 2-1 6 2 2-1 3 1 3 0 3-1 2 1 6-1 5 2 4-1 5 1 18-1 6-2 2 1 2-2 3 1 5-1 5 1 10-1 6 2 4-1 11 4 4-2 13-1 6-2 2 2 3-1 2 1 9 0 3-1 4 1 3-1 5 2 14-2 4 3 3-1 11 2 7-2M347.5 988.5l-1 0 1 0M408.5 991.5l-1 1 1 1M90.5 993.5l-1 0 1 0M360.5 995.5l0-1-3 0 1 1 2 0M77.5 995.5l7 1 6-1 4 0 1-1 3 0 1 0 2 1 8-2 2 2 2-1-1-1 3 0 4 0 1 0-2 1 2 0 1-1 4 1 4-2 10 2 4-2 4 1 3-2 2 1 6 1 3-1 9 0 3 2 4-1 4 1 3-2 2 1 2-2 9 2 8-1 2 1 4 0 9 0 1 0-1-1 1 0 6 0 1 2 1 0 1-1 6 0 2 1 5-1 3 2 3-1 0-1 4-1 8 0 5-2 12 3 4-1-2 0-1-2 1-1 4 2 10-2 0 1 8 1 1 1 6 1 1 1 4 1 4-2 3 1 0-1 3-1 6 0 7-2 11 2 1 1-1 1 3 1 4 2 1-1 3 1 6-2 2-3 5-1 8 1 2 1 2 0 5 1 3 0 4 1 5-1 4-1 3 1M273.5 991.5l-1 0 1-1 1 1-1 0M363.5 993.5l-4 0-1-2 5-1 2 1-2 2M207.5 992.5l-1 0 1 0 1 0-1 0M228.5 993.5l0-1 0 1M187.5 994.5l-1-1-1 1 2 0M77.5 996.5l6 1 8 0 0-1 1 0 1 1 5 1 2-1 8-2 0 2 3 1 2-2 3 0 2 1 1-1 3 1 5-2 6 2 0-2 1-1 4 2 3-1 5 1 6-2 4 0 2 1 5-1 1 1 3 1 6 0 3-2 2 2 7 0 8-2 6 2 2-2 2 2 3-2 5 0 7 1-1 2 10 0 6-2 5 0 0 1 3 1 11-1 5-2 7-2 2 2 4 0 7 2 4-1 3-2 7-1 2 2 5 0 6 1 6 0 4 2 3-2 6-1 2 1 4-1-1-1 7-2 2 0 1 2 3 0 0 2 2 1 3 0 3 2 3-1 4 2 3-1 4 1 5-4 5 0 3-2 8 2 3 2 4 0-1 1 1 1 4 0 2-2 11-2M298.5 995.5l-1 0 1 0M234.5 996.5l0-1-2 1 2 0M389.5 997.5l-1-1 1 1M396.5 998.5l0-1 1 0-1 1M77.5 998.5l2 3 3-2 3 0 1 1 3-2 4 2 11-2 1 1 0 1 4-1 3 1 3-2 2 2 1 0 2-1 5-1 3 1 2-2 3 2 2-2 3 1 3-1 3 1 4-1 2 1 4-2 9 2 1 0 1-2 1 0 8 0 4 2 4 0 5-1 6 0 1-1 9 1 3 0 0 1 4 0 2 0 0-1 1 0-1 1 2 0 8 0 3 2 9-2 12 0 9-1 2 1 7-2 2 2 7 0 1 0 0-1 10-1 8 1 3 0 5 1 5 0 2 2 4-3 2 1-3 2 2 1 5 0 2-2 3 2 0-2-5-1-2 2-1-1 5-2 7-1 2-1 2 2 2-1 1-1 2-1 1 1-2 2 1 1 8 1 2 1 4-1 7 2 12-2 2-2 7-1 2-1 1 2 3-1 1 3 5 0 2 2 3-1 5 0 2-1 5-1 2-1M176.5 996.5l-1 0 1 0M213.5 997.5l0-1 0 1M105.5 998.5l-1-1 1 0 0 1M77.5 1002.5l5-1 4 1 9-1 5 1 2-2 1 0-1 1 2 0 4 0 11 1 4-2 5 1 12-2 6 1 0 1 5-1 2-1 4-1 3 2 7-1 0 1 2-1 10 1 19-2 2 2 5-1 1 1 6 0 11 1 6 0 4-1 16 0 3-2 4 2 8-2 0 1 2 0 8 1 7-3 2 1-1 1 1 1 3-2 9 0 16 5 11-1 2 1 2-3-2-2 1 0 4 1 3-1 2 2 3 0 3 1 17 1 22-4 2 2 3 2 3-2 3 2 9 0 3-1 1 1 5 0M379.5 1000.5l-1-2-1 2 2 0M304.5 1000.5l-1 1 0-1 1 0M329.5 1001.5l0-2 0 2M77.5 1003.5l13 1 1-1 12 0 2-1 3 2 3-1 11 1 9-2 5 0 2 1 3-2 3 0 2 2 3-1 2 0 5-1 4 2 0 1 1 1 2-2 3 0 1-1 5 1-2 1 5-3 5 0 3 2 2-2 3 1 2-2 3 1 4-1 1 0 0 1 4 0 3 1 7-1 4 1-1 1 1 1 2-1-1-1 2-1 8 2 6 0 3-2 5 1 4-1 5 2 5-1 2 1 4-3 6 1 4-1 1 2 1 0 2-1 8 2-1-1 1-1 4 1 4-1 0-1 1 0 16 4 21 0 3-3 3 2 7-1 3 2 5-1 4 0 15-2 4-1 6 3 9 0 8-1 2 1 10 0M137.5 1001.5l-1 1 0-1 1 0M89.5 1004.5l-2-1 3 0-1 1M77.5 1004.5l3 2 5-1 3 1 5-1 4 0 3-1 16 2 3-1 3 1 2-1 6-1 2-1 6 2 4-1 4 2 3-1 3 1 5-1 4 1 2-1 7 0 6-1 3 1 11-1 1-1 11 0 0 1-1 1 2 1 1 0 2-3 2 1 1 1 4-1 3 1 3-1 2 1 2-1 3 1 8-1 3-1 14 3 2-1 4 1 4-3 5 0 4-1 1 1 11 2 6-1 1-1 4-1 2 2 6-1 11 2 7-1 10 1 3-1 7 0 3 0 3 3 5 0 3 0 2-2 1 0 0-1 2-1 3 1 2-1 4-1 4 1-1 1 1 0 2 0 2-2 3 2 6 1 11-2 2 1 11 0M341.5 1006.5l-2 0 1 1 1-1M359.5 1006.5l-2 0 2 0M77.5 1007.5l12 1 6-1 8 1 3-2 4 0 8 2 8-1 3 1 2-1 4 1 5-2 1 1 7 1 2-1 4 0 2 1 3-1 6 1 3-2 7 1 6-1 2 1 13-3 7 3 4-1 2 2 9-2 18 0 5 1 18 0 2 0-1-1 1 0 4 1 3-1 2 1 2-1-4 0-1-2 2-1 3 2 3-1 4 2 14 0 2-1 10 0 12 2 2-1 5 1 7-1 8 2 4-1 6 2 4-1 7 0 2-1 5 1 4-2 4 0 1-1 9 2 10-2 11 0 1 2 1 0M408.5 1005.5l-1 0 1 0M209.5 1007.5l-2-1 2 0 0 1M366.5 1006.5l-3 0 4 0-1 0M376.5 1007.5l-1 0 1 0M77.5 1009.5l7 0 2 1 3-1 9 0 2 1 10-2 3 2 3-1 6 1 2-1 6 1 6-1 4 1 4-2 7 2 3-1 2 1 5-1 6 0 2-1 5 2 6-2 2 1 17-1 7 0 2 2 9-1 7 0 3 0 3-2 3 1 2-1 7 2 10-1 3 2 0 1 2 0 1 0 0-2 1 0 2 1 8-1 6-2-1-1 1 0 6 2 3-1 2 1 8 0 8-2 9 2 2-1 3 2 5 1 18 1 3-2 10 1 10-1 5 2 3-2 4 0 3-1 5 2 0-2 12-1 5-1 4 3 5 0M227.5 1007.5l-2 0 2 0M333.5 1009.5l-2 0 0-2 3 1-1 1M338.5 1009.5l-1 0 1 0M108.5 1010.5l-2 0 2 0M255.5 1011.5l-2 0 2 0M77.5 1011.5l3 0 2 1 3-1 2 1 2-1 4-1 4 2 6-1 1 2 4-1 2-2 12 2 10-1 4 1 1-2 5 1-2 1 1 0 4 0 4-1 2 1 3-1 3 1 4-2 10 0 3 2 10-2 3 1 10 0 5 1 4-2 6 0 7 0 2 1 9-2 8 2 7-1 8 3 4 0 17-4 5 1 4-1 7 0 11-1 11 1 7 2 10 1 4-1 6 1 7-2 4 1 8-1 8 2-2 1 1 0 7-3 12 1 11-1 3 1 10 0M195.5 1011.5l-1 0 0-2 3 0-2 2M190.5 1011.5l-2-1 2 0 0 1M77.5 1012.5l3 1 7 1 5-1 2 1 14 0 4-1 3 1 9-1 11 1 3-1 4 1 5-1 3 1 4-1 3 1 2-2 4 0 7 2 6-1 3 1 7-2 4 1 5-1 5 3 2-1 3 1 4-2 2 1 1-2 5 1 2 0 3 1 2-2 6-1 2 2 2-1 3 1 5-2 2 2 3-1 3 3 8-1 3-1 9-1 3-1 5 1 8-2 4 0 10-1 9 2 3-1 0 2 2 1 3-1 13 1 5 0 2 1 2-1 12-1 5 1 2-1 4 2 5 0 3 1 3-1-1-1 4-1 10 1 2-1 6-1 7 2 7-1M312.5 1012.5l-1 0 1 0M77.5 1014.5l5 0 2 1 7 0 2 1 2-1 4 1 5-1 3 1 6-1 7-1 2 1 4 0 2 1 3-1 6 1 10 0 2 1 1-1-1-1 1 0 4 0 2 2 7-3 2 0 0 1 3 0 1 0-1 1 2 0 6-1 5 1 2-2 4 1 7-1 3 2 7 1 11-2 2 1 3-1 2 1 2-1 3 1 3-1 3 0 0 1 1 1 5-1 2 0-2-1 1-1 3 1 2-1 7 2 10-1 4-1 2 0 4 0 1-2 5 1 3 0 2 1 1-1 1-2 6 0 2 0 10 0 2 2 4 1 11-1 5 1 10 1 2 0 4-2 10 0 7 3 3-1 4 1 8 0 1-1 4 1 3-2 14-1 4 1 9-1M282.5 1012.5l-1 0 1 0M301.5 1013.5l-3 0 3-1 0 1M77.5 1017.5l3 1 8-2 2 1 20-1 5 1 4-1 4 1 3-1 4 1 2-1 15 2 4 0 1-1 6 1 1-2 3 0 2 1 7 1 2 0 0-1 1 0 4 1 2-1 2 1 0-1 1 0 6 1 10-1 5 1 8 0 7-1 5 1 3-1 5 1 4-1 17 0 13-2 4 2 4-2 7 0 4 2 3-1 1-1 3-1 6 3 22-3 11 2 3 0 3 2 6-2 6 0 2 1 3-2 4 2 4-1 2 1 7 1 9-2 7 0 4-2 6 0 6 1 5 0M408.5 1017.5l-1 0 1 0" stroke="#0010d8"/>
</g>
<clipPath id="lca61"><path d="M79 1027H262V1050H79Z"/></clipPath>
<g clip-path="url(#lca61)" fill="none" stroke-width="1">
<path d="M77.5 1029.5l2 1 2-2 3 1 4 0 2-1 8 3 2-1 8 2 1 0-2-1 4-1 2 1 2-2 4 0 1 0-1-1 3-1 3 1 4 1 3-3 1 1 3-1 5 1 8 0 5 3 0-2 6 1 5 2 4-2 3 2 2-2 3-1 1 3 1 0 0-2 3 0 2-1 3 1 1-2 4 2 4 0-1-1 1 0 3 1 3-1 2 1-1 1 1 0 2-1 10 0 4 1 3-2 1 1 0 1 2 1 5-1-4 0 0-1 1-1 3 1 3-1 1 0-1 1 1 0 3-1 2 2 3 0 1 2 7-3 4 1 7-1 3 2 8-1 3 2 1-2 7 1 2-1 6 1 3-1 2 1 7-3 2 1 11 1 1-1-1-2 2 0 3 0-1 1 4 2 4 0 2-1 8 2 9-3 3 1 13 0 1-1 5 1 10-1 3 1 10 0 1-2 4 3 6-1 3 1 1 0M96.5 1029.5l-2-1 2 0 0 1M300.5 1029.5l0-1 0 1M315.5 1028.5l-1 1 0-1 1 0M366.5 1030.5l-1 0 1 0M193.5 1031.5l-2 0 2 0M77.5 1032.5l7-2 5 3 0-2 1 0 3 2 4 0-4 2 3 1 2-1-2-1 1-1 3 1 0 1 5 1 1 0-2-2 1-1 5 1 4-1 1 1-2 1 2 1 2-3 7 0-2-2 1 0 6-1 2-1 3 1-1-2 2 0 3 2 4 0 3-1-1 1 2 1 4-1 5 2 8 0 2 2 2-1 7 0 1-1 2 1 3 0 6-3 1 1-1 2 3-1 2 2 4-2 5 1 3-1 8 2 5-2 11 1 3-1 2 0-1 1 1 1 7-2 2 1 6 0 3 2 4-2 3 1 3-1 2 1 10-2 4 2 4-2 1 0 1 2 3-1 6 0 3-2 4 2 7-2 3 1 2-1 8 1 1 1 4 1 6-2 11 0 3-1 4 0 1 1 6-2 7 2 6-1 6 2 3-1 3-3 2 4 3-1-2-1 2-1 10 2 6-1 2 1 6 0M119.5 1031.5l-1 0 1 0M404.5 1032.5l-1-1 1 0 0 1M238.5 1032.5l-2 0 2 0M264.5 1032.5l-1 1 0-2 1 1M116.5 1034.5l-2-1 1-1 2 1-1 1M346.5 1034.5l-1-1-1 1 2 0M401.5 1034.5l-2 0 2 0M408.5 1035.5l-1 0 1 0M77.5 1038.5l3 1 3 0 1-1-1-2 1 0 3 1-2 1 1 1 7-1 4 0 1 1 3-1 2 1 6 1 5-3 5 1 2-2 2 1 3-2 1-2 2 1 10-1-1-1 1-1 2 2 5 0 0 2 2 0 2-1 2 0-2 1 1 1 5-3 3 1-1 1 2 0 2-1 3 1 3-1 9 1 8-1 1 0-2 1 2 1 6 0 0-1 2 0 1 1 4 0 2 1 1 0-3-1 3-1 1 2 2-2 11 2 6-3 4 3 2-2 2 2 7-1 2 1 3-2 4 1 2 2 6-1 1-2 3 3 9-2 1 2 2 0 0-1-2-1 3 0 2-1 1 2 1 0 7-2 4 1 2-2 4 2 3-3 13 1 2 0 1 1 4 0 2 1 3-2 4 2 4-2 3 0 2-1 3 2 1 0 0-1 1-1 2 2 6 1 2-1-1-1 1-1 5 0 9 2 1 1 4 0 5 2 0-1-1-1 3-1 6 2-1-2-3 0 7-1 5 1 4-2 3 1 2 0 1 2 3 0 3-1 2 2-3 1 2 2 3-2M357.5 1034.5l0-2 1 0-1 2M126.5 1034.5l0-1 1 0-1 1M312.5 1033.5l-1 0 1 0M216.5 1034.5l-1 0 1 0M214.5 1036.5l-2-1 2-1 1 1-1 1M254.5 1036.5l-1-1 2 0-1 1M393.5 1036.5l-1-1 0 1 1 0M110.5 1038.5l-2 0 3 0-1 0M77.5 1040.5l13 1 2 0 11 0 9 0 2 1 5-3 7 1-1-3 1 0 2 0-1 1 2 1 3 0-2-1 5-2 2-2 2 1 0 2 1 1 3-2 2 2 2-2 3 1 3-1 3 2 2-1 7 1 0-1 3 0 1-1 3 0 4 0 1 1 6 0 8 2 7 0 1 2 3-1 1-2 3 0 2 1 7-1 2 2 2-2 4 1 3-1 6 0 2-1 3 2 3-1 1 2 3 0 8 1 5 0 7-2 7 0 9-1 2 2 1 0 3-2 9 1-1-1 0-1 5-1 2 1-1 1 2 1 4-2 2 2 8-2 3 2 9 1 6-2 0-1 7 1 1-2 2 1 0 1 3-1 3 1 3-3 3 2 3 2 2-2 2 3 2-1 6 1 2-1 3 1 3-2 3 0 2-1 2 1 3 0 2 2 3-1 3-1 3 2 8 0M291.5 1037.5l-1 0 1 0M311.5 1037.5l-1 0 1 0M151.5 1039.5l-2 0 2 0M234.5 1040.5l0-1-2 0 2 1M252.5 1040.5l-1 0 1 0M77.5 1043.5l2 0 8-1 4 1 7-1 18 1 3-1 3 1 6-1 0-1 1 0 3 0 1 1 5 0 3-1 9 3 1-1 0-1 4 0 1-2 7 0 5-1 2-1 4 2 7-2 5 1 1 1 3 0 3 2 2 0 1 2 8-4 1 2 2 0 3 0 1-1 2 0 5 0 1 1 7-1 7 1 12 0 2 1 3 0 7 0 2-1 6-1 2 0 3-1 4 1 2-1 7 2 2-1 5 0 3 2 2-1 2-2 2 1-1 1 1 0 5 0 0-1 1-1 2 2 4-1 1 0-2 1 4 1 3-1 5 1 3 0 0-2 3 1 2-1 6-1 2 0 0 1 2 1 6-2 5 0 1-1 4 1 2 2 9-2 1 0 1 2 3-1 3 1 5 0 2-1 14 2 3-2 2 1 3 0 3 1 1 0M176.5 1039.5l-2-1 1 0 1 1M356.5 1040.5l0-1 0 1M357.5 1041.5l-1-1 1 1M150.5 1042.5l-3-1 4 0-1 1M162.5 1041.5l-1 0 1 0M318.5 1042.5l1-1-1 1M334.5 1043.5l-1-2-2 1 1 2 2-1M202.5 1044.5l1-1-1 0 0 1M303.5 1044.5l-2 0 2 0M316.5 1044.5l-2-1-1 1 3 0M180.5 1042.5l-1 0-1-2 3 1-1 1M77.5 1045.5l6-1 4 1 2-2 4 1 8 0 3 0 4-1 3 2 2-1 3 2 2 0 1-2 16 1 11-1 3 1 4 0 3 1 3-2 8 0 1 0 0-2 1 0 6 1 7-1 2 1-2 1 5 1 6-1 4 3 2-2 2 0 4-1 2 1 5-1 3 1 9-2 6 2 6-2 7 2 10-1 6 1 6-3 3 1 2-1 3 1 6-2 5 2 3 0 3 3 2 0 1-1 1 1 6 2 3-1 2 1 4-2 6 1 4-1 2 0 3-1 5 2 5-2 3 1 1-1 7 0 4-2-2-1 2 0 1 1 9 0 8 2 4-2 1 1 2-1 8 1 5-2 3 2 7 0 2-1 1 2 2 0 0-1 2 0 2 1 2 0M158.5 1044.5l-1-1 1 0 0 1M247.5 1046.5l-1-1-1 1 2 0M162.5 1047.5l-1-1 0 1 1 0" stroke="#000080"/>
</g>
<clipPath id="lca62"><path d="M338 785H410V1074H338Z"/></clipPath>
<g clip-path="url(#lca62)" fill="none" stroke-width="1">
<path d="M379.5 966.5l8-1 3-2 4-5 0-3 2-7 3-4 1-6 5-19 0-4 3-11-1-16 1-3-1-3 0-8-1-4 1-2-2-6 0-3-2-3 1-1-2-4-3-2-1-3-6-3-13 1-1 1-1 0-2-2-3 2-2-2-3 1-2 2-5 1-1 3-3 3-1 4-2 4-1 16-1 4 1 3-1 7 1 7-1 7 2 4 1 8 1 3 1 5 2 11 3 8 2 8 4 8 0 2 4 3 5 2 3-1M408.5 867.5l-2-6 0-5-2-5-5-6-4-3-3 0-2-2-2 2-10-2-4 2-5-1-6 2-5 3-1 2-1 1-3 4 0 3-2 6 0 5 1 3-2 10 1 4-1 3 0 5 1 5-1 8 3 13 1 2 0 5 2 8 4 11 2 9 3 5 1 5 6 4 4 2 3-1 3 2 2 0 2-3 3 0 5-8 3-10 3-5 4-17 1-4 3-17M408.5 860.5l-1-2 0-1-1-7-3-2-3-5-3-1-1-2-3 0-2-2-6 2-1-2-5 0-6 1-2 0-5 2-1-2-2 0-1 2-3 0-1 2-4 5 0 2-2 4-2 13 0 3-1 8 1 31 6 26 6 19 2 4 0 3 7 9 2 0 1 1 3 0 2 1 3-1 4 1 7-9 3-5 2-9 4-11 1-4 1-4 0-3 2-3 2-10M380.5 839.5l0-1 0 1M408.5 849.5l-8-10-12-4-7 0-4 2-5-1-4 2-2-2-4 1-4 3-2 3-4 4 0 3-2 2-1 9 0 3-1 3 1 4-1 3 0 12 0 4 0 7 1 13 6 25 8 26 2 4 3 2 1 4 3 3 2 0 9 1 4-1 5-6 5-10 6-20 1-4 1-3 0-4 2-4 1-6M408.5 854.5l0-1M408.5 846.5l-1-1 0-2-3-2-1-3-13-5-3 1-5-2-2 1-1 2-3-2-6 2-2-2-3 1-8 3-1 1-2 2 1 2-5 3 0 3-2 8 0 3-1 3 1 2-1 2 0 5 0 2 0 32 1 6 4 13-1 2 2 3 0 4 3 11 2 2 4 15 2 4 2 3 4 8 3 0 2 1 4-1 5 1 4-1 2-2 8-16 0-2 5-15 2-7 3-10M408.5 842.5l-3-5-5-2-1-2-3-1-1-2-4 2-3-3-3 2-4 0-2 1-5-2-3 1-2-1-2 0-3 0-1 2-3 0-2 3-2 0-4 4 0 2-3 3-2 12 0 3-1 3 0 3-1 4 1 11-1 14 1 3-1 4 0 4 2 3 1 10 4 11 0 3 5 14 4 14 9 18 3 2 4-1 4 1 4-1 1-1 3 0 3-5 2-2 0-3 5-10 5-17 1-6 3-6M408.5 838.5l-1-3-3-1-1-1-1-2-2-1-2-2-2 0-4 1-5-2-4 3-2-2-4 0-10-1-2 1-2 0-4 2-7 6-4 9 0 2-2 3 0 9-2 10 1 19-2 11 1 6 1 3 2 11 4 9-1 3 8 23 2 6 4 8 4 10 4 3 7 2 4-2 3 1 1-2 3-1 1-3 4-5 0-3 5-9 5-18 1-6 2-4" stroke="#000080"/>
</g>
<clipPath id="lca63"><path d="M354 940H410V1074H354Z"/></clipPath>
<g clip-path="url(#lca63)" fill="none" stroke-width="1">
<path d="M408.5 832.5l-2-2-7-5-2 1-4-1-1 1-1 0-3-1-3-1-2 1-2-2-3 2-3 0-6-3-3 3-4 0-3 2-2 0-3 1 0 2-2 1-1 3-2 1-1 3-1 4-2 2 1 3-1 3 0 3-1 4-1 9-1 8 1 9-1 4 1 2-1 9 1 10 2 6 2 10 2 4 0 3 9 26 4 10 0 2 5 12 3 3 17 2 2-4 3-2 0-3 3-4 2-7 2-3 9-28M408.5 828.5l-3-2-3-1-3-1-3 0-1-3-3 1-5-2-2 1-5 0-2 2-2-2-2 1-4-1-4 2-2-1-8 3-6 5-2 1-1 5-3 7 0 4-2 7 0 8 0 4-1 2 0 6 1 11-1 2 1 2-1 7 0 12 2 4 1 2 5 17 1 3 1 5 3 9 1 4 8 20 3 10 5 6 2-1 2 2 2 0 2 0 5-1 2 1 4-4 10-22 8-24M408.5 830.5l0-2M408.5 823.5l-5 1-1-1-1-3-3 1-3-2-2 1-1-1 0-1-6 0-2 2-4-1-2 1-4-1-4 0-1-1-7 2-4 0-6 4-1 3-2 0-3 5 0 3-4 9 0 4-1 3-1 12 1 2-1 3 1 14-1 14 0 11 2 6 2 3 1 6 4 11 5 19 8 20 3 11 4 4 1 3 2 0 2 1 2-1 8 2 3-1 4-3 12-32 5-15M406.5 822.5l-1-1 0 1 1 0M408.5 822.5l-3-3-2 0-2-1-4 0-3-2-3 0-3-1-5 2-5 1-2-2-3 1-3-1-4 0-11 4-2 0-2 3-3 2-3 4-1 5-1 5-1 2-1 3 0 5-2 8 1 3-1 3 1 3-1 12 1 4-2 3 1 22 4 10 1 5 1 3 1 4 2 5 0 3 4 9 1 5 8 21 3 10 4 9 4 1 1 2 3 1 5-2 3 2 8-6 14-39 1-3 1-4M408.5 820.5l-7-6-3 1-3-2-3 2-4-2-5 1-3-1-3 1-1 0-11 0-2-1-11 3-2 3 0 2-2 1-3 4-2 6-2 4-3 21 0 2 0 4 0 3 0 6 0 2-1 3 1 4-1 3 0 4 1 3-1 14 7 20 3 12 3 6 2 8 3 6 7 20 3 12 3 5 3 1 1 3 4-1 3 0 2-1 3 1 5-1 5-8 4-15 10-25M408.5 817.5l-9-6-2 1-4-1-1-1-1-1-2 2-3 1-3 0-4-2-2 1-3 1-2-2-1 0-1 3-1 0-2-2-3 0-6 1-3 2-5 2 0 1-8 10-1 7-2 3-1 15-2 10 1 3-1 3 1 13-1 3 0 6 0 7 0 4 0 4 3 8 6 19 5 12 1 7 3 6 8 20 0 4 4 13 6 5 1 1 3-1 3 1 3-1 2 1 2-2 2 1 3-2 4-8 4-16 9-23M408.5 814.5l-1-4-3-1-2 0-1 0-4 0-3-1-3 0-3 1-1 0-2-2-3 2-6-1-2 0-6-1-2 0-4 3-5-1-1 1-3 0-2 3-2 1-3 5-2 0 0 3-3 4-2 8-2 3 0 10-2 15 0 18 1 2-1 2 0 3-1 10 1 8 1 4 2 3 4 15 7 17 2 7 3 7 2 8 5 11 0 4 3 13 7 8 7 0 4-1 1 1 5 0 5-4 2-5 2-13 6-17 5-11M408.5 809.5l-7-4-2 2-3-2-3 1-7-1-5 2-4-2-2 1-7-1-4 0-2 2-6 0-3 0-2 2-1 2-3 0 0 2-1 2-2 0-1 2-6 15-2 24-1 7 0 2 0 4 0 7-1 3 1 3 0 3 0 21 3 6 0 2 2 5 2 9 5 10 4 13 3 7 3 9 4 9 1 9 3 13 4 4 4 2 3 2 4-1 2-1 8 0 3-4 3-1 0-3 2-3 1-13 10-27M408.5 807.5l-2-2-7-2-3-1-2 1-12 1-1 0-1-2-1 0-7 1-4 0-4-1-3 2-6 0-3 2-3 0-6 8-2 4-2 2-1 3-3 14-1 21-2 5 1 3 0 3 0 7-1 3 1 3 0 25 3 5 7 24 2 2 5 15 3 5 2 6 0 3 5 10 0 8 4 14 6 8 1 0 1-1 2 2 5 0 2-1 1-2 7 1 7-6 2-8 1-12 3-9 2-4 0-3 4-7M408.5 804.5l-3-1-2-2-11-2-8 1-1 2-3-2-2 0-2 0-12 0-3 1-3-1-3 2-7 2-1 2-2 1-2 4-2 1-1 1-1 2 0 2-2 2 0 2-2 12-2 5 1 7-2 6 1 7-2 5 1 3 0 5-1 18 1 18 6 15 4 14 3 6 4 11 5 11 0 3 5 10 0 4 1 7 0 3 3 8 1 4 4 5 2 1 2 0 1 1 4-1 7 2 3-2 3 1 3-4 1-3 3-3 2-7 1-16 8-18M408.5 801.5l-3-2-3 1-3-2-2-2-1 0-2 1-2-1-2 2-2-1-3 2-3-2-3 1-2-1-2 1-4-1-4 1-4-1-3 2-4 0-1 1-8 2-1 2-2 1-3 4-2 1-1 6-3 3 1 3-2 2 1 3-2 4 0 3-1 4 0 8-1 5 1 3 0 4-2 5 1 5-1 5 0 18 1 17 6 14 0 2 6 16 15 37 0 3 2 8-1 3 3 10 1 4 4 6 4 2 3-1 1 1 3 0 9-1 5-1 5-9 3-10 1-15 7-17" stroke="#000080"/>
</g>
<path d="M387 792 376 792.1 369 790.6 365.5 788 364.4 783 397.6 783 397.4 786 395.6 789 392 791 387 792ZM386 965.1 374 965.4 370 963.4 366.5 959 362.5 950 359.5 940 351.7 905 352.3 873 354.7 858 356.7 853 360 848.5 364 846 369 844.7 389 844.6 397 847 400.4 850 403.3 855 406.1 867 407.3 905 396.6 950 391.2 961 386 965.1ZM83 1030 77 1030.1 77 918.9 106 919.9 114.4 921 121 923 123.5 925 124.8 929 125.1 957 167 963.4 184 967.7 201 973.5 214 979.3 224 985.4 229.2 990 230.8 994 238.5 998 240.9 1003 240.7 1010 238.5 1014 234 1016.9 227 1018.7 213 1019.8 180 1020.1 155 1025.5 129 1028.8 83 1030Z" fill="#0000b2" fill-rule="evenodd"/>
<path d="M383 791 375 790.7 370 789.2 367.6 787 367 783 395 783 394.4 787 392.3 789 383 791ZM386 964.2 373 964.2 370 962.5 367 958.8 363.8 952 359.9 940 352.2 905 352.6 874 354.9 859 357 853.7 360 849.6 363.7 847 368 845.8 388 845.4 396 847.4 399 849.6 402 853.7 405.4 865 406.7 884 406.3 908 401.1 932 396.4 949 391.2 960 386 964.2ZM98 1028.1 77 1028.7 77 920.3 104 921.5 111.5 923 115.1 925 116.4 927 117.1 931 117.2 960 137 961.7 156 964.5 174 968.6 192 974.2 204 979.1 214 984.7 220.5 990 223 994.8 232.4 998 235.7 1003 235.8 1008 234 1012.5 230.6 1015 224 1016.9 210 1018 173 1018.3 141 1024.4 98 1028.1Z" fill="#0000c9" fill-rule="evenodd"/>
<path d="M388 789.1 380 789.8 373.5 789 370.2 787 369.4 783 392.6 783 391.8 787 388 789.1ZM386 963.3 373 963.3 370 961.6 367 957.8 363 948.8 360 939 352.6 905 353 875.3 355 860.9 357 855.2 360 850.7 363.8 848 368 846.7 387 846.3 395.2 848 401 853.4 405 865.7 406.2 881 406 907.2 401 930.9 396 948.8 391 959.3 386 963.3ZM87 1027 77 1027.3 77 921.7 99.1 923 103.5 924 107.2 926 109 932 109.1 962 130 963.3 148 965.6 167 969.5 185 974.7 197 979.4 207.5 985 215.4 992 215.7 994 214.4 996 227 999 229.4 1001 230.6 1004 230.4 1009 228.4 1012 224.9 1014 220 1015.2 206 1016.2 170 1016.4 138 1022.4 105 1024.4 99.1 1026 87 1027Z" fill="#0000e0" fill-rule="evenodd"/>
<path d="M386 788.1 375 787.8 372.4 786 372 783 390 783 389.6 786 386 788.1ZM385 962.1 373 961.8 370 960.1 367 956.3 363 947.1 360 936.8 353.4 905 354 871.8 356 860.6 358 855.6 361 851.6 365 849.1 369.3 848 389 847.9 396 850.1 400 853.9 402 857.8 405 871.8 405.6 905 401 928.4 397 944 393 954.4 389 960.1 385 962.1ZM82 1025 77 1025.2 77 923.8 91 925.1 95.9 927 97.4 929 98.2 935 98.3 964 121 964.5 141 966.5 162 970.4 180 975.4 193 980.5 203.3 986 208.4 990 210.5 993 206.9 998 219.3 1000 222.7 1002 224.3 1005 224 1008 222.7 1010 219.3 1012 215 1013 170 1014.2 137 1020.6 115 1022.3 97 1021.9 90.7 1024 82 1025Z" fill="#0000f7" fill-rule="evenodd"/>
<path d="M385 786.2 377 786.2 375.7 785 375.7 783 386.3 783 386.3 785 385 786.2ZM379 951 375 949.6 372 946.9 366.6 936 361.5 907 360.5 888 361.4 878 364.6 870 367 867.9 376 863.5 380 863.1 383 863.4 387 865.4 392.4 871 396.6 881 397 890 394.6 931 393.4 937 391.1 943 388 947.2 384 950 379 951ZM126 1020.1 103 1020.6 77 1017.9 77 968.5 102 966.1 122 966.2 147 969.2 170 974.3 190 981.5 202.6 989 205.4 992 205.7 994 202.1 998 196.2 1002 207 1004 209.2 1006 207 1008 202.7 1009 178 1010 152 1016.5 126 1020.1Z" fill="#000fff" fill-rule="evenodd"/>
<path d="M380 949 376 948.2 373 945.9 370 941.7 367.6 936 363.3 915 361.2 891 361.9 880 364.8 871 368 868 379 863.5 386 865.4 391.7 871 395.5 879 396.7 888 394.3 927 392.8 936 390.8 941 388 945.1 384 948 380 949ZM121 1019 101 1019.1 77 1016.4 77 970.2 96 967.9 112 967.2 130 968.3 148 970.9 167 975.2 183 980.6 195.6 987 201.8 993 199.1 997 193.4 1001 173 1009.6 148 1015.8 121 1019Z" fill="#0026ff" fill-rule="evenodd"/>
<path d="M382 947 378 947.2 374 945.1 371 941.5 368.4 936 364.3 918 361.8 894 362.2 881 364.8 872 368 868.6 379 863.9 385 865.3 391.3 871 394.8 878 396.4 887 392.9 933 389 942 386 945.1 382 947ZM116 1018 97 1017.6 77 1015.1 77 971.5 94 969.3 111 968.5 128 969.4 145 971.7 163 975.6 180 981.2 191.7 987 198.1 993 195.3 997 189.4 1001 169 1009.3 143 1015.3 116 1018Z" fill="#003dff" fill-rule="evenodd"/>
<path d="M383 945.2 379 945.9 375 944.3 372 941.3 369.1 936 365.3 921 362.3 896 362.4 882 364.8 873 368.2 869 379 864.2 385 865.7 391 871 394.5 878 396.1 887 392.5 932 389 940.4 383 945.2ZM128 1016 104 1016.8 77 1013.9 77 972.7 94 970.5 110 969.6 127 970.5 144 972.7 162 976.7 177 981.6 189 987.5 194.7 993 193 996 188 999.7 172 1006.9 151 1012.6 128 1016Z" fill="#0054ff" fill-rule="evenodd"/>
<path d="M382 944.2 378 944.4 375 942.9 372 939.8 369 934 364.5 914 362.5 894 362.8 882 365.2 873 369 869 379 864.6 385 866 390.7 871 394.3 878 395.9 887 392.2 931 388.1 940 382 944.2ZM127 1015.1 104 1015.8 77 1012.8 77 973.8 94 971.5 110 970.6 126 971.4 142 973.5 160 977.4 175 982.3 186.4 988 191.6 993 189.8 996 185 999.5 169 1006.5 149 1011.8 127 1015.1Z" fill="#006bff" fill-rule="evenodd"/>
<path d="M381 943.2 377 942.8 374 940.8 368.8 932 364.6 912 362.8 892 363.3 881 365.7 873 369 869.4 379 864.9 385 866.3 390.4 871 394.4 879 395.6 887 393.2 922 391.8 931 387.8 939 385 941.6 381 943.2ZM127 1014.1 103 1014.8 77 1011.7 77 974.9 93 972.6 109 971.6 124 972.2 140 974.2 157 977.7 172 982.5 183.4 988 188.7 993 186.9 996 182.7 999 168 1005.6 149 1010.7 127 1014.1Z" fill="#0081ff" fill-rule="evenodd"/>
<path d="M381 942 377 941.7 374 939.7 369 931 364.6 910 363.2 892 363.6 881 366 873.1 369 869.8 379 865.2 385 866.6 390.1 871 394.2 879 395.4 887 393 921 391.6 930 387.6 938 385 940.4 381 942ZM114 1014 96 1013.4 77 1010.7 77 975.9 93 973.5 109 972.5 138 974.8 155 978.3 169 982.6 180.5 988 186 993 184.1 996 178 1000 161 1006.7 138 1011.8 114 1014Z" fill="#0098ff" fill-rule="evenodd"/>
<path d="M380 941.1 376 940.2 374 938.5 369 929.5 365 910 363.5 890 364 880.6 367 872.2 371 869 379 865.5 385 866.9 391 872.7 394 879.3 395.2 888 393 918.1 391.1 930 387 937.5 383.8 940 380 941.1ZM117 1013.1 98 1012.7 77 1009.8 77 976.8 93 974.4 108 973.4 137 975.6 153 978.8 167 983.1 177.7 988 183.4 993 181.4 996 177 999 160 1005.9 139 1010.7 117 1013.1Z" fill="#00afff" fill-rule="evenodd"/>
<path d="M382 939.1 378 939.3 375 937.8 370 930.2 366.4 916 364 895.8 364.1 883 366.4 874 370 870.1 379 865.8 385 867.3 390 871.8 393.6 879 395 887 392.6 918 391 928.1 387.7 935 382 939.1ZM121 1012 101 1012.1 77 1008.9 77 977.7 92 975.3 107 974.2 135 976.1 151 979.2 165 983.4 175.1 988 180.9 993 178.9 996 174.4 999 160 1004.9 141 1009.5 121 1012Z" fill="#00c6ff" fill-rule="evenodd"/>
<path d="M383 937 379 937.8 376 936.8 373 933.9 370.8 930 367.2 917 364.4 896 364.4 884 366.5 875 370 870.6 379 866.1 385 867.7 389.8 872 393.3 879 394.8 887 391.1 925 388 932.7 383 937ZM123 1011.1 101 1011.3 77 1008.1 77 978.5 106 975 133 976.6 149 979.6 163 983.8 173 988.3 178.6 993 177.6 995 173 998.3 159 1004.2 142 1008.5 123 1011.1Z" fill="#00ddff" fill-rule="evenodd"/>
<path d="M381 936.1 378 936.1 375 934.4 372 930.6 370 926.1 366.4 910 364.7 892 365.3 881 367.5 874 371 870.5 379 866.5 385 868.1 390 872.8 393.4 880 394.5 888 390.5 925 387 932.3 384 934.9 381 936.1ZM126 1010 103 1010.7 77 1007.2 77 979.4 92 976.9 106 975.8 132 977.3 148 980.2 160.8 984 171 988.5 176.3 993 175.3 995 171.2 998 159 1003.2 143 1007.5 126 1010Z" fill="#00f4ff" fill-rule="evenodd"/>
<path d="M382 934.4 379 934.8 376 933.7 371 926.8 367.4 913 365.2 894 365.4 883 367.5 875 370.9 871 376 867.7 379 866.8 385 868.4 389.8 873 392.8 879 394.3 887 393.7 899 390.5 923 387 930.7 382 934.4ZM117 1010 98 1009.6 77 1006.5 77 980.1 105 976.5 130 977.7 145 980.4 159 984.3 169.5 989 174.1 993 173 995 168.8 998 154 1003.9 137 1007.8 117 1010Z" fill="#0cfff3" fill-rule="evenodd"/>
<path d="M381 933.3 378 933.2 375 931.4 370.6 924 367.1 909 365.5 892 365.9 882 367.9 875 371.5 871 379 867.2 385 868.8 389.5 873 392.9 880 394 888 393.4 899 390 922.7 386.3 930 381 933.3ZM122 1009 101 1009.2 77 1005.7 77 980.9 104 977.2 129 978.3 144 980.9 157 984.5 167.2 989 172 993 170.9 995 167 997.7 155 1002.7 139 1006.7 122 1009Z" fill="#23ffdc" fill-rule="evenodd"/>
<path d="M380 932.1 375 930.1 370.5 922 367.2 907 365.8 890 366.4 881 368.4 875 374 869.6 379 867.5 384 868.6 389.1 873 392.6 880 393.8 888 393.2 899 389.7 922 386 928.9 383 931.2 380 932.1ZM125 1008.1 102 1008.6 77 1004.9 77 981.7 104 977.9 128 978.9 142 981.2 155 984.7 165 989 169.9 993 166.1 997 155 1001.9 141 1005.6 125 1008.1Z" fill="#3affc5" fill-rule="evenodd"/>
<path d="M382 930.4 379 930.9 376 929.6 371.9 924 368.3 911 366.2 894 366.3 884 368.3 876 372.6 871 379 867.8 384 868.9 389 873.2 392.4 880 393.6 887 392.8 900 389.7 920 387 926.3 382 930.4ZM117 1008.1 98 1007.6 77 1004.2 77 982.4 103 978.6 127 979.4 141 981.7 153.2 985 162.9 989 167.9 993 166.7 995 162.1 998 150 1002.6 134 1006.2 117 1008.1Z" fill="#50ffaf" fill-rule="evenodd"/>
<path d="M382 929.2 377 929.1 374 926.4 372 922.9 368.4 910 366.5 894 366.6 884 368.7 876 374 870.3 379 868 384 869.2 389 873.6 392.2 880 393.4 887 392.8 899 389.5 919 387 925 382 929.2ZM122 1007.1 101 1007.2 77 1003.5 77 983.1 102 979.3 125 979.8 138 981.8 151 985.1 160.7 989 165.9 993 164.7 995 161.8 997 151 1001.5 138 1004.8 122 1007.1Z" fill="#67ff98" fill-rule="evenodd"/>
<path d="M382 928.1 377 927.9 374 925.1 372 921.5 368.6 909 366.8 894 367 884 369 876 374 870.6 379 868.3 384 869.4 389 874 391.6 879 393.2 887 392.6 899 389.4 918 386 925 382 928.1ZM113 1007 95 1006 77 1002.7 77 983.9 102 979.9 124 980.3 138 982.5 150 985.6 159 989.2 163.9 993 162.7 995 159 997.4 146 1002.2 130 1005.5 113 1007Z" fill="#7eff81" fill-rule="evenodd"/>
<path d="M381 927.3 378 927.3 376 926.1 371.9 920 368.6 907 367.1 892 367.4 883 369.4 876 374 870.9 379 868.5 384 869.7 388.8 874 391.8 880 393 888 392.4 899 389 917.8 386 923.9 381 927.3ZM120 1006 99 1005.9 77 1002 77 984.6 101 980.6 123 980.8 136 982.7 148 985.7 157 989.2 162 993 160.8 995 157.7 997 147.6 1001 134 1004.2 120 1006Z" fill="#95ff6a" fill-rule="evenodd"/>
<path d="M381 926.3 378 926.2 376 925.1 372 918.9 368.7 906 367.3 892 367.7 883 369.7 876 374.2 871 379 868.8 384 870 388.5 874 391.6 880 392.9 887 392.3 898 389 916.4 386 922.7 381 926.3ZM124 1005.1 101 1005.5 77 1001.3 77 985.3 100 981.2 122 981.3 135 983.2 146.5 986 156 989.8 160.1 993 157.4 996 148.3 1000 137 1003 124 1005.1Z" fill="#acff53" fill-rule="evenodd"/>
<path d="M381 925.3 378 925.2 376 924 372 917.7 368.9 905 367.6 892 367.8 884 369.5 877 374 871.4 379 869 384 870.2 388.3 874 391.4 880 392.7 887 392.1 898 389 915.1 386 921.6 381 925.3ZM118 1005 98 1004.6 77 1000.6 77 986 99 981.9 120 981.7 144 986 153 989.3 158.3 993 155 996.3 145 1000.3 132 1003.3 118 1005Z" fill="#c3ff3c" fill-rule="evenodd"/>
<path d="M381 924.3 378 924.3 376 923.1 372.2 917 369.3 906 367.8 892 368.2 883 369.9 877 374 871.7 379 869.2 384 870.5 388 874 391.2 880 392.5 887 391.7 900 388.6 915 385.7 921 381 924.3ZM123 1004 101 1004.3 88 1002.5 77 999.9 77 986.7 98 982.6 119 982.2 131 983.7 143 986.4 152.4 990 156.4 993 153.5 996 146 999.2 135 1002.2 123 1004Z" fill="#daff25" fill-rule="evenodd"/>
<path d="M382 923 379 923.6 377 922.9 373 917.8 369.8 907 368.2 894 368.3 884 370.1 877 374 872 379 869.5 384 870.7 388 874.2 391 880 392.4 887 391.7 899 389 912.6 386 919.6 382 923ZM116 1004 96 1003.2 77 999.2 77 987.4 97 983.3 118 982.7 141 986.5 150.5 990 154.6 993 151.6 996 141.2 1000 129 1002.6 116 1004Z" fill="#f1ff0e" fill-rule="evenodd"/>
<path d="M382 922.1 379 922.7 377 922 373 916.7 370.1 907 368.4 894 368.5 884 370.4 877 374.3 872 379 869.7 384 870.9 388 874.5 390.9 880 392.2 887 391.7 898 389 911.5 386 918.6 382 922.1ZM122 1003 111 1003.7 100 1003.1 78 998.7 77 998.4 77 988.2 97 983.8 117 983.2 140 986.9 148.5 990 152.8 993 149.7 996 142.2 999 122 1003Z" fill="#fff600" fill-rule="evenodd"/>
<path d="M382 921.3 379 921.8 377 921.1 373.1 916 370.4 907 368.6 894 368.7 885 370.2 878 374.5 872 379 869.9 384 871.1 388 874.8 390.7 880 392.1 887 391.5 898 389 910.4 386 917.6 382 921.3ZM115 1003 96 1002.1 78 998 77 997.6 77 989 95 984.7 115 983.6 137.7 987 146.5 990 150.9 993 147.7 996 139 999.2 127 1001.8 115 1003Z" fill="#ffe000" fill-rule="evenodd"/>
<path d="M380 921 376 919.4 372.3 913 369.7 902 368.7 890 369.3 882 371.5 876 375 871.8 379 870.1 384 871.3 388 875 390.6 880 392 888 391.2 899 388 912.6 385 918 380 921ZM121 1002 103 1002.3 83.5 999 77 996.8 77 989.8 94 985.4 114 984.1 136 987.2 144.4 990 149.1 993 147.5 995 140.8 998 121 1002Z" fill="#ffc900" fill-rule="evenodd"/>
<path d="M381 920 377 919.4 373 913.7 370.3 904 369 892 369.2 884 371.2 877 375 872.1 379 870.2 384 871.5 387.8 875 390.4 880 391.8 887 391.2 898 388.6 910 385 917.2 381 920ZM113 1002 97 1001.1 82.5 998 77 995.9 77 990.7 93 986.1 113 984.6 134 987.4 142.4 990 147.3 993 143.7 996 135 999 113 1002Z" fill="#ffb200" fill-rule="evenodd"/>
<path d="M381 919.2 377 918.6 373.1 913 370.5 904 369.3 893 369.4 884 371.4 877 375 872.3 379 870.4 384 871.7 387.6 875 390.3 880 391.6 887 391.2 897 388.6 909 385 916.3 381 919.2ZM120 1001 106 1001.4 90 999.3 77.3 995 77 991.8 83.5 989 92 986.9 112 985.1 133 987.8 140.3 990 145.4 993 143.7 995 137 997.7 120 1001Z" fill="#ff9b00" fill-rule="evenodd"/>
<path d="M382 918.1 378 918.4 374 914.1 371 905 369.6 895 369.5 885 370.8 879 374.4 873 379 870.6 384 871.9 387 874.5 390 879.7 391.3 885 391.3 895 389.3 906 386 914.1 382 918.1ZM112 1001 101 1000.5 90 998.7 81.3 996 77.5 993 82 990.3 90 987.9 110 985.6 131 987.9 139 990.3 143.5 993 141 995.4 133 998.2 112 1001Z" fill="#ff8400" fill-rule="evenodd"/>
<path d="M382 917.3 378 917.7 374 913.2 371 903.9 369.8 895 369.7 885 371 879.1 374 873.7 379 870.8 383.7 872 387 874.7 390 880 391.2 885 391.2 895 389 906.3 386 913.3 382 917.3ZM119 1000 108 1000.4 95 999.1 83.5 996 79.4 993 83 990.8 91 988.3 110 986.1 129 988.1 137 990.4 141.6 993 139.7 995 134.7 997 119 1000Z" fill="#ff6d00" fill-rule="evenodd"/>
<path d="M381 917 377 916.4 374 912.4 371 902.7 369.9 894 369.9 885 371 879.8 374 873.9 379 870.9 383.3 872 387 874.9 389 878.1 391.1 885 391 895 389 905.5 385 913.9 381 917ZM122 999.1 110 1000 98 999 85.7 996 81.4 993 84.7 991 92 988.8 110 986.6 128 988.5 136 990.9 139.6 993 139.2 994 135 996.1 122 999.1Z" fill="#ff5600" fill-rule="evenodd"/>
<path d="M380 916 376 914.1 373 908.5 371 900.2 370.1 890 370.3 885 372.1 878 375 873.6 379 871.6 383 872.4 387 875.8 390 881.9 390.9 888 390 899.2 387.9 907 384 913.8 380 916ZM118 999 108 999.4 97 998.2 88 996 83.8 994 83.4 993 86.9 991 93.8 989 110 987.2 127 989 134.1 991 137.6 993 136 994.7 132 996.3 118 999Z" fill="#ff3f00" fill-rule="evenodd"/>
<path d="M381 914.1 379 914.3 377 913.4 374 908.8 372 902 370.8 892 370.9 885 372.4 879 375 874.8 379 872.6 383 873.5 386.8 877 389 881.2 390.1 887 389.7 896 388 904.1 385 910.6 381 914.1ZM121 998.1 111 998.9 100 998.1 90 995.9 85.9 994 85.4 993 95 989.4 110 987.7 125 989.2 131.8 991 135.6 993 135.1 994 131 995.9 121 998.1Z" fill="#ff2800" fill-rule="evenodd"/>
<path d="M381 912.2 378 912.2 375 908.7 372.7 902 371.4 892 371.6 885 373 879.5 376 875.1 379 873.8 383 874.7 386 877.4 388.4 882 389.4 887 388.9 896 387.1 904 384 909.9 381 912.2ZM116 998.1 107 998.2 98 997.1 90 995 87.6 993 96 989.9 110 988.3 124 989.7 133.4 993 132.9 994 128 996 116 998.1Z" fill="#ff1200" fill-rule="evenodd"/>
<path d="M381 910.2 378 910.2 375 906.3 373 899.7 372.1 892 373.2 881 376 876.5 379 875 382 875.5 385.2 878 387.5 882 388.5 887 388.2 895 386.7 902 384 907.6 381 910.2ZM119 997.1 110 997.7 101.1 997 92.6 995 89.8 993 98 990.1 110 988.9 122.3 990 131.2 993 128.4 995 119 997.1Z" fill="#fa0000" fill-rule="evenodd"/>
<path d="M381 908 378 907.9 376 905.6 374 900.2 372.8 892 372.9 886 374 881.3 376 878 379 876.3 382 876.9 385 879.5 387.6 887 386 900.5 384 905 381 908ZM114 997 99.3 996 93 994.1 92.3 993 99 990.7 110 989.5 121 990.5 128.7 993 125 995.2 114 997Z" fill="#e30000" fill-rule="evenodd"/>
<path d="M381 905.5 378 905.4 376 902.7 373.7 892 373.7 886 374.8 882 376.7 879 379 877.8 382 878.5 384 880.2 386.6 887 385.2 899 383 903.7 381 905.5ZM117 996 103.7 996 97 994.5 94.9 993 101.1 991 110 990.1 119.9 991 126.1 993 123 994.9 117 996Z" fill="#cc0000" fill-rule="evenodd"/>
<path d="M380 903 378 902.5 376 899 374.5 890 375.6 883 377 880.7 379 879.6 381.3 880 383.6 882 385.5 888 384 898.1 382 901.7 380 903ZM118 995.1 106 995.5 99 994.1 97.9 993 110 990.8 117 991.3 123.1 993 122.3 994 118 995.1Z" fill="#b50000" fill-rule="evenodd"/>
<path d="M380 899.4 378 898.7 377 896.9 375.7 890 376.2 885 379 881.8 382.1 883 384 888 383 895.4 380 899.4ZM111 995 103 994.1 101.5 993 110 991.6 119.5 993 118.4 994 111 995Z" fill="#9e0000" fill-rule="evenodd"/>
<path d="M232 847.5H346M232 852.5H346M232 850H300" stroke="#000080" stroke-width="1" fill="none"/>
<rect x="97.8" y="1020" width="1.5" height="54" fill="#000080"/>
<rect x="149.2" y="870" width="1.5" height="204" fill="#000080"/>
<rect x="177.1" y="855" width="1.5" height="219" fill="#000080"/>
<rect x="210.7" y="810" width="1.8" height="264" fill="#1020c0"/>
<rect x="231.4" y="1000" width="1.2" height="74" fill="#000080"/>
<rect x="289.4" y="785" width="2.2" height="289" fill="#000070"/>
<rect x="308.2" y="785" width="1.5" height="289" fill="#000080"/>
<rect x="329.6" y="785" width="1.5" height="289" fill="#000080"/>
<rect x="79.0" y="946.7" width="5.3" height="14" fill="url(#rimg)"/>
<rect x="84.3" y="936.4" width="10.1" height="10" fill="url(#rimg)"/>
<rect x="94.4" y="925.4" width="11.1" height="8" fill="url(#rims)"/>
<rect x="105.5" y="913.7" width="11.9" height="8" fill="url(#rims)"/>
<rect x="117.4" y="902.0" width="10.5" height="8" fill="url(#rims)"/>
<rect x="127.9" y="890.8" width="9.3" height="8" fill="url(#rims)"/>
<rect x="137.2" y="880.0" width="11.6" height="8" fill="url(#rims)"/>
<rect x="148.8" y="869.0" width="11.7" height="8" fill="url(#rims)"/>
<rect x="160.5" y="857.3" width="11.3" height="8" fill="url(#rims)"/>
<rect x="171.8" y="846.0" width="11.4" height="8" fill="url(#rims)"/>
<rect x="183.2" y="834.0" width="10.3" height="8" fill="url(#rims)"/>
<rect x="193.5" y="821.2" width="11.3" height="8" fill="url(#rims)"/>
<rect x="204.8" y="809.1" width="11.7" height="8" fill="url(#rims)"/>
<rect x="216.5" y="797.1" width="11.0" height="8" fill="url(#rims)"/>
<rect x="227.5" y="785.4" width="11.0" height="8" fill="url(#rims)"/>
<path d="M78.0 784.0 78.0 946.7 84.3 946.7 84.3 936.4 94.4 936.4 94.4 925.4 105.5 925.4 105.5 913.7 117.4 913.7 117.4 902.0 127.9 902.0 127.9 890.8 137.2 890.8 137.2 880.0 148.8 880.0 148.8 869.0 160.5 869.0 160.5 857.3 171.8 857.3 171.8 846.0 183.2 846.0 183.2 834.0 193.5 834.0 193.5 821.2 204.8 821.2 204.8 809.1 216.5 809.1 216.5 797.1 227.5 797.1 227.5 785.4 227.5 784.0Z" fill="#fff"/>
</g>
<path d="M132.9 785.0V1074.0M187.7 785.0V1074.0M242.5 785.0V1074.0M297.2 785.0V1074.0M352.0 785.0V1074.0M79.0 843.2H406.8M79.0 900.9H406.8M79.0 958.6H406.8M79.0 1016.3H406.8" stroke="#000" stroke-opacity="0.12" stroke-width="1" fill="none"/>
<path d="M132.9 785.0v3M132.9 1074.0v-3M187.7 785.0v3M187.7 1074.0v-3M242.5 785.0v3M242.5 1074.0v-3M297.2 785.0v3M297.2 1074.0v-3M352.0 785.0v3M352.0 1074.0v-3M79.0 843.2h3M406.8 843.2h-3M79.0 900.9h3M406.8 900.9h-3M79.0 958.6h3M406.8 958.6h-3M79.0 1016.3h3M406.8 1016.3h-3" stroke="#333" stroke-width="1" fill="none"/>
<rect x="79.0" y="785.0" width="327.8" height="289.0" fill="none" stroke="#3a3a3a" stroke-width="1.1"/>
<text transform="translate(39.90,798.93) scale(0.1766,0.1690)" font-size="100" fill="#1a1a1a" xml:space="preserve"><tspan font-family="Liberation Sans" font-weight="400">500</tspan></text>
<text transform="translate(39.90,855.03) scale(0.1766,0.1690)" font-size="100" fill="#1a1a1a" xml:space="preserve"><tspan font-family="Liberation Sans" font-weight="400">450</tspan></text>
<text transform="translate(39.90,911.23) scale(0.1766,0.1690)" font-size="100" fill="#1a1a1a" xml:space="preserve"><tspan font-family="Liberation Sans" font-weight="400">400</tspan></text>
<text transform="translate(39.90,963.13) scale(0.1766,0.1690)" font-size="100" fill="#1a1a1a" xml:space="preserve"><tspan font-family="Liberation Sans" font-weight="400">350</tspan></text>
<text transform="translate(39.90,1019.33) scale(0.1766,0.1690)" font-size="100" fill="#1a1a1a" xml:space="preserve"><tspan font-family="Liberation Sans" font-weight="400">300</tspan></text>
<text transform="translate(39.90,1078.53) scale(0.1766,0.1690)" font-size="100" fill="#1a1a1a" xml:space="preserve"><tspan font-family="Liberation Sans" font-weight="400">250</tspan></text>
<text transform="translate(62.70,1097.24) scale(0.1772,0.1648)" font-size="100" fill="#1a1a1a" xml:space="preserve"><tspan font-family="Liberation Sans" font-weight="400">400</tspan></text>
<text transform="translate(118.90,1097.24) scale(0.1772,0.1648)" font-size="100" fill="#1a1a1a" xml:space="preserve"><tspan font-family="Liberation Sans" font-weight="400">450</tspan></text>
<text transform="translate(170.70,1097.24) scale(0.1772,0.1648)" font-size="100" fill="#1a1a1a" xml:space="preserve"><tspan font-family="Liberation Sans" font-weight="400">500</tspan></text>
<text transform="translate(228.80,1097.24) scale(0.1772,0.1648)" font-size="100" fill="#1a1a1a" xml:space="preserve"><tspan font-family="Liberation Sans" font-weight="400">550</tspan></text>
<text transform="translate(280.70,1097.24) scale(0.1772,0.1648)" font-size="100" fill="#1a1a1a" xml:space="preserve"><tspan font-family="Liberation Sans" font-weight="400">600</tspan></text>
<text transform="translate(334.40,1097.24) scale(0.1772,0.1648)" font-size="100" fill="#1a1a1a" xml:space="preserve"><tspan font-family="Liberation Sans" font-weight="400">650</tspan></text>
<text transform="translate(391.50,1097.24) scale(0.1772,0.1648)" font-size="100" fill="#1a1a1a" xml:space="preserve"><tspan font-family="Liberation Sans" font-weight="400">700</tspan></text>
<text transform="translate(138.60,1116.11) scale(0.1637,0.1711)" font-size="100" fill="#1a1a1a" xml:space="preserve"><tspan font-family="Liberation Sans" font-weight="700">Emission Wavelength</tspan><tspan font-family="Liberation Sans" font-weight="400"> (nm)</tspan></text>
<text transform="translate(24.30,1034.00) rotate(-90) scale(0.1623,0.1283)" font-size="100" fill="#1a1a1a" xml:space="preserve"><tspan font-family="Liberation Sans" font-weight="700">Excitation Wavelength</tspan></text>
<text transform="translate(26.99,848.00) rotate(-90) scale(0.1723,0.1433)" font-size="100" fill="#1a1a1a" xml:space="preserve"><tspan font-family="Liberation Sans" font-weight="400">(nm)</tspan></text>
<text transform="translate(199.70,1150.57) scale(0.2032,0.1967)" font-size="100" fill="#1a1a1a" xml:space="preserve"><tspan font-family="Liberation Serif" font-weight="400">(</tspan><tspan font-family="Liberation Serif" font-weight="700">a6</tspan><tspan font-family="Liberation Serif" font-weight="400">)</tspan></text>
<text transform="translate(96.10,822.11) scale(0.1649,0.1901)" font-size="100" fill="#000" xml:space="preserve"><tspan font-family="Liberation Sans" font-weight="700">S6</tspan></text>
<g clip-path="url(#cb6)">
<rect x="582.7" y="783.5" width="341.5" height="293.0" fill="#fff"/>
<g filter="url(#tex)"><rect x="580.7" y="781.5" width="345.5" height="297.0" fill="#000"/>
<path d="M925.7 1077.5 580.7 1077.5 580.7 781.5 925.7 781.5 925.7 1077.5Z" fill="#4c4c4c" fill-rule="evenodd"/>
<path d="M925.7 1077.5 580.7 1077.5 580.7 781.5 925.7 781.5 925.7 1077.5Z" fill="#545454" fill-rule="evenodd"/>
<path d="M925.7 1077.5 580.7 1077.5 580.7 781.5 925.7 781.5 925.7 1077.5Z" fill="#5c5c5c" fill-rule="evenodd"/>
<path d="M925.7 1077.5 580.7 1077.5 580.7 781.5 925.7 781.5 925.7 1077.5Z" fill="#636363" fill-rule="evenodd"/>
<path d="M925.7 1077.5 580.7 1077.5 580.7 781.5 925.7 781.5 925.7 1077.5Z" fill="#6b6b6b" fill-rule="evenodd"/>
<path d="M865.7 1013.6 855.7 1014.1 848.7 1012.1 843.3 1005.5 840.1 995.5 838.9 979.5 838.1 880.5 835.7 869.1 825.3 852.5 821.1 839.5 819.8 808.5 822 786.5 823.6 781.5 925.7 781.5 925.7 867 914.7 869.9 887.7 871.1 883.7 872.8 881.7 875.6 879.5 892.5 878.4 992.5 873.7 1007.3 869.7 1011.9 865.7 1013.6ZM771.7 1047.5 589.7 1047.7 580.7 1045.3 580.7 1022.7 587.7 1020.6 598.7 1019.8 769.7 1020.2 777.7 1022 783.7 1025.2 786.5 1028.5 787.4 1032.5 787.1 1037.5 785.1 1041.5 779.7 1045.1 771.7 1047.5Z" fill="#737373" fill-rule="evenodd"/>
<path d="M860.7 997.5 851.5 995.5 848.9 991.5 847.7 985.5 846.5 875.5 844.6 860.5 836 832.5 835.3 810.5 837 794.5 841.6 785.5 849.2 781.5 915.8 781.5 921.7 784.1 925.7 788.6 925.7 841.4 921.7 845.9 914.7 848.7 881.7 851 877.7 853.5 874.7 858.5 872.4 867.5 871.3 881.5 870.4 984.5 867.7 994.2 864.7 996.7 860.7 997.5ZM765.7 1043.5 594.7 1043.5 583.9 1040.5 582 1037.5 581.7 1032.5 583 1028.5 585.7 1026.3 597.7 1024.3 758.7 1024.3 774.7 1026.5 778 1030.5 777.6 1038.5 773.7 1042 765.7 1043.5Z" fill="#7a7a7a" fill-rule="evenodd"/>
<path d="M859.7 867.6 855.7 866.3 851.7 860.8 847.5 850.5 845.4 840.5 846.7 827.3 854 806.5 859.4 802.5 868.7 800.9 897.7 801.3 907.7 804.3 910.4 807.5 911.9 812.5 911.7 818.8 909.7 823.6 903.7 827.6 884.7 829.6 879.7 831.6 866.7 860.7 862.7 866.2 859.7 867.6ZM761.7 1041.5 597.7 1041.5 588.4 1039.5 586 1033.5 588.7 1028.3 599.7 1026.4 756.7 1026.4 771.7 1028.5 773.9 1032.5 772.7 1038.5 769.5 1040.5 761.7 1041.5Z" fill="#828282" fill-rule="evenodd"/>
<path d="M763.7 1038.7 602.7 1039.2 593.7 1037.9 591.1 1033.5 594.7 1029.7 603.7 1028.8 756.7 1028.8 764.6 1029.5 768.1 1031.5 768.1 1036.5 763.7 1038.7Z" fill="#8a8a8a" fill-rule="evenodd"/>
</g>
<path d="M832.7 1032.6 580.7 1032.6 580.7 798.4 834.7 798.3 838.7 799.1 840.1 800.5 842.2 811.5 843.7 814.9 845.7 814.9 849.7 809.6 850.7 810 850.7 816.5 845.7 827.5 845.1 837.5 849.1 858.5 850 883.5 851.7 890.5 855.7 899.5 856.6 909.5 855.2 917.5 846.7 937.6 845.5 949.5 847.5 966.5 848.5 988.5 849.7 992 854.7 982.1 855.2 985.5 851.7 1002.2 850.7 1003.9 847.7 1002.7 843.8 1011.5 843.5 1019.5 845.5 1026.5 845.4 1029.5 843.7 1031 837.7 1031.2 832.7 1032.6ZM901.7 962.5 884.7 962.2 880.7 960.5 877.6 957.5 873.2 946.5 868.9 926.5 867.4 914.5 867.3 881.5 868.9 867.5 871.3 857.5 875 848.5 879.7 841.8 884.7 837.9 891.7 836 897.7 836.2 902.7 837.6 907.7 841.2 911.2 845.5 914.5 851.5 917.3 859.5 920.6 879.5 920.6 913.5 916.2 944.5 914 952.5 910.7 958.4 906.7 961.4 901.7 962.5ZM863.7 861.4 862.7 861.3 861.9 856.5 863.7 846.9 865 854.5 863.7 861.4ZM858.7 967.4 857.7 967.2 856.3 962.5 854.8 948.5 855.9 937.5 857.4 933.5 858.7 932.4 860.1 933.5 861.4 937.5 862.9 952.5 862 960.5 858.7 967.4Z" fill="#0000b2" fill-rule="evenodd"/>
<path d="M832.7 1030.5 580.7 1030.6 580.7 800.4 831.7 800.2 836.7 800.5 838.7 801.6 843.7 823.5 844.4 840.5 848.3 860.5 849.6 886.5 854.7 901.1 855.5 908.5 854.1 916.5 846.7 934.3 845.1 941.5 844.9 950.5 847.2 970.5 847.3 992.5 846.4 999.5 842.7 1012.5 842.4 1026.5 840.7 1028.4 832.7 1030.5ZM902.7 961.6 885.4 961.5 880.7 959.6 877.7 956.6 875.6 952.5 873.3 944.5 869.6 914.5 869.3 883.5 873.2 857.5 876.1 850.5 878.7 847.2 885.7 842.4 891.7 840.8 900.7 841.7 910.7 847.8 915.1 855.5 917.3 866.5 919 902.5 916 942.5 913.8 951.5 911.3 956.5 907.7 960 902.7 961.6ZM858.7 961.5 856.7 957.9 855.6 947.5 856.7 938.6 858.7 935.9 860.7 939.5 861.9 950.5 860.8 958.5 858.7 961.5Z" fill="#0000c9" fill-rule="evenodd"/>
<path d="M831.7 1028.6 580.7 1028.5 580.7 802.5 829.7 802.2 837.7 803.3 839.3 807.5 842.3 825.5 843.4 840.5 847.2 858.5 849.1 888.5 853.7 903.2 854.2 908.5 852.8 916.5 846.2 932.5 844.3 941.5 844.2 951.5 846.7 973.5 845.9 996.5 842.2 1009.5 840.7 1023.7 839.7 1025.2 831.7 1028.6ZM903.7 960.7 888.7 961 881.7 959.4 876.7 953.8 873.6 943.5 870.8 903.5 871 883.5 872.3 865.5 874.5 855.5 876.7 850.8 880.7 846.8 885.7 845.1 898.7 844.7 907.7 846.5 912.7 851.5 916 861.5 917.2 872.5 917.6 902.5 917 928.5 915.7 941.5 913.7 950.4 911.7 954.9 908.6 958.5 903.7 960.7ZM858.7 956.6 857.1 953.5 856.5 947.5 857.3 941.5 858.7 939.6 859.8 941.5 860.7 948.5 860.1 954.5 858.7 956.6Z" fill="#0000e0" fill-rule="evenodd"/>
<path d="M831.7 1025.6 580.7 1025.5 580.7 805.5 826.7 805 836.7 805.7 838.7 810.5 842.3 841.5 846.2 858.5 848 887.5 852.3 909.5 850.7 917.9 844.5 932.5 843.3 939.5 843.2 950.5 845.9 972.5 844.8 996.5 839 1019.5 831.7 1025.6ZM903.7 959.6 887.7 959.9 881.7 958.2 878.7 955.5 876.7 952.2 873.7 941.1 871.8 902.5 872.7 867.3 874.7 857 876.7 852.3 880 848.5 884.7 846.5 900.7 846.1 907.4 847.5 912.7 853.1 915.7 863 916.8 874.5 917.1 902.5 915.7 938.2 913.7 948.5 911.7 953.4 908.3 957.5 903.7 959.6ZM840.1 926.5 841.3 919.5 840.7 915.7 839.7 914.7 837.3 918.5 836.1 922.5 837.7 926.5 838.7 927.2 840.1 926.5Z" fill="#0000f7" fill-rule="evenodd"/>
<path d="M743.7 1015.2 713.7 1015.4 701.7 1013.4 697.7 1011.9 598.7 1011.8 593.7 1011.2 590.8 1009.5 589.5 1005.5 589.1 997.5 589.1 835.5 589.6 824.5 591.7 820.7 595.7 819.4 606.7 819.1 804.7 819.1 812.7 819.3 814.7 820.1 814.8 839.5 816.5 857.5 817 901.5 817.7 903 821.7 895.7 823.7 894.7 825.7 900.7 827.7 917.3 828.7 940.5 827.7 949.2 825.7 953.6 823.7 951.3 821.7 951.5 819.7 959.5 820.7 963.6 824.7 959.8 825.7 963.5 827.1 978.5 827.7 1010.3 826.7 1011.4 823.7 1011.7 758.7 1011.9 754.7 1013.5 743.7 1015.2ZM828.7 882.1 827.7 882.2 826.6 880.5 820.7 861.5 819.1 852.5 819.7 841.3 822.7 822.6 823.7 820.2 825.7 819.7 827.4 820.5 827.9 822.5 826 833.5 826.4 844.5 827.5 850.5 830.7 857.2 832 866.5 831.7 875.6 830.7 879.2 828.7 882.1ZM834.7 829.3 833.9 825.5 834.7 823.8 835.5 827.5 834.7 829.3ZM896.7 954.5 884.3 953.5 881.2 951.5 878.7 948 875.7 937.7 873.8 914.5 873.8 879.5 876.7 861.3 878.7 856.9 881.7 853.6 891.7 850.6 897.7 850.7 904.7 852.4 908.7 854.8 912.7 862.6 914.7 877.5 914.7 918.6 912.7 940.9 910.7 947.2 907.7 951.6 904.7 953.5 896.7 954.5ZM804.9 871.5 805.6 867.5 804.7 864.5 804 869.5 804.9 871.5Z" fill="#000fff" fill-rule="evenodd"/>
<path d="M897.7 939.8 888.7 939.3 884.7 936.8 881.9 933.5 877.3 922.5 875 906.5 875.2 884.5 878.2 868.5 880.7 862.5 884.4 857.5 888.7 854.7 892.7 853.9 900.7 855.4 906.7 861.5 910.9 872.5 913 887.5 912.8 908.5 910.1 924.5 907.7 930.7 904.7 935.3 901.7 938 897.7 939.8ZM744.7 1013.5 731.7 1014.3 714.7 1013.9 703.7 1012.2 694.7 1009.2 686.7 1004.5 680.4 998.5 675 990.5 670.5 980.5 667.4 968.5 666.3 956.5 666.5 941.5 668.4 919.5 667.8 897.5 668.6 887.5 671 879.5 675.7 872 682.2 866.5 690.7 862.4 704.7 859.1 721.7 858 744.7 858.4 761.7 861.1 771.7 864.8 779.7 870.3 785.4 877.5 789.7 887.5 795.7 879.5 797.7 878.6 800.2 879.5 805.2 885.5 809.3 894.5 812.1 904.5 814.1 916.5 815.1 944.5 812.3 968.5 809.3 979.5 805.8 987.5 801.7 993.3 797.7 995.4 793.7 992.6 788.7 984.5 787.7 984.4 780 996.5 770.7 1004.8 759.7 1010.2 744.7 1013.5ZM638.7 981.5 625.7 982.2 614.6 979.5 607.6 974.5 606.1 971.5 606.5 967.5 608.5 964.5 611.7 962 621.7 958.4 633.7 957.8 645.4 960.5 652.4 965.5 653.9 968.5 653.7 972 651.7 975.3 648.7 977.8 638.7 981.5Z" fill="#0026ff" fill-rule="evenodd"/>
<path d="M898.7 936.7 894.7 937.4 889.7 936.9 883.7 932.6 878.8 922.5 876.4 908.5 876.3 886.5 879.1 870.5 881.7 864.4 884.7 860.3 888.7 857.5 892.7 856.6 899.7 857.7 905.7 863.4 909.5 872.5 911.6 885.5 911.8 905.5 909.7 920.5 905.1 931.5 901.7 935.1 898.7 936.7ZM732.7 1013.5 717.7 1013.3 706.7 1012 696.7 1009.1 689.7 1005.6 682.7 999.9 677 992.5 672.4 983.5 669.1 973.5 667.2 961.5 666.9 947.5 669.1 919.5 669 895.5 670.3 886.5 673.7 878.3 679.7 871.2 687.7 866.2 697.7 862.8 713.7 860.6 736.7 860.3 752.7 861.6 765.7 864.8 774.7 869.3 781.6 875.5 785.8 882.5 788.7 892.2 792.3 885.5 795.7 881.7 797.7 880.7 800.7 882 806.5 890.5 811.2 904.5 814.2 926.5 813.8 952.5 810.2 973.5 807.4 981.5 803.7 988.5 799.7 992.7 796.7 993 792.7 989.1 788.7 981.7 778.9 996.5 767.7 1005.6 752.7 1011.4 732.7 1013.5ZM630.7 980.5 621.2 979.5 613.7 976.4 609.7 971.5 610.7 966.5 613.9 963.5 617.9 961.5 629.7 959.5 641.7 961.4 646.1 963.5 649.3 966.5 650.3 971.5 646.7 976.1 639.7 979.3 630.7 980.5Z" fill="#003dff" fill-rule="evenodd"/>
<path d="M896.7 934.6 889.7 934.2 886.7 932.6 883.7 929.4 879.4 919.5 877.4 905.5 877.6 885.5 880.3 871.5 882.7 866.1 885.7 862.3 888.7 860.2 892.7 859.2 899.7 860.4 904.9 865.5 908.7 874.9 910.6 888.5 910.5 907.5 908 921.5 903.5 930.5 900.7 933 896.7 934.6ZM739.7 1012.5 711.7 1012.1 701.7 1010.1 693.7 1007 685.7 1001.8 679.8 995.5 674.3 986.5 670.4 976.5 668 964.5 667.4 949.5 669.7 919.1 669.9 897.5 671 889.5 673.8 881.5 678.7 874.8 685.7 869.5 694.7 865.8 708.7 863.1 727.7 862.3 746.7 863 761.7 865.7 771.7 869.9 779.7 876.3 784.9 884.5 787.7 894.8 788.7 894.9 794.7 884.6 798.7 882.7 804.2 888.5 808.9 899.5 813 921.5 813.4 947.5 810.3 969.5 807.6 978.5 804.2 985.5 799.7 990.8 796.7 991 792.7 987 788.7 979.1 780.5 993.5 770.7 1002.9 757.7 1009.2 739.7 1012.5ZM631.7 978.5 623.7 977.9 617.2 975.5 613.6 971.5 614 967.5 619.7 963.3 628.7 961.4 638.7 962.7 645.2 966.5 646.7 970.5 644.2 974.5 638.7 977.3 631.7 978.5Z" fill="#0054ff" fill-rule="evenodd"/>
<path d="M897.7 931.8 889.7 931.6 884.7 927.6 880.7 919 878.6 906.5 878.6 887.5 880.8 874.5 885.7 865.2 888.7 862.9 892.7 861.8 898.7 862.6 904.1 867.5 907.7 876.5 909.4 887.5 909.5 904.5 907.7 917.5 903.7 927 900.7 930.2 897.7 931.8ZM743.7 1011.5 715.7 1011.8 704.7 1010.2 695.7 1007.2 687.7 1002.6 681.7 997 676.5 989.5 671.9 979.5 668.9 967.5 667.8 952.5 671.5 892.5 674 884.5 678.7 877.4 685.7 871.7 693.7 868.1 706.7 865.2 722.7 864.2 744.7 864.7 759.7 867.1 771.7 872.1 779.4 878.5 784.6 887.5 787.7 900.3 792.7 889.1 797.7 884.4 799.7 885.1 802.7 888.2 807.7 898.5 812.1 919.5 812.8 944.5 810.2 966.5 807.4 976.5 804.2 983.5 799.7 988.9 796.7 989.2 792.7 984.9 788.7 976.6 781.2 991.5 771.7 1001.3 759.7 1007.8 743.7 1011.5ZM635.7 975.6 628.7 976.3 622.7 975.1 618.6 972.5 617.7 970.5 618 968.5 621.3 965.5 625.7 964.1 631.7 963.7 637.7 965 641.4 967.5 642.3 970.5 640.3 973.5 635.7 975.6Z" fill="#006bff" fill-rule="evenodd"/>
<path d="M895.7 929.5 888.7 928.4 884.2 923.5 881 914.5 879.6 901.5 880 885.5 882.7 873.6 887.7 866.3 893.7 864.4 899.7 865.9 904.4 871.5 907.2 880.5 908.4 892.5 908 908.5 905.7 919.3 901.7 926.4 898.7 928.7 895.7 929.5ZM735.7 1011.5 710.7 1010.7 699.7 1008.2 691.7 1004.6 684.7 999.3 678.9 992.5 674 983.5 670.5 973.5 668.5 960.5 668.3 945.5 670.7 920.1 671.5 899.5 672.8 891.5 676 883.5 681.7 876.6 688.7 872 697.7 868.7 712.7 866.3 734.7 865.9 750.7 867.1 762.7 869.8 772.7 874.7 779.8 881.5 784.4 890.5 786.7 902.7 787.7 903 793 890.5 797.7 886.2 800.7 887.7 803.7 891.6 808.7 904.5 812 925.5 811.9 949.5 808.7 969.5 806.1 977.5 802.7 983.9 799.7 987.2 796.7 987.4 792.7 983 788.7 974.2 785.2 983.5 781.2 990.5 775.7 997.1 769.7 1002 762.7 1006 754.7 1008.8 735.7 1011.5ZM633.7 972.6 626.7 972.7 624.5 971.5 623.9 969.5 627.7 967.1 633.7 967.4 636.1 969.5 635.5 971.5 633.7 972.6Z" fill="#0081ff" fill-rule="evenodd"/>
<path d="M742.7 1010.5 714.7 1010.7 704.7 1009 695.7 1006 688 1001.5 681.7 995.4 676.4 987.5 672.4 978.5 669.4 965.5 668.6 948.5 673.1 894.5 675.8 886.5 680.7 879.6 686.7 874.9 694.7 871.2 707.7 868.4 722.7 867.4 743.7 867.9 758.7 870.3 770.7 875.3 775.7 879 779.6 883.5 784.2 893.5 786.7 909.9 791.3 895.5 796.7 888.2 798.7 887.9 801.7 890.5 806.7 900.5 810.9 920.5 811.6 944.5 809.2 964.5 806.7 973.5 803.7 980.5 799.7 985.5 796.7 985.8 792.7 981.2 788.7 971.8 783.1 986.5 778.2 993.5 772.7 999.1 765.7 1003.8 758.7 1007 742.7 1010.5ZM896.7 926.7 890.7 926.5 885.7 922.5 882.6 915.5 880.9 904.5 881 888.5 882.9 877.5 886.7 870.2 889.7 867.9 892.7 867.1 898.7 868.1 902.7 872.1 905.6 879.5 907.1 889.5 907.1 904.5 905.4 915.5 901.7 923.3 896.7 926.7Z" fill="#0098ff" fill-rule="evenodd"/>
<path d="M735.7 1010.5 720.7 1010.6 709.7 1009.5 701.1 1007.5 693.7 1004.5 687.6 1000.5 680.7 993.4 675.7 985.2 671.6 974.5 669.6 964.5 669.1 945.5 672.7 902.4 674.6 892.5 677.7 885.5 682.8 879.5 690.4 874.5 698.8 871.5 712.7 869.3 732.7 868.9 745.9 869.5 760.7 872.4 772.7 878.3 779.7 885.9 783.8 895.5 786.7 913.3 791.2 897.5 794.7 891.7 797.7 889.3 800.7 891 803.2 894.5 807.8 906.5 810.9 926.5 810.7 949.5 807.6 968.5 801.9 981.5 798.7 984.5 795.7 983.4 791.7 977.5 788.7 969.4 785.8 979.5 781.9 987.5 776.7 994.5 770 1000.5 763.2 1004.5 755.5 1007.5 746.7 1009.5 735.7 1010.5ZM897.7 923.5 891.7 924 887.6 921.5 884.2 915.5 882.2 905.5 882.1 890.5 883.7 880.1 887.6 872.5 892.7 869.9 897.7 870.5 901.7 874.1 904.4 880.5 905.8 888.5 906 902.5 904.7 912.3 901.7 919.9 897.7 923.5Z" fill="#00afff" fill-rule="evenodd"/>
<path d="M739.7 1009.5 712.7 1009.2 702.7 1007.2 694.7 1004.1 687.7 999.7 681.7 993.6 676.7 985.8 672.8 976.5 670 963.5 669.6 945.5 674.7 897.5 677.6 889.5 681.7 883.5 688.7 878 696.7 874.5 712.7 871.6 736.7 871.2 752.7 872.8 765.7 876.8 773.7 882 779.7 889.6 783 898.5 785.7 916.1 786.7 916.9 790.8 900.5 793.7 894.7 796.7 891.3 798.7 891 801.7 893.8 806.3 903.5 810 922.5 810.4 945.5 807.9 964.5 802.7 978.7 798.7 983 795.7 981.9 791.7 975.6 788.7 967 786.1 976.5 782.7 984.5 778.2 991.5 772.7 997.3 765.7 1002.3 757.7 1006 749.7 1008.2 739.7 1009.5ZM896.7 920.8 891.7 920.9 887.7 918.1 885 912.5 883.5 904.5 883.4 891.5 884.7 882.5 887.7 875.9 889.7 874 892.7 872.9 897.7 873.6 900.7 876.4 903 881.5 904.5 889.5 904.7 901.5 903.5 910.5 900.7 917.6 896.7 920.8Z" fill="#00c6ff" fill-rule="evenodd"/>
<path d="M741.7 1008.6 714.7 1008.6 704.7 1006.9 695.7 1003.7 688.7 999.5 682.5 993.5 677.2 985.5 673.4 976.5 670.5 962.5 670.1 945.5 675.7 899.5 678.5 891.5 682.7 885.5 688.7 880.7 696.7 877 712.7 873.9 736.7 873.5 752.7 875.2 765.7 879.4 773.7 885 779.6 893.5 782.6 902.5 785.7 922 786.7 921.2 790.4 903.5 795.7 893.6 797.7 892.3 800.7 894.1 805.6 903.5 809.3 921.5 810 943.5 807.8 962.5 802.7 977.1 798.7 981.5 795.7 980.4 791.7 973.8 788.7 964.5 782.9 982.5 778.7 989.5 773.5 995.5 766.7 1000.8 759.7 1004.4 751.7 1006.9 741.7 1008.6ZM895.7 917.7 891.7 917.5 888.1 914.5 885.7 908.5 884.8 901.5 885 890.5 886.6 882.5 889.7 877.6 893.7 876.2 897.7 877.2 900.5 880.5 902.2 885.5 903.1 892.5 903 903.5 901.7 910.5 899.1 915.5 895.7 917.7Z" fill="#00ddff" fill-rule="evenodd"/>
<path d="M743.7 1007.6 716.7 1008.1 706.7 1006.6 697.7 1003.8 689.7 999.3 683.7 993.8 678.5 986.5 674.3 977.5 671.1 963.5 670.6 946.5 671.4 935.5 676.2 902.5 678.7 894.9 682.7 888.5 688.7 883.2 695.7 879.7 711.7 876.2 735.7 875.6 752.7 877.4 765.7 881.8 773.7 887.9 778.8 895.5 781.7 904.5 785.7 926.4 786.7 927.3 789.3 909.5 791.7 902 794.7 896.3 796.7 894.2 798.7 893.9 801.7 896.9 804.7 903 808.7 920.5 809.5 942.5 807.4 961.5 802.7 975.5 798.7 980.1 795.7 978.9 791.7 972 787.7 959.7 786.4 969.5 783.8 978.5 779.8 986.5 774.7 993.2 768.7 998.5 761.7 1002.6 752.7 1005.9 743.7 1007.6ZM895.7 913.6 892.1 913.5 889.7 911.8 887.7 907.6 886.7 901.5 886.7 892.5 887.7 886.4 890.4 881.5 893.7 880.2 896.7 880.8 898.7 882.8 900.6 887.5 901.4 893.5 900.3 907.5 898.7 911.2 895.7 913.6Z" fill="#00f4ff" fill-rule="evenodd"/>
<path d="M736.7 1007.6 711.7 1006.8 702.7 1004.9 694.7 1001.6 687.7 996.9 681.8 990.5 677 982.5 673.6 973.5 671.3 960.5 671.3 942.5 677.7 901.6 680.7 894.3 685.7 888 692.7 883.2 700.7 880.2 716.7 877.8 741.7 877.9 756.7 880.5 767.7 885.4 774.7 891.9 779.3 900.5 782.1 911.5 786.7 937.7 787.5 923.5 789.4 911.5 792.7 901.4 796.7 895.6 798.7 895.3 801.1 897.5 805.9 908.5 808.7 925.5 808.8 946.5 806.4 963.5 801.7 975.6 799.7 978 797.7 978.9 793.7 974.6 790.1 965.5 787.7 952.5 786.3 966.5 784.2 975.5 780.2 984.5 774.4 992.5 766.7 999 758.7 1003.2 748.7 1006.1 736.7 1007.6ZM895.7 907.6 891.7 907.2 890.1 904.5 889.3 900.5 889.7 890.5 891.7 886.8 893.7 886 896.9 887.5 898.8 893.5 898.5 902.5 895.7 907.6Z" fill="#0cfff3" fill-rule="evenodd"/>
<path d="M741.7 1006.5 715.7 1006.6 705.7 1005 696.7 1001.9 689.7 997.7 683.7 992 679.2 985.5 675 976.5 672.1 963.5 671.6 945.5 673 931.5 677.5 906.5 680.7 897.5 684.7 891.5 690.7 886.5 697.7 883.2 707.7 880.7 721.7 879.5 740.7 879.8 753.7 881.7 762.7 884.8 769.7 889.2 774.7 894.7 778.7 902.6 784.3 926.5 786.5 942.5 786.2 962.5 783.2 976.5 776.9 988.5 767.7 997.5 756.7 1003.2 741.7 1006.5ZM797.7 977.5 794.6 974.5 791 966.5 787.1 944.5 787.8 925.5 789.7 912.5 793.4 901.5 797.7 896.5 799.7 897.3 801.7 899.9 805.5 909.5 807.9 922.5 808.6 936.5 807.9 951.5 805.7 963.9 801.7 974.1 799.7 976.7 797.7 977.5Z" fill="#23ffdc" fill-rule="evenodd"/>
<path d="M744.7 1005.5 733.7 1006.4 717.7 1006.2 707.7 1004.8 698.7 1002.1 691.7 998.4 685.7 993.3 680.4 986.5 676.3 978.5 672.8 965.5 672 947.5 673.1 933.5 677.5 910.5 680.2 901.5 684.3 894.5 689.7 889.3 696.7 885.5 706.7 882.7 718.7 881.4 737.7 881.4 751.7 883.1 760.7 885.9 768.6 890.5 773.7 895.9 777.7 903.3 783.3 924.5 785.8 940.5 785.8 960.5 783.2 974.5 777.5 986.5 769.3 995.5 758.7 1001.8 744.7 1005.5ZM798.7 976 796.7 975.6 794.7 973.3 791 964.5 788.8 953.5 787.8 939.5 788.4 924.5 790.3 912.5 793.7 902.5 797.7 897.8 799.7 898.7 801.7 901.4 805 909.5 807.2 920.5 808.2 934.5 807.7 948.5 806 960.5 802.7 970.7 798.7 976Z" fill="#3affc5" fill-rule="evenodd"/>
<path d="M739.7 1005.5 713.7 1005.2 703.7 1003.2 696.7 1000.5 689.7 996.2 683.7 990.3 679.1 983.5 675.3 974.5 672.8 961.5 672.5 943.5 674.1 930.5 678.7 909.3 681.7 901.1 685.7 895.1 691.7 890 699.7 886.2 710.7 883.8 724.7 882.9 741.7 883.4 754.7 885.6 762.7 888.7 769.7 893.6 774.7 900 778.1 907.5 783.5 928.5 785.4 943.5 785.1 962.5 781.6 977.5 775.3 988.5 765.7 997.4 753.7 1002.9 739.7 1005.5ZM798.7 974.7 796.7 974.3 795.2 972.5 791.6 964.5 789.3 953.5 788.3 939.5 788.7 925.5 790.6 913.5 793.7 904 797.7 899.1 799.7 900.1 801.5 902.5 804.7 910.5 806.8 921.5 807.7 934.5 807.3 948.5 805.4 960.5 802.5 969.5 798.7 974.7Z" fill="#50ffaf" fill-rule="evenodd"/>
<path d="M743.7 1004.5 717.7 1005.1 708.7 1003.9 699.7 1001.3 691.7 997 685.7 991.8 680.9 985.5 676.8 977.5 673.8 966.5 672.8 952.5 673.4 937.5 676.4 921.5 679.9 908.5 683.7 900.1 689.7 893.3 697.7 888.7 707.7 885.9 719.7 884.7 738.7 884.8 751.7 886.6 760.7 889.6 767.7 893.9 772.7 899.3 776.7 906.7 782.2 925.5 784.8 941.5 784.8 960.5 782.1 974.5 776.1 986.5 767.7 995.3 756.7 1001.3 743.7 1004.5ZM797.7 973.6 794.2 969.5 791.1 960.5 789.3 949.5 788.7 937.5 789.3 924.5 791.1 913.5 794.2 904.5 797.7 900.4 799.7 901.4 801.7 904.3 804.7 912.5 806.6 923.5 807.3 936.5 806.6 950.5 804.7 961.5 801.7 969.7 799.7 972.6 797.7 973.6Z" fill="#67ff98" fill-rule="evenodd"/>
<path d="M738.7 1004.5 714.7 1004.3 705.7 1002.6 697.7 999.8 690.7 995.6 684.7 990 680.2 983.5 676.2 974.5 673.5 961.5 673.2 944.5 674.9 930.5 678.8 914.5 682.5 904.5 686.7 898.2 692.7 893 700.7 889.3 711.7 886.9 725.7 886.1 742.7 886.7 754.7 889 763 892.5 769.7 897.7 774.5 904.5 778.2 913.5 783 931.5 784.5 946.5 783.8 964.5 780 978.5 773.7 988.8 764.7 996.7 752.7 1002.1 738.7 1004.5ZM798.7 972.1 797.7 972.3 795.7 970.5 792.2 962.5 790.1 952.5 789.2 939.5 789.5 926.5 791.1 915.5 794 906.5 797.7 901.7 800.7 904.1 804.1 912.5 806 922.5 806.8 934.5 806.5 947.5 804.9 958.5 802 967.5 798.7 972.1Z" fill="#7eff81" fill-rule="evenodd"/>
<path d="M742.7 1003.6 717.7 1004 708.7 1002.8 699.7 1000.1 692.7 996.4 686.7 991.5 681.2 984.5 677.3 976.5 674.4 965.5 673.5 951.5 674.2 937.5 677.2 922.5 681.3 909.5 685.7 901.4 691.7 895.5 699.7 891.2 709.7 888.7 722.7 887.6 739.7 887.9 752.7 890 760.7 893 767.7 897.7 772.7 903.6 776.7 911.7 782 929.5 783.9 943.5 783.6 962.5 780.3 976.5 774.8 986.5 766.7 994.7 756.7 1000.2 742.7 1003.6ZM798.7 970.8 797.7 971 795.7 969.1 792.4 961.5 790.4 951.5 789.6 939.5 790 926.5 791.6 915.5 794.7 906.5 797.7 903 800.7 905.5 803.7 912.9 805.6 922.5 806.4 934.5 806.1 946.5 804.6 957.5 801.8 966.5 798.7 970.8Z" fill="#95ff6a" fill-rule="evenodd"/>
<path d="M738.7 1003.5 714.7 1003.3 705.7 1001.6 697.7 998.7 690.7 994.4 685.5 989.5 680.5 982.5 676.9 974.5 674.3 962.5 673.9 946.5 675.1 933.5 678.3 920.5 682.2 909.5 686.7 902 692.7 896.4 701.7 892.1 713.7 889.6 730.7 889 744.7 889.9 755.7 892.4 763.7 896.3 769.7 901.5 774.3 908.5 778.4 918.5 782.3 933.5 783.6 948.5 782.7 965.5 779 978.5 772.6 988.5 763.7 996.1 752.7 1001 738.7 1003.5ZM798.7 969.5 797.7 969.7 795.7 967.7 792.7 960.6 790.7 950.5 790 939.5 790.3 927.5 791.9 916.5 794.7 908 797.7 904.3 800.7 906.9 803.6 914.5 806 934.5 804.3 956.5 801.7 965.1 798.7 969.5Z" fill="#acff53" fill-rule="evenodd"/>
<path d="M743.7 1002.5 732.7 1003.4 717.7 1003.1 708.7 1001.8 699.7 999.1 692.7 995.3 686.7 990.2 681.7 983.8 678 976.5 675.3 966.5 674.2 954.5 674.7 939.5 677.1 926.5 681.3 913.5 685.7 905.1 691.7 898.7 699.7 894.3 709.7 891.5 722.7 890.4 739.7 890.7 752.7 892.9 760.7 896.1 767.7 901.1 772.7 907.5 776.7 915.8 781.3 930.5 783.1 944.5 782.6 963.5 779.3 976.5 773.6 986.5 765.7 994.2 755.7 999.5 743.7 1002.5ZM798.7 968.2 797.7 968.4 795.7 966.3 792.9 959.5 791.2 950.5 790.4 939.5 790.8 927.5 792.2 917.5 794.7 909.5 797.7 905.6 800.7 908.3 803.1 914.5 804.8 923.5 805.6 934.5 804 955.5 801.7 963.6 798.7 968.2Z" fill="#c3ff3c" fill-rule="evenodd"/>
<path d="M739.7 1002.5 714.7 1002.4 706.7 1000.9 698.7 998.2 691.7 994.1 686.6 989.5 681.7 983.1 678 975.5 675.3 964.5 674.5 950.5 675.2 937.5 678 924.5 682.7 912.1 687.4 904.5 693.7 898.8 701.7 894.9 713.7 892.3 728.7 891.7 743.7 892.5 754.7 894.9 762.7 898.8 768.7 903.8 773.7 911 778.2 921.5 781.9 936.5 782.8 952.5 781.5 967.5 778 978.5 772.2 987.5 763.7 995 752.7 1000.1 739.7 1002.5ZM798.7 966.9 797.7 967.1 796.1 965.5 793.5 959.5 791.6 950.5 790.9 939.5 792.5 918.5 794.7 911.1 797.7 906.9 800.5 909.5 802.8 915.5 805.1 934.5 803.7 954.7 801.7 961.9 798.7 966.9Z" fill="#daff25" fill-rule="evenodd"/>
<path d="M732.7 1002.5 710.7 1001.3 702.7 999.3 695.7 996.2 689.2 991.5 683.7 985.4 679.2 977.5 676.5 969.5 674.9 957.5 675.1 941.5 677 929.5 680.7 918.3 685 909.5 690.7 902.6 697.7 898 706.7 894.8 719.7 893.1 737.7 893.2 749.7 894.8 758.7 897.9 765.7 902.5 771.7 909.3 776.7 919.1 780.4 930.5 782.2 943.5 782 961.5 779.5 973.5 774.7 983.5 767.6 991.5 757.7 997.7 746.7 1001.1 732.7 1002.5ZM798.7 965.5 797.7 965.8 796.4 964.5 793.7 958.4 791.9 949.5 791.3 939.5 792.8 919.5 794.8 912.5 797.7 908.2 800.2 910.5 802.5 916.5 804.7 934.5 803.4 953.5 801.6 960.5 798.7 965.5Z" fill="#f1ff0e" fill-rule="evenodd"/>
<path d="M740.7 1001.6 717.7 1001.8 708.7 1000.5 700.7 998.1 693.7 994.5 687.6 989.5 682.2 982.5 678.7 975.5 676 965.5 675.1 954.5 675.5 940.5 677.9 927.5 681.7 917.3 686.7 908.5 692.7 902.4 700.7 898 710.7 895.3 723.7 894.2 740.7 894.6 752.7 896.9 760.7 900.4 767.7 905.8 772.7 912.5 777.1 921.5 781 935.5 782 949.5 781.1 965.5 777.5 977.5 771.7 986.8 763.7 993.9 753.7 998.8 740.7 1001.6ZM798.7 964.1 796.7 963.5 793.7 956.5 791.7 939.5 793 920.5 795.1 913.5 797.7 909.6 799.7 911 802.3 917.5 804.3 934.5 803 953.5 801 960.5 798.7 964.1Z" fill="#fff600" fill-rule="evenodd"/>
<path d="M736.7 1001.5 713.7 1001 704.7 999.1 697.7 996.3 690.7 991.8 685.7 986.9 681.4 980.5 678 972.5 675.8 961.5 675.4 946.5 676.4 935.5 679.3 924.5 683.7 914.6 688.7 907.5 695.7 901.7 703.7 898.1 715.7 895.8 731.7 895.3 744.7 896.3 754.7 898.9 762.7 902.9 768.7 908.3 774.2 916.5 778.4 926.5 781.2 940.5 781.5 957.5 779.9 969.5 775.6 980.5 769.6 988.5 760.7 995.3 749.7 999.6 736.7 1001.5ZM798.7 962.7 796.7 962.1 794.3 956.5 792.1 939.5 793.3 921.5 795.3 914.5 797.7 911 799.7 912.5 802 918.5 803.9 934.5 802.7 952.3 800.7 959.5 798.7 962.7Z" fill="#ffe000" fill-rule="evenodd"/>
<path d="M742.7 1000.6 718.7 1001.1 709.7 999.9 701.7 997.6 694.7 994.2 688.7 989.5 683.6 983.5 679.8 976.5 677 967.5 675.7 956.5 676 941.5 678.1 929.5 681.7 919.7 686.7 911.2 692.7 905 700.7 900.4 710.7 897.6 722.7 896.5 739.7 896.9 751.7 899.1 759.7 902.4 766.7 907.5 771.7 913.6 776.4 922.5 780 934.5 781.3 948.5 780.5 964.5 777.1 976.5 771.7 985.6 763.7 993 753.7 998 742.7 1000.6ZM797.7 961.6 795.7 958.8 793.8 952.5 792.5 937.5 793.8 921.5 795.7 915.2 797.7 912.4 799.7 914 801.7 919.5 803.5 936.5 801.9 953.5 799.7 960 797.7 961.6Z" fill="#ffc900" fill-rule="evenodd"/>
<path d="M739.7 1000.5 716.7 1000.6 707.7 999.1 700.7 996.8 693.7 993.1 687.7 988.1 682.7 981.6 679.3 974.5 676.9 965.5 675.9 953.5 676.4 939.5 678.7 928.5 682.7 918.7 687.7 911.1 693.7 905.5 701.7 901.2 711.7 898.6 724.7 897.6 740.7 898.1 752.7 900.5 760.7 904.2 767.7 909.8 772.7 916.4 777.1 925.5 780.3 938.5 780.9 955.5 779.3 968.5 775.8 978.5 769.7 987.3 761.7 993.8 751.7 998.2 739.7 1000.5ZM798.7 959.8 797.7 960.1 796.7 959 794.7 953.9 793 939.5 794 923.5 795.7 917 797.7 913.9 799.7 915.7 801.4 920.5 803 934.5 802 950.5 798.7 959.8Z" fill="#ffb200" fill-rule="evenodd"/>
<path d="M734.7 1000.5 713.7 999.9 704.7 997.9 697.7 995 691.7 991.2 685.7 985.3 681.3 978.5 678.3 970.5 676.4 959.5 676.2 945.5 677.3 935.5 680 925.5 684.7 916.3 690.7 909.1 697.7 904.2 705.7 901 717.7 898.9 733.7 898.7 745.7 899.9 754.7 902.4 762.7 906.7 768.7 912.1 774.4 920.5 778.1 929.5 780.3 942.5 780.3 959.5 778.2 971.5 774.3 980.5 767.7 988.8 758.7 995 747.7 998.9 734.7 1000.5ZM797.7 958.6 794.7 951.5 793.4 937.5 794.5 923.5 797.7 915.4 799.7 917.4 801.1 921.5 802.6 936.5 801.3 951.5 799.7 956.6 797.7 958.6Z" fill="#ff9b00" fill-rule="evenodd"/>
<path d="M741.7 999.6 718.7 1000 709.7 998.8 701.7 996.4 694.7 992.9 688.7 988.2 684 982.5 680.2 975.5 677.4 965.5 676.5 955.5 676.7 942.2 679 929.5 682.7 920.6 687.7 913.3 693.7 907.8 700.7 903.9 710.7 900.9 721.7 899.7 737.7 899.9 749.7 901.9 758.7 905.3 765.7 910.2 771.7 917 775.8 924.5 779.3 936.5 780.3 950.5 779.3 965.5 776 976.5 770.3 985.5 762.7 992.3 752.7 997.1 741.7 999.6ZM798.7 956.5 797.7 956.9 795.7 953.1 793.9 939.5 794.7 925.2 797.7 917.1 799.3 918.5 800.7 922.3 802.1 934.5 801.5 947.5 798.7 956.5Z" fill="#ff8400" fill-rule="evenodd"/>
<path d="M738.7 999.6 716.7 999.5 707.7 998 700.7 995.7 693.7 991.9 687.7 986.7 682.7 979.9 679.7 973.3 677.5 964.5 676.7 953.5 677.3 938.5 679.3 929.5 683.2 920.5 688.7 913.2 694.7 908.2 702.7 904.1 711.7 901.7 723.7 900.7 738.7 901 750.7 903.2 759.7 907 766.7 912.2 772 918.5 776.2 926.5 779.1 937.5 779.9 954.5 778.7 966.5 775.1 977.5 769 986.5 760.7 993.1 750.3 997.5 738.7 999.6ZM798.7 954.7 797.7 955.2 795.7 950.8 794.3 939.5 795 926.5 797.7 918.8 798.7 919.3 800.3 923.5 801.7 934.5 801 947.5 798.7 954.7Z" fill="#ff6d00" fill-rule="evenodd"/>
<path d="M734.7 999.5 712.7 998.7 699.1 994.5 692.4 990.5 685.7 983.8 679.7 972.5 677.6 963.5 677.3 947.5 677.7 937.7 680.7 926.5 684.7 919.1 690.7 912.2 697.7 907.4 705.7 904.2 715.7 902.2 731.7 901.7 743 902.5 753.7 905.2 761.7 909.2 768.7 915.2 773.9 922.5 777.7 932.2 779.4 948.5 778.8 964.5 776.7 972.9 771.8 982.5 764 990.5 755.1 995.5 744.5 998.5 734.7 999.5ZM798.7 952.8 797.7 953.2 796.4 950.5 794.8 939.5 795.5 927.5 797.7 920.8 798.7 921.2 799.9 924.5 801.1 934.5 800.7 945.5 798.7 952.8Z" fill="#ff5600" fill-rule="evenodd"/>
<path d="M742.7 997.5 720.7 998.2 704.7 995.4 697.9 992.5 691.7 988.2 686.7 983 682.7 976.5 679.7 967.8 678.4 958.5 678.4 943.5 679.8 933.5 682.7 925.2 686.8 918.5 692.7 912.6 699.7 908.2 708.7 905 718.7 903.4 734.7 903.3 746.7 904.8 755.7 907.8 763.6 912.5 769.6 918.5 773.7 925.2 777.1 935.5 778.3 947.5 777.7 962.8 774.6 974.5 769.7 983 762.7 989.8 753.7 994.6 742.7 997.5ZM798.7 950.5 797.7 951.1 796.7 949 795.4 939.5 795.8 929.5 797.7 922.9 799.7 926.5 800.6 934.5 800.3 943.5 798.7 950.5Z" fill="#ff3f00" fill-rule="evenodd"/>
<path d="M739.7 995.6 718.7 995.8 703.7 992.5 697.7 989.5 692.4 985.5 688 980.5 684.5 974.5 681.7 965.5 680.7 956.5 680.9 942.5 682.6 932.5 685.7 924.9 690.1 918.5 695.7 913.4 702.7 909.5 711.7 906.7 721.7 905.6 736.7 905.7 747.7 907.5 755.7 910.5 762.7 915.1 767.9 920.5 772 927.5 775.1 938.5 775.9 952.5 774.7 965.5 771.7 974.9 766.7 982.7 759.7 988.8 749.7 993.5 739.7 995.6ZM797.7 948.5 796 937.5 796.5 929.5 797.7 925.5 799.3 928.5 800 936.5 799.5 944.5 798.7 947.8 797.7 948.5Z" fill="#ff2800" fill-rule="evenodd"/>
<path d="M738.7 992.5 718.7 992.7 705 989.5 699.2 986.5 694.2 982.5 687.4 972.5 684.9 964.5 683.9 955.5 684.1 943.5 685.7 934 688.7 926.5 692.7 920.8 697.7 916.2 704.1 912.5 712.7 909.8 722.7 908.7 736.7 908.9 746.5 910.5 754.2 913.5 760.3 917.5 765.7 923.3 769.1 929.5 771.9 939.5 772.6 953.5 771.5 964.5 768.6 973.5 763.7 980.9 757.1 986.5 748.4 990.5 738.7 992.5ZM797.7 945.1 796.7 937.5 797.7 928.9 798.7 930.1 799.3 936.5 798.7 943.9 797.7 945.1Z" fill="#ff1200" fill-rule="evenodd"/>
<path d="M737.7 987.6 719.7 987.7 707.7 984.9 698 978.5 692 969.5 689.9 962.5 689.1 954.5 689.4 943.5 690.9 935.5 693.3 929.5 696.8 924.5 701.7 920 707.7 916.7 715.5 914.5 723.7 913.7 735.7 913.9 744.7 915.4 750.7 917.7 756.5 921.5 760.7 925.9 764.2 931.5 766.7 940.9 767.3 952.5 766.4 962.5 763.7 971 759.3 977.5 753.3 982.5 746.7 985.6 737.7 987.6Z" fill="#fa0000" fill-rule="evenodd"/>
<path d="M748.7 959.9 713.7 960.2 706.7 959.1 701.7 956.9 698.6 953.5 697.4 949.5 697.3 936.5 698.7 930.4 703.7 926.2 713.7 924 745.7 924.1 753.7 925.3 757.7 926.9 760.8 929.5 762.4 933.5 762.2 951.5 758.7 956.5 753.7 958.9 748.7 959.9Z" fill="#e30000" fill-rule="evenodd"/>
<path d="M746.7 958.5 715.7 958.7 708.7 957.8 703.7 955.9 700.7 952.7 699.5 948.5 699.5 935.5 701.2 930.5 703.7 928.1 707.5 926.5 717.7 925.2 746.7 925.5 752.5 926.5 756.7 928.4 758.8 930.5 760.3 934.5 760.6 946.5 759.8 951.5 758 954.5 755.2 956.5 746.7 958.5Z" fill="#cc0000" fill-rule="evenodd"/>
<path d="M748.7 956.6 718.7 957.3 710.9 956.5 706.7 955 703.7 952.5 702.3 948.5 702.1 937.5 703.1 932.5 707.6 928.5 716.7 926.8 743.7 926.8 753.7 929.2 756.3 931.5 757.5 934.5 757.7 948.6 755.5 953.5 748.7 956.6Z" fill="#b50000" fill-rule="evenodd"/>
<path d="M746.7 954.5 721.7 955.3 710.1 953.5 707.5 951.5 706 947.5 705.9 937.5 706.8 933.5 710.1 930.5 717.7 928.9 740.7 928.8 749.9 930.5 752.5 932.5 753.9 935.5 754 947.5 751.7 952.3 746.7 954.5Z" fill="#9e0000" fill-rule="evenodd"/>
<g filter="url(#spk)"><rect x="580.7" y="781.5" width="345.5" height="297.0" fill="#000"/>
<path d="M796.7 1025.5 634.7 1025.2 619.4 1023.5 611.7 1019 608.7 1012.5 607.5 1001.5 607.3 899.5 598.7 893.1 595.8 882.5 598.7 871.9 607.3 865.5 608 822.5 609.7 815.2 613.2 810.5 621.7 807 637.7 805.7 817.7 805.5 845.7 806.5 853.5 808.5 857.9 811.5 861.5 819.5 862.6 834.5 862.6 992.5 861.1 1013.5 856.7 1020.6 847.7 1024.1 796.7 1025.5ZM772.5 1002.5 779.8 999.5 782.5 991.5 782.7 913.5 781.9 906.5 779.7 902.5 773.7 899.7 761.7 899.2 688.7 899.3 681.7 900.1 677.7 902.1 674.9 907.5 674.2 919.5 674.3 989.5 675.1 995.5 677.2 999.5 681.7 1002 688.7 1002.8 772.5 1002.5ZM739.7 959.5 717.7 959.2 708.7 956.3 705.9 951.5 705.1 944.5 705.7 933.5 707.9 928.5 713.7 925.4 727.7 924.4 745.7 924.9 753.7 928.1 755.8 931.5 756.8 937.5 755.4 953.5 750.7 957.8 739.7 959.5ZM726.7 982.5 699.7 982 695.3 979.5 694.4 975.5 696.7 972.2 703.7 970.5 725.7 970.4 733.7 972.5 735.6 975.5 734.7 979.5 726.7 982.5Z" fill="#4c4c4c" fill-rule="evenodd"/>
<path d="M839.7 1021.6 642.7 1022.2 625.7 1020.9 616.7 1017.1 613.3 1011.5 611.8 1000.5 611.6 897.5 602.2 891.5 599.4 882.5 602.2 873.5 611.6 867.5 612.1 826.5 613.3 819.5 616.1 814.5 620.7 811.4 629.6 809.5 666.7 808.7 830.7 808.9 846.4 810.5 853.7 814.3 857.2 821.5 858.3 834.5 858 1003.5 856.7 1011.5 853.7 1016.7 848.7 1019.8 839.7 1021.6ZM766 1004.5 778.7 1002.5 782.5 998.5 784 993.5 784.3 912.5 783.3 905.5 781 901.5 775.7 898.5 764.7 897.7 687.7 897.7 680.7 898.6 676.7 900.8 673.4 906.5 672.7 917.5 672.8 990.5 673.6 996.5 675.8 1000.5 679.7 1003.2 686.7 1004.4 766 1004.5ZM743.7 957.6 719.7 957.7 710.7 955 708.2 951.5 707.1 944.5 707.7 934.5 709.7 929.9 715.7 926.9 726.7 926 744.3 926.5 751.7 929.3 754.7 936.5 754.1 950.5 750.7 955.5 743.7 957.6ZM728.7 980.6 703.7 981 698.6 979.5 696.9 976.5 698.6 973.5 702.7 972.1 726.7 972.1 731.4 973.5 733 975.5 732.5 978.5 728.7 980.6Z" fill="#575757" fill-rule="evenodd"/>
<path d="M835.7 1016.6 648.7 1017.3 631.7 1016.2 622.9 1012.5 619.5 1006.5 618.3 995.5 618 894.5 607.7 890.3 604.9 886.5 604.2 882.5 604.9 878.5 607.7 874.7 618 870.5 618.6 830.5 619.9 823.5 622.7 818.7 627.7 815.8 634.7 814.4 671.7 813.5 824.7 813.7 839.7 815.1 847 818.5 850.7 825.5 851.8 837.5 851.7 997.5 850.5 1006.5 848 1011.5 843.7 1014.6 835.7 1016.6ZM776.2 1006.5 783.6 1001.5 786.6 992.5 786.6 911.5 785.5 904.5 782.7 899.9 775.7 895.9 762.7 895.2 686.7 895.4 679.7 896.4 674.7 899.5 671.4 904.5 670.4 910.5 670.2 978.5 670.8 995.5 674.7 1003 679.7 1006.2 687.7 1007.4 776.2 1006.5ZM742.7 955.5 722.7 955.9 713.3 953.5 710.9 950.5 709.7 945.3 709.8 937.5 711.7 932.1 715.7 929.3 724.7 928 741.7 928.3 748.7 930.5 752 936.5 751.8 948.5 748.7 953.5 742.7 955.5ZM725.7 978.6 707.7 979.1 703.7 978.4 701.5 976.5 706.7 974 721.7 973.9 728 975.5 728 977.5 725.7 978.6Z" fill="#616161" fill-rule="evenodd"/>
<path d="M810.7 846.8 745.7 847.4 731.7 846.3 721.7 841.8 720 836.5 722.8 832.5 728.7 830 752.7 828 811.7 828.5 823.2 830.5 829.2 834.5 830 838.5 827.2 842.5 821.7 845 810.7 846.8ZM637.7 888.7 628.7 889.5 619.6 888.5 613.9 885.5 612.9 881.5 615 878.5 620.7 876.3 629.7 875.5 638.7 876.6 643.7 879.2 645.3 882.5 642.7 886.7 637.7 888.7ZM740.7 952.6 725.7 953.1 716.7 950.8 714.6 948.5 713.4 943.5 715.3 934.5 719.7 931.8 727.7 930.8 739.7 931.3 745.7 933.4 748.4 938.5 748.1 946.5 745.8 950.5 740.7 952.6Z" fill="#6b6b6b" fill-rule="evenodd"/>
<path d="M733.7 943.6 728.7 943.8 727.1 941.5 729.7 940 733.7 940.4 734.9 942.5 733.7 943.6Z" fill="#757575" fill-rule="evenodd"/>
</g>
<g filter="url(#hspk)"><rect x="580.7" y="781.5" width="345.5" height="297.0" fill="#000"/>
<path d="M645.7 1001.5 610.7 1000.7 603.7 998.3 599.9 993.5 598.5 981.5 598.7 920.5 600.4 912.5 605.7 907.7 619.7 905.5 651.7 905.8 661.7 908.4 666.1 913.5 667.6 929.5 666.7 991.5 664.7 996 660.7 999.1 645.7 1001.5Z" fill="#4c4c4c" fill-rule="evenodd"/>
<path d="M639.7 1000.5 610.7 999.4 604.7 997 601.5 992.5 600.2 980.5 600.4 920.5 602.4 912.5 607.7 908.4 621.7 906.6 651.7 907.1 660.5 909.5 664.5 914.5 665.9 932.5 664.8 991.5 662.7 995.7 658.5 998.5 639.7 1000.5Z" fill="#575757" fill-rule="evenodd"/>
<path d="M651.7 998.6 614.7 998.7 607.7 996.8 603.7 992.8 602 981.5 602 923.5 603.6 914.5 607.7 910.2 619.7 907.9 648.7 908.1 657.7 909.9 662.4 914.5 664.1 927.5 663.7 987.5 660.2 995.5 651.7 998.6Z" fill="#616161" fill-rule="evenodd"/>
<path d="M648.7 997.5 615.7 997.3 609.3 995.5 605.5 991.5 603.9 979.5 604 923.5 605.5 915.5 609.7 911.3 621.7 909.2 647.7 909.4 656.7 911.5 660.5 915.5 662.1 928.5 661.6 987.5 658.2 994.5 648.7 997.5Z" fill="#6b6b6b" fill-rule="evenodd"/>
<path d="M634.7 996.5 613.7 995 609.3 992.5 606.9 987.5 606.6 921.5 609.3 914.5 615.6 911.5 632.7 910.5 650.4 911.5 656.7 914.4 659.1 919.5 659.9 973.5 658.7 989.1 656.7 992.6 652.7 994.9 634.7 996.5Z" fill="#757575" fill-rule="evenodd"/>
<path d="M647.7 993.6 619.7 993.8 613.7 991.9 610.6 988.5 609.1 977.5 609.2 926.5 610.6 918.5 614.8 914.5 624.7 912.7 643.7 912.9 651.2 914.5 655.3 918.5 656.9 929.5 656.7 982.5 654 990.5 647.7 993.6Z" fill="#7f7f7f" fill-rule="evenodd"/>
<path d="M642.7 990.6 622.7 990.5 617.6 988.5 614.7 984.1 614 927.5 615.7 920.5 620.7 917 630.7 915.8 643.2 916.5 648.4 918.5 651.2 922.5 652.3 935.5 651.8 981.5 649.5 987.5 642.7 990.6Z" fill="#8a8a8a" fill-rule="evenodd"/>
</g>
<g filter="url(#kspk)"><rect x="580.7" y="781.5" width="345.5" height="297.0" fill="#000"/>
<path d="M745.7 955.6 721.7 956 711.4 953.5 709 950.5 708.1 945.5 708.2 936.5 709.7 931.2 714.7 928 723.7 926.9 743.7 927.2 751.6 929.5 754.7 935.5 754.6 948.5 751.7 953.5 745.7 955.6Z" fill="#4c4c4c" fill-rule="evenodd"/>
<path d="M742.7 954.6 721.7 954.7 713.3 952.5 710.1 945.5 710.2 936.5 711.7 932.1 715.7 929.3 724.7 928.1 742.7 928.4 749.7 930.5 752.8 936.5 752.4 948.5 749.7 952.5 742.7 954.6Z" fill="#575757" fill-rule="evenodd"/>
<path d="M733.7 953.5 720.7 952.9 714.7 950.5 712.4 941.5 714.7 932.5 719.7 930.3 731.7 929.5 742.7 930.2 748.2 932.5 750.5 939.5 749.1 949.5 744.4 952.5 733.7 953.5Z" fill="#616161" fill-rule="evenodd"/>
<path d="M740.7 950.6 727.7 951.2 719.4 949.5 716.3 944.5 717.3 935.5 720.7 932.9 726.7 931.9 737.7 932 743.7 933.6 746.5 937.5 746.7 944.5 744.9 948.5 740.7 950.6Z" fill="#6b6b6b" fill-rule="evenodd"/>
<path d="M733.7 943.7 728.8 943.5 727.7 940.5 730.7 938.9 734.2 939.5 735.5 941.5 733.7 943.7Z" fill="#757575" fill-rule="evenodd"/>
</g>
<rect x="582.7" y="948.0" width="5.4" height="11" fill="url(#rimb)"/>
<rect x="588.1" y="937.0" width="11.3" height="11" fill="url(#rimb)"/>
<rect x="599.4" y="925.3" width="11.2" height="11" fill="url(#rimb)"/>
<rect x="610.6" y="913.6" width="11.7" height="11" fill="url(#rimb)"/>
<rect x="622.3" y="901.4" width="11.7" height="11" fill="url(#rimb)"/>
<rect x="634.0" y="890.3" width="11.0" height="11" fill="url(#rimb)"/>
<rect x="645.0" y="878.7" width="11.3" height="11" fill="url(#rimb)"/>
<rect x="656.3" y="866.4" width="11.5" height="11" fill="url(#rimb)"/>
<rect x="667.8" y="854.4" width="11.6" height="11" fill="url(#rimb)"/>
<rect x="679.4" y="842.7" width="11.3" height="11" fill="url(#rimb)"/>
<rect x="690.7" y="830.9" width="11.3" height="11" fill="url(#rimb)"/>
<rect x="702.0" y="818.8" width="11.4" height="11" fill="url(#rimb)"/>
<rect x="713.4" y="807.1" width="11.7" height="11" fill="url(#rimb)"/>
<rect x="725.1" y="795.1" width="11.9" height="11" fill="url(#rimb)"/>
<path d="M581.7 782.5 581.7 948.0 588.1 948.0 588.1 937.0 599.4 937.0 599.4 925.3 610.6 925.3 610.6 913.6 622.3 913.6 622.3 901.4 634.0 901.4 634.0 890.3 645.0 890.3 645.0 878.7 656.3 878.7 656.3 866.4 667.8 866.4 667.8 854.4 679.4 854.4 679.4 842.7 690.7 842.7 690.7 830.9 702.0 830.9 702.0 818.8 713.4 818.8 713.4 807.1 725.1 807.1 725.1 795.1 737.0 795.1 737.0 807.1 836.8 807.1 836.8 783.5 836.8 782.5Z" fill="#fff"/>
</g>
<path d="M639.8 783.5V1076.5M696.7 783.5V1076.5M753.6 783.5V1076.5M810.4 783.5V1076.5M867.3 783.5V1076.5M582.7 841.2H924.2M582.7 900.0H924.2M582.7 958.9H924.2M582.7 1017.7H924.2" stroke="#000" stroke-opacity="0.12" stroke-width="1" fill="none"/>
<path d="M639.8 783.5v3M639.8 1076.5v-3M696.7 783.5v3M696.7 1076.5v-3M753.6 783.5v3M753.6 1076.5v-3M810.4 783.5v3M810.4 1076.5v-3M867.3 783.5v3M867.3 1076.5v-3M582.7 841.2h3M924.2 841.2h-3M582.7 900.0h3M924.2 900.0h-3M582.7 958.9h3M924.2 958.9h-3M582.7 1017.7h3M924.2 1017.7h-3" stroke="#333" stroke-width="1" fill="none"/>
<rect x="582.7" y="783.5" width="341.5" height="293.0" fill="none" stroke="#3a3a3a" stroke-width="1.1"/>
<text transform="translate(545.10,793.13) scale(0.1766,0.1690)" font-size="100" fill="#1a1a1a" xml:space="preserve"><tspan font-family="Liberation Sans" font-weight="400">500</tspan></text>
<text transform="translate(545.10,851.93) scale(0.1766,0.1690)" font-size="100" fill="#1a1a1a" xml:space="preserve"><tspan font-family="Liberation Sans" font-weight="400">450</tspan></text>
<text transform="translate(545.10,909.13) scale(0.1766,0.1690)" font-size="100" fill="#1a1a1a" xml:space="preserve"><tspan font-family="Liberation Sans" font-weight="400">400</tspan></text>
<text transform="translate(545.10,963.13) scale(0.1766,0.1690)" font-size="100" fill="#1a1a1a" xml:space="preserve"><tspan font-family="Liberation Sans" font-weight="400">350</tspan></text>
<text transform="translate(545.10,1020.33) scale(0.1766,0.1690)" font-size="100" fill="#1a1a1a" xml:space="preserve"><tspan font-family="Liberation Sans" font-weight="400">300</tspan></text>
<text transform="translate(545.10,1081.73) scale(0.1766,0.1690)" font-size="100" fill="#1a1a1a" xml:space="preserve"><tspan font-family="Liberation Sans" font-weight="400">250</tspan></text>
<text transform="translate(566.70,1101.54) scale(0.1772,0.1648)" font-size="100" fill="#1a1a1a" xml:space="preserve"><tspan font-family="Liberation Sans" font-weight="400">400</tspan></text>
<text transform="translate(625.20,1101.54) scale(0.1772,0.1648)" font-size="100" fill="#1a1a1a" xml:space="preserve"><tspan font-family="Liberation Sans" font-weight="400">450</tspan></text>
<text transform="translate(679.70,1101.54) scale(0.1772,0.1648)" font-size="100" fill="#1a1a1a" xml:space="preserve"><tspan font-family="Liberation Sans" font-weight="400">500</tspan></text>
<text transform="translate(739.20,1101.54) scale(0.1772,0.1648)" font-size="100" fill="#1a1a1a" xml:space="preserve"><tspan font-family="Liberation Sans" font-weight="400">550</tspan></text>
<text transform="translate(794.20,1101.54) scale(0.1772,0.1648)" font-size="100" fill="#1a1a1a" xml:space="preserve"><tspan font-family="Liberation Sans" font-weight="400">600</tspan></text>
<text transform="translate(849.70,1101.54) scale(0.1772,0.1648)" font-size="100" fill="#1a1a1a" xml:space="preserve"><tspan font-family="Liberation Sans" font-weight="400">650</tspan></text>
<text transform="translate(908.20,1101.54) scale(0.1772,0.1648)" font-size="100" fill="#1a1a1a" xml:space="preserve"><tspan font-family="Liberation Sans" font-weight="400">700</tspan></text>
<text transform="translate(645.80,1120.03) scale(0.1695,0.1797)" font-size="100" fill="#1a1a1a" xml:space="preserve"><tspan font-family="Liberation Sans" font-weight="700">Emission Wavelength</tspan><tspan font-family="Liberation Sans" font-weight="400"> (nm)</tspan></text>
<text transform="translate(529.41,1037.20) rotate(-90) scale(0.1673,0.1326)" font-size="100" fill="#1a1a1a" xml:space="preserve"><tspan font-family="Liberation Sans" font-weight="700">Excitation Wavelength</tspan></text>
<text transform="translate(529.80,843.80) rotate(-90) scale(0.1718,0.1668)" font-size="100" fill="#1a1a1a" xml:space="preserve"><tspan font-family="Liberation Sans" font-weight="400">(nm)</tspan></text>
<text transform="translate(709.70,1151.05) scale(0.2117,0.1978)" font-size="100" fill="#1a1a1a" xml:space="preserve"><tspan font-family="Liberation Serif" font-weight="400">(</tspan><tspan font-family="Liberation Serif" font-weight="700">b6</tspan><tspan font-family="Liberation Serif" font-weight="400">)</tspan></text>
<text transform="translate(592.80,820.20) scale(0.1690,0.2042)" font-size="100" fill="#000" xml:space="preserve"><tspan font-family="Liberation Sans" font-weight="700">S6-S</tspan></text>
<g clip-path="url(#ca7)">
<rect x="81" y="1170.8" width="320.5" height="280.0" fill="#fff"/>
<g filter="url(#tex)"><rect x="79" y="1168.8" width="324.5" height="284.0" fill="#000"/>
<path d="M388 1221 360 1221.3 352.4 1219.8 347.8 1216.8 344.4 1209.8 343.4 1196.8 344.5 1184.8 348.2 1177.8 356 1174.2 373 1173.2 389 1174.2 397 1178 399.9 1182.8 401.2 1188.8 400.6 1209.8 396.2 1217.8 388 1221ZM324 1448.8 304 1449.1 293 1446.8 288 1441.6 285.9 1431.8 285.9 1193.8 287.1 1185.8 290 1180.4 295 1177.4 303 1176 321 1175.9 331.2 1177.8 336.7 1182.8 339 1192.8 339.1 1430.8 338 1438.8 335.7 1443.8 331 1447.3 324 1448.8ZM264 1450.8 96 1450.8 90.2 1448.8 87.4 1444.8 87.1 1423.8 90.8 1417.8 103 1415.6 263 1416.1 268 1417.3 271.5 1419.8 273.3 1428.8 272.2 1445.8 269.8 1448.8 264 1450.8Z" fill="#4c4c4c" fill-rule="evenodd"/>
<path d="M382 1219.8 359 1219.4 352.9 1217.8 348.8 1214.8 345.9 1207.8 345.2 1193.8 346.8 1183.8 350.3 1178.8 360 1175.5 380 1175.1 391 1176.7 396.6 1180.8 398.8 1185.8 399.8 1193.8 398 1211.6 393 1217.4 382 1219.8ZM318 1446.8 302 1446.4 293.7 1443.8 289.5 1437.8 288 1425.8 288.3 1194.8 289.7 1186.8 292.9 1181.8 299 1179.1 308 1178.1 324 1178.7 332 1181.7 335.6 1187.8 337 1199.7 336.8 1429.8 335.5 1437.8 332.5 1442.8 327 1445.7 318 1446.8ZM258 1449.9 99 1449.5 93.2 1447.8 90.5 1444.8 89.8 1424.8 91.4 1420.8 93.9 1418.8 106 1416.9 261 1417.5 267 1419.3 269.7 1422.8 270.4 1440.8 269.5 1444.8 267 1447.7 258 1449.9Z" fill="#545454" fill-rule="evenodd"/>
<path d="M382 1217.8 360 1217.5 354.1 1215.8 350.4 1212.8 347.7 1205.8 347.2 1193.8 348.5 1185.8 352 1180.5 360 1177.5 377 1176.9 388 1178.1 394.3 1181.8 397.7 1192.8 396.6 1208.8 392 1215.2 382 1217.8ZM315 1443.8 302 1443 295 1439.7 291.9 1432.8 290.9 1418.8 291.3 1196.8 292.8 1188.8 296 1184.4 302 1181.9 311 1181.2 323 1181.9 330 1185.3 333 1191.8 334.1 1206.8 333.8 1427.8 332.3 1435.8 329 1440.6 324 1442.8 315 1443.8ZM256 1447.8 103.9 1447.8 98 1446.4 94.8 1443.8 93.4 1437.8 93.6 1426.8 95 1422.9 97.4 1420.8 109 1418.8 257 1419.3 262.6 1420.8 265.5 1423.8 266.6 1436.8 264.5 1444.8 256 1447.8Z" fill="#5c5c5c" fill-rule="evenodd"/>
<path d="M377 1215.8 359.4 1214.8 355 1213 352 1210 349.8 1202.8 349.7 1192.8 351.5 1185.8 355 1182 364 1179.5 380 1179.4 388 1181 392.9 1184.8 395.5 1195.8 393.7 1208.8 388.6 1213.8 377 1215.8ZM313 1438.8 303 1437.4 298 1433 296 1424.8 295.5 1405.8 295.9 1201.8 297 1194.5 299.6 1189.8 304 1187.3 312 1186.2 322 1187.6 327 1192 329 1200.1 329.5 1218.8 329.1 1423.8 327.9 1430.8 325 1435.6 320.8 1437.8 313 1438.8ZM241 1443.8 114 1443.5 104.6 1440.8 102.9 1437.8 102.4 1431.8 103.4 1427.8 106 1425.2 118 1423.3 238 1423.1 249.2 1423.8 254.9 1425.8 257.6 1431.8 256 1440.1 251.3 1442.8 241 1443.8Z" fill="#636363" fill-rule="evenodd"/>
<path d="M375 1212.8 361.7 1211.8 355 1207.5 353 1201.8 353 1193.8 354.8 1187.8 358 1184.7 366 1182.5 379 1182.5 386 1184.1 390.2 1187.8 392.2 1197.8 390 1207.5 385 1211.3 375 1212.8Z" fill="#6b6b6b" fill-rule="evenodd"/>
<path d="M379 1206.9 369 1207.4 361.6 1204.8 358.7 1197.8 361 1190.8 365 1188.4 372 1187.4 379 1188.1 384 1190.8 386.1 1194.8 385.9 1200.8 383.4 1204.8 379 1206.9Z" fill="#737373" fill-rule="evenodd"/>
</g>
<clipPath id="lca70"><path d="M81 1171H287V1414H81Z"/></clipPath>
<g clip-path="url(#lca70)" fill="none" stroke-width="1">
<path d="M79.5 1181.5l1 1 0 1 1 0 0-1 2-1 3 1 1-1 4 0 1-2 5-1 2 1 1 2 2-1-2-1 1-1 5-2-2-1 0-2 2-1 1 1-1 1 1 1 2 0 3 0-3-1 2-1 9 1 4-3 10 4 4-1-3-2 3 0 7-3M149.5 1169.5l-1 1 0 1 4-1 5 3 6-2 1 0-1 2 6 0 4 2-1 1 1 0 1 0-2-2 1-1 5 0 0 3 1 0 2-1-1-1 3-1 1 1 0 2 3 1 1 0-2-1 2-1 4 0 3-1 3 1 0-1 6-1-4-2 4-2M209.5 1169.5l0 1 2 2-3 3-3-1-4 3-3 1 6 0 5-3 2 1 0 1 1 1 7 0-1 1 2 0 3-2 4 0 1-3 3-1 1-1 2 2 0-3 3 0 3-2M253.5 1169.5l3 1 1-1M260.5 1169.5l-1 2 2 3 0 1-3 2-5 0 2 2 3 0 2-1 6 2 2-1 9 0 3-1 4 0 3-2 8 1 3 0 0 2 1 1-2 1 5 1 1 0 0 1 2 0 20-1 2 0 2-1 4 0 2-3 3 1 9-1 3-1 1-1-5-2 0-1 4-1 6 0 2 2 0 1 1 0 6-1 8 1 1 1-1 2 2 1 2 1 2-1 4 2 2-1 4 0 2-2-2-2 3-2 2-3 3 1 2 2 3 0 0 1 1 0M275.5 1169.5l0 1-5 1-2 0-4 0 2-2M267.5 1169.5l3 0M270.5 1169.5l1 0M278.5 1170.5l-3 0 2-1 1 1M324.5 1172.5l-3 0-2-2 5 1 0 1M328.5 1170.5l-1 0 1 0M374.5 1169.5l-1 0M378.5 1169.5l2 1-2 2-6 1-3-1 2-2 5 0 1-1M403.5 1170.5l-1 0 1 0M109.5 1171.5l-1 0 1 0M126.5 1171.5l-1 1-1-1 2 0M197.5 1173.5l-2 0-1-1 2-2 4 1-3 2M208.5 1172.5l-1-1-4 0 4 2 1-1M258.5 1174.5l1-1-1-1-6-2-3 2 4 0 5 2M390.5 1171.5l-2 0 3 0-1 0M146.5 1175.5l-1-2 0-1-2-1-1 1 1 2 3 1M186.5 1172.5l-1 0 1 0M214.5 1172.5l-1 0 2 0-1 0M332.5 1176.5l-4 0-4-1 1-2 3-1 2 3 2-1 0 2M342.5 1175.5l-2-1 1-1 2 0 1 1-2 1M142.5 1176.5l0-2-4 0 2 1 0 1 2 0M151.5 1174.5l-3 0 2 0 1 0M250.5 1180.5l3-1-1-2-9-4-1 1 1 1-5 2 2 2 10 1M320.5 1175.5l-1 0 0-1 3 0-2 1M335.5 1174.5l-3 0 3 0M153.5 1176.5l0-2-3 2 3 0M202.5 1175.5l-1 0 1 0M157.5 1177.5l-2 0 2 0M90.5 1178.5l-1 0 1 0M190.5 1180.5l3-1-1-1-2-1 0 3-3-1 0 1 3 0M88.5 1179.5l0-1 0 1M83.5 1180.5l1 0-1 0M296.5 1181.5l-2 0 2 0M111.5 1182.5l-1 0 1 0M103.5 1185.5l0-1-1 1 1 0M334.5 1186.5l-1-1-2 1 3 0M355.5 1187.5l1-1-3-1-5 0-3 2 4 0 6 0M254.5 1175.5l-2 0-1-1 3 0 0 1M395.5 1176.5l-1 0 1-1 2 0-2 1M115.5 1177.5l-2 0 2-2 1 1-1 1M79.5 1186.5l2 1 2 0 1-1 3-1-1-1 4 1 7-1-1-1-1 0-1 0 1-1 3 1 5 5 3 0 0-2 1-1 1 0 1-1 2 1 0 1-2 1 2 1 3-1 0-1-1-1 11-3 4 1 0 1 1 0 2-2 6 0-3-2-4 0-1-1 0-1 6 1 2-1 1 1-1 1 2 1 4 0 0-1-1-1 2-1 2 1-1 1 3 2 2 0 1-2 2 1 2 0-3-1 0-1 1-1 2 2 2-1 2 1 4-2 4 1 6 3 4-2 6 3 4-1 0 1 2 1 9-3 2-2 0 2 4 2 3-4 1 1-1 1 0 1 1 0 4 0 2-2 4 1 0 1 2 0 3 1 5-1 0 1-2 1 1 1 3 0-1-1 3-1-2-1 1-1 9 1 8-1 10 0 4 1 1 2 0 1 3 2 1-3 3 0-3-1-1-1 3 0 5-2 4 1 7-3 5 3 8 3 2 0 1 1 11-1 4 0 5 0 2 1-1 1-3 1 1 1 4-1 3 1 5 0 0 1 1 0 7-4-2-1-6-1 4-1-1-1 1-1 21-2 1 0 0-2 2 1 4-2 5 2 4 5 4 1 11-2 4-2 6 2 2 2-1 1-5 1 9 3-2 1 2 0M119.5 1177.5l1 0-1 0M127.5 1177.5l1 0-1 0M132.5 1177.5l-1 0 1 0M233.5 1178.5l-2-1 2-1 1 1-1 1M370.5 1177.5l-1 0 2 0-1 0M402.5 1177.5l-3 0 3 0M107.5 1180.5l-2 0 3-2-1 2M121.5 1178.5l-2 0 1-1 2 1-1 0M172.5 1179.5l-2 0 0-1 1-1 2 1-1 1M397.5 1179.5l-2-1 2-1 0 2M117.5 1181.5l-2 1-2-2 2-2 1 0 1 1-1 1 1 1M210.5 1179.5l-1 0 2 0-1 0M291.5 1179.5l-1 0 1 0M97.5 1180.5l0-1 0 1M127.5 1181.5l-2 0-2-1 3-1 1 2M162.5 1184.5l2-1 1-3-4 1-1 3 1 0 1 0M184.5 1181.5l-1-1 1-1 1 1-1 1M212.5 1180.5l-1 0 2 0-1 0M224.5 1182.5l-1-1 2 0-1 1M102.5 1182.5l-2 0 2-1 1 1-1 0M168.5 1182.5l-1 0 1 0M115.5 1183.5l0-1 0 1M146.5 1184.5l-1-1 1 1M358.5 1189.5l0-1 3 0-3-3 3-1-3-2-5 0-9 2-5 3 5 1 14 1M172.5 1189.5l5-3 2 2 2-1 3-2-2-2-4 0-3 1-3-1-3 2-2 2 0 1 2 1 3 0M221.5 1185.5l0-1-1 1 1 0M235.5 1184.5l-1 0 1 0M379.5 1186.5l3-1-5-2-1 1 2 2 1 0M151.5 1189.5l1-1-2-2 1-1-3 1 1 3 2 0M157.5 1185.5l-1 0 1 0M189.5 1188.5l-1-3-2 0-1 1 2 2 2 0M387.5 1186.5l-2-2-1 2 3 0M98.5 1188.5l1-2-4 0 2 2 1 0M160.5 1187.5l-1-1 0 1 1 0M182.5 1186.5l-1 0 2 0-1 0M195.5 1187.5l0-1-1 0-1 1 2 0M171.5 1188.5l-3 0 2-1 1 1M315.5 1188.5l-2 0 2 0M177.5 1189.5l-1-1 0 1 1 0M192.5 1191.5l3-1-5 0 2 1M351.5 1182.5l-3 0-5-1 0-1 6 0 2-1 2 0 11 0-1 1-3 1-7 0-2 1M368.5 1180.5l-1 0 1 0M392.5 1184.5l-3-1 1-1 3-1 3 1-4 2M369.5 1183.5l-2 1-1-1 3-2 1 1-1 1M153.5 1183.5l-1 0 1 0M79.5 1190.5l3-1 1 1-2 1 4 1 6-2-2-1 3-1 2 0-3 2 2 2 4-1 2-2 3 2 5-2 1 1-2 1 0 2 1 1 4 0 1 0-2-1 3-2 3-1 0 2 2 1 6-4 3 0 1-1-3-1 2-1 0-1 4 1 1 0-1-1 1-1 6-1 2 1 0 2-3 1-1-2 0 2 3 1 0 1-2 1 1 1 3-1 1 1 2-1 2 1 3 1 3-1 3 1 1-1 4 1 3-3 5 3 5-2 0 1-1 1 1 1 3-3 2 0 10 0 4 3 1 0-1-1 2-1 7 2 2-1-4-3 1-1 6 1 0-1-2-2 1-1 5 3 3-1 1 1-1 3 2-2 1 1 1 2-1 1 1 0 2-2 2 1 4-2 2-2 2 1 3-3 4-2 2 1 7-3 8 1 2-1 5 2 0 2-1 1 5 0 3 2 2-2 2 1 2 1 1-1-2-1 1-3 2-1 6 0 2 0 3 0 4 1 4-1 2 1 1 1-2 0-8 0-2 2 1 2-1 2 1 0 6-1 2-2 4-2 4 0 6-1 4 2-1 1 4 3 6-1 3-1 8 1 9-1 7 1 2-1 6 2 3 0 6-4 4 0 2-1 3 2 3-1 2 2 2-1 5 0 8 1 2 2 7-1M259.5 1183.5l-1 0 2 0-1 0M372.5 1183.5l-2 0 2 0M388.5 1183.5l-2 0 1-1 2 1-1 0M214.5 1186.5l-2 0 1-1 1 0 0 1M224.5 1185.5l-1 0 1 0M119.5 1187.5l-3 0 2-1 2 1-1 0M200.5 1186.5l-2 0 2 0M219.5 1191.5l-3-1 0-4 5 3-2 2M374.5 1186.5l1 0-1 0M364.5 1187.5l-2 0 1-1 1 1M140.5 1188.5l-1 0 2 0-1 0M121.5 1189.5l-1 0 1 0M133.5 1190.5l0-2-1 2 1 0M289.5 1189.5l-1 0 1 0M309.5 1189.5l-2 0 2 0M86.5 1190.5l-3 0 3 0M249.5 1190.5l-1 0 1 1 0-1M383.5 1195.5l3-2-2-3-3 3-5 0 1 1 6 1M328.5 1191.5l-4 0 4 0M165.5 1192.5l-3 0 3 0M250.5 1193.5l1-1-1-1-2 0 1 2 1 0M106.5 1194.5l-2 0 2 0M340.5 1203.5l1-1-5-1 0-4-7-3-3 3 0 2 4 0 4 3 6 1M393.5 1182.5l-1 1 0-1 1 0M260.5 1191.5l-2 1-2-2-2 0-1-3-3 1-4 0-1-2-2 1 4-3 3-1 4 2 2-1 2 2-2 1 4 2 0 2M237.5 1187.5l-2 0 1-1 1 0 0 1M282.5 1186.5l-3 0 4 0-1 0M302.5 1188.5l-3 0 0-1 2 0 2 1-1 0M369.5 1192.5l-3 0 1-2 0-1 4-1 3 2-5 2M79.5 1193.5l5 2 0 1-1 2 1 1 1-2 2 0 1-2 3 1 1-2 3 2-1 2 3 0 9-3 5 2 3-1 6 2 4-2 4 1 3-1 3-1 8-2 3 1 1 0-1-1 1 0 4 0 3 2 6-2 0 2-2 0-1 2 2 1 2-1-1-1 5-2 2 2 6 1 4-1 3 1 2-2 2 0-1 1 6 0 0-3 7 3 4-2 4 0 2-1 2 0 0 1 6-1 2 1 11 0 2-1 9-2 0-1-3 0 3 0 1-1 6 0 0 2-2 0-1 2 3-1 1 2 3 0 2 1 2-1 2 1 1-1-2-4 5 2-1 2 8 2 1 0 0-1 8 0 4-1 4-3 3 2 5-2 7 1 0 1 5-3 1 1-2 1 0 1 1 0 1-3 2-1 1 1-1 1 0 3 9-1 3 0 6 6 14 5 7-1 1-1 0-1-3-3-2 0-2-3-1-1-8-1 0-1 4 0 2-1 3 0 5-1 4 1 4 0 4 1 4 0 10 2 4 0 1 1 6 1 5 0 8-6 3 2 7 0M263.5 1189.5l-1 0 2 0-1 0M272.5 1190.5l-2 0 2 0M267.5 1191.5l-2 0 2 0M280.5 1191.5l-1 0 1 0M210.5 1192.5l-3 0 3 0M309.5 1192.5l-1 0 1-1 1 1-1 0M322.5 1195.5l-2-1 0-1 1-1 2 0 0 3-1 0M278.5 1193.5l-1 0 0-1 1 1M294.5 1199.5l4-2 0-1-1-1-1-2-2 2 2 2-1 0-12-2-4 3 1 1 3-1 2 1 5-1 4 1M97.5 1196.5l-1 0 1-1 0 1M122.5 1195.5l-1 0 1 0M147.5 1196.5l1-1-1 1M89.5 1199.5l-1 0 1 0M79.5 1200.5l3-1 5 2 3-1 2 1 5 0 6-3 3 1-1 1 2-1 7-1 4 2 6-1 2 2 6-3 2 1 6 0 1 1 5 2 6-2 9-2 3 1-2 1 0 1 1 0 4-3 3 0-1 2 5-1 1 0-1-1 2-1 4 3 9 0 4-2 4 1 2-1-1-1 1-1 2 1-2 1 1 0 4-2 6 0 1 0-1-1 2-1 2 1 12 0 7-2 5 1 3 1 2 2 5 0 7-1 6 0 4 1 5-1 4 1 2 0 2 3 1 0 22 0 3-2-4-1 7-1 8 0 3 1 2 4 5 0 4 2-1 2 1 1 3 0-1 0 0-2 5 1 4 0 2 0 4-1 0-1 2-1 0-1-2-1 1-2 1-1 6 0-3-1 6-3 18 4 3 0 1 1 2-1 7 0 4-3 1-2 10 1M292.5 1195.5l-2 0-2-2 2-1 2 3M345.5 1194.5l-2 0 0-1 2 0 0 1M209.5 1196.5l0-1 1 0-1 1M311.5 1195.5l-2 0 2-1 1 1-1 0M345.5 1196.5l0-1 1 1-1 0M148.5 1199.5l-2 0 2 0M351.5 1199.5l-1-1-1 1 2 0M306.5 1202.5l0-2-3 1-2-1-1 1 1 1 2-1 3 1M372.5 1201.5l-1-1-2 0 1 1 2 0M139.5 1201.5l-1-1-1 1 2 0M159.5 1201.5l-3 0 3 0M105.5 1202.5l-1-1 0 1 1 0M309.5 1204.5l1-2-1 0-2 1 2 1M378.5 1202.5l-2 0 2 0M312.5 1203.5l-2 0 2 0M326.5 1204.5l0-2-4 1 4 1M350.5 1203.5l-1 0 1 0M320.5 1207.5l5-1-4-2-4 0 1 2 2 1M368.5 1208.5l0-2-3-1 0 2 3 1M361.5 1208.5l0-1-1 1 1 0M358.5 1195.5l-1 0 1 0M79.5 1206.5l7 0 9-1 2 1 1-2 4-1 2 1 7-2 8 3 5-2 10 1 4-2 1 0 1 2 1-1 2 1 3-1 7-1 3 2 10-2 4 1-3 1 3 1 1 0-1-1 1-3 1 1 3 0 0 2 6-2 3 2 4-2 10 1 4 0 0-2 3-1 1-1 4 0-5 3 0 1 2 0 3-2 3-1-1-3 2-1 2 1-1 1 5 0 2-1 1 1 5-1 2 2-8 2-6-1-4 2 2 1 6 1 1 1 2 0 2-3 8 0 0-2 1-1 10 0 2 0 5-1 2 1 1 1-1-2 1-1 3 2 5-1 1 2 1 0 1-1 7-1 3 2 5 1 14 0 7 4 4-1 1 2 2 0 8 1 2 1 0 2 1 0 3 0 2-2 4 0 10-2 4 1 6-2 2 1 2-2 2 0 1-3-2-2 5-1 3-3 4 1 5 2-2 1-4-2-2 1 3 2 0 1-6 1-2 4 1 2-2 1 4 2 3-1 10-1 1-2 3 2 4-3 4-1 0-3-3-1 1-1 6-1-1-1 1-1 3 1 1-2 3-2 3 0 4 2M237.5 1198.5l-5 1-2-1 1-2 2-1 4 1 0 2M308.5 1198.5l-2 0 2-1 0 1M400.5 1197.5l-1 0 1 0M311.5 1200.5l-2-1 3-1 1 1-2 1M382.5 1200.5l-1-1 2 0-1 1M273.5 1201.5l-1-1-1 0 0 1 2 0M358.5 1200.5l-1 0 1 0M196.5 1201.5l-1 0 1 0M314.5 1202.5l-1 0 0-1 1 0 0 1M403.5 1200.5l-1 2-5 1 2 3-1 1 2 1 3-1M93.5 1203.5l-2 0 3 0-1 0M401.5 1204.5l-1 0 1 0M176.5 1206.5l-1 0 1 0M297.5 1208.5l3-1-2-1-4 1 3 1M302.5 1206.5l0 1 0-1M363.5 1206.5l-1-1 1 0 0 1M402.5 1207.5l-1-1 2 0-1 1M390.5 1208.5l0-1-3 0 1 1 2 0M401.5 1207.5l0-1 1 1-1 0M305.5 1208.5l-3 0 3 0M388.5 1211.5l-1-3-3 2 4 1M396.5 1210.5l-1-2-3 1 0 1 2 1 2-1M357.5 1211.5l-2-1-1 1 3 0M324.5 1211.5l-1 0 1 0M327.5 1211.5l-3 0 3 0M368.5 1219.5l0-2-3-1 1 3 2 0M79.5 1210.5l1 0 0-1 1 0-1 1 1 0 2-1 5 1 5-1 2 0 1 1 2-1-2-1 1-1 4 0 3-1 2 2 1-1 8 1 1 0-1-1 2-1 3 1 2-1 3 0 2 2 5-1 3 2 2-1 0-1 3 0 3-1-2 2 1 0 3-1 3 0 4-3 3 2 1 1 5 2 2 0-2-1 2-1 2-1 2 2-1 1 4 1 5-2 3-2 1 1 0 1 5-2 3 3 1-1 0-2 3 3 3-2-1-1 1-2 2 2 3-1 2 1 5-1 5 3 1 0-3-3 2-1 4 4 1 0-2-1 2-1 6 2 3-3 4 1 2-3 2 1 7-3 7 0 3-1 4 1 5-1 4 2 0 1 1 0 6-1 5 0 2 0 5 1 4-1 7 0 2 1 0 2-13 0-3 2 1 1 4-1 4 2 3-2 4 2 10 0 5 1 4-1 4 2 3 0 2 2 2-1 3 1 1-4 8-1 10 1 0 2 4 1 4 0 3 2 11-4 10 0 2 1 6 1 3-1 4 1 9-2M394.5 1203.5l-3-1-4 1 4-3 4-1 1 2-2 2M278.5 1206.5l1-1-1-1-2 1 0 1 2 0M392.5 1205.5l-2 0 3 0-1 0M135.5 1207.5l-2-1 3 0-1 1M187.5 1206.5l-2 0 3 0-1 0M201.5 1208.5l0-1 0 1M309.5 1208.5l0-1 1 1-1 0M104.5 1210.5l-2 0 2 0M109.5 1210.5l-1 0 1 0M368.5 1220.5l4-1 1-2 4-1-2-1-8 0-2-2-5 2-2-1-1 1-3 4 3 1 6-1 2 1 3 0M380.5 1215.5l-1-1-2 1 3 0M79.5 1212.5l4 1 2-2 4 0 3 2-2 2 2 0 2-2 4 0 4 1 6-1 1 0-1-1 1-1 2 2 1-1-1-1 2-1 3 2 2-3 6 0 1 1-2 1 1 1 3 0 2 2 9-3 4 3 6 1 1-2 8 2 4-2 2 2 2-3 2 1 2-2 5-1 3 1 2-1 1 0 0 2 3-1 4 1 2-1 2 0 4-3 3 1 0 2 3 1 1-2 4 0 3 2 3-1 5 0 1-2 5 2 2 0 2-3 3-1 3-2 4 0 5 2-4 2 1 1-3 2 2 2 3 0 4-1 0-2 3 0-1-1 7-2 1-2-8 0-7-3 13-1 1 1 4 1 2-2 1 2 4 0 1 2 6 1 2 2 8 0 2 1 13 0 7 3 0 2 2 1 1 0-2-2 2-2 4-1 1 1 0 2-3 3 0 1 4 0 2 2 1-1-2-2 1-2-3-2 2-1 4 1 2-1 7 2 5-2 1 2-2 0-1 2-4 1 8 0 1 0-2-2 2-1 2-3 5-2 2 2 2 0 4 2-1 1 2 1-1 2 1 1 1 5 2 0 1-1 4 0 3-1 6 0 6 1 2-1 3 1 1-1-3-3 0-1 5-1 0-3 3 1 5-1 3 0 5 0 2-2 3 0M287.5 1203.5l-2 0 3 0-1 0M270.5 1206.5l-2-1 3-1 1 1-2 1M146.5 1208.5l-1 0 1 0M133.5 1212.5l-5 0 0-1 3-2 2 3M200.5 1209.5l-2 0 1-1 1 1M144.5 1212.5l-3-1 3-1 1 1-1 1M160.5 1212.5l-3 0 2-2 2 1-1 1M243.5 1210.5l-2 1-1-1 3-1 1 1-1 0M153.5 1212.5l-2-1 2-1 0 2M304.5 1211.5l-3 0 2-1 1 1M374.5 1212.5l-2-1 3 0-1 1M147.5 1213.5l-5 0 3-2 4 1-2 1M241.5 1213.5l-1-1 1-1 0 2M270.5 1212.5l-2 0 1 1 1-1M372.5 1212.5l-1 0 1-1 0 1M122.5 1215.5l1-1-1-1-4 0 2 0 1 2 1 0M308.5 1213.5l-1 0 1 0M369.5 1213.5l-1 0 1 0M79.5 1214.5l2 0-2-1M269.5 1214.5l-1-1 0 1 1 0M116.5 1216.5l-2 0 2 0M353.5 1227.5l2-1 0-1-3 1 0 1 1 0M356.5 1228.5l-1 0 1 0M238.5 1207.5l-1 0 1 0M79.5 1219.5l2-1 5 3 1-2 3-1 4 1 1 0 0-2 4 0 1 0-1-1 1-1 2 1-2 3 3 2 2-1 1-2 4-1 1 2 6-2 4 1 2-1 1 1 2-3 2 1-2 3 2-1-1-1 1-1 3 1 4 0 1 0-2-1 1-1 2 1 5 0 2 1-1 1 1 0 2 0-1-1 1 0 5 1 7-1 5 0 0-1 3-1 4 2 8 0 5 2 5 0 0-1 4-1 0-2 3-1 5 1 0 1-2 1 2 1 3-1 1-2 2 2 3 0 2-1-1-1-2 0 0 1-4-1 7-2 3 0 1 1-3 1 2 1 1 0 2-3 6 3 1 0-1-2 1-2 4 0 3 2 2-1 2 2 3 1-2 1 1 0 3 0 2 1 3 0 2 1 5 1-1 1 2 0 1 0 0-1-6-3 3-4-2-1 3 0 1-2 2 0 5-2 4-1 3 1-2 1 1 2-5 0-2 1-1-1-1 1 4 2 1 2 3 0 1-1 11 0 2-2-2-1-3 2-2-1 1-2 5 0 3-1 3 2-1 1 0 3 9-1 1-1 5 0 7 5-4 1 9 2 8-1 0-3 2 1-1 1 2 0 1 0 0-1 6-1 7 4 1 1 2-2 1 1 1 2 6 0 3 3-1 2 3-1 3 1 5-1 3-3 0-1-2-1 3-1 3 1 2-1 8 2 7-1 1 1 2-1 2 1 1 0 0-2-3 0 0-1-1 0-2 0-2-1 0-2 7-4 12 0 1-2 2 0M269.5 1209.5l-1 0 1 0M286.5 1211.5l1 0-1 0M289.5 1213.5l-2-2 4 0-2 2M295.5 1212.5l-4-1 3 0 1 1M172.5 1213.5l-1 0 1 0M249.5 1213.5l-1 0 1-1 1 1-1 0M344.5 1216.5l-5-3 2-1 2 1 2 0 1 1-2 2M292.5 1214.5l-3 0 3 0M339.5 1216.5l-2-1 2 0 0 1M130.5 1216.5l-1 0 2 0-1 0M186.5 1216.5l-2 0 2 0M324.5 1216.5l-1 0 1 0M403.5 1216.5l-2 0 2 4M231.5 1218.5l-2-2-1 1 1 1 2 0M264.5 1221.5l0-1 1-1 6-2-6 0-4 4 1 0 2 0M346.5 1223.5l-4-2 0-1-1 1-2-1 2-1-2-2 1-1 4 2 1-2 2 1 1 1-2 5M192.5 1220.5l-1 0 1 0M398.5 1220.5l-1 0 1 0M283.5 1226.5l-1-2-2 0-1-1-4-2-3 1-2 0 0-2-1 3 4 3 5-1 3 2 2-1M389.5 1220.5l-4-1 0-2 13-1 1 1-5 3-5 0M79.5 1221.5l4 1 0 2 2 0 2-1 3 2 0 1 2-3 3 2 1 0 0-1-2-1 0-2 7 2 7 1 5-1 2-1 5 1 5-2 3 1-1 1 1 0 2-1 5 0 0-1 1-1 1 1 2-1 3 1 1 1-1 1 3 2 7-3 4 0 5-2 2 2 3 0 6-1 1 1 1-2 6 0 7 2 1 0 0-1 1-1 2 1 0 2 1 0 3-1 0-1 2-1 5 3 2 0 3-3-2-1 1 0 4 1-2 1 2 2 1 0-1-1 2-1-1-2 3 1 1 1 2 1 4-3 1 1-2 1 4 1 1 2-1 1 2 0 4-1-4-3 3-1 1 2 2 0 3 1 3-1 10 0 1 1 4-1 2 1 4-1 8 3 13 3 5-1 1 1 1 0-1-1 2-4-3-1 0-1 5-1-3-3 3-1 5 2 4 5-1 1 4-2 2 0-2 1 6 1 3-1 5 0 2 0 0-1 4-1 2-1 6 1 4 4 2 0 4 2 2-2 1 0 0 4 3 2 5-1 3 0 8-1 4-2-1-2 3 1 1-1 14 1 3-1 3 1 2-2 0-2 2 1 10 0M168.5 1220.5l-3-1 2-1 1 2M216.5 1219.5l-1 0 2 0-1 0M119.5 1222.5l-1 1-2-2 0-1 3 1 0 1M124.5 1220.5l-3 0 2-1 2 1-1 0M107.5 1223.5l-1 1-1-2 1-1 1 2M129.5 1222.5l-1-1 2 0-1 1M149.5 1221.5l1 0-1 0M235.5 1221.5l-1 0 1-1 0 1M180.5 1223.5l-2-1 0 1 2 0M145.5 1223.5l-1 0 1 0M223.5 1225.5l-4-2-2 2 2 0 4 0M368.5 1224.5l-1 0 2 0-1 0M301.5 1228.5l-1-1 0-1-1-1-1 1 0 1 1 1 2 0M289.5 1227.5l-1 0 1 0M294.5 1233.5l-1-2 3-3-1-1-1 0-2 1-3 1 2 1-3 1 0 1 6 1M383.5 1229.5l-1 0 1 0M251.5 1232.5l-1-1-1 0 0 1 2 0M393.5 1218.5l-3 0 1-1 2 1M79.5 1227.5l6 0 2 2 5 1 3 1 1-2 2-1 3 1 3-1 5 2 1-1 0-2 4-1 3 2 3 0 1 0-2-1 16-2 5 2 2-1 1 1 4-1 1-2 3 1-2 1 1 0 2-1 2 1 3 0 2 0 0-2 3 0 1-1 4 1 2-1 4 2 0-1 1-1 4 1 2 2 6-2 1 1 3-1 0 3 1 1 1 0 0-3 2-1 2 2 4-1 4 2 4 0 3 0 1-1 3 0 3 2 4 0 4 0 1 0-1-1 2 0 1 0 1 1 2-1 2 0 2-2 2 1 2-2 7-1 7 3 7-1 22 4 2 2-1 1 1 1-1 2 1 0 3-2 5 1 4-1 4-3 2 1-2 1 1 2 6-1 3 2 6-1 2 1 0 1 1 1 3 0 1 0 0-1 4 0 3 0 1-1-3-1-2-2-3 1-6-2-5 2-3-1-2 0-2-1-1 0 1 1-2 0 0-3 2 0 2-2 4 0 1-1 8-1 2-2 5-1 0 2 5 3 1 2 4 1 3 2 7 1 3-2 18-3 2 2 7-1 5 1 3-3 2 1 4-1 2-3 9 1M141.5 1225.5l-3 0 4 0-1 0M211.5 1225.5l-2 0 2 0M327.5 1225.5l-2 0 2 0M177.5 1226.5l-1 0 1 0M95.5 1227.5l-1 0 1 0M152.5 1228.5l-1 0 1 0M178.5 1228.5l-3 0 1 0 2 0M201.5 1228.5l-3 0 3 0M317.5 1228.5l-1 0 1 0M212.5 1229.5l-2 0 2 0M253.5 1233.5l2-1-3-2-4 0-4 0-4 3 5 0 2-1 3 1 3 0M89.5 1232.5l-2-1 1 1 1 0M118.5 1231.5l-1 0 1 0M283.5 1237.5l-1 0 1 0M250.5 1239.5l-1 0 1 0M245.5 1228.5l-5-1 1-2 6-1 1 1-2 0 0 3-1 0M79.5 1234.5l3 0-1-1 3-1 2 2 3 0 3 1 1-3 4 2 7-3 8 2-2 1 0 1 4 0 2 0-1-1 2-1 3 1 3-1 6 2 1-1 0-1 2-1 1 0 1 2 4-3 6 1-2-1 1-1 3 0 3 2 5-3 5 2 8-2 4 3 2-1 5 1 2-1 7 1 4 2 4-2 8 0 1-2 4 1 5 0 2-2 5 2 7 0-1 1 4 3 2-2 4 1 1 6 3 0 2 2-1 1 1 0 2 0 5-1 6 2 3-2-4-2 1-1-1-1-4-1-2 1-4 0-3-2 2 0 2 1 1-2 13-2 7 2 0 3 2 1 3-1 5-1 7 1 10-1 2 1 1-2 4-2 2 2-1 1 1 1 4-1 0-1 1-1 1 1 0 1 4-1 6 1-2 2 4 1 2-2 14-1 2 1 2-2 2 1 3-2 8-3 11-2 2 1-2 1 1 0 2 0 0-1 6 0 11 0 2-2 5 0 1-1 4 0 2-2 2 2 3 0M273.5 1234.5l-7 1-1-1 2-1-3-1-4-2-3 0-4-2 4-2 17 2 6 2 0 2 2 1-7 0-2 1M323.5 1231.5l-2-2-5 2-3 0 0-1 2-1 2 1 2-2 2 1 3-3 7 2-8 3M156.5 1228.5l-1 0 1 0M169.5 1228.5l-1 0 1 0M249.5 1228.5l-3 0 3 0M259.5 1228.5l-2 0 2 0M240.5 1229.5l-1 0 1 0M309.5 1230.5l-1 0 1-1 0 1M99.5 1231.5l-2 0 0-1 3 1-1 0M128.5 1230.5l-1 0 0-1 2 1-1 0M161.5 1231.5l-2-1 2-1 1 1-1 1M184.5 1232.5l-1 0 0-2 2-1 1 1-2 2M115.5 1233.5l-2 0-1-2 3 0 1 1-1 1M179.5 1231.5l-1 0 1-1 0 1M198.5 1231.5l-1 0 1 0M336.5 1232.5l-4-1-2 1-1-1 3-1 5 2-1 0M207.5 1234.5l0-2-1 2 1 0M222.5 1233.5l-2 0 2 0M403.5 1233.5l-1 1 1 0M185.5 1234.5l-2 0 1 1 1-1M106.5 1235.5l-2 0 1 1 1-1M198.5 1235.5l-1-1-1 1 2 0M232.5 1237.5l-1 0 1 0M288.5 1238.5l1-1-1 1M347.5 1237.5l-1 0 1 0M263.5 1238.5l-1 0 1 0M399.5 1239.5l2-1-1 0-1 1M231.5 1239.5l-1 0 1 0M299.5 1241.5l4-2-1-1-2 2-2-1-2 1 1 1 2 0M241.5 1240.5l-1 0 1 0M297.5 1244.5l-1-1-5-1 2 2 4 0M311.5 1244.5l-1 0 1 0M364.5 1247.5l-3-2-1 1 2 2 2-1M271.5 1232.5l-8-1-1-3 3-1 1 2 7-1 4 2 0 1-1 1-3-1-2 1M79.5 1239.5l2-1-1-1 1-1 2 1 1 1 2 0 1 2 1 0 3-2-1-1 4 0 4-2 1 1-3 1 5 1 2-1 3 1 7-1 6 0 2-1 3-1 2 1 0 1 2 0 4 0 1-1 4 1 2-2 5 2 1 1 3-1 1-3 1 0-1 1 3 0 2 2 3-2 2 1 3-1 4 0 3 1 1 0-1-3 4 0 4 1 1 3 1 1 0-2 2-1 3 2 7 0 3 1 2 0-1-1 2 0 2-1 1 1-1 1 2 0 2 0-1-1 4-2 5 1 2-1 2 0-1-1 1 0 3 1 4-1 3 2 0 2 4 2-1 1 7 0 7 5 3-1 7 0 7-2 4 2 2 3 5 0 1 0 0-1-4-2-2-2-2 0 2 0 2-2 1 1-1 1 4 0-1-2 6-2 3 1 2-1 3 2 2-1 0 1-2 0 2 2-3 2 3-1 1 2 3-2 3 2 4-1 2 1 5-1 7 1 2-1 1-1 3 1 4-2 3 1 3-2 3 1 1-1-1-1 2-2 5 0 9 0 14-7 9 2 2-1 2 1 7-1 3 0 4-2 5 0 5-1 4 1-4 0-2 4-1-1-1 1 2 0 1 2-3 2 0 1 2 1 1-1 3 1 4 0M156.5 1232.5l-2 0 1-1 1 1M166.5 1234.5l-1-1 1 0 0 1M370.5 1234.5l-1-1 1-1 1 1-1 1M138.5 1236.5l-2-1 3 0-1 1M396.5 1235.5l0-1 0 1M400.5 1235.5l-1 0 2 0-1 0M132.5 1236.5l-2 0 3 0-1 0M194.5 1236.5l0-1 0 1M260.5 1238.5l-7-2 5 0 2 2M208.5 1238.5l-2-1-1 1 2 1 1-1M225.5 1238.5l-2 0 2 0M314.5 1244.5l-2-2-5 2-2-1 2-1-1-1 1-2 1 0 2 1 3-2 0 3 1 0 2-1 2 1-3 1-1 2M234.5 1240.5l-1 1 0-1 1 0M302.5 1243.5l-1 0-2-1 3-1 1 1-1 1M362.5 1249.5l7-1 2-2 2 0 0-2-4 0-1-1-5-1-4 0-3 2 1 1-3 2-5 1 2 2 6-2 4 1 1 0M277.5 1245.5l0-1-1-1-2 1 0 1 3 0M366.5 1246.5l-1 0 1 0M275.5 1230.5l-3 0 3 0M79.5 1242.5l1 1 5 0 3-2 7 2 1 0-2-1 1-1 3-1 5 1 7-1 3 2 3-1 4 1 5-2 3 0 4-1 4 0 3-1 5 2 4-1 3 2 3-2 0 1-2 1 2 1 5-3 1 2 3 1 2-1-2-2 3-1 2 1 2 2 3 0 0-2 2-1 0-3 1 1 0 3 1 1 3-1 7 2 5-1 5 3 3 0 0-1 1 0 7-1 3 2 3-2 1-1-2-1 3-1 6 2 7 5 6 1-1 1 1 0 5 0 3 2 3-1 2-1 5 0 3 2 5 0 6 1 4-1 3 0 1-2 2-1 2 1 5 0 1 1 11-2 2 1 3 0 3 0 4-1 5 1 3-1 8-1 3-1 3 1 3-1 3 2 4-1 0-1-2 1-1-2-2 0-1 0 0-2 5 1 3-2 5 0 6-2 1-1 6-2 4 2 12-3 6 2 4-2 1 0 1 2 6 7-2 2-10 0 0 1 8 0 4 2 3-1-1-1 1-1 5-1 1-1M363.5 1239.5l1-1-3-2-2 1 3 0 1 2M211.5 1239.5l-1 0 1-1 0 1M371.5 1239.5l-1-2-4 1 2 1 3 0M120.5 1240.5l-3 0 3-1 1 1-1 0M277.5 1241.5l-1 0 0-1 1 1M347.5 1251.5l1-1 7 1 3-1 2 1 3-1 7-1 2 1 1-2 7-3-5-2-2-2-2 1-7-1-10 1 2 1-2 1-10 5 1 2 2 0M221.5 1243.5l-1 0 1 0M108.5 1245.5l0-1 0 1M334.5 1244.5l-1 0 1-1 0 1M307.5 1248.5l-1 0 1 0M341.5 1249.5l1-1-1-1-2 1 1 1 1 0M268.5 1249.5l-2 0 2 0M279.5 1249.5l-1 0 1 0M394.5 1251.5l-4-2-1 1 4 2 1-1M268.5 1256.5l4-1-1-1 2-1-1-1-3-1-2 1 4 1-5 1 1 2 1 0M283.5 1257.5l-4-1 2-2 3 3 1-1 0-2-2-1-6 1 0 1-1-1-2 1 1 2 2-1 2 1 4 0M294.5 1253.5l-1-1-1 1 2 0M393.5 1253.5l0-1-1 1 1 0M273.5 1259.5l1-1-3 0 2 1M377.5 1236.5l-1 0 1 0M373.5 1237.5l-1 0 1 0M387.5 1244.5l-9-2-1-1 2-1-1-1 1-2 10 3 2 2-4 1 0 1M385.5 1239.5l0-2 0 2M357.5 1240.5l-1 0 1 0M350.5 1243.5l-2 0 0-2 4 1-2 1M110.5 1242.5l-1 0 1 0M79.5 1247.5l2-1 3 1-2 1 1 1 4-2-1-1 1-1 4 1-2-1 6-1 1 1-1 2 1 0 2-1 0-2 6 0 0 1-1 1 2 0 3 1 3-2 0-2 3 0 2 2-1 1 1 0 3-2 4 0 3-2 1 1-2 1 3 1 2 0 0-3 1 0 2 3 5 1 3-2 7 0 2-2 4 3 6 0 9-2 1 2 2 0 5-1 1-1 2 0 2-1 5 1-1 1 10 1 3 1 1 2 3 0 3-2 2 0 1 1 1 0 0-1 2-1 0-1 5-1 4 5 6 1 5-1 3 2 11 1 3-2 10 2-2 1-3 0-1 3 4 1 10 1-2 2 10 1 9-2 3-2 8-1 2 1 3-1 13 1 2-1-1-2-8-2-3 1-1-1 2-2 3 0 3-1 3 0 3-1 10-1 4 1 0 2 5 1 5 0 5 2 3 2 9-2 2 1-1 1 2 0 3-1 3-2 6 1 3-3 1 1 2 0 1-3 1-1 6 2 1 1 0 1-1 0-2 0-4 1-1 1 3-1 1 1-2 2 2 2 6-1 2-1 6 1 2-3 3-2-2-2 1-1-1-1 3-1M347.5 1245.5l-3 0-2-2 2-2 1 1 0 2 3 0-1 1M137.5 1244.5l-2 0 2-1 0 1M224.5 1247.5l-2-1 3-2 1 1 1 1-3 1M195.5 1247.5l-2 0 2 0M230.5 1247.5l-1 0 1-1 0 1M79.5 1248.5l1 0-1-1M110.5 1248.5l-1 0 1 0M89.5 1249.5l-1 0 1 0M298.5 1252.5l-5-2-5 2-5-2 2-1 5 0 1-1 3 1 7 1-2 0-1 2M280.5 1251.5l-2 0 0-1 4 0-2 1M377.5 1252.5l-1 0 1 0M262.5 1253.5l-2 0 2-1 0 1M322.5 1254.5l-2-1-4 1 6 0M403.5 1253.5l-2 0 2 0M386.5 1241.5l-2 0 2 0M182.5 1246.5l-1 1-1-1 3-2-1 2M158.5 1246.5l-1 0 1 0M189.5 1247.5l-2 1-1-1 1-1 2 1M143.5 1249.5l-1 1-2-1 5-2 2 1-4 1M161.5 1248.5l0-2 1 1-1 1M79.5 1253.5l3 2 2-2 5-1 1-2 5 4 1-1 0-2 3 1 2-2 4 1 7-2 3 2 1-2 4-1 3 1 2-1 4 2-2 1 2 2 3 0 4-1 2 2 1-2 7-1 1-3 3 1 1-1 3 2 2-1 4 1 7-1 1-2 2 0 3 0 2-1 1 2 2 0 1 0-1-1 2-1 0 1 5 1 0 1-1 1 2 1 0 2 2 0 2-2 3 0 1-1 3-1 2 1 4 0-1 1 3 2 3-1 1 1 3-1 2 1 3-2 4 2 7-2 0 1-1 1 1 0 3-1 4 1 14-2 2 1-1 2 1 2 3 1-1 1-1 0 0 1 2 0 2-1 3 1 20 2 4-2 9-2 6 0 2-1 2 1 11 0 3 1 4 0 1-1 2 1 6-1 2 1 5-1-3-2-3 2-4-1-1-1 3-1-2-1 2-2 9 2 2-2 1 1 1 2 3-1 6 3 2-1 8 0 6-2 4 1 0-1 2-1 11 5 9 0 2-1 3 1 6-1M213.5 1247.5l-1 0 2 0-1 0M321.5 1252.5l-1-1-3 1-3-2 0-1 4-1 4 0-2 2 2 2-1 0M193.5 1249.5l-1 0 1 0M211.5 1249.5l-2 0 2-1 1 1-1 0M222.5 1250.5l-1 0 1-1 0 1M312.5 1251.5l-3-1 2-1 2 1-1 1M161.5 1251.5l-1-1-1 1 2 0M183.5 1252.5l-3-2-1 1 0 1 4 0M196.5 1251.5l-1-1-1 1 2 0M79.5 1252.5l2 0-1 1-1-1M125.5 1252.5l-2 0 2 0M172.5 1254.5l-1 0 1 0M225.5 1254.5l-1-1-2 1 1 1 2-1M137.5 1255.5l-2-1-1 1 3 0M229.5 1255.5l-1 0 1 0M339.5 1256.5l-1 0 1 0M258.5 1260.5l-1-1-1 1 2 0M107.5 1254.5l-1 0 2-2 2 1-3 1M79.5 1257.5l4 0 6 1 3-1 5 0 4-2-3-1 5-1 2 1-2 4 1 0 4-1-1-2 7-1 0 2-3 1 0 2 5-1 2 1 2 0 0-1-3-1 2-1 5 2 3-1 4 1 4-1 3 2 0-2 2 1 3-1 5-1 1 2 2 0 2-2-4 0-1-1 0-2-1-1 3 0 0 1 3 1 0 2 2 0 9-2 0 1-1 1 1 0 6 1 6-2 1 1-2 3 1 0 6-4 2 3 1-1 3 0 2-1 3 0 1 0-2-1 3-1 6 2 4-1 4 2 7-3 3 2 6 0-1 1 4 2 6-5 2 0-2 1 2 0 5-2 6 1 3 3-5 2 2 1 3 1 3-1 3 1 4-1 18 2 4-1 1-1 3 0 6-2 3 1 9-1 2 1-3 1 1 1 2-2 3 2 2-2 2 2 5-2 5 1-3 2 1 0 2-2 13 0 6-2 0-3 2 1 1 1 6 0 2-1 3 2 2-2 9-2 9 1 2 2 5 1 11 0 2 2 7 1M118.5 1256.5l-2-1 3 0-1 1M169.5 1255.5l-1 0 1 0M184.5 1255.5l-2 0 2 0M209.5 1256.5l-1 0 1 0M245.5 1257.5l0-1-2 1 2 0M244.5 1262.5l-4-5-2 2-5-1-1 1 2 0 2 2 4 0 1 1 3 0M98.5 1259.5l-2 0 2 0M108.5 1259.5l-1 0 1 0M231.5 1259.5l-2 0 2 0M212.5 1260.5l-1 0 1 0M299.5 1260.5l-1 0 1 0M364.5 1261.5l-1 0 1 0M337.5 1264.5l-1-1-3-1-1 1 5 1M347.5 1263.5l-5-2-2 1 3 0 1 1 3 0M313.5 1264.5l-1-2-1 2 2 0M318.5 1263.5l-2 0 2 0M311.5 1266.5l-1-1-1 1 2 0M241.5 1256.5l1 0-1 0M79.5 1262.5l2-1 5 1 1-2 2 1-3 1 2 1 2 0 3-2 5 1 3-2 2 2 3-1 4 2 6-1 0-1 2 0 1 1 4-2 2 0 3-1 1 3 3 0 1 0-2-2 2-1 2 1 4 1 4 3 3-2 2 1 6 0 1-2 3-1 5 1-1-1 2-2 2 1 0 1-3 1 2 1 1-2 7 1 2 1 4-1 2 1 3-1 4 2 0 1 1-1 3 1 3-1 2 0 5 0 2 1 2-1 3 1 1 0-1-2 5 1 3-3 2 1 1 1-2 1 1 1 4-1 2 1 5-2 3 0 7 3 8-3 10 0 9 0 3 2 3 0 2-2 3 2 5-1 2-1 3 1 1-2 2-1 5 1 2 1 0 1 3-1 7 5 3 0 4-1 2 0 4-2 6 3 4-1 2 1 7-1 7 0 1-2 3 0 3-2 10 1 4-1 2 1 3 0 1-1-1-2-2 1-1-1-2 1-3-2-4 0-2-1 4-2 6 0 17 3 0 1-1 2 3-1 6 2 5 0 2-1 2 0M196.5 1260.5l-2 0 3-2 1-1 2 1 0 1-4 1M150.5 1261.5l-1 0 0-1 2-1 1 1-2 1M156.5 1259.5l1 0-1 0M93.5 1260.5l-2 0 2 0M112.5 1260.5l-1 1-1-1 2 0M144.5 1260.5l-2 0 3 0-1 0M191.5 1260.5l1 0-1 0M224.5 1261.5l-1 0 1 0M230.5 1262.5l0-1 0 1M159.5 1262.5l-2 0 1 0 1 0M222.5 1262.5l-1 0 1 0M295.5 1262.5l-1 0 1 0M102.5 1263.5l-1 0 1 0M294.5 1268.5l1-2-1-2-4 0-1 3 5 1M219.5 1265.5l-1-1 0 1 1 0M369.5 1258.5l-1 0 1-1 0 1M373.5 1259.5l-1 0 0-1 2 1-1 0M376.5 1260.5l-2-1 2-1 1 1-1 1M384.5 1260.5l-1 1 0-1 1 0M79.5 1264.5l1 0 1-2 1 0 1 1-1 1 1 0 9 0-2 2 6 0 4 0 0 1 10 1 3-2-1-2 1 0 1 0-1 1 2 0 5-1 6 2 2-1 0-1 2 0 1 0-1 1 2 0 2 0 1-2 9 2 4-1 6 1 4 2 2-2 7 1 3-2 4 1 1 0-1-1 1 0 4 2 1-1 0-1 1 0 4 2 5 0 3 0 3-1 6 2 2-1 2 1 3-1 10 4 1-1-3-2 3 0 2 2 2-2 5 1 6-2 3 2 4 0 0-2 2 0 5-3 3 1 9-1 6 1 0 1 2 1 2-1 3 1 1-1 5 0 3 2 3 0 3 2 2 0 2 1 5 0 1-2 4-2 1 1-2 3 8 2 12 0 1-1 0-1-2 1-4-3 2-1 1 1-1-1 2-1 3 2 5 0 3 2 2-1 2 2-5 1 4 0 1-1 3 1-3-3 1-1 4 0 3-1 4 0 2 1 2-1 6 2 3 0 2 1 1 0-4-2-4-1-2-1 3-3 8 1 5 2 2-2 5 1 2-2 3 1 1-1 4 0 12 2 4-1M169.5 1264.5l0-1 1 1-1 0M185.5 1264.5l-1 0 1 0M79.5 1267.5l1-1-1 0M148.5 1266.5l-1 0 1 0M227.5 1271.5l1-1-1-1-2 2 2 0M262.5 1273.5l-3-1-1 1 4 0M344.5 1273.5l-1 0 1 0M368.5 1275.5l-1-3-4 0-2 2 2 1 2-1 2 1 1 0M79.5 1269.5l3 1-1-2 1-1 5 0 2 1 3-1 3 1 5 2 5-1 3 1 5-2 3 0 1 3 3 1 1-2-2-1 1-1 2 0 3-1 2 1 4 0 1-1 5 0 4-2 1 1-2 3 1 0 5-1 11 2 5-2 3 1 1-1 7 0 4-1 14 2 5 2 8-1 2 2 1-1 9 1 1-2 2 1 2 2 4 1 8-3 2 1 6-3 2 0 1 3 9 2 4 1 11-1 1-1 0-1-6 0-2-2-6 1-5-1-1-1-3-1 0-1 2-2 11 0 7 2 5-1 10 1 4 7 9-2 13 1 4 1 9 0 0 2-3 0 2 2 0 1-3-1 0 1 1 0 4-1 1-1-2-1 2-1-1-1 4-1 2 1-4 0-1 1 5 0 3-2 2 1 0 2 2 1 2-2 4 0 2-1 4 0 10-3 2 0-1 2-2 1 0 1 3-1 4 3 16-4-2-1-3 0-2-2-5 0 6-4 3 0 14-2 3 1 4 0 4 2 3 0M194.5 1268.5l-1 0 1 0M270.5 1269.5l-1-2 0 1 1 1M125.5 1269.5l-1 0 1 0M387.5 1272.5l3-1-2-1-10-1 1 1 0 1 2 1 4 0 2 1 0-1M177.5 1271.5l0-1-1 0 0 1 1 0M349.5 1273.5l-1-1 1-2 1 2-1 1M287.5 1273.5l-1-1 1 0 1 1-1 0M374.5 1273.5l-1 0 0-1 1 1M290.5 1276.5l-1-2-1 1 0 1 2 0M219.5 1276.5l-1 0 1 0M336.5 1280.5l1-1-1-1-3 1 1 1 2 0M395.5 1266.5l-1 1-1-1 2 0M249.5 1267.5l-1 0 1 0M386.5 1268.5l-2 0-1-1 2-1 1 1 0 1M273.5 1268.5l-2 0 2 0M374.5 1268.5l-3 0 4 0-1 0M390.5 1268.5l-2 0 2 0M79.5 1271.5l2 1 1 1 2-2 5-1 2 2 2-1 2 2 1-2 8 3 4 2 4-1 2 2 2-1-3-1 1 0 7 0 3-1 3 0-1-3 4 2 1-1 1 1-1 2 1 0 2-1-2-1 1-1 4-2 1 1-1 1 1 1 1 0 5 0 1-2 2 0 2 2 4 0 3 1 4-1 0-1 1-1 4 0 2 1-1 2 2 0 1 0-2-1 3-2 2 2 1-1 3 1 3-2 2 1 0-2 2-1 7 4 0 1-1 0-3-2-2 2 3 1 9 1 1-3 1 1 1 2 8-1 2 1 2-2 2 0 1 2 3 1 0 2 2 0-1-1 3 0-1-1 1-1 3 0 2 2-1 2 3-1 4 1 5-2 1-2-2-1 3-2 2 2 1-1 4 0 3 1 5 0 2 1 6 1 3-1 4 0 2-1 0-1 2 0 1 1 7 1 5 0 1 0-2 1 1 1 3 0 3 1 4-1 3 1-1-1 1-1-3-1-2-2 3 0 5-1 2 1 6 1 0 1-3 1 0 1 2 2 18 0 3 1 2-1 9 0 4-2 7-1 11 2 9-3 3 0 2-2 6 1 9-3 2 1 1-2 2-3 6 0M255.5 1270.5l-1-1 1 0 0 1M258.5 1269.5l-1 0 1 0M275.5 1270.5l-1 0 1 0M276.5 1271.5l-1 0 1 0M132.5 1273.5l-1-1 1 0 0 1M197.5 1272.5l1 0-1 0M240.5 1272.5l-1 1 0-1 1-1 0 1M112.5 1273.5l-1 0 1 0M163.5 1273.5l-1 0 1 0M282.5 1273.5l-1 0 1 0M278.5 1274.5l-1 0 0-1 1 0 0 1M175.5 1275.5l-2 0 2 0M184.5 1276.5l-1 0 1 0M225.5 1276.5l-1 0 1 0M304.5 1277.5l-1 0 1 0M337.5 1277.5l1 0-1 0M345.5 1277.5l0-1 1 1-1 0M186.5 1278.5l-1-1-1 1 2 0M384.5 1280.5l1-2-3 0 1 2 1 0M298.5 1283.5l0-1-1-1 1 2M303.5 1282.5l-3 0 3 0M307.5 1283.5l0 1 0-1M308.5 1287.5l-1-1-2-1 1 2 2 0M312.5 1286.5l-2-1-1 1 2 0 1 0M319.5 1287.5l-2-1-1 1 3 0M401.5 1271.5l-2 0 3 0-1 0M403.5 1271.5l-1 0 1-1M79.5 1276.5l2 1 4 1-1 1 1 1 3-1 1-1 4-2 1-2 6 2 0 1 2 1 2-1 2 2 8 1 6-4 7 4 2-2 1 0 1 2 3-1-2-2 2-1 2 1 2-1 1 3 2-1-1-1 2-3 2 1 0 2 2-2 3 2 2-1 7 1 0-2 2-1 5 1-3 1 2 0 6-1 2 1-1 1 4 1 4 0 4 2 4 0 2-2 2 1 5 1 6-1 1 1 1 0-1-1 2-1-1-1 2 0 5 1-4 1 2 1 7 0 7 2 4-1 7 0 2-2 7-2 0-1 2-1 1 1 3 1 2 2-2 1 3 0 3-2 3 0 2 1 3-2 2 2 4-2 3 1 2-1 5 0 9 3-2 1 0 1 3 2 1 1 3 0 2 0 5 0 2 0 2 3 6 1 8-1 5-3 1-1-3 1-2-1-6 0 0-2 2-1 17 1 21-3 7 1 9 0 1-2 6 0 2 1 1 2 1-1 4 1 7-1-1-4 1-1 8 0 2-2 2 2M88.5 1275.5l-2 0 1-1 2 1-1 0M154.5 1275.5l-1 0 1 0M387.5 1275.5l-1 0 1 0M182.5 1278.5l-2 0 2-1 0 1M161.5 1280.5l-1-1 0 1 1 0M240.5 1280.5l-1 0 1 0M397.5 1284.5l-2-2-1 2 1 1 2-1M403.5 1281.5l-1 0 0-2-6 0-2-2 5-1 4 0M168.5 1278.5l-1-1 1 0 0 1M93.5 1278.5l-1 0 2 0-1 0M247.5 1278.5l-1 1-1-1 2 0M79.5 1284.5l3-1 2 1 1-1 3 1 1-1 1-2 1 2 2 0 1 2 4-1 4 2 1 0 0-1-9-3 7 0 6-1 3 2 7-3 2 2 5-1 3 1 3-2 4 2 4-2 3 1 5-3 1 1-1 1 5 0 1 1 4-1 2 1 6 1 2 1 4-1 1-2 3-1 3 1 5 2 3-1 6 2 6-1 2 1 5 1 1 0 0-2 4 1 3-1 3 1 4-1 4 1 8-1 5 1 4-2 3 1 3-2 6 1 6-1 3 1 2-1 3 0 13-1 4 2 1 1-2 1 5 1 0 3 1-1 6 1 3-1 3 2 0 1 9 1 10-1 2-1 7-1 5-4 3 0 2-1 3 0 7-2 7 0 4 1 2 0 0 1 3 0 3-1 2 1 1 1 7 2 4 0 0 1 4 1 3 0 2-3 5 2 3-1 2 2 3 1M164.5 1280.5l-1 0 0-1 2 0-1 1M206.5 1281.5l-1 0 1 0M143.5 1282.5l-1 0 1 0M374.5 1282.5l0-1 0 1M386.5 1284.5l-4-1 6-1-2 2M127.5 1284.5l0-2-2 1 1 1 1 0M134.5 1283.5l-2 0 1 0 1 0M150.5 1283.5l-2-1-2 1 1 1 3-1M154.5 1283.5l-2 0 2 0M163.5 1283.5l0-1-2 1 2 0M329.5 1284.5l-3 0 4-1-1 1M349.5 1286.5l2-1 3 0-2-2-4 1-2-1 2 1-1 1 1 1 1 0M178.5 1284.5l-2-1-1 1 3 0M240.5 1284.5l-1 0 1 0M171.5 1285.5l-2 0 2 0M109.5 1286.5l-1 0 1 0M269.5 1286.5l-2 0 2 0M259.5 1290.5l1-3-6 0-2 2 6 2 1-1M265.5 1287.5l-2 0 2 0M333.5 1287.5l-1 0 1 0M79.5 1288.5l2-1 3 2 4 0 2 1 4 0-1-2 4-1 2 0 2 2 3 0 2-3 3 2 3-1 4 0 6-1 6 1 3-1 4 1-1-1 2-1 5 3 1 0-1-1 1-2 2-1 2 2 1 0 2-1 5 1 0-1 1-1 3 1 1 1 2 0 0-1-3 0 4 0 2 1 3-1 3 1 4-1 6 1 1-2 3-1 5 2-1 1 1 0 4 2 2-1 3 0 2 2 2-1 2 0 5-3 6 0 3 1 3-2 6 1 5-2 2 2-2 1 4-1 5 2 2 0 2-5 13-1 2 1 1 3-10 2-3-2-1 1 0 3 5 2 9 1 1-2 1-1 3 0 7-2 4 1 4-1 3 0 1 2 4-2 1 2 3 0 3 0 3 1 15 1-1 1 2 1 4 1-1 2 3 0 6-4-3-1-3 3-4-3 3 0 7-3 2 1 3-1 3 1 3 0 5-3 8 1 13-3 11 2 3 2 5 1 15-2 5 2M278.5 1284.5l-3 0 0-1-4-1 3-2 3 1 2 1-2 1 2 1-1 0M265.5 1285.5l-2-1 1-1 2-1 3 0-4 3M339.5 1285.5l-2 0 1-1 2 0-1 1M123.5 1285.5l1 0-1 0M198.5 1286.5l-3 1 0-2 2-1 1 2M250.5 1288.5l-1 0 1-1 0 1M344.5 1289.5l0-2-2 1 0 1 1 0 1 0M112.5 1290.5l-2 0 2 0M289.5 1291.5l0-2-1 1 1 1M321.5 1295.5l-2 0 2 0M256.5 1285.5l-4 0-3-1 6-2 3 1-2 2M79.5 1291.5l2 0 1-2 3 2-1 1 1 0 8 1 4 0 4-3 5 0 4 1 6 1-1-1 1-1 4 0 3-1 8 1 3-1 2 2 4 1 2-2 3 2 1-1 0-1 4 0-1-3 1 0 0 1 3 1 2 0 2-2 1 1 2 0 3 2 2-1 2 1 4-3 1 1-1 1 1 1 3 1 3-1 5 1 4-1-1-1 3-1 3 1 4 0 6 1 5-1 2 0 13-2-1 2 1 0 4 0 3-2 4 1 2-1 10 2 2 3 7 2 3-1 10 0 1-2 3-1 6 0 2 1 0 2 4-1 7 2 6-4 4 1 5 0 4 2 3 0-1 2 1 1 2-1 7 2 6-1 0-1 3-1-1-3 2-1 4 1 11-1 10 1 11-2 1 0-1-1 5-1 4 1 1 2 7 1 1 2 5 2 4 0 3-1 2 1 1 0-1-1 4-2M282.5 1290.5l-3 0 0-1 3 1M346.5 1289.5l0-1 1 1-1 0M350.5 1289.5l-1 0 1 0M360.5 1289.5l0-1 0 1M400.5 1292.5l-6-1 0-2 3 1 1-2 4 2-2 2M104.5 1292.5l-2 0 2 0M79.5 1295.5l4-2 4 2 4 0 2 1 3-2 4 1 2-1 4 0 2-2 6 1 5 0 1 1 4 1 3-2-2-2 2-1 1 2-1 1 3 2 2-1 7 0 2-1 3 1 3-1 3 0 1-1 2 1 4-2 4 3 2-2 3 2 2-2 8 1 3-2 10 1 4-1 2 1 5-1 5 1 4 0 2-2 2 1 6-1 2 1 5-1 2 2 5-1 6-2 4 1 2 1 0 2 2 0 3 1 13 1 3-1 2 1 4 0 2-1-3-2 5-1 1 1-1 1 2 1 14 1 7-3 2 2-3 2 1 1 4-1 2 1 4 0 5 1 3-1 8 1 3-1 1-1 4 0 1-1-1-1 4-2 8-1 10 1 17-3 7 2 4 2 1 1 3 1 3 2 13 0M124.5 1293.5l-4 0-1 0 3-1 3 1-1 0M306.5 1294.5l-4-1 1-1 2 0 1 2M158.5 1294.5l-2 0 2 0M309.5 1294.5l-1 0 1 0M341.5 1298.5l-1-1-2 0 2 2 1-1M362.5 1298.5l-2 0 2 0M79.5 1297.5l4 0 4 1 1-1 2-1 1 1-2 1 2 0 5-1 1-2 4 1 6-1 3 1 5 1 6-1 2 2 3-2 9 1 7-2 5 1 4-1 2 1 6 0 4-1 0 1 4 0 4-1 0-1 1 1 7-1 4 1 8 0 1-2 8-1 6 2 3-1 6 2 3-2 7-1 25 3 21 1 6-1 6 1 9 0 6 2 11 0 17 2 5-3 4 3 6 0 8-2 8 1 6 0 2 0 1 0-5-3-5-1-2 1-5-2 3-1 3 2 2-2 5 0 10-3 6 2 3 3 8 3-1 1 1 0 4-1 7 2 3-1M243.5 1292.5l-1 0 1 0M347.5 1294.5l-3 0 1-1 4 0-2 1M188.5 1294.5l-1 0 2 0-1 0M168.5 1295.5l1 0-1 0M383.5 1298.5l-1 0 1 0M79.5 1299.5l3 0 1-1 8 1 5-1 8 2 4-2 2 0 2 2 6-2 3 1 8 0 3-1 2 1 3-1 5 0 2 1 3-1 3 1 2-2 5 1 2-1 3 1 3-1 8 0 3-1 5 2 9-2 3 1 2-2 8 3 2-2 2 0 19 1 2-2 4 2 2-2 0 1 4 0 1-1 1 2 1 0 4-1 13 1-1 0 0 2 5 2 6-3 9-2 3 1 7 0 2 1-3 1 3 1 7 1 7-2 9 0 7 2 13-1 0 1 2 0 6 0 6-1 8-1 10 2 5-1 2 1 1-1 0-3-5-1 1-4 2-1 5 2 0 1 1-1 2 1 1 2-1 1-5 2 1 0 5-1 1 2 3 0 2 0 7 0 3 1 8-1M361.5 1295.5l-1 0 1 0M104.5 1298.5l-1 0 1-1 0 1M292.5 1299.5l-3-1 3-1 1 1-1 1M79.5 1300.5l19 0 6 2 3-1 4 1 2-2 6 1 4-1 19 1 9-1 2 1 3-2 3 1 6-1 3 1 2-2 1 1 1 2 4-2 5 1 3-2 11 2 2-2 5 2 4-2 3 1 3-1 15 2 4-2 3 1 6 0 6-2 4 1 1 2 11 1 16-4 2 1 2 0 4 3 7 1 7 0 5-2 8 0 8 2 8-1 3 1 5 0 2 1 8-3 8 0 10 2 8-1 4 2 2 0 1-1 3 0 2-1 8 1 10-1M254.5 1299.5l-1-1 1-1 1 1-1 1M159.5 1299.5l-1 0 1 0" stroke="#000080"/>
<path d="M79.5 1303.5l2-2 2 1 2-1 6 2 3-1 4 2 3-1 3 1 3-1 2 1 12-1 7 1 1-1-2-1 4 0 3 2 8-1 1 0-2 1 1 0 2 0-1-1 1 0 5 0 9-1 6 1 4-1 6 1 8-2 3 1 3-2 6 1 3-1 3 1 4 0 1 1 7-1 1-1 8 1 10 0 1 0-1-1 5 0 9-2 2 2 5 1 12 1 9-2 1-1 4 0 5 2 6 1 1 2-1 2-2-2-3 1 3 0 1 1-1 0-7 0-3 1 5 1 8 0 2 1 1 0 4-6 2 0 1 0 6-1 7-1 8 2 6 0 12 1 5-1 3-2 4 0 4 0 4 2 3-1 2 2 5-1 9 2 8-3 7 1 2-1 8 0M79.5 1305.5l4-1 3 1 6-1 12 2 7-1 4 1 6-2 9 2 2-2 5 0 4 2 14-3 2 1 1 1 3 0 15-2 2 1 3-2 6 2 1 0-1-1 2-1 5 1 5-1 2 1 16-1 1 1 4 0 1 1 1 0-2-1 2-1 13-1 2-1 2 1 2 2 5 0 6-1 10 1 9-2 2 1-3 1 4 2-2 2 1 1 4 1 8 0 5 1 3-1 7 0 1 0-1-2 3-2 8-3 4 1 3 2 2 0-1 1 0 2 4 2 9-2 2 1 9-1 5 0 5-1 4-3 1 0 4 1 3 0-1 2 7 1 0-1 2-1 5 0 4-1 6 0 5-2 8 0M278.5 1305.5l-1 0 0-2-2-2 2 0 1 1-1 1 4 1-3 1M348.5 1304.5l-1-1 4-1-3 2M218.5 1305.5l1-2-3 1 2 1M328.5 1306.5l-2 0 2-1 1 1-1 0M335.5 1307.5l-2 0 0-2 1 0 1 2M368.5 1309.5l-1 0 1 0M79.5 1306.5l2 0 3 2 2-2 2 0 12 2 9-2 7 1 3-1 6 3 3-1 3-1 2 1 1-1 4 1 4-1 5 0 6-2 18 2 4-2 8 1 6-1 2-1 2 1 2-1 4 0 2 1 2 2 2-1-1-1 1-1 4 2 3-1 2 2 5 0 4-2 3 1 2-2 3 0 1-1 2-1 2 1-1 1 3 0 1 1-5 2 0 1-4 2 7 1 4-2 3 0 0-1-2 0-2-2 4 1 6-2 6 0 5-2 1 3 3-1 5 3 5 2 24 1 3 1 2-1 4 1 3-2-1-2-4-1 5-1 1-2 2 2 3-1 0 3 3 1 1 2 3 1 3-1 1 2 2 0-1-1 2-2 3 1 13-1 0 2 3 1-1 1 6 1 8-3 7 1 1 1 4-1 1-1-2-2 3-2 4 0 5-2 5 1 3-2 3 0 3-1 3 2M190.5 1305.5l0-1 1 0-1 1M204.5 1304.5l-1 0 1 0M84.5 1306.5l-1 0 1 0M228.5 1307.5l-1 0 1 0M313.5 1307.5l-1 0 1 0M360.5 1307.5l-2 0 2-1 1 1-1 0M114.5 1309.5l-1 0 1 0M122.5 1309.5l-1 0 1 0M354.5 1309.5l-1 0 1 0M364.5 1310.5l-6 0 6 0M371.5 1310.5l-2 0 2-1 0 1M395.5 1312.5l0-1-2-1-1 0 0 1-3 1 4 1 2-1M403.5 1310.5l-1 0 1 0M255.5 1311.5l-3 0 3 0M403.5 1313.5l-6-2 0 1 6 1M352.5 1312.5l-2 0 2 0M376.5 1315.5l-1 0 1 0M79.5 1308.5l6 3-2 1 8 1 6-1 2-3 3 2 0-1 2-1 1 1-1 1 4 1 7-2 2 1 2 0-1-1 1 0 3 1 8-1 5 1 2-2 4 1 4-1 4 1 5-3 5 1 2-1 8 1 6 1 6-2 2 1 9 0 0 2 2 0 3-1 2-1 3 2 2-1 4-1 8 3 3-1 4 1 4 2 2-1 3 1 2 0 7-1 5-1 9 3-1 1 1 0 4-2 5 0-1-1-6 0-1 0 2-2 0-2-3-1 4-1 5 2 2 0 1 1 6 1 2 2-3 2 2 0 6 0 2-2 5-1 5 2 0 1 3 0 1 1 8-1 8-2 2 1 11 0 4 2 2-2 3 1 2-2 8 1 2 1 6 2 15-1 2 1 4 0 4 1 1-1 8-2 3 0 7-1 2 1 5 0M252.5 1310.5l-2 1-2-1 2-3 2 1 0 2M389.5 1310.5l-2-1 1-1 2 0-1 2M403.5 1308.5l0-1M79.5 1311.5l1 1 2 0-3-3M90.5 1310.5l-2 0 2 0M117.5 1310.5l-1 0 1 0M383.5 1310.5l-2 0 2 0M277.5 1312.5l-1 0 1-1 0 1M338.5 1319.5l-2-1-1 1 3 0M342.5 1320.5l-1 0 1 0M79.5 1315.5l1-1 5 1 3-1 5 0 3-1 6 2-2-1 4-2 3 1 1 1 1 0 1-1 3-1 3 2 3-2 5 0 1 2 2-2 3-1 7 1 5 0 2 1 3 0 3-2 6 1 2-1-5-1 4-1 7 1-4 1 3 1 2-1 2 1 3-1-1-1 1-1 3 1-1 1 1 0 3-1 1 3 3-2 0-1 4 1 7 1 1 1-1 1 1 0 11 0 3-3 3 1-3 0 0 2 3-1 3-1 3 1 4 0 6 2 7 0 2-1 3 1 2-2 3 1 3-1 8 4 6 0 1-1 4-1 3 2 1-2 8 3 3-1 1 2 2 0 0-2 1-4 10 3 1 1 4-1 3 1 1 0 0-1 12-2 11 1 7 4 13 3 1 0 1-3-2-1 5-2 5 1 7-1 6 1 2 1 2-1 1 3 2 0 8-4 2 0 3-1 8-1 7 1M260.5 1309.5l-1 0 2 0-1 0M269.5 1312.5l-1-1 1 0 0 1M126.5 1312.5l-1 0 2 0-1 0M160.5 1312.5l-1 0 1 0M172.5 1313.5l-1-1-1 1 2 0M288.5 1312.5l-2 0 2 0M188.5 1314.5l-1 0 1 0M345.5 1318.5l-3-1 0-1 1-1 2 0 1 2-1 1M79.5 1317.5l3 0 0-1 1 0 2 2 2 0 1 0-1-2 1-1 6 1 2-2 7 3 3 0 3-2 3 1 3 0 3 1 4-3 5 2 1-2 1-1 2 1-2 1 1 0 4 1 1-1 3 0 1-1 2-1 3 1 2 1 2-1 4 2-1-2 3-1 1 1 0 1 1 0 4-2 1 3 1 0 5-3 17 3 2 1 1 0 0-1 1 0 10 0 1 1 2-2 4 0 2 1 7-2 8 3 15 1 3-2 5-1 5 3 4 1 8 1 3-2 7 4 6 1 7-4 3 0 2-2 5 3 2-2 2 1 5-2 2 1 12-3 8 1-2 2 3 0 1 1-2 1 2 1 8 0 1 2 3 0 7 0 1-2 3 0 4-3 8-1 1 1-1 3 1 1 2 1 3 0 3 1 2 0-2-1 1-1 8-2 5-1 2-2 8-1 3 1 1 4 1 1 2 0M403.5 1318.5l-2 0-1-1 3-1M93.5 1319.5l0-1-3 0 1 1 2 0M83.5 1320.5l0-1-1 1 1 0M332.5 1327.5l3-3-7 1-6-1-3 1 1 1 10 2 2-1M363.5 1325.5l0-1-2 1 2 0M99.5 1317.5l-1 0 2 0-1 0M79.5 1322.5l1 1 4 0 11-4 3 2 3 0-1-1 3-2 6 2 2 0 0-2 3-1 4 1 0 1 1 0 1 0 0-1 4-1 2 2 2 0-1 1 1 1 2-2 5-1 2 1 1-1 3 0 3-1 6 2 6-1 7 0 4-1 4 2 1 0 0-2 1-1 5 1 3 2 4-1 2 2 3-1 1-2 1 0 2 1-3 1 3 2 7-1 3-2 3 1 3-3 2 1-1 1 1 3 4-2 9 0 4 2 4-1 4 2 5 1 1-1 0-2 2-1 1 2 6-1 5 1 6 0 10 3 4 0 6-1 1-2 10 1 3-1 1-1 17-2 0 1 5 1-2 2 1 1-2 2 2 2 13 2 3-1 0-1 11-3 6 0 1 1 5 1 0 2 2 0 2 0 0-1 4-2 2 1 9 0 1 0 2-3 4-2 3-1 2 2 3 0-1-2 4-2 3 1-3 2 2 2 1-1 5 1M238.5 1320.5l-3 0 4-1-1 1M359.5 1321.5l-1 0-1-2 4 0-2 2M310.5 1320.5l-1 0 1 0M120.5 1322.5l-1-1-1 0 0 1 2 0M181.5 1320.5l-1 0 1 0M79.5 1324.5l3 0 2 1 4 0 2 0 7 0 7-3 9 1 4-1 3 1 7-1 2 1 7-1 3 0 2-1 6 0 3 2 1 0 0-1 3-2 4 1 2-1 3 1 6-1 3 2-1 1 4 1 2-2 2 1 3 0 1-1-1-1 0-1 3 1 6 1 1 1 4-1 10 0 2-2 2 1 2 2-1 1 2 1 3-1-3-2 4-2 4 1 2-1 3 0 0 1-2 3 1 1 4-1 1 1 2-1 11 1 0-1 3 0 3-3 14 1 2 1 0 2 5 0 4 2 5-2 4 3 1 0-1-1 1-3 2 0 0-1 4-1 5 2 8-1 1 0-1-1 1-1 1 2 1 0 2-2 4 1-1 1 1 0 2-1 1 2-1 1-1 2 7 0 5 2 3-1 3 2 4-1 4-2 4 1 0-1 3-2 2 1 2-1 2 2 2 0 4 2 9 0 2-1 2 1 6-1 6-3 3 0-2-2 1-1 3 2 6-1 9 1M174.5 1322.5l-2 0 0-1 3 0-1 1M96.5 1323.5l-1 0 1 0M161.5 1323.5l-2-1-2 1 4 0M217.5 1323.5l-1 0 1 0M285.5 1323.5l1 0-1 0M91.5 1324.5l-2 0 2 0M231.5 1324.5l-1 0 1-1 1 1-1 0M238.5 1324.5l1 0-1 0M179.5 1325.5l-1 0 1 0M287.5 1329.5l-1-1-1 1 2 0M295.5 1331.5l-1 0 1 0M292.5 1332.5l-1 0 1 0M79.5 1325.5l1 1 0 2 5 1-2-1 3-2 4 2 4-1 2 1 4 0 8-5 2 0 4 3 1-1 8 0 0-1 2-1 3 1 3 0 2-1 6 1 5 0 2 2 5-1 3 2 5-1 3 1 2-2 5 1 4-1 3 2 6-2 5 1 0-1 1-1 3 3 3-1 3 1 2-1 3 1 1 0-1-1-1-1 3-1 8 3 6-3 1 1-1 1 0 1 1 0 2-1-2-2 1-1 2 1 0 2 10 1 1 1 5-2 5 1 3-1 3-3 7-1 3 0 1 2 0 1 4 1 7 0 4 2 4 1 7 4 5 0 2 0 1 0 3-2-5-1 4-1-3-1-1-2 16-2 5 4 8 1 1 2-1 1-1 2 6 2 0-2-4-3 3 0 2-2 2 2 1 1 6 1 1 0 0-1 2-1 6-2 4 1 2-1 13 1 9 0 14-3 2-2 3 0 3-1 8 1M143.5 1326.5l-1-1-1 1 2 0M290.5 1326.5l-1 0 1 0M109.5 1327.5l-2 0 2 0M173.5 1327.5l-1 0 1 0M257.5 1330.5l1-1-4 1 3 0M335.5 1332.5l-2 0-1-1 3 0 1 1-1 0M79.5 1330.5l3 0 3 1 5-2 13 1 1 0-2-1 0-1 2-1 1 1 1 2 6 0 6-2 3 1 2-1 3 1 1-2 5-1 2 3 4 1 5-2 8 0 0 2 2 0 7-3 2 2 4-1 5 3 2-1-3-1 2-1 2 2 4 1 5-3 7 1 4-1 1 1-4 2 9-2 1 1 0 1 7-1 4 1 1 2 3 0 1 2 7 1 1-1 4 0 1-2 5 0 2-2 6 0 5-1 1 1 1 2 2-2 5 1 2-2 3-1 3 1 4-2 1 1 4 1-2 1 1 1 7-1-2 1 7 2 1 3 4 1 5-2 1 1 1 0 2-3 4-1 0-1-5-2-2-3 10-2 1 0 1 2 7 3 3 0-2 2 5 4 7 1 5-2 5 0 2-2 2 0 2 2 2 0 1-3 5 0 2-1 21 0 4-1 2 1 1 0-1-1 2-1 8 0 1 0-3-1 2-2 3 1-1 0 0 1 4 0 2 1 1 0-3-3-2 0 1 0 3 0 3 1 1 2M251.5 1327.5l-1 0 0-1 1 1M152.5 1328.5l-1 0 1 0M217.5 1328.5l-1 0 1 0M261.5 1328.5l1 0-1 0M119.5 1330.5l-1 0 1 0M130.5 1330.5l-3 0 3 0M221.5 1331.5l-1 0 1-1 1 0-1 1M227.5 1332.5l-1-1 3-2 0 2-2 1M235.5 1330.5l-1 0 1 0M380.5 1330.5l1 0-1 0M308.5 1332.5l-1 0 1 0M382.5 1335.5l0-2-2-1-1 2 3 1M260.5 1334.5l-2 0 2 0M386.5 1335.5l2-1-2-1-1 1 1 1M296.5 1336.5l-1-1 2 0-1 1M262.5 1338.5l2-2-2-1-2 2 0 1 2 0M385.5 1338.5l0-1-3 0 1 1 2 0" stroke="#0000a8"/>
<path d="M303.5 1327.5l-1 0 2 0-1 0M306.5 1331.5l-1 0-3-2 2-2 5 2 0 1-2-1-1 1 0 1M158.5 1331.5l-1-1 1 0 0 1M167.5 1330.5l-1 0 1 0M313.5 1330.5l-1 0 1 0M79.5 1332.5l2-1 2 1-3 2 0 2 1 0 2 0-1-1 2-1-1-1 7-2 1 1-5 2 4 2 1-1 0-2 3 0 2 2 4-4 3 1 3 2 3 0 3 0 2 0 3-1 6 1-1-1 7 1 1 0-2-2 2-1 3 2 10-2 1 2-1 1 2 1 2-3 5 0 3-1 2 1 1-1 0 2 4 0 3 1 3-1 8 0 3-1 2 1-2 1 4-2 6 4 5 0 2-2 5 3 2-2 2-1 5 1 3 1 1 1 5 0 9 1 4-2 4 0 1 0-1-1 0-1 3-1 10 1 4 3 5 1 0 1-2 1 0 1 2 0 6-1 5 0 1 0 0-2 3 2 2 0-2-2-3 0-2-2 1-2 3-1 6 0 3 1 2 3-1 2 6 1 11-2 1-2 2 0 3-2 8 2 3-1 3 3 7 0 3 0 2 0 1-1 5-1 4-1 3 1 3 0 10-4 9 1 3-1 4 1-1 2 2 3 7 3 2-1 5-1 3-3 4-1-2-1-1 2-2-1 0-1-2-2 1-1 5 1 1 1 4-1 1 1-2 1 1 0 1-1 0-2 3 1M113.5 1333.5l0-1 1 0-1 1M266.5 1332.5l-1 0 2 0-1 0M313.5 1332.5l-1 1 0-1 1 0M142.5 1333.5l-2 0 2 0M198.5 1333.5l-1 1-1-1 2-1 0 1M265.5 1333.5l0-1 0 1M166.5 1335.5l-1-1-1 1 2 0M252.5 1335.5l1 0-1 0M403.5 1336.5l-1 0 1 0M210.5 1337.5l-2 0 2 0M280.5 1337.5l-1 0 1 0M79.5 1337.5l13 1 1-3 4 4 5 0 0-2 4 1 3-2 3 2 8-3 2 1-3 1 9 1 3-1 2-2 8 2 1 0 0-1 1-1 3 2 11-3 4 1-2 1 0 1 2-1 3 2 1 0-1-1 2-1 1 1 6-2 2 2 3-2 3 3-1 1-3-1-1 2 5 0 0-1 5-2 7 3 2-1-1-1 1-1 6 2 3-1 2 1-1 1 2 0 7-1 2 1-4 1 0 1 3 0 3-1 3 1 6-1 4 2 4-1 3 1 2-1 7 0 2 1 2-2 8 2 4-2 5 2 2-1 11-1 5 2 3-2 6-1 2-1 5 0 3-3 2-1 4 2 5 0 0 2 3 2 6-2 4 1 6-1 7-3 7 1-1 1 2 0 0-1 2 0 0 1 2-1 1-1-1-1 3-1 6 2 5-1 1 2 3 1 2 3 3 0 2 1 13-1 3-3 1 1-2 1 2 1-2 1 1 0 3 0 1-1-1-1 1 0 1 0-1 2 4-1M275.5 1337.5l-2-2 4-1 0 2-2 1M99.5 1336.5l-1 0 1 0M241.5 1337.5l-2 0 1-2 2 1-1 1M82.5 1340.5l2-1-2-1-2 2 2 0M226.5 1340.5l0-1 1 0-1 1M248.5 1339.5l-2 0 2 0M403.5 1339.5l-1 0 1-1M223.5 1340.5l-4 0 4-1 1 1-1 0M233.5 1341.5l-1 0 0-1 2 0-1 1M79.5 1341.5l13-1 6 1 6-1 5 1 1 0 0-2 1 0 7 0 11 1 1 0 0-1 2-1 4 2 1 0 0-2 9 3 2 0 0-1 0 1 3 0 1 0-1-2 2 0 1 1-1 1 2 1 1 0-1-1 7-3 2 1 3 0 1 1-2 1 3 1 2 0 0-1 2-1 11 2 1 0-1-1 1 0 0 1 4 1 8-4 3 3 9-1 3 2 6-1 2 2 4-1 2 1 1 0 0-1 1 0 2 1 8 0 3 0 4 1 7-2 15 2 3-2 3 2 3-1 0 2 2 0 8-1 1 1 4 0 0 2 2 0 2-4-2-2 2-1 3 2 9-2 5 2 5-2 3 2 7-2 4 1 0-1 7-3 1 1-1 1 1 1 5 0 0-1-2-1 1-1 4 1 1 2 8 1 3-1 0-2 3 0-2-2 1-1 7 4 2-2 1 1 0 1-2 1 5 2 3 0 11 0 4-1 5 3 6-3M311.5 1339.5l-2 0-1-1 1-1 2 2M365.5 1340.5l-1 0 1 0M140.5 1341.5l-1 0 1 0M162.5 1341.5l-2 0 2 0M190.5 1342.5l-3 0 3-1 0 1M292.5 1342.5l0-1 1 1-1 0M92.5 1342.5l-1 0 1 0M307.5 1343.5l-1 0 1 0M291.5 1344.5l1 0-1 0M299.5 1348.5l-2-1 0 1 2 0M89.5 1342.5l-2 0 2 0M79.5 1346.5l3 0-1-1 2-1 2 1 4 0 6-3 3 1-3 1 1 2 1 0 8-2 9 1 6-1 1-2 2-1 2 1-1 1 8 0 3 1 12-1 5 3 3-2 4-1 0 1 2 0 3-2 2 2 6-1 2 2 4 0 3-1 1 1 5 1 5-2 2 1 2-1 8 1 4-2 1 2-1 1 2 0 2 0 0-1 3-1 2 1 2-1 10 2 3-1 13 1 7-1 3 2 2-2 11 1 2 0 2 0 0 1 15 1 0 1 5 2 11-3 1-1-3 0-2-1 4-2 6 1 4-1 4-1 8 2 1 0 1-1-1-1 1-1 2 1-2 2 2 0 7-4 3 2 6-1 6 2 2 0 0-1 4 0 2-1 5 0 2 1-1 2 7-1 0 2 2 1 2-2 7-1 9 1 4 1 0 2 1 1 3-2-1-1 4 1M101.5 1344.5l-2 0 2 0M124.5 1346.5l0-1-3 0 3 1M170.5 1345.5l-1 0 1 0M114.5 1348.5l-1-1-1 1 2 0M340.5 1350.5l4-1-1-1-6 2 3 0M343.5 1352.5l-1 0 1 0M344.5 1346.5l-2-1 1-1 2 1-1 1M79.5 1348.5l6 0 3-1 5 2 2-2 4 1 2-2 1 1 2-1 2 2 2-1 2 2 4 1 3-2 3 2 1-2 5-1 2 1-1 1 2 0 2-1 0-2 7 2 3-2 1 1-1 1 2 0-1-2 2 0 1 1 7 2 1-1 3 0 3-3 1 0 1 2 2 0 4-2 2 1 5 0 1 1-1 1 2 0 2-1 5 0 2 1 7-1 3 1-2 1 1 1 9-1 2-2 4 2 2-1 9 1 1-2 3-1 6 2 6-1 2 1 3-1 7 0 9 3 3-1 5 1 8-1 4 1 6 0 9 2 16-3 1-2 2 0-1-1 5-1 1 0-1 1 4 1 3-1 3 1 4 0-2 2-3-1-3 1 0 1 4 2 4 0 4-1 8 3 7-1 4-2-1-1 2-1 1-3 1-1 4 2 0 2 1 0 13 3 5-3 0-2 3 1 6-2 2 1-1 1 1 2 12 2 2-1M359.5 1345.5l-2 1 0-1 1-1 1 1M199.5 1346.5l1 0-1 0M110.5 1347.5l-1 0 1 0M367.5 1349.5l-1 0-1-2 2-1 0 3M197.5 1348.5l-1 0 1-1 0 1M318.5 1352.5l1-1 0-1-2 0-1 1 2 1M324.5 1352.5l-1-1 2 0-1 1M313.5 1346.5l-1 0 1 0M170.5 1349.5l0-1 1 1-1 0M317.5 1349.5l-2-1 2 0 0 1M79.5 1351.5l9 0 4-1 6 1 1-1 4-1 4 2 0 1 6 0 4-2 2 2 4-3 1 0 0 2 4 1 7-3 1 2 8 1 3-2 5 1 4-1 6 1 7-1 8 1 1-2 3 1-3 2 10 1 7-2 2 0-1 1 4-2 7 1 4-2 7 1 11-1 4 0 3 2 2-1 2 1 4-2 6 0 7 1 12 1 3 0-1 1 2 1 2 0 3 2 1-1-1-1 3 0 4 1 3-1 4 0 4-1 14-2 4 2 1 1-6 1 0 1 5-1 3 2 4-2 5 0 1 1 4-1 0 2 2 0 4-1 1 1 4 0 1-1 12-3 3 0-1-1 1-1 7 3 6 0 3 2 2-1 5-4 4-1 2 1-1 1 0 2 2 1 5-1 10-1M141.5 1350.5l-1 0 1 0M313.5 1350.5l-1 0 1 0M328.5 1354.5l-1 0 1 0M274.5 1355.5l0-1 0 1M79.5 1353.5l3 1 2-2 4 2 7-2 13 2 4-1 4 1 10-1 2 1 4 0 3-2 4 1 2 2 5 0 1-1-1-1 4-1 5 1 2-1 6 1 8-1 3 1 1 1 3-1 9 2 3-1 4 2 2-2 5 0 2 3 4 0 0-1 2-1 2 1 7 0 0-1-5-1 4-2 2 1 1-2 15 2 5 0 6 2 3-2 6 0 0-2 8 0 3 1 7 4 8 1 7-2 3 1 5-3 5 0 2 1 0-1 2-1 1 3-1 2 1 0 6 0 1 0 0-1 1 0 1 1 9-1 3 1 3-1 7 2 6-1 5-3 7-1 5 1 2-1 2 1 3 0 2 0 0 3 3 0 6-1 3 1-1-1 1-1 4 1 5-1 13-2M383.5 1352.5l1 0-1 0M171.5 1354.5l-1 0 1 0M195.5 1355.5l0-1 1 0-1 1M202.5 1355.5l0-1 0 1M183.5 1356.5l1-2-2 1 1 1M211.5 1358.5l-2 0 2 0M378.5 1358.5l-2 0 2 0M79.5 1354.5l5 1 8-1 1 1-2 1 1 0 5-1 19 1 2 0 2 0 5-2 5 2 3 0 3 1 2-1 4 2 2-1 1-1 3 1 3-1 4 1 2-1 5 1 1-1 4-1 2 1 10 0 2 0 2 1 11 0 2 1 3-1 7 1 1 1-2 1 1 1 1 0 5-2 2-1 6 2 2 0 1-3 2 0-4-3 2-1 2 2 4 1 0 1 1 1 3-1-3-3 1 0 5 1-2 2 1 0 3 0 2 1 7-2 4 0 1 2 1 0 1-2 4 0-1-1 1-2 5-1 7 4 5 1 16 0 7-1 2 1 2 3-5 1-2 1 0 1 6 1 2 0 0-1-3-1 4-4 2 2 8-2 10-1 3 2 2-1 2 0 3 0 6 2 8 0 1 0-3-1-1-2 5-2 3 0 1-1 8 0 10 6 5 0 4-2 3 0 2-1 3 1 2-1 4-2 6 0 2-1M240.5 1355.5l-1 0 2 0-1 0M252.5 1355.5l-1 1-1-1 2 0M238.5 1356.5l-2 0 2-1 0 1M166.5 1358.5l-1 0 1 0M248.5 1359.5l-1-1-3 1 1 1 3-1M296.5 1358.5l-1 0 1 0M98.5 1356.5l-1 0 1 0M79.5 1357.5l1-1 6 2 5-1 4 2-3 1 3 0 3 0-2-1 1-1 2 1 5 0 3-2 3 2 8-1 4 3 1-2 4-2 2 1 2 2 1-1 8 2 6-1 2 0 3-1 3 2 3-2 1 2 2-1 2 1-1 2 5 0-1-3 4-2 5 1 2 2 3-2 2 3 4-2 1-1 3 0 5 4 1-1 0-1 1-1 4 2 2 0 1-2 6 3 2-2 4 0 2-1 2 1 5-1 1 1 0 1 3 0 3 1 1 0 0-1 1-1 2 0 3-2 4 1 2 2 3-2 3 1 7-2 7 0 3 0-1-1 1-1 13 1 6 0 6 2 1 3-1 1 2 0 3 3 7-2 1-2 4 0 5-4 20 0 7 3 3 0 2 2 2-2 3 0 2-1-3-3-3 0 9-3 7 0 3 2 1 3 2 1 7 1 5-2 3 1 6 1 0-2 3-1 3-3 7-1M96.5 1357.5l-1 0 1-1 0 1M266.5 1358.5l-2-1 2-1 0 2M194.5 1359.5l-2 0 2-1 0 1M320.5 1363.5l-1-1 1 1M355.5 1362.5l-1 0 1 0M358.5 1359.5l-1-2 2 0-1 2M361.5 1358.5l-2-1 3 0-1 1M79.5 1361.5l2 1 2-1 5 3 3-2 11 0 2 1 7-1 1 0-1-1 2-1 2 1-2 1 2 1 2 0 0-1 2-1 7 2 6-1 4 1 2 2 6-2 2-1 2 1 0 1-3 1 1 0 6 0 3 1 3-2 3 1 4-1 4 2 2-1 1-1 7 2 2-2 1 1 6-2 1 1 2 2 3 0 3-2 1 0 1 1 3-2 3 1-1 1 1 1 9-3 1 1 4 1-5 1 6 0 1 1 2 0-1-1 2 0 4-2 2 2 4-2 1 2 2 0-3-2 0-1 1-1 6 2 4-1 1 1 2 0 3-1 2 1 2-2 6-1 6-1 2-1 9 0 5 1 1 1 4-1 2 1-2 2 2 3 8 3 1 0 0-1 1-1 5-1 2-2 4 0 2-1 9 2 3-1 0-3 1-1 3 1 4-1 12 5 11-2 4-2 3 1 2-1 2 2 6-1 2 1 6-1 5 1 2-1 3 2 2-3 3 1 3-1 1 1 2 0-3-2 4-3M85.5 1361.5l-2 0 1-1 2-1-1 2M397.5 1360.5l-2 0 2-1 1 1-1 0M141.5 1364.5l0-1 0 1M94.5 1364.5l-2 0 2 0M193.5 1364.5l-1 0 2 0-1 0M376.5 1367.5l2-1-3-2-2 2 1 1 2 0M179.5 1367.5l0-1 0 1M228.5 1367.5l-2 0 2 0M350.5 1372.5l-4-2-1 0 3 2 2 0M353.5 1370.5l-2 0 1 1 1-1M274.5 1365.5l-2 0 0-1-4 1-5-3-2 1-2 0 2-1 7 0 2-1 11 0 2 1-3 1-1 1-3 0-2 1M286.5 1363.5l-1 0 1 0M79.5 1365.5l3 1 1-2 1 1-1 1 4 1 0-1 2-1 7 0 1 0 0-1 7 1 5-2 3 2 3-1 5 1 2 1 2-1 3 1 4 0 3-2 3 2 5 0 2 2 3-2 9 2 3-1 1 1 7 1 2-1 8 1 3-1 1 0-1 1 3 1 4-3 3 2 4-1 1 2 1-1-1-1 1-1 2 1 4-1 1 1 6 2 3-2 2 1 2-1 3 1 5-1 6 1 3-1 6 0 13-2 2 1 3 0 3 1 4-1 4 1 4 0 2-1 3 0 2-1 6 0 2 0 5 4 7 1 5-1 4-4 5-1 13 3 2-1 3 0-1-3 3-2 2 1 1 2 4 0-7 1 1 2 4 0 5 3-1 1 2 1 4 0 9-1-8-6-3 0 7-1 3-1 5-1 8 4 5 1 6 0 3-3 4-1 2 1-3 1 4 0 3 2 3-1 0-2 3-2 4 1M265.5 1365.5l-1 1-1-2 2 1M283.5 1364.5l-3 0 4 0-1 0M344.5 1366.5l-2 0 1-1 1 1M208.5 1369.5l1 0-1 0M107.5 1366.5l-1 0 1 0M359.5 1367.5l-1 1-1-1 0-1 2 0 0 1M79.5 1367.5l1 2 3 1 1 0-2-1 1-1 5 1 3-2 2 2 4-1 4-2 1 1-1 1 1 2-3 1 2 0 1 0 0-1 1-1 4 0 3-1 4 3 5-3 2 1 3-1 4 2 3-2 7-1 2 1 0 1 2 0 3 3 1-2 3 0 3 1 0 1 4-1 4 1 3-2 5 1 2-1 9 1 3 2 9-2 11 1 3-2 4 2 12-1 7 1 3-1 4 0 2-1 3 1 2-2 2 2 1-2 6-1 2 1 3-1 2 2 4 0 0 1 5-1 2 2 4-1 12 2 1 0-1-2 3 0 2 1 2-1 5 1 5-1 6 2 1 1 1 0-1-1 1-1-3-3 1-2 5 0 13 3 7-1 4 2 1 2 3 1 5 1 4-1 2 1 6-3-1-2 1-2 4 0 1 1 3-2 7 3-1 1-3 3 1 1 3-1 5 1 5-1 1-2 2-1 1-2 3-1 3 2 3 1 3-2 3 0 1-1M130.5 1369.5l-2 0-1-1 2-1 2 1-1 1M97.5 1371.5l2-1-3 1 1 0M122.5 1370.5l-1 0 1 0M384.5 1370.5l-1 1-2-1 2-1 1 1M255.5 1371.5l-2-1-2 1 3 0 1 0M139.5 1372.5l-1 0 1 0M396.5 1375.5l1-1 3 0-2-1-2 2M246.5 1375.5l-3 0 3 0M402.5 1375.5l-1 0 1 0M314.5 1369.5l-1 0 2 0-1 0M317.5 1370.5l-1 0 1 0M362.5 1372.5l-2 0 0-3 4 2-2 1M370.5 1371.5l-3 0-1-1 3 0 1 1M390.5 1371.5l-1 0 0-1 1 0 0 1M315.5 1375.5l-3-1 1-1 0-2 3 1-1 3M79.5 1373.5l3 1 2-1 1 0 0 1 1 0 5-1 2 1 7 1 9-2 1 1 0 1 1 0 1 0 0-3 7 2 2-1 4 3 4-1 1-2 2-1 3 1-3 2-1 1 2 1 1-1 1-3 3 1-1 1 5-2 2 2 3-1 8 0 3-1 4 2 2-2 3 1 3-2 4 2 4 0 2 1 4-1 6 2 4-2 5 2 4 1 2-1 5 0 5-1 3 0 3-1-1-1 2-1 2 0-1 2 3-1 0 1 2 0 2-2 2 0 0 2-1 2 2 0 2-2 3 1-1 1 2 1 3 0 2 1 5 0 6-1-1-1 2-1-2-1 0-1 4 1 3-1 3 0 2-1 10 2 0 4 1 1 2 0 2-1 4 1 2-1 4 0 6-2 4 1 7-1 3 1 5-1 1 0-1-1 4-2-3-1 4-1 4 1 8 1 13 3 3-1 6 3 3 0 2 1 3-2 3 2 4-1 2 1 4-1 2-2 2 1 6-2 3 1 1 0-3-3 1-1 6 5 9-1M402.5 1371.5l-2 0 2 0M260.5 1373.5l-1-1 1 0 0 1M206.5 1373.5l-1 0 1 0M244.5 1373.5l-1 0 2 0-1 0M200.5 1375.5l-1 0 0-1 1 0 0 1M292.5 1375.5l-2-1 2-1 1 1-1 1M364.5 1376.5l-4 0-2-1 3-1 3 2M365.5 1374.5l-1 0 2 0-1 0M280.5 1375.5l-1 0 1 0M191.5 1378.5l-1 0 1 0M79.5 1378.5l3 0 1-1 5 0 2 2 2-2 3 1 3-1 6 1 4 0 5-2 3 1 3 0 3-1 3 1 5 0 1 1 5-1 5-2 5 2 2-2 3 1 8 0 4 1 2-2 3 2 3-1 1 2 4-1 6 2 2 0 0-1 3-1 3 2 3 0 1-2 7 2 8-2 3 2 2 0-3-1 2-1 2 2 3 1 1 0-3-2 0-1 3-1 6 2 10-1 2 2 10 1 11-2 1 0-1-2 8-3 2 2 4 0-2 1-1 2 2 0 2-1 1 1 0 3 1 0 2-1 9 0 2-1 10-2 7 1 4-1 2 1 3-1 8 0 3-2 10 0 4 0 6 3 2-1 7 2 3 0 16 2 14 0 8-4 8 1M227.5 1376.5l-4 0 3-1 1 1M322.5 1375.5l-2 0 2 0M272.5 1380.5l0-1-1 1 1 0M346.5 1382.5l-2 0 2 0M300.5 1384.5l-3 0 3 0M79.5 1381.5l4 1 8-2 5 2-2-1 1-1 5 1 5 0 1 1 1-2 1-1 6 2 1-2 2 1 4-1 3 1 6 0 3 1 9-2 3 2 6 1 2-1 6 1 2 0 1-2 3-2 0 2 2 1 4 0 3-1 8 1 3-1 9 2 1 0 0-2 9 1 3-1 0-1 1 0 4 2 10 0 9 0 3-2 11 2 6 0 10-3 1 2 1 0 1-1 2 0 0 1 5 2 1 1 4 1 5-3 13-1 4-2 4 0 10 4 1 0-1-1 1-1 2 1 10-1 3-1 0-2 9-1 5 1 2 3-2 1-4 1-1 2 9 1 2-4 3-1 4 0 3 0 2 1 6 2-4 0-2-1-2 3-5-1 1 2 8 1 3-1 4-3 4-1 10 0 2 1 6 0 6-2 0-2 6 1M263.5 1378.5l-2 0 0-1 2 0 0 1M123.5 1378.5l-2 0 2 0M157.5 1379.5l0-1 0 1M152.5 1380.5l-1 0 1 0M160.5 1380.5l-2 0 2 0M347.5 1381.5l-2-1 2-1 1 1-1 1M304.5 1385.5l2-3-1-1-1 1 0 1-5-1-4 2 2 1 7 0M368.5 1382.5l-2 1-1-1 3-1 0 1M352.5 1386.5l-1-1 2-1-3-1-3 1 2 1 0 1 3 0M79.5 1383.5l2 1 3 0 1 0 0-1 2-1 0 2 2 1 14-2 3 1 4-1-2-1 1 0 1 0 1 2 11 0 2 1 2 0-1-1 6-2 3 1 13 0 2 1 5-2 1 1-1 1 2 0 10-1 1 0 0 1 1 1 2-3 4 0 12 0 1 2 11-1 1 1 8-2 11 1 2 0 1 1 3-2 6 2 4-1 0-1 2-1 9 1 12-1 6 1-1 1 2 3 3-2 6 0 5 2 2-3 1 2 2 0 0 2 2 0 20-1 1 0 1-3 5 1 5-1 7 1 1 0 0-1 2 0 1 1 1 0-1-2 1-1 0-2 2 0 1 1 1-2 4 0 1-1 4 2-1 1-7 1 0 1-1 2 11 1 6 4 4-1 4 1 11-2 1-2 2 0 2-2 18 1 5-1-2-1 6-1 2 1M400.5 1380.5l-1 0 1 0M292.5 1382.5l-4 0 1-1 3 1M117.5 1382.5l-1 0 1 0M198.5 1382.5l-1 0 1 0M242.5 1383.5l-2 0 2 0M287.5 1383.5l-3 0 2-1 1 1M333.5 1383.5l-3 0 3 0M260.5 1387.5l-1-1-1 1 1 1 1-1M258.5 1390.5l1-1-1-1-2 1 2 1M261.5 1389.5l-1 0 1 0M255.5 1385.5l-6 1-3-1 1-2 10-1 0 2-2 1M79.5 1386.5l2 1 0-1 1-1 7 1 6 0 2 1 2-2 8 1 3-1 16 2 5 0 4-2 2 2 2-2 3 1 9-1 5 2 3-1 8 0 4-1 9 1 4-2 8 1 3 1 8-1 4 1-2-2 1 0 1 0 1 1 6-1 2 1 2 0 2 1 6-1 3 0 4-1 8 1 4 3 14 3 6-1 5-4 18 2 6-1 17-1 3-1 5 1 5 3-4 1 1 0 7-1 2-3 9 0 8 3 5 2 2-2 5 2 8-2 3 0 1-1 3-1 5-3 3 1 6 0 8 0 7-2M138.5 1386.5l-1-1 1 0 0 1M339.5 1391.5l-2-1-3-3-4 3 4 1 5 0M79.5 1388.5l3 1 2-2 5 2 6-1 3 1 12-2 9 1 4 0 12 1 6 0 0-1 2-1 5 1 4-2 3 2 4-1 4 1 8-1 4 1 2-1 7 1 2-1 9 1 4-1 8 2 3-3 2 3 2-2 3 0 9-1 5 1 2 0 4 1 1 0 3 0 0 1 1 1 9 0 9 2 3-1 2 1-1-1 4 0-1-1 5-3 16 2 7-2 13 1 6-2 4 2 0 1-4-1-2 1 1 1-2 2 7 0 13-1 16 2 1-2 2 1 9 0 3-1 3 1 7-1 4-3 4 1 0-1 2-1 4 1 4-2 13 0M345.5 1391.5l-1 0-1-1 3 0-1 1M298.5 1393.5l-1 0 1 0M292.5 1395.5l1-1-3-1 0 2 2 0M79.5 1391.5l6 0 2-1 5 0 19 0 2-2 4 2 6-1 3 1 15 1 4-1 1-1 5 0 1-1 6 0 3 2 3-1 6 1 2-1 3 1 5-1 5 1 3-2 3 2 2-1 1 1 5 0 5-1 10 1 1-2 6 0 3 0 1 1 4-1 2 1 2-1 2 2 4-1 3 1 19 3 6 0 3-1 1-2 5-2 10 2 3 1 1-1 5-2 6 1 3-1 6 1 0 1-2 1-2-2-1 1 2 3 5 1 15-2 24 2 10-1 6 0 2-1 5-1 12 0 2-1 0-2 7-1 5 2-4 4 5 0 2-1M403.5 1389.5l-1-1 1-1M394.5 1392.5l-1-1-1 1 2 0M297.5 1395.5l3-1 0-1-3-2-13 1 0 1 2 2 2-1 2 2 7-1M389.5 1392.5l-1 0 1 0M295.5 1390.5l-2 0 2 0M300.5 1390.5l-2 0 2 0M79.5 1392.5l5 1 6-1 2-1 9 1 8-1 1 1 3 0 17-1 5 1 9-1 3 1 1 1 6-3 6 2 27-1 6 1 10-1 5 1 14-1 2-1 4 1 11-1 23 4 7 0 4-3 3 2 3-1 5 3 5 1 14-2 11 1 12-2 12 0 4 2 7 0 9-1 14 0 2-2 2 2 2-1 11 1 4-1 3 1 7 0M130.5 1392.5l-1 0 1 0M79.5 1394.5l18 0 1 0-2-1 8-1 6 2 10-1 2 1 3-2 8 2 11-2 5 2 10-1 7 0 1 1 2-2 3 2 3-2 14 1 4 1 3-2 12 1 6-1 4 2 7-2 2 1 4 0 3-2 5 0 23 4 11-1 4 2 3-1 6 2 6 0 11-2 12 0 11-1 6 1 5-1 1 1 10 1 16-2 29 0 10 1M79.5 1396.5l11 0 6-1 3 1 6-2 2 1 17-1 3 1 10-1 3 1 2-1 7 1 11-1 6 1 3-1 10 1 3-1 6 1 2-1 13 2 3-1 3 1 12-2 6 1 14-3 16 3 14 1 12 1 2 1 7 0 10-2 14 0 10-1 10 0 3 1 15 1 11-2 8 1 25 0 5 1M223.5 1394.5l1 0-1 0M241.5 1394.5l1 0-1 0M79.5 1397.5l13-1 8 1 5-1 14-1 6 1 11 0 4 1 5-1 4 1 5-2 2 1 9 0 8 1 21-2 15 2 9-1 6 1 8-2 6 1 4-2 5 0 4 1 0 1 13 0 3 1 3-1 16 3 7 0 9-2 17 0 16-1 4 1 10 0 17-1 6 2 3-1 12 0 16 0M79.5 1398.5l13-1 8 1 15-1 13 1 3-2 5 0 4 1 14 0 7 1 33-2 5 2 11 0 7-1 9 0 3 1 1-1 6-1 2 1 5 0 5 1 2-1 28 1 2 1 6 1 15-2 2 1 3-2 4 1 20-1 2 1 9 0 3 1 22-2 5 3 4-2 11-1 17 1M79.5 1398.5l5 0 9 1 14-1 21 0 3-1 2 1 3-1 28 2 4-1 4 0 6 0 4 1 3-1 20 1 16-1 8 1 6-1 13 1 16-1 10 2 3-1 2 1 4 0 2 1 3-1 14 0 4-1 3 1 2 0 2 0 3-1 12 0 3 1 5-1 2 2 3-2 3 2 9-2 10 1 3-1 4 1 6-1 27 0M79.5 1400.5l5-1 3 1 18 0 6-1 5 1 9-1 14 1 3-1 26 1 10-1 4 1 4-1 18 1 17-1 4 1 5 0 5-1 3 1 9 0 11-1 21 3 26-2 7 1 8-1 21 2 11-1 16 0 20-2 2 2 3-1 10 0M79.5 1401.5l31-1 6 1 11-1 3 1 4-1 4 1 14-1 5 1 4-1 6 1 5-1 4 1 2-1 12 1 19-1 5 1 7-1 4 1 7-1 15 1 9-1 2 1 4-1 18 3 7 0 14-1 20 1 4-1 7 0 3 2 5 0 8-2 6 1 3-2 3 2 21-3 9 2 4-1 9 0M79.5 1402.5l7 1 7-1 3 0 3-1 20 1 4-1 7 1 5-1 2 1 6 0 3-1 13 1 1 1 6 0 5-2 12 0 35 2 3-2 5 1 6-1 19 1 4-1 3 1 12 0 15 2 24-1 6 1 12-1 11 2 2 1 8-3 32 0 2-1 1 1 5 1 6-2 9 0M79.5 1403.5l2 0 4 1 11 0 7-1 2 0 12 0 2 1 3-2 16 1 3 0 3 1 3-1 21 1 2-1 7 0 6 0 10 0 2 1 2-1 4 0 2 1 12-1 4 1 3-1 5 1 5-2 19 1 4-1 7 2 11-1 16 2 6-1 11 0 3 0 9 1 4 1 7-1 1 1 0 1 3 0 2-1 6 1 8-2 25-1 3 1 9 0 10-2 3 2 3-3 1 4M79.5 1405.5l13 0 17 0 16-1 6 1 4-1 2 1 3-1 6 1 3-1 17 2 8-2 3 1 2-1 7 1 2-1 8 1 4-1 8 2 2-1 6 0 25-2 8 1 5 0 12 1 6-1 16 2 8-1 3 1 4 0 6 0 3-1 3 2 3-1 12 3 10-1 10-2 16-1 9 0 6 2 6 0 3 1 4-3 4 3 5 0M79.5 1407.5l2-1 9 0 12 0 3-1 3 1 11-1 4 2 4-2 8 1 8-1 2 1 9 0 2-1 25 1 3 0 17 0 16 1 13-1 2-1 10-1 10 1 3 2 6-1 8 1 2-1 5-1 33 3 4-1 0 1 3 1 13 0 14 0 8-2 10-2 14 1 2 1 1 2 3 0 2 1 2 0 1-2 1 0 2 1 14 0M79.5 1408.5l12-1 6 1 2-1 4 0 2-1 2 1 12 0 4 1 3-2 2 1 10 0 5 1 3-1 10 1 3-1 1 0 16 0 18 1 2 1 7-1 2 1 6-1 3 1 7-2 10 1 2-2 2 1 3-1 1 2 0 2 4 0 10-3 3 2 8-1 8 0 0-1 4-1 16 1 7 1 3 2 6-1 8 2 8-1 5 1 14-1 13-2 5-2 7 0 3 2 4-1 2 3 6 1 8-2 3 1 9 0M79.5 1410.5l8-1 18 0 2-1 5 0 13 1 6 0 6 1 14-2 2 1 5-1 10 1 8-1 3 1 5-1 8 1 6 0 7 1 12-1 3 1 3-1 4 1 1 0-1-1 5-1 5 2 0 1 3-1 3 1 9-2 25 0 2 0 0-1 5-1 10 1 5 3 8 0 5 1 3 0 4 1 6-2 6 2 2-2 4 1 11-2 8-1 5 1 1 0-1-1 0-1 2 1 2-1 9 1 4 2 6 1 7-1 12 0M79.5 1412.5l4-2 3 1 3-1 9 1 6-1 10 2 6-2 6 0 6 0 8 3 9-3 3 1 12-1 7 1 14-2 7 2 6-1 6 1 6 1 2-1 3 1 2-1 14 1 3-1 1 1 3 0 2 0 5 0 8-2 25 1 4-2 7-1 3 1 2 2 2 1 0 1 4 1 1-1 7 0 2 0 0 1 4-1 5 2 7-1 2-1 3 1 11-2 5 0 2 0-1-1 1 0 9 0 6 1 2-1-1-1 19 3 5-1 14 0M79.5 1413.5l5-1 13 1 3-1 15 1 9-2 4 1 4 2 4-1 2 1 8-1 3 1 2-2 3 0 13 1 5-1 2-1 3 1 4-1 3 2 2-2 3 1 9 0 7 1 2-1 2 1 14 0 7 1 3-1 12 0 11-2 24 1 3-2 6-1 3 1 1 3 3 1 4 1 8-1 7 2 8 0 10-2 9-1 3 1 13-2 5 1 9-1 14 2 4-1 13 0" stroke="#0010d8"/>
</g>
<clipPath id="lca71"><path d="M81 1395H250V1416H81Z"/></clipPath>
<g clip-path="url(#lca71)" fill="none" stroke-width="1">
<path d="M79.5 1401.5l8-1 0-1 1-1 7 1 2-1 3 1 4 0 2 1 2 0-1-1 1-1 3 0 2 2 4-2 3 2 0-1 7-2 7 2 1-1 2 1 2 0 6 1 3-2 4 2 2-1 0-1 8-1 3 1 11-2 6 1 5-1 2 1 3-2 2 1 7 1 3 1 5 0 2 1 8-1 1 1 3-1 3 0-1-1 1-1 6 1 1-1 0-2 5-1 4 1 9 1 2 1 3 0 2 1 1 2 3-1-1 2 1 0 3-1 2 2 2-1 1 1 2 0 1-2 2 0 2 0-3-2 0-1 7-1 6 1 1 2 7 1 2 0 0-1 2 0 0 1 2-2 2 1 4 1 1-1-1-1 6-2 4 2 5 0 4-2 5 2-3 1 0 2 4 2 5-4 2 0-2 2 3 2 2-1 1-2 6-1 4 2-2-1 5-1 2-4 2 1 3 3 3-2 4 1 4-1 3 1 5-1 1 1-2 1 1 1 4 0 3-1 1 2 13 0M175.5 1395.5l-1 0 2 0-1 0M348.5 1396.5l0-2 2 1-2 1M270.5 1397.5l-1-1 1-1 2 1-2 1M335.5 1397.5l-1 0 0-1 1 0 1 1-1 0M344.5 1396.5l-1 0 2 0-1 0M260.5 1397.5l-2 0 1-1 1 1M283.5 1398.5l-3-2-2 1 2 1 3 0M318.5 1399.5l-4 0 4 0M257.5 1400.5l-1 0 1 0M347.5 1400.5l-1 0 1 0M345.5 1401.5l-1 0 1 0M403.5 1400.5l0 1M79.5 1402.5l4-1 11 2 5-1 7-1 5 1 3-1 6 1 2-1 3 1 3-1 0-1 1-1 3 2 4 0 2 1 4 0 2 1 5-2 8 1 3-3 3 0 1 2 3-1 4 1 2-1 2 1 3-1 2-2 1 1 1 2 1 0 0-2 8-2 3 3 3-1 4 1 6-1 3 3 2-2 4 1 2 0 3 0 2-2 4 2 5-3 3 1-1-1 1-1 7 2 1-1 4-1 4 1 3 3 7 2 4-1 5 1 11-2 2 1 2 0 1 1 8-2 2 0 0 1 2 0 5 0 4-2 3 2 0-2 8 1-1 1 1-1 3 3 1-1 2 1 2-1 5 1-2 1 1 0 6-2 5 2 1-2 3 1 3-1 11-2 3-2 4-1 2 2 8-1 7 3 2-1 10 1 1 0-1 1 1 0 1-1 1-1 5 1M373.5 1398.5l-2 1-1-1 3 0M178.5 1400.5l-2-1 3 0-1 1M250.5 1400.5l-3 0 3 0M95.5 1401.5l0-1 0 1M188.5 1401.5l-2 0 2 0M325.5 1402.5l-1 0 1 0M106.5 1403.5l-3 0 3 0M237.5 1401.5l-2-1 2 0 0 1M79.5 1405.5l4-2 4 2 6-1 6 2 9-2 2 1 2-1 5 0 1-2 6 2 7 0 3 1 8-1 9 1 2-1 2 2 0-1 7-2 8 0 3 2 4 0 3-2 3 2 4 0 0-2-4 0 1-1 7 1 3-1 2 2 7-1 2 1 2-2 12 2 4 0-2-1 1 0 3 0 1 1 1 0 1-2 5 0 6 1 0-1 2 0 3 1 2-1 7 0 2 1 2 0 2 1 5 0 4 1 5-1 3 1 8-2 3 1 2-1 4 2 5-1 2 2 5-3 2 2-1 1 1 0 1-1 8-1 10 3 9 0 1 1 1 0 0-1 6 0 1-2 2 0 3 2 1 0 0-1 1-1 2 1 5 0 1-2 2 1 4-1 3-2 2 1 4 1 3-2 5 4 4-2 5 0 7 1 3-1 2 1M80.5 1404.5l-1 0 1 0M194.5 1406.5l-2 0 2 0M79.5 1407.5l4 0 3 1 5-2 5 3 2-2 6 1 4-1 9 1 6-2 5 1 0 1 1 0 9-2 8 2 21-3 5 1 1 1 8 1 0-2 1 1-1 1 3 1 1-1-1-1 1-1 3 0 1 1-2 1 2 0 1 0 4 0 3-2 5 1 1 0-1 1 1 1 2 0-1-1 3-2-1-1 3 1 1 0 1-1 2 0 4 2 2-2 5 2 4-2 4 2 6-1 0-2 1 2 3 1 6-2 1 1-2 1 1 0 3-2 2 1 8-1 6 1 1 2 5 0 4-1 2 1 1-1 3 0 1-1 5-1 3 2 3-1 7 2 6-1 5 0 3-1 3 2 5 0 3 2 5-1 5 1 4-2 7 1 4-1 5 0 3-1 2 1-1 1 1 0 3-2 8 1 4-2 6 2 6-1-3-1 3-1 4 3 1-1 5 1 4-1M231.5 1405.5l-2 0 3 0-1 0M130.5 1406.5l-1 0 1-1 1 1-1 0M260.5 1406.5l-1-1 0 1 1 0M117.5 1407.5l-2 0 2 0M327.5 1408.5l-1 0 2 0-1 0M196.5 1410.5l-1-2-1 1 1 1 1 0M79.5 1410.5l7 1 1 0-1-1 3-1 5 2 5-2 3 1 1 1 5-2 1 1 5 0 1 1 5 2 0-2 3-1 2 1 7 0 8-2 2 1 7-2 8 2 0-1 4-3 1 1 0 2 2 1 0-2-1 0 7 2 3-1 2 1 5-1 7 3 3-1 1 1 0 1 1 0 2-2 5 1 4-1 2 1 3 0-3-2 2-1 4 0 1 1 1 0-1-1 1-1 5 0 1 2 4-1 3 0 2-1 6 1 3-2 5 2 2-1 7-1 2 1 3-1 8 3 5-1 9 1 2 1 2 0 3-2 3 1-1 1 1 0 3-1 0-1 4 0 2 1 3-1 1 1-2 1 2 0 7-3 5 0 2 2 7-1 2 2 7 0 2-1 3 2 1 0-1-1 3 0 5 1 2-2 2 1 3-1 9 2 3-2 3 1 5-2 2 1 3-1 4 2 2 0-1-1 1 0 3 0 3-1 4 2 6-1 2-1 1 0 0 1 2-1M220.5 1408.5l-1 0 0-1 2 0-1 1M139.5 1408.5l-1 0 1 0M367.5 1409.5l-1 1-1-1 2-1 0 1M187.5 1410.5l-1 0 1 0M313.5 1410.5l-2 0 2 0M151.5 1411.5l-1 0 1 0M125.5 1412.5l-1-1-1 1 1 1 1-1" stroke="#000080"/>
</g>
<clipPath id="lca72"><path d="M334 1171H405V1451H334Z"/></clipPath>
<g clip-path="url(#lca72)" fill="none" stroke-width="1">
<path d="M403.5 1248.5l-1-2 0-2-1-3 0-3-1-2-3-2-2-2 0-3-2 0-1-2-1-1-5 1-3-1-3 1-4 0-4-2-2 1-1 2-3-2-6 2-4 0 0 1-3 3-5 10-2 12 1 9-2 3 1 5 0 17 1 9 2 4 0 5 1 2 0 3 1 2 3 15 2 3 1 7 5 10 6 2 1 1 2 1 6-1 3 1 4 0 2-1 5-7 2-8 0-2 2-3 8-37M403.5 1251.5l0-1M403.5 1241.5l-2-7-2-1 0-3-2-3-5-3-3 0-2-2-7 0-4 2-3-2-5 2-4-2-5 3-1 0-2-1-2 3 0 2-3 1-3 6 0 3-2 7 0 3-1 5 0 9-1 2 1 9-1 13 2 7 2 12 1 3 0 2 1 2 2 11 0 3 3 5 1 6 4 10 4 4 5 2 2-1 4 1 3-1 6 0 2-1 5-7 1-3 1-2 1-6 2-2 2-9 1-3 1-8 3-10M379.5 1225.5l-2 0 2-1 1 1-1 0M403.5 1233.5l-2-2 0-4-2-4-4 1-8-5-8 1-2-1-2 2-3-1-2 1-2 0-1-1-2 0-11 3-2 4-2 1-4 7-1 3 1 2-1 2 0 3 0 4-1 4 0 9-2 6 2 6-1 13 2 7 1 13 2 2 0 3 1 2 2 10 0 3 4 9 0 3 4 7 0 2 5 6 6 3 3-1 1 2 3 0 2-1 3 0 2-2 3-2 5-8 1-3 3-6 3-13 1-3 1-7 2-7M403.5 1236.5l0-2M403.5 1230.5l-1-5-7-7 1 2-2 2-1-1-1-2-3-2-4 1-3-1-2 1-2-2-3 1-6 0-5 1-5 0-4 1 1 1-1 1-2 0-1 1-7 10-1 3-2 17 1 4-1 7-1 5 2 6-1 6 0 7 2 8 1 11 2 4 2 10 2 4 0 4 3 11 3 6 1 4 2 2 0 2 5 7 3 1 1-2 2 0 3 1 5 0 2 1 4-3 3-3 5-9 4-10 4-16 2-10M403.5 1224.5l-5-6-4-2-2 0-3-2-2 0-3 1-3-1-3 0-2 1-4 1-6-2-2 2-2-1-2 1-2 0-1 1-5 0 0 2-2 1-1 3-2 1 0 3-4 4 1 2-2 3-1 16 1 4-1 3 0 5-1 4 1 10-1 3 4 23 2 6 2 10 2 4 3 15 4 11 4 6 2 4 5 4 2-1 0-2 1-1 3 2 6 2 2 0 4-2 0-2 3-3 5-11 9-30M403.5 1220.5l-3-4-4-1-3-2-3 0 0-2-6 1-4-1-2 1-2-1-1 1 0 2-5-4-3 3-5-1-5 1-3 1-5 1-1 1 0 5-2 1-2 3 0 3-2 2-1 5 0 9-1 4 0 9-1 2 1 4-1 4 1 4 0 7-1 3 1 4-1 2 3 11 1 6 2 6 2 10 7 23 3 8 5 9 1 3 2 2 1-1 2 2 2 0 2-2 2 2 3-2 5 2 5-3 4-8 5-12 6-19 1-6M403.5 1217.5l-3-5-2 0-7-4-6 2-2-2-2 1-2-1-7 2-2-1-2 0-4-1 0 2-3-1-3 2-4-1-1 1-2 0-3 2-5 10-3 12 0 5-1 2 0 2 0 4 0 6-1 5 0 4-1 4 1 3 0 12 0 2-1 3 3 10 1 4 3 9 4 18 1 2 3 10 4 11 5 9 1 4 2 3 2 0 3 2 1-1 1 0 5 1 3-1 5 0 1-3 4-3 3-7 6-13 3-10 1-6 1-2" stroke="#000080"/>
</g>
<clipPath id="lca73"><path d="M350 1320H405V1451H350Z"/></clipPath>
<g clip-path="url(#lca73)" fill="none" stroke-width="1">
<path d="M403.5 1213.5l-2-3-7-3-8-2-6 1-2 0-1-2-12 1-5 2-2-1-2 1-5 0-2 3-3 2-2 4-6 15 1 2-1 11-2 2 1 10-1 11 1 3-1 3 1 6-1 8 1 6 0 2 2 3 2 11 2 5 3 11 1 3 1 2 7 22 5 9 1 6 4 2 0 3 3 0 2 1 2-2 2 1 6-1 3 1 6-6 4-7 6-18 4-15M367.5 1206.5l0-1 1 1-1 0M403.5 1209.5l-2-1-2-3-6-3-4 1-3-1-2 1-3 0-3-1-3 1-3-1-2 1-4-1-1 1-11 0-6 3-3 3-2 4-1 5-2 1 0 4-3 8-1 12-1 3 1 10-1 7 1 7-1 4 1 5-1 8 1 8 13 43 5 14 5 10 4 12 2 0 2-1 1 0 6 3 1 0 0-1 1-1 8 1 3-3 7-13 1-6 2-2 0-4 3-6 3-10M403.5 1205.5l-2 0 1-2-1-1-4 1-4-3-3 0-10-2-4 3-2-1-3 0-2-1-6 1-2 0-2 1-3 0-4 2-3 0-6 6-3 6-5 16 0 10-1 4 0 5 1 6-1 4 0 5-1 4 1 2-1 3 2 5-2 6 3 12 0 2 3 6 0 3 3 10 4 14 7 20 4 10 2 6 0 3 2 3 3 2 5 1 2 2 2 0 3-2 3 1 7-2 2-2 1-2 1-3 1-2 0-2 7-14 0-3 3-7 2-7M403.5 1201.5l-5-2-2 1-2-2-3-1-6 0-7 0-1-2-1 1 0 2-4 1-6-2-3-1-4 2-4-2-2 3-5 1-2 3-3 1-2 4-1 4-3 2 1 4-1 2-2 8-2 2 1 3-1 8 0 2-1 8 1 5-1 4 1 5-1 4 1 2-1 3 1 4-1 5 1 9 2 5 0 2 3 6 0 3 3 10 2 7 2 4 10 31 2 5 1 6 5 7 4 1 1 2 6-1 2-1 1 1 3 1 5-1 3-2 0-2 3-4 2-5 0-4 5-11 1-4 4-11M403.5 1199.5l-3-3-13-2-6 1-3-2-6 2-6-2-4 0-3 2-8 0-2 3-4 1 0 2-3 2-3 4-3 7-4 16 1 2-2 9 1 3-1 8 1 4-1 6 1 17-1 4 1 9 5 13-1 3 5 11 1 6 2 4 3 13 2 2 8 21 1 7 1 4 0 2 1 1 4 1 1 2 6 2 3-1 5 2 3-3 3 2 1-1 1-2 4-3-1-2 3-4 1-9 5-11 4-13M403.5 1195.5l-2-1-1-1-3 1-3-2-5 1-6-2-3 1-2-1-5 1-2-2-1 1-1 1-3-2-9 2-4-1-1 2-9 4-2 4-4 4-3 13-2 3-1 3 1 4-1 4 0 4-1 4 1 5-1 7 1 5-2 5 1 18 0 7 1 6 2 5 2 10 5 13 1 4 2 4 4 14 9 22 2 14 6 6 2 0 1 2 7-2 4 2 3-1 5-1 3-2 3-6 1-3 2-6 0-4 5-11 0-3 2-4 1-5M403.5 1191.5l-2-1-4 1-6-3-2 1-8-1-4 1-6-1-3 1-2-1-4 0-6 2-4-2-3 3-3 1-1 2-2 0-4 6-2 1-7 23 1 3-2 5 1 4-1 16 1 5-2 4 1 13-1 4 1 3-1 5 3 10 1 2 14 46 8 18 2 14 4 8 2 1 1 3 5 2 2-2 2 1 2-1 5 1 2-2 2 1 2 0 1 0 4-3 4-7-1-4 3-5 0-5 4-11 0-2 3-5 0-2M403.5 1188.5l-4-2-3 3-3-3-5 0-4 1-2-1-5 0-3-1-1 0-4 0-3 2-1-1-2 0-2-1-14 3-2 2-1 2-2 0-2 3-2 4-2 1-1 3-5 9 1 4-1 3-1 8-1 4 0 7-1 4 1 16-1 8 1 8-1 4 1 4-1 4 2 10 6 15 2 7 1 3 6 19 9 22 2 15 3 8 5 5 1 2 2 0 5-1 2 2 3-2 7 2 2-2 3-1 2-1 0-2 2-2 1-3 2-3-1-4 2-5 1-6 6-17M403.5 1185.5l-4-1-2 0-1 1-3-2-3 1-2-1-6-1-4 2-4-1-3 1-6-2-3 1-5 0-12 4-1 1-2 1-1 2-3 2-2 4-4 4 0 4-3 7 1 4-2 3 0 8-2 4 1 8-1 2 0 23 0 2 0 3 1 2-1 2 0 6 0 3 0 7 8 24 3 8 6 19 5 14 4 8 1 11 3 12 4 5 1 2 6 3 2-2 4 1 2-1 3 3 2-1 3 0 3-2 1 0 3-2 2-2 2-7 2-3-1-4 2-5 0-6 6-15" stroke="#000080"/>
</g>
<path d="M385 1178 373 1178.5 364 1177.2 358.3 1173.8 356.9 1168.8 395.1 1168.8 394.8 1171.8 392.7 1174.8 385 1178ZM382 1350.8 372 1351.3 367 1350.5 364 1348.5 360.5 1343.8 353.7 1324.8 346.1 1288.8 346.4 1257.8 348.6 1241.8 350.7 1235.8 354 1231 358 1228 363 1226.6 383 1226.2 392 1228 396 1231 398.7 1234.8 402.4 1246.8 402.4 1296.8 397.3 1320.8 392.2 1337.8 387.5 1346.8 385 1349.4 382 1350.8ZM139 1366.8 79 1367.3 79 1319.4 94 1320.3 98.3 1321.8 100.4 1323.8 101.5 1327.8 101.7 1338.8 101.1 1344.8 98.9 1347.8 100 1348.7 146 1349.5 157.1 1350.8 161.5 1352.8 162.2 1360.8 160.9 1363.8 153.5 1365.8 139 1366.8ZM186 1396.8 79 1397.5 79 1370.5 184 1371.1 202.9 1372.8 210.2 1375.8 211.3 1378.8 211.4 1387.8 211 1390.8 209.6 1392.8 202 1395.3 186 1396.8Z" fill="#0000b2" fill-rule="evenodd"/>
<path d="M382 1176.9 372 1177.1 365 1175.8 360.6 1172.8 359.6 1168.8 392.4 1168.8 391.9 1171.8 390 1174.2 382 1176.9ZM382 1349.9 368 1349.9 364 1347.6 361 1343.6 357.8 1336.8 353.8 1323.8 346.5 1288.8 346.8 1258.8 349 1242.5 351 1236.8 354 1232.1 358 1229 363 1227.5 383 1227.1 392 1229 395 1231.1 398 1234.8 400.2 1239.8 402.1 1247.8 403 1256.2 403 1291.6 401.2 1300.8 396.2 1323.8 392.2 1336.8 387 1346.5 382 1349.9ZM145 1365.9 79 1366.7 79 1320.9 93 1322.3 95.9 1323.8 97.5 1326.8 97.8 1338.8 96.9 1344.8 93 1347.8 86.7 1348.8 141 1349.9 150.9 1350.8 156.2 1352.8 157.1 1355.8 156.5 1362.8 152.9 1364.8 145 1365.9ZM186 1395.8 79 1396.6 79 1371.4 179 1371.8 195 1373.1 203.2 1375.8 204.3 1377.8 204.7 1381.8 204.6 1388.8 203.5 1391.8 198 1394.4 186 1395.8Z" fill="#0000c9" fill-rule="evenodd"/>
<path d="M380 1175.8 372 1175.8 366.8 1174.8 363.4 1172.8 362.1 1168.8 389.9 1168.8 389.3 1171.8 387.3 1173.8 380 1175.8ZM382 1349 367.5 1348.8 364 1346.6 361 1342.6 357 1333.3 354 1323.1 346.9 1288.8 347.5 1257.8 350 1241.1 352 1236.3 355 1232.3 358.6 1229.8 363 1228.5 384 1228.1 388.6 1228.8 393 1230.7 396 1233.4 399 1238.4 402 1250.8 403 1289.4 399 1309.9 395 1326.8 391 1338.6 387 1345.6 382 1349ZM85 1346.8 79 1347.2 79 1322.8 89 1324 91.9 1325.8 92.8 1327.8 92.7 1342.8 90 1345.6 85 1346.8ZM137 1365.8 79 1366.3 79 1349.6 136 1350.2 146 1351 151.7 1352.8 152.7 1355.8 152.1 1362.8 147.5 1364.8 137 1365.8ZM146 1395.8 79 1395.8 79 1372.2 179 1372.7 194 1374.6 196.7 1375.8 198.2 1377.8 198.3 1389.8 197.1 1391.8 195 1393 181 1395.1 146 1395.8Z" fill="#0000e0" fill-rule="evenodd"/>
<path d="M383 1173.9 376 1174.6 369 1173.9 365.6 1171.8 364.7 1168.8 387.3 1168.8 386.4 1171.8 383 1173.9ZM380 1347.8 367 1347.1 364 1345.1 361 1341 355 1324.6 348 1291 348 1259.4 350 1244.6 352 1238.8 355 1234.2 358 1231.8 364.4 1229.8 385 1229.7 392 1231.8 395 1234.2 398 1238.8 401 1249.5 402 1259.8 402.3 1288.8 398 1311.8 394 1328.2 390 1339 385.2 1345.8 380 1347.8ZM79 1340.2 79 1329.7 80.4 1331.8 80.8 1334.8 80.5 1337.8 79 1340.2ZM115 1365.8 79 1365.9 79 1350.1 136 1350.7 145 1351.8 148.2 1353.8 148.5 1360.8 147.8 1362.8 146.3 1363.8 137 1365.2 115 1365.8ZM165 1394.8 79 1395 79 1373 173 1373.5 186.6 1374.8 189.6 1375.8 191.7 1377.8 192.3 1387.8 190.3 1391.8 183.2 1393.8 165 1394.8Z" fill="#0000f7" fill-rule="evenodd"/>
<path d="M379 1172.9 371 1172.5 368.4 1170.8 367.9 1168.8 384.1 1168.8 382.6 1171.8 379 1172.9ZM377 1329.9 373 1330.1 370 1328.7 367 1325.7 363.7 1319.8 361.5 1312.8 358.5 1296.8 356.6 1274.8 357.4 1262.8 359.7 1255.8 365 1250.2 370 1247.1 374 1246 380 1247.2 389.7 1253.8 392.6 1258.8 394.5 1269.8 393.5 1289.8 388.4 1314.8 383.6 1324.8 380 1328.4 377 1329.9ZM134 1364.8 79 1365.4 79 1350.6 126 1350.8 138 1351.6 142.7 1352.8 144.4 1355.8 144 1361.9 141.3 1363.8 134 1364.8ZM163 1393.8 79 1394.1 79 1373.9 165 1374.3 179 1375.5 183.9 1377.8 185 1385.8 183.3 1390.8 177.4 1392.8 163 1393.8Z" fill="#000fff" fill-rule="evenodd"/>
<path d="M378 1327.8 374 1328.6 370 1326.9 367 1323.8 364.3 1318.8 360.4 1303.8 357.5 1279.8 357.6 1265.8 360.5 1255.8 366 1250.3 371 1247.3 374 1246.6 380 1248 389 1253.9 392.4 1260.8 393.8 1269.8 392.7 1289.8 388.7 1310.8 384.3 1321.8 381 1325.8 378 1327.8ZM118 1364.8 79 1364.9 79 1351.1 130 1351.7 137.2 1352.8 139.4 1354.8 139.5 1360.8 138.1 1362.8 133 1364 118 1364.8ZM163 1391.8 79 1392.7 79 1375.4 154 1375.7 166 1376.6 170.7 1377.8 172.8 1379.8 173.3 1381.8 172.4 1388.8 169.1 1390.8 163 1391.8Z" fill="#0026ff" fill-rule="evenodd"/>
<path d="M376 1327 372 1326.6 369 1324.6 363.9 1315.8 359.6 1295.8 357.7 1275.8 358.3 1263.8 361 1255.8 368 1249.5 374 1247 380 1248.5 389 1254.6 392.2 1261.8 393.3 1270.8 391.8 1292.8 387.4 1312.8 382.4 1322.8 379 1325.8 376 1327ZM123 1363.8 79 1364.3 79 1351.7 118 1352 129.1 1352.8 132 1353.8 133.4 1356.8 132.5 1361.8 123 1363.8Z" fill="#003dff" fill-rule="evenodd"/>
<path d="M378 1325 374 1325.7 371 1324.7 368 1322.1 365 1317 361.3 1303.8 358.2 1279.8 358.3 1266.8 360.4 1257.8 365 1252.1 370 1248.7 374 1247.4 380 1248.9 388.6 1254.8 391.5 1260.8 392.9 1269.8 391.8 1289.8 388.3 1307.8 384 1319 381 1322.9 378 1325ZM111 1362.8 79 1363.1 79 1352.8 114 1353.5 119 1354.2 121.7 1355.8 122.1 1358.8 121.3 1360.8 119.4 1361.8 111 1362.8Z" fill="#0054ff" fill-rule="evenodd"/>
<path d="M377 1324.2 373 1324.4 370 1322.8 367 1319.4 364.7 1314.8 360.5 1296.8 358.4 1277.8 358.7 1265.8 361.3 1256.8 363.5 1253.8 368 1250.3 374 1247.8 380 1249.3 388 1254.8 391.1 1260.8 392.5 1269.8 391.5 1288.8 387.6 1308.8 383 1319.2 380 1322.5 377 1324.2Z" fill="#006bff" fill-rule="evenodd"/>
<path d="M377 1323.1 373 1323.3 370 1321.7 364.8 1313.8 360.7 1295.8 358.7 1276.8 359.4 1263.8 361.7 1256.8 367 1251.4 374 1248.1 380 1249.6 388 1255.4 390.7 1260.8 392.2 1270.8 391.3 1287.8 387.4 1307.8 383 1318 380 1321.4 377 1323.1Z" fill="#0081ff" fill-rule="evenodd"/>
<path d="M377 1322.1 373 1322.3 370 1320.7 365 1313 360.8 1294.8 359 1276.6 359.6 1263.8 362 1256.9 368.4 1250.8 374 1248.4 379.7 1249.8 388 1255.9 390.4 1260.8 391.9 1270.8 391.1 1286.8 387.2 1306.8 383 1316.9 380 1320.3 377 1322.1Z" fill="#0098ff" fill-rule="evenodd"/>
<path d="M377 1321.1 374 1321.5 370.1 1319.8 365 1311.8 360.9 1293.8 359.4 1276.8 359.9 1263.8 362 1257.5 366.1 1252.8 370.6 1249.8 374 1248.7 379 1249.7 387.4 1255.8 390.1 1260.8 391.5 1269.8 391 1284.5 387 1306.2 383 1315.8 380 1319.3 377 1321.1Z" fill="#00afff" fill-rule="evenodd"/>
<path d="M376 1320 373 1319.9 370 1318.2 365 1309.9 361.4 1293.8 359.7 1275.8 360 1265.7 362.3 1257.8 368 1251.8 374 1249.1 379 1250.2 387 1255.9 389.9 1261.8 391.1 1270.8 390 1288.9 386.5 1305.8 382 1315.7 379 1318.7 376 1320Z" fill="#00c6ff" fill-rule="evenodd"/>
<path d="M377 1318.3 374 1318.7 371 1317.5 366 1310.6 362.3 1296.8 360.1 1277.8 360.2 1266.8 362.3 1258.8 367.4 1252.8 374 1249.5 379 1250.6 386.2 1255.8 389.4 1261.8 390.7 1269.8 389.8 1286.8 386.5 1303.8 382.2 1313.8 377 1318.3Z" fill="#00ddff" fill-rule="evenodd"/>
<path d="M377 1316.9 374 1317.3 371 1316.1 366 1308.9 362.4 1294.8 360.4 1277.8 360.6 1266.8 362.7 1258.8 368 1252.8 374 1250 379 1251.1 386.5 1256.8 389.2 1262.8 390.3 1269.8 389.5 1285.8 386.2 1302.8 382 1312.5 377 1316.9Z" fill="#00f4ff" fill-rule="evenodd"/>
<path d="M376 1315.9 373 1315.8 370 1313.9 366 1307.3 362.5 1292.8 360.7 1275.8 361.1 1265.8 363.2 1258.8 368 1253.3 374 1250.3 379 1251.5 385.9 1256.8 388.8 1262.8 389.9 1270.8 388.8 1287.8 385.6 1302.8 381.5 1311.8 379 1314.4 376 1315.9Z" fill="#0cfff3" fill-rule="evenodd"/>
<path d="M375 1314.8 370 1312.6 365.7 1304.8 362.2 1288.8 361 1271.8 361.8 1263.8 364.2 1257.8 370 1252.2 375 1250.7 380 1252.4 386.2 1257.8 388.6 1263.8 389.6 1271.8 388.4 1287.8 384.7 1303.8 380.4 1311.8 378 1313.8 375 1314.8Z" fill="#23ffdc" fill-rule="evenodd"/>
<path d="M377 1313.2 372 1313 369 1310.2 367 1306.8 363.4 1293.8 361.4 1277.8 361.5 1267.8 363.5 1259.8 368.3 1253.8 374 1251 379 1252.2 385 1256.9 387.7 1261.8 389.1 1269.8 388.4 1284.8 385.5 1299.8 382 1308.4 377 1313.2Z" fill="#3affc5" fill-rule="evenodd"/>
<path d="M377 1312.1 374 1312.6 372 1311.9 369 1309 367 1305.5 363.6 1292.8 361.7 1276.8 361.8 1267.8 363.8 1259.8 368.8 1253.8 374 1251.4 379 1252.6 385 1257.5 387.6 1262.8 388.8 1269.8 388.2 1283.8 385.3 1298.8 382 1307.1 377 1312.1Z" fill="#50ffaf" fill-rule="evenodd"/>
<path d="M377 1311 374 1311.5 372 1310.8 367.3 1304.8 363.7 1291.8 362 1277.8 362.1 1267.8 364.2 1259.8 369 1254 374 1251.7 379 1252.9 384.8 1257.8 387.3 1262.8 388.5 1269.8 387.7 1284.8 385.1 1297.8 382 1305.9 377 1311Z" fill="#67ff98" fill-rule="evenodd"/>
<path d="M377 1310 374 1310.5 372 1309.8 367.4 1303.8 364.2 1292.8 362.3 1277.8 362.4 1267.8 364.5 1259.8 369 1254.3 374 1252 379 1253.2 384.4 1257.8 386.9 1262.8 388.2 1269.8 387.5 1283.8 385 1296.8 381.4 1305.8 377 1310Z" fill="#7eff81" fill-rule="evenodd"/>
<path d="M377 1309.1 374 1309.6 372 1308.8 367.9 1303.8 364.5 1292.8 362.6 1277.8 362.6 1267.8 364.3 1260.8 368.9 1254.8 374 1252.3 379 1253.5 384 1257.8 386.6 1262.8 387.9 1269.8 387.3 1282.8 384.6 1296.8 381.3 1304.8 377 1309.1Z" fill="#95ff6a" fill-rule="evenodd"/>
<path d="M377 1308.1 374 1308.7 372 1307.9 367.9 1302.8 364.6 1291.8 362.8 1276.8 362.9 1267.8 364.6 1260.8 369 1255 374 1252.5 379 1253.8 383.6 1257.8 386.3 1262.8 387.6 1269.8 387 1282.8 384.5 1295.8 381 1304.3 377 1308.1Z" fill="#acff53" fill-rule="evenodd"/>
<path d="M375 1307.8 372 1307 370 1305.2 366.8 1298.8 363.7 1284.8 362.9 1271.8 363.6 1264.8 366 1258.8 370 1254.5 375 1252.8 379 1254.1 384 1258.8 386.6 1264.8 387.4 1271.8 386.5 1284.8 383.5 1297.8 380 1304.7 375 1307.8Z" fill="#c3ff3c" fill-rule="evenodd"/>
<path d="M375 1307 371 1305.4 367 1298.4 364.1 1285.8 363.1 1271.8 363.9 1264.8 366.3 1258.8 371 1254.1 375 1253 380 1255.1 384.4 1259.8 386.3 1264.8 387.1 1271.8 386.2 1284.8 383.5 1296.8 380 1303.8 378 1305.8 375 1307Z" fill="#daff25" fill-rule="evenodd"/>
<path d="M376 1306 372 1305.3 367.9 1299.8 364.8 1288.8 363.4 1275.8 363.6 1267.8 365.4 1260.8 369.1 1255.8 374 1253.3 379 1254.6 383.4 1258.8 385.8 1263.8 386.9 1270.8 386.2 1282.8 383.7 1294.8 380.1 1302.8 376 1306Z" fill="#f1ff0e" fill-rule="evenodd"/>
<path d="M376 1305.2 372 1304.5 368 1299 365.1 1288.8 363.6 1275.8 363.8 1267.8 365.7 1260.8 369.4 1255.8 374 1253.5 379 1254.9 383.1 1258.8 385.5 1263.8 386.6 1270.8 385.8 1283.8 383.4 1294.8 380 1302 376 1305.2Z" fill="#fff600" fill-rule="evenodd"/>
<path d="M377 1304 374 1304.6 372 1303.8 368.3 1298.8 365.3 1288.8 363.9 1276.8 363.9 1268.8 365.5 1261.8 369 1256.5 374 1253.8 378 1254.6 382.8 1258.8 385.3 1263.8 386.4 1269.8 385.9 1281.8 384 1291.8 381 1299.6 377 1304Z" fill="#ffe000" fill-rule="evenodd"/>
<path d="M375 1303.9 371 1302.2 367.5 1295.8 364.7 1283.8 363.9 1271.8 364.5 1265.8 366.7 1259.8 371 1255.1 375 1253.9 379 1255.4 383.2 1259.8 385.3 1264.8 386.2 1271.8 385.4 1283.8 382.7 1294.8 379 1301.6 375 1303.9Z" fill="#ffc900" fill-rule="evenodd"/>
<path d="M376 1303 372 1302.3 368.2 1296.8 365.4 1286.8 364.2 1275.8 364.4 1267.8 366.4 1260.8 370 1256 374 1254.2 378 1255 382.3 1258.8 384.8 1263.8 386 1270.8 385.4 1281.8 383.1 1292.8 380 1299.6 376 1303Z" fill="#ffb200" fill-rule="evenodd"/>
<path d="M377 1301.9 373 1302.2 369 1297.7 366.3 1289.8 364.5 1277.8 364.5 1268.8 366 1262.2 369.4 1256.8 374 1254.4 378 1255.2 382 1258.8 384.6 1263.8 385.7 1269.8 385.3 1280.8 383.4 1290.8 380.6 1297.8 377 1301.9Z" fill="#ff9b00" fill-rule="evenodd"/>
<path d="M375 1301.9 371 1300 367.7 1293.8 365.5 1284.8 364.5 1271.8 365.6 1263.8 368 1258.8 371 1255.7 375 1254.5 378.6 1255.8 382.5 1259.8 384.6 1264.8 385.6 1271.8 384.5 1284.8 382.5 1292.8 379 1299.4 375 1301.9Z" fill="#ff8400" fill-rule="evenodd"/>
<path d="M376 1301 372 1300.3 368.8 1295.8 366 1286.6 364.7 1275.8 365 1267.8 367 1260.9 370 1256.7 374 1254.8 378 1255.6 382 1259.5 384.1 1263.8 385.3 1269.8 385 1279.6 383 1290.3 380 1297.4 376 1301Z" fill="#ff6d00" fill-rule="evenodd"/>
<path d="M377 1299.9 373 1300.2 369 1295.4 366 1285.5 365 1276.8 365 1268.8 367 1261.4 370.4 1256.8 374 1255.2 377.8 1255.8 382 1259.8 385.1 1269.8 385 1277.2 383 1289.3 381 1294.8 377 1299.9Z" fill="#ff5600" fill-rule="evenodd"/>
<path d="M376 1299.2 374 1299.4 372 1298.4 369 1294 366.3 1284.8 365.3 1275.8 365.3 1269.8 367 1262.4 370 1257.7 374 1255.7 377 1256 381 1259.2 383.7 1264.8 384.7 1270.8 384 1282.4 382.6 1288.8 380 1295.3 376 1299.2Z" fill="#ff3f00" fill-rule="evenodd"/>
<path d="M377 1296.9 375 1297.7 373 1297.3 370 1294 367.4 1286.8 366 1277.5 365.9 1269.8 367.2 1263.8 370 1258.9 374 1256.6 377 1257.1 380.4 1259.8 383 1264.7 384 1269.8 383.9 1277.8 382.4 1286.8 380 1293.2 377 1296.9Z" fill="#ff2800" fill-rule="evenodd"/>
<path d="M375 1295.9 372 1294.7 369 1289.4 367 1280.8 366.4 1271.8 367 1266.7 369 1261.6 372 1258.4 375 1257.7 378 1258.8 381 1262.1 382.8 1266.8 383.4 1271.8 382.8 1280.8 381 1288.5 378 1294.1 375 1295.9Z" fill="#ff1200" fill-rule="evenodd"/>
<path d="M375 1293.9 372 1292.6 369.4 1287.8 367.7 1280.8 367.1 1271.8 369.3 1262.8 372 1259.7 375 1258.9 378 1260.1 380.4 1262.8 382.1 1266.8 382.7 1271.8 382.2 1279.8 380.6 1286.8 378 1292 375 1293.9Z" fill="#fa0000" fill-rule="evenodd"/>
<path d="M376 1291.4 373 1291.2 371 1288.8 369 1283.1 368 1275.8 368 1269.8 369 1265.4 371 1262 374 1260.2 377 1260.8 379.2 1262.8 381 1266.3 381.9 1270.8 380.5 1283.8 378.4 1288.8 376 1291.4Z" fill="#e30000" fill-rule="evenodd"/>
<path d="M376 1289 374 1289.3 371.5 1286.8 368.8 1275.8 368.8 1269.8 369.8 1265.8 371.9 1262.8 374 1261.7 376 1261.9 378.5 1263.8 381 1270.8 379.9 1281.8 378 1286.7 376 1289Z" fill="#cc0000" fill-rule="evenodd"/>
<path d="M376 1286 374 1286.4 372 1284.4 369.8 1275.8 370.3 1267.8 372 1264.6 374 1263.4 376 1263.6 378 1265.3 379.9 1270.8 379 1280.3 376 1286Z" fill="#b50000" fill-rule="evenodd"/>
<path d="M375 1282.9 373 1281.9 372 1279.9 370.9 1271.8 372 1267.3 375 1265.5 377.7 1267.8 378.6 1271.8 377.8 1278.8 375 1282.9Z" fill="#9e0000" fill-rule="evenodd"/>
<g filter="url(#spk)"><rect x="79" y="1168.8" width="324.5" height="284.0" fill="#000"/>
<path d="M138 1362.9 79 1363.7 79 1352.3 131 1352.7 145.4 1354.8 146.8 1357.8 145.9 1360.8 138 1362.9Z" fill="#4c4c4c" fill-rule="evenodd"/>
<path d="M132 1362.8 79 1363.3 79 1352.7 129 1353.1 138.4 1353.8 143 1355.8 142.4 1360.8 132 1362.8Z" fill="#575757" fill-rule="evenodd"/>
<path d="M120 1362.8 79 1363 79 1353 131 1353.7 137.6 1354.8 139.7 1356.8 139.4 1359.8 136 1361.6 120 1362.8Z" fill="#616161" fill-rule="evenodd"/>
<path d="M128 1361.8 79 1362.5 79 1353.5 122.3 1353.8 134.4 1355.8 134.8 1359.8 128 1361.8Z" fill="#6b6b6b" fill-rule="evenodd"/>
<path d="M109 1361.8 79 1361.9 79 1354.1 122.7 1354.8 127.5 1355.8 129.2 1357.8 128.2 1359.8 125.5 1360.8 109 1361.8Z" fill="#757575" fill-rule="evenodd"/>
<path d="M112 1359.9 79 1360.7 79 1355.4 109.2 1355.8 116.4 1357.8 112 1359.9Z" fill="#7f7f7f" fill-rule="evenodd"/>
</g>
<path d="M230 1303.5H345M230 1307.5H345M230 1311.5H345M250 1299.5H345" stroke="#000080" stroke-width="1" fill="none"/>
<rect x="99.2" y="1300" width="1.5" height="151" fill="#000080"/>
<rect x="117.4" y="1395" width="1.2" height="56" fill="#000080"/>
<rect x="132.4" y="1380" width="1.2" height="71" fill="#000080"/>
<rect x="149.2" y="1250" width="1.5" height="201" fill="#000080"/>
<rect x="176.2" y="1230" width="1.5" height="221" fill="#000080"/>
<rect x="209.1" y="1200" width="1.8" height="251" fill="#1020c0"/>
<rect x="285.9" y="1171" width="2.2" height="280" fill="#000070"/>
<rect x="301.4" y="1171" width="1.2" height="280" fill="#000080"/>
<rect x="306.4" y="1171" width="1.2" height="280" fill="#000080"/>
<rect x="324.4" y="1300" width="1.2" height="151" fill="#000080"/>
<rect x="346.2" y="1171" width="1.5" height="280" fill="#000080"/>
<rect x="81.0" y="1328.0" width="4.4" height="14" fill="url(#rimg)"/>
<rect x="85.4" y="1317.5" width="11.1" height="10" fill="url(#rimg)"/>
<rect x="96.5" y="1306.5" width="10.3" height="8" fill="url(#rims)"/>
<rect x="106.8" y="1295.2" width="11.0" height="8" fill="url(#rims)"/>
<rect x="117.8" y="1283.9" width="10.7" height="8" fill="url(#rims)"/>
<rect x="128.5" y="1274.8" width="10.7" height="8" fill="url(#rims)"/>
<rect x="139.2" y="1262.6" width="10.7" height="8" fill="url(#rims)"/>
<rect x="149.9" y="1251.5" width="10.7" height="8" fill="url(#rims)"/>
<rect x="160.6" y="1239.8" width="11.3" height="8" fill="url(#rims)"/>
<rect x="171.9" y="1229.1" width="11.0" height="8" fill="url(#rims)"/>
<rect x="182.9" y="1217.9" width="10.1" height="8" fill="url(#rims)"/>
<rect x="193.0" y="1206.2" width="10.9" height="8" fill="url(#rims)"/>
<rect x="203.9" y="1195.7" width="10.7" height="8" fill="url(#rims)"/>
<rect x="214.6" y="1183.8" width="10.7" height="8" fill="url(#rims)"/>
<rect x="225.3" y="1171.8" width="11.0" height="8" fill="url(#rims)"/>
<path d="M80.0 1169.8 80.0 1328.0 85.4 1328.0 85.4 1317.5 96.5 1317.5 96.5 1306.5 106.8 1306.5 106.8 1295.2 117.8 1295.2 117.8 1283.9 128.5 1283.9 128.5 1274.8 139.2 1274.8 139.2 1262.6 149.9 1262.6 149.9 1251.5 160.6 1251.5 160.6 1239.8 171.9 1239.8 171.9 1229.1 182.9 1229.1 182.9 1217.9 193.0 1217.9 193.0 1206.2 203.9 1206.2 203.9 1195.7 214.6 1195.7 214.6 1183.8 225.3 1183.8 225.3 1171.8 225.3 1169.8Z" fill="#fff"/>
</g>
<path d="M134.4 1170.8V1450.8M187.8 1170.8V1450.8M241.2 1170.8V1450.8M294.7 1170.8V1450.8M348.1 1170.8V1450.8M81.0 1226.8H401.5M81.0 1282.8H401.5M81.0 1338.8H401.5M81.0 1394.8H401.5" stroke="#000" stroke-opacity="0.12" stroke-width="1" fill="none"/>
<path d="M134.4 1170.8v3M134.4 1450.8v-3M187.8 1170.8v3M187.8 1450.8v-3M241.2 1170.8v3M241.2 1450.8v-3M294.7 1170.8v3M294.7 1450.8v-3M348.1 1170.8v3M348.1 1450.8v-3M81.0 1226.8h3M401.5 1226.8h-3M81.0 1282.8h3M401.5 1282.8h-3M81.0 1338.8h3M401.5 1338.8h-3M81.0 1394.8h3M401.5 1394.8h-3" stroke="#333" stroke-width="1" fill="none"/>
<rect x="81.0" y="1170.8" width="320.5" height="280.0" fill="none" stroke="#3a3a3a" stroke-width="1.1"/>
<text transform="translate(40.90,1181.03) scale(0.1766,0.1690)" font-size="100" fill="#1a1a1a" xml:space="preserve"><tspan font-family="Liberation Sans" font-weight="400">500</tspan></text>
<text transform="translate(40.90,1236.13) scale(0.1766,0.1690)" font-size="100" fill="#1a1a1a" xml:space="preserve"><tspan font-family="Liberation Sans" font-weight="400">450</tspan></text>
<text transform="translate(40.90,1291.23) scale(0.1766,0.1690)" font-size="100" fill="#1a1a1a" xml:space="preserve"><tspan font-family="Liberation Sans" font-weight="400">400</tspan></text>
<text transform="translate(40.90,1343.13) scale(0.1766,0.1690)" font-size="100" fill="#1a1a1a" xml:space="preserve"><tspan font-family="Liberation Sans" font-weight="400">350</tspan></text>
<text transform="translate(40.90,1398.23) scale(0.1766,0.1690)" font-size="100" fill="#1a1a1a" xml:space="preserve"><tspan font-family="Liberation Sans" font-weight="400">300</tspan></text>
<text transform="translate(40.90,1457.53) scale(0.1766,0.1690)" font-size="100" fill="#1a1a1a" xml:space="preserve"><tspan font-family="Liberation Sans" font-weight="400">250</tspan></text>
<text transform="translate(65.50,1474.54) scale(0.1772,0.1648)" font-size="100" fill="#1a1a1a" xml:space="preserve"><tspan font-family="Liberation Sans" font-weight="400">400</tspan></text>
<text transform="translate(119.70,1474.54) scale(0.1772,0.1648)" font-size="100" fill="#1a1a1a" xml:space="preserve"><tspan font-family="Liberation Sans" font-weight="400">450</tspan></text>
<text transform="translate(171.50,1474.54) scale(0.1772,0.1648)" font-size="100" fill="#1a1a1a" xml:space="preserve"><tspan font-family="Liberation Sans" font-weight="400">500</tspan></text>
<text transform="translate(227.20,1474.54) scale(0.1772,0.1648)" font-size="100" fill="#1a1a1a" xml:space="preserve"><tspan font-family="Liberation Sans" font-weight="400">550</tspan></text>
<text transform="translate(279.20,1474.54) scale(0.1772,0.1648)" font-size="100" fill="#1a1a1a" xml:space="preserve"><tspan font-family="Liberation Sans" font-weight="400">600</tspan></text>
<text transform="translate(332.00,1474.54) scale(0.1772,0.1648)" font-size="100" fill="#1a1a1a" xml:space="preserve"><tspan font-family="Liberation Sans" font-weight="400">650</tspan></text>
<text transform="translate(387.20,1474.54) scale(0.1772,0.1648)" font-size="100" fill="#1a1a1a" xml:space="preserve"><tspan font-family="Liberation Sans" font-weight="400">700</tspan></text>
<text transform="translate(139.80,1492.95) scale(0.1612,0.1786)" font-size="100" fill="#1a1a1a" xml:space="preserve"><tspan font-family="Liberation Sans" font-weight="700">Emission Wavelength</tspan><tspan font-family="Liberation Sans" font-weight="400"> (nm)</tspan></text>
<text transform="translate(26.54,1414.00) rotate(-90) scale(0.1594,0.1219)" font-size="100" fill="#1a1a1a" xml:space="preserve"><tspan font-family="Liberation Sans" font-weight="700">Excitation Wavelength</tspan></text>
<text transform="translate(28.70,1229.00) rotate(-90) scale(0.1669,0.1668)" font-size="100" fill="#1a1a1a" xml:space="preserve"><tspan font-family="Liberation Sans" font-weight="400">(nm)</tspan></text>
<text transform="translate(199.70,1525.57) scale(0.2032,0.1967)" font-size="100" fill="#1a1a1a" xml:space="preserve"><tspan font-family="Liberation Serif" font-weight="400">(</tspan><tspan font-family="Liberation Serif" font-weight="700">a7</tspan><tspan font-family="Liberation Serif" font-weight="400">)</tspan></text>
<text transform="translate(99.90,1206.90) scale(0.1559,0.1958)" font-size="100" fill="#000" xml:space="preserve"><tspan font-family="Liberation Sans" font-weight="700">S7</tspan></text>
<g clip-path="url(#cb7)">
<rect x="590.4" y="1165.6" width="323.4" height="284.9" fill="#fff"/>
<g filter="url(#tex)"><rect x="588.4" y="1163.6" width="327.4" height="288.9" fill="#000"/>
<path d="M915.4 1451.6 588.4 1451.6 588.4 1163.6 915.4 1163.6 915.4 1451.6Z" fill="#4c4c4c" fill-rule="evenodd"/>
<path d="M915.4 1451.6 588.4 1451.6 588.4 1163.6 915.4 1163.6 915.4 1451.6Z" fill="#545454" fill-rule="evenodd"/>
<path d="M915.4 1451.6 588.4 1451.6 588.4 1163.6 915.4 1163.6 915.4 1451.6Z" fill="#5c5c5c" fill-rule="evenodd"/>
<path d="M915.4 1451.6 588.4 1451.6 588.4 1163.6 915.4 1163.6 915.4 1451.6Z" fill="#636363" fill-rule="evenodd"/>
<path d="M915.4 1451.6 588.4 1451.6 588.4 1163.6 915.4 1163.6 915.4 1451.6Z" fill="#6b6b6b" fill-rule="evenodd"/>
<path d="M915.4 1451.6 588.4 1451.6 588.4 1163.6 915.4 1163.6 915.4 1451.6Z" fill="#737373" fill-rule="evenodd"/>
<path d="M915.4 1451.6 588.4 1451.6 588.4 1163.6 915.4 1163.6 915.4 1451.6Z" fill="#7a7a7a" fill-rule="evenodd"/>
<path d="M915.4 1451.6 588.4 1451.6 588.4 1163.6 915.4 1163.6 915.4 1451.6Z" fill="#828282" fill-rule="evenodd"/>
<path d="M915.4 1451.6 588.4 1451.6 588.4 1163.6 915.4 1163.6 915.4 1451.6Z" fill="#8a8a8a" fill-rule="evenodd"/>
</g>
<path d="M845.4 1406.7 615.4 1406.7 606.4 1406.2 601.4 1404 599.3 1400.6 598.4 1395.6 598.2 1358.6 595.7 1353.6 595.1 1349.6 598.2 1340.6 598.3 1178.6 598.9 1170.6 601.4 1166 607.6 1163.6 855.8 1163.6 857.1 1164.6 859.5 1170.6 859.3 1182.6 856.7 1187.6 850.4 1191 847.5 1209.6 851.2 1227.6 853.4 1258.2 855.4 1262.4 857.4 1259.9 858.4 1260.6 860.4 1271.1 861.3 1271.6 860.8 1288.6 860.4 1294.8 859.4 1294 855.4 1273.3 853.4 1276.6 851.2 1287.6 852.6 1309.6 851.9 1316.6 850.4 1321.1 848.4 1323.7 847.4 1323.9 845.4 1322.2 843.4 1323.3 841.8 1329.6 844.1 1381.6 845.4 1386.6 849.8 1392.6 850.6 1397.6 849.7 1404.6 848.4 1406 845.4 1406.7ZM860.4 1232.7 858.4 1231.5 857.1 1228.6 854.9 1217.6 855.9 1208.6 857.4 1205.4 859.4 1203.9 861.6 1208.6 862.8 1220.6 862.4 1228.2 860.4 1232.7ZM899.4 1331.8 883.4 1332.3 880.4 1331.3 877.4 1328.5 874.1 1320.6 872.4 1309 868.1 1301.6 865 1293.6 862.1 1279.6 861.8 1258.6 863.6 1247.6 866.3 1238.6 870 1230.6 874.4 1224.6 879.4 1220.4 885.4 1218.2 889.4 1218.4 894.4 1220.3 898.4 1223.4 902.4 1228.1 908.8 1241.6 912 1256.6 912.4 1274.6 909.4 1292.2 907.8 1315.6 904.8 1326.6 902.4 1329.9 899.4 1331.8ZM859.4 1374.5 856.4 1372.6 855 1368.6 855.3 1361.6 857.4 1359.2 860.4 1361.2 861.4 1364.6 861 1370.6 859.4 1374.5Z" fill="#0000b2" fill-rule="evenodd"/>
<path d="M845.4 1404.7 616.4 1404.8 607.4 1404.3 603.3 1402.6 601.3 1399.6 600.4 1394.6 600.1 1349.6 600.3 1179.6 600.9 1171.6 603.1 1167.6 606.4 1166 611.4 1165.3 687.4 1165.2 690.2 1163.6 848.4 1163.6 851.4 1165.7 855.4 1165.8 856.6 1168.6 855.9 1174.6 852.4 1184.5 850.4 1187.3 846.6 1208.6 847.3 1217.6 850.5 1230.6 853.3 1267.6 850.5 1289.6 851.8 1312.6 849.4 1319.7 848.4 1319.9 845.4 1317.3 843.4 1319.6 841.4 1325.4 840.8 1330.6 843.5 1381.6 844.9 1387.6 848.6 1393.6 849.6 1397.6 849 1402.6 847.4 1404.3 845.4 1404.7ZM860.4 1230.5 859.4 1230.4 857.4 1226.7 855.8 1217.6 856.7 1209.6 859.4 1205.8 861.4 1210.3 862.3 1219.6 862 1226.6 860.4 1230.5ZM897.4 1331.6 883.4 1331.6 880.4 1330.5 877.3 1327.6 874.3 1319.6 872.4 1303 867.3 1291.6 864.4 1277.6 864.3 1258.6 865.8 1249.6 868.6 1240.6 872 1233.6 876.4 1227.9 880.4 1224.8 885.4 1223 889.4 1223.2 893.4 1224.7 900.7 1231.6 907 1243.6 909.7 1258.6 910.1 1271.6 907.4 1315.6 905.6 1323.6 903.6 1327.6 901.4 1330 897.4 1331.6ZM830.6 1242.6 831.3 1237.6 830.4 1233.7 829.4 1234.6 828.9 1238.6 829.4 1242.5 830.6 1242.6ZM859.4 1284.2 857.1 1270.6 857.4 1266.6 858.4 1266.2 860 1276.6 859.4 1284.2ZM859.4 1369.8 858.4 1370.2 857 1367.6 857 1364.6 858.4 1363.3 859.7 1365.6 859.4 1369.8Z" fill="#0000c9" fill-rule="evenodd"/>
<path d="M844.4 1402.7 617.4 1402.7 609.4 1402.3 604.9 1400.6 602.7 1395.6 602.2 1380.6 602.3 1181.6 602.8 1173.6 604.7 1169.6 608.4 1167.8 614.4 1167.3 689.4 1167.2 694.3 1163.6 839.8 1163.6 844.2 1165.6 847.4 1168.9 853.4 1167.8 855.1 1168.6 855.4 1172.7 850.2 1184.6 845.7 1207.6 846.2 1218.6 849.4 1234.1 849.5 1239.6 849.4 1242.2 847.4 1237.6 846.4 1238.8 844.5 1259.6 845.4 1263.1 846.4 1262.7 849.4 1254.3 851.6 1268.6 849.7 1290.6 850.8 1311.6 849.4 1315.7 846.4 1312.1 844.4 1314.4 841.1 1322.6 839.9 1330.6 840.7 1358.6 842.9 1382.6 844 1387.6 848.4 1397.6 847.6 1401.6 844.4 1402.7ZM860.4 1228.1 858.4 1226.7 856.7 1218.6 857.4 1210.8 859.4 1207.9 860.5 1209.6 861.7 1217.6 861.6 1224.6 860.4 1228.1ZM898.4 1330.7 883.4 1330.9 880.1 1329.6 877.4 1326.8 874.4 1318.5 872.4 1297.9 868.6 1288.6 866.4 1277.6 866.2 1259.6 869.9 1243.6 876.4 1232.3 880.4 1228.8 885.4 1226.9 889.4 1227 893.4 1228.7 903.4 1238.1 905.5 1241.6 907.9 1250.6 909 1272.6 907.4 1313.6 904.4 1325.4 902.1 1328.6 898.4 1330.7ZM830.6 1246.6 832 1242.6 832.5 1235.6 831.9 1230.6 830.4 1229 828.4 1233 827.8 1238.6 828.8 1244.6 830.6 1246.6ZM825.4 1335.6 826.6 1332.6 826.4 1327.7 825.4 1329.6 825.4 1335.6ZM815.5 1354.6 815.4 1352.2 815.5 1354.6Z" fill="#0000e0" fill-rule="evenodd"/>
<path d="M844.4 1399.7 620.4 1400 611.4 1399.6 607.4 1398.1 605.6 1394.6 605 1388.6 605 1294.6 605 1182.6 605.5 1175.6 607.4 1171.9 610.4 1170.6 616.4 1170 690.4 1170 697.6 1163.6 821.6 1163.6 830.9 1164.6 837.4 1166.7 840.3 1169.6 842.4 1177.3 843.4 1177.8 847.4 1172.5 851.4 1173.4 844.6 1202.6 845.3 1229.6 842.7 1264.6 843.4 1269.6 847.4 1269.8 848.7 1272.6 848.4 1298.7 847.6 1302.6 840.2 1321.6 838.6 1330.6 839.5 1360.6 841.9 1382.6 842.8 1387.6 846.5 1396.6 846.2 1398.6 844.4 1399.7ZM859.4 1224.6 857.8 1217.6 858.4 1212.6 859.4 1211.2 860.4 1212.9 861 1219.6 860.4 1224.3 859.4 1224.6ZM831.5 1249.6 833.1 1243.6 833.8 1232.6 833 1224.6 831.4 1221.8 827.9 1229.6 826.9 1237.6 828.4 1247.3 830.4 1250.5 831.5 1249.6ZM898.4 1329.8 883.4 1329.9 880.1 1328.6 877.4 1325.6 874.4 1316.4 872.5 1293.6 868.1 1277.6 867.8 1261.6 870.9 1246.6 874.1 1239.6 877.4 1235 881.4 1231.7 885.4 1230.2 891.4 1231 897.2 1235.6 902.4 1238.2 905.4 1242.8 907.5 1251.6 908.4 1282.6 907.4 1310.2 904.4 1324.1 902.1 1327.6 898.4 1329.8ZM815.5 1274.6 816.8 1268.6 815.4 1262 814.2 1262.6 813.2 1267.6 815.5 1274.6ZM833.5 1316.6 834.1 1305.6 833.3 1301.6 831.4 1299.2 830.4 1303.6 830.6 1312.6 831.9 1316.6 833.5 1316.6ZM823.6 1345.6 825.4 1342.6 827.9 1333.6 828.3 1326.6 827.4 1322.4 826.4 1322.3 825.4 1323.8 824.2 1328.6 823.6 1345.6ZM815.7 1359.6 817.7 1351.6 816.9 1347.6 815.4 1345.4 813.6 1353.6 814.4 1358.1 815.7 1359.6Z" fill="#0000f7" fill-rule="evenodd"/>
<path d="M742.4 1394.7 731.4 1394.8 715.4 1393.3 708.4 1391.4 698.4 1385.9 628.4 1385.8 623.4 1385.1 620.4 1382.9 619.3 1377.6 619.1 1358.6 614.2 1354.6 612.4 1349.6 613.9 1345.6 616.4 1342.9 619.1 1341.6 619.1 1198.6 620.2 1187.6 622.4 1185.3 627.4 1184.3 685.4 1184.1 688.9 1176.6 700.6 1163.6 811.4 1163.6 809.9 1165.6 810.4 1166.2 820.4 1167 827.1 1168.6 830.1 1170.6 831.6 1173.6 831.8 1177.6 830.7 1180.6 826.6 1183.6 821.4 1185.4 816.5 1185.6 820.4 1187.7 822 1193.6 823.9 1217.6 823.5 1239.6 826.4 1256.6 826.4 1266.8 824.4 1270.8 822.4 1270.2 818 1253.6 815.4 1249.8 813.4 1251.1 812.2 1253.6 810.1 1262.6 816.4 1284 817.2 1284.6 817.4 1287.5 818.4 1286.9 819.6 1288.6 823.3 1303.6 821 1315.6 819.4 1332.6 818.4 1334 816.4 1333.6 816.2 1337.6 811.4 1356.6 813.9 1377.6 813.6 1381.6 812.4 1384.5 810.4 1385.8 775.4 1385.9 769.4 1389.5 761.4 1392.4 752.4 1394.1 742.4 1394.7ZM802.5 1240.6 804.5 1235.6 804.9 1229.6 803.4 1222.6 801.4 1220 800.4 1223.1 800.3 1229.6 801.3 1238.6 802.5 1240.6ZM895.4 1325.6 884.4 1325.5 880.4 1323.7 878.4 1321 875.4 1309.5 874.8 1295.6 870.9 1283.6 869.3 1274.6 869.5 1259.6 872.8 1246.6 878.4 1237.2 882.4 1234.2 886.4 1233 890.4 1233.6 893.4 1235.3 902.4 1243.9 905.4 1252.1 906.4 1261.8 906.4 1296 905.4 1311 902.4 1321.4 899.3 1324.6 895.4 1325.6ZM822.4 1385.8 816.4 1385.5 815.1 1382.6 815 1378.6 819.4 1364.7 821.4 1364.3 824.4 1367.3 825.4 1366.8 828.4 1348.9 830.4 1344.4 831.4 1344.5 834.4 1353.6 834.4 1368 831.4 1377 829.4 1378.6 826.4 1378 824.4 1383.8 822.4 1385.8Z" fill="#000fff" fill-rule="evenodd"/>
<path d="M722.4 1205.6 710.4 1205.5 700.4 1203.5 693.1 1199.6 689 1194.6 687.8 1187.6 689.6 1180.6 694.6 1172.6 703.2 1163.6 808.8 1163.6 802.4 1171 793.4 1178.9 771.4 1192 747.4 1201.1 734.4 1204.2 722.4 1205.6ZM890.4 1299.6 886.4 1300.3 883.4 1299.5 877.4 1294.4 872.8 1284.6 870.5 1271.6 871.1 1258.6 874.4 1247 879.4 1239.3 882.4 1237 886.4 1235.7 892.4 1237.5 897.9 1243.6 901.9 1253.6 903.5 1264.6 903 1276.6 900.4 1287.1 896.4 1294.6 890.4 1299.6ZM742.4 1393.6 727.4 1393.5 717.4 1392.4 708.4 1389.8 701.4 1386 695.7 1380.6 691.8 1374.6 688.1 1365.6 684.1 1351.6 682.2 1336.6 682 1325.6 684 1299.6 684.2 1276.6 685.6 1267.6 688.9 1259.6 694.4 1253.2 702.4 1248.4 712.4 1245.3 725.4 1243.8 744.4 1243.7 757.4 1244.9 767.4 1247.3 775.4 1251 781.4 1255.6 786 1261.6 790.4 1271.3 795.9 1260.6 798.4 1257.9 801.4 1256.6 805.4 1259.7 809.6 1266.6 813.1 1275.6 815.9 1286.6 818.1 1306.6 816.6 1325.6 811.2 1352.6 807.8 1362.6 804.4 1369.5 801.4 1372.5 799.4 1371.7 792.4 1359.6 789 1367.6 784.7 1374.6 779.5 1380.6 774.4 1384.7 768.4 1388.2 760.4 1391.1 742.4 1393.6ZM645.4 1360.7 633.4 1360.6 622.6 1357.6 616.6 1352.6 616 1350.6 616.5 1347.6 619.1 1344.6 624.4 1341.6 637.4 1339.1 652.4 1340.6 657.8 1342.6 662 1345.6 664 1350.6 661.8 1354.6 655 1358.6 645.4 1360.7Z" fill="#0026ff" fill-rule="evenodd"/>
<path d="M727.4 1203.7 714.4 1204.1 704.4 1202.5 696.4 1198.8 691.8 1193.6 690.6 1186.6 692.6 1179.6 697.8 1171.6 705.6 1163.6 806.4 1163.6 800.5 1170.6 792.5 1177.6 772.4 1190.1 749.4 1199.2 727.4 1203.7ZM888.4 1297.6 882.4 1296.4 877.1 1290.6 873.4 1281.6 871.7 1269.6 872.7 1257.6 875.9 1247.6 880.4 1241.2 886.4 1238.3 892.4 1240.2 897.1 1245.6 900.7 1254.6 902.2 1265.6 901.5 1277.6 898.5 1287.6 893.8 1294.6 888.4 1297.6ZM744.4 1392.6 719.4 1391.8 709.4 1389.2 702.4 1385.6 696.4 1380.2 692 1373.6 687.9 1363.6 684.8 1352.6 682.8 1339.6 682.6 1324.6 684.6 1299.6 684.9 1278.6 686.3 1269.6 689.4 1261.9 694.5 1255.6 701.4 1251 711.4 1247.6 724.4 1245.8 743.4 1245.7 756.4 1246.7 766.4 1249.1 775.4 1253.3 781.4 1258.3 786.3 1265.6 789.4 1274.5 790.4 1274.3 796.4 1262.3 799.4 1259.4 801.4 1258.8 805.4 1262.1 808.8 1267.6 814.5 1284.6 817.2 1304.6 816.1 1322.6 811.1 1348.6 808 1358.6 804.4 1366 801.4 1369.1 799.4 1368.3 796.4 1363.9 793.4 1356.9 792.4 1357.1 785.8 1371.6 781.2 1377.6 775.4 1382.9 768.4 1387.2 761.4 1389.9 744.4 1392.6ZM647.4 1358.7 637.4 1359.3 627.4 1357.4 621.1 1353.6 619.8 1351.6 619.8 1348.6 621.9 1345.6 625.1 1343.6 635.4 1340.9 647.4 1341.3 656.7 1344.6 660.2 1348.6 659.7 1352.6 654.5 1356.6 647.4 1358.7Z" fill="#003dff" fill-rule="evenodd"/>
<path d="M722.4 1202.6 712.4 1202.2 703.4 1200 697.6 1196.6 694 1191.6 693.2 1185.6 695.4 1178.6 700 1171.6 707.8 1163.6 804.1 1163.6 798.3 1170.6 790.2 1177.6 780.4 1184.3 769.4 1190.2 745.4 1199 733.4 1201.5 722.4 1202.6ZM889.4 1294.9 886.4 1295.2 883.4 1294.4 878.4 1289.5 874.8 1281.6 873 1270.6 873.7 1259.6 876.4 1250.1 880.8 1243.6 886.4 1240.8 891.4 1242.1 896.3 1247.6 899.5 1255.6 900.9 1264.6 900.6 1274.6 898.4 1283.9 894.4 1291.2 889.4 1294.9ZM747.4 1391.7 721.4 1391.3 711.4 1389.1 704.4 1386 698.4 1381.4 693.9 1375.6 689.9 1367.6 685.9 1355.6 683.6 1343.6 682.9 1326.6 686.7 1272.6 689.5 1264.6 694.4 1258 701.4 1253 709.4 1249.9 722.4 1247.8 742.4 1247.4 756.4 1248.5 767.4 1251.3 775.4 1255.4 782.1 1261.6 786.7 1269.6 789.4 1279.5 795.4 1266 798.4 1262.2 801.4 1260.9 804.4 1263 807.4 1267.3 812.9 1281.6 816.2 1300.6 815.8 1318.6 810.9 1345.6 807.8 1355.6 804.4 1362.9 801.4 1366 799.4 1365.2 796.4 1360.7 793.4 1353.4 786.1 1369.6 781.9 1375.6 776.4 1381.1 770.4 1385.2 763.4 1388.4 747.4 1391.7ZM641.4 1357.6 633.4 1357 627.4 1355 623.7 1351.6 623.6 1348.6 628.4 1344.5 638.4 1342.4 649.1 1343.6 655.8 1347.6 656.3 1351.6 653.4 1354.5 648.4 1356.6 641.4 1357.6Z" fill="#0054ff" fill-rule="evenodd"/>
<path d="M730.4 1200.7 718.4 1201.2 708.4 1199.7 701.4 1196.6 696.8 1191.6 695.6 1185.6 697.5 1178.6 702 1171.6 709.9 1163.6 802.1 1163.6 797.2 1169.6 790.4 1175.8 772.4 1187.4 751.4 1196.1 730.4 1200.7ZM888.4 1292.7 883.4 1291.8 878.5 1286.6 875.4 1278.6 874.2 1269.6 875 1259.6 877.4 1251.6 881.4 1245.7 886.4 1243.2 891.4 1244.7 895.4 1249.3 898.4 1256.6 899.7 1265.6 899.2 1275.6 896.9 1283.6 893.4 1289.5 888.4 1292.7ZM750.4 1390.6 724.4 1390.9 714.4 1389.2 706.4 1386.3 700.4 1382.3 695.2 1376.6 690.8 1368.6 686.9 1357.6 683.9 1343.6 683.2 1327.6 687.1 1274.6 689.8 1266.6 694.4 1260 700.4 1255.3 708.4 1251.9 719.4 1249.6 734.4 1248.9 750.4 1249.4 763.4 1251.7 773.4 1255.9 781.2 1262.6 785.9 1270.6 789.4 1283.4 794.4 1269.8 797.4 1265.3 800.4 1262.9 803.4 1264 806.4 1267.7 811.8 1280.6 815.3 1298.6 815.3 1316.6 811 1341.6 807.8 1352.6 804.6 1359.6 801.4 1363.2 799.4 1362.3 796.4 1357.8 793.4 1350.2 787.1 1366.6 778.1 1378.6 772.4 1383.2 766.4 1386.4 758.4 1389.2 750.4 1390.6ZM641.4 1355.6 635.4 1355.2 630.5 1353.6 628.2 1351.6 628 1348.6 632.4 1345.5 640.4 1344.4 647.7 1345.6 652 1348.6 651.8 1351.6 649.5 1353.6 641.4 1355.6Z" fill="#006bff" fill-rule="evenodd"/>
<path d="M728.4 1199.6 718.4 1199.8 709.4 1198.2 703.4 1195.4 699 1190.6 697.9 1184.6 700 1177.6 704.8 1170.6 711.9 1163.6 800.1 1163.6 795.2 1169.6 788.4 1175.8 770.4 1187.2 749.4 1195.5 728.4 1199.6ZM889.4 1289.9 884.4 1289.9 880.4 1286.4 877.1 1279.6 875.5 1270.6 875.9 1261.6 878.2 1253.6 881.4 1248.4 886.4 1245.6 890.4 1246.6 894.4 1250.8 896.9 1256.6 898.4 1264.6 898.3 1272.6 896.5 1280.6 893.4 1286.7 889.4 1289.9ZM741.4 1390.6 727.4 1390.5 717.4 1389.3 709.4 1386.9 702.4 1383.1 696.6 1377.6 692.2 1370.6 687.8 1359.6 685 1348.6 683.6 1336.6 683.7 1320.6 686.8 1281.6 688.5 1272.6 692.3 1264.6 697.4 1259.1 704.4 1254.9 714.4 1251.9 728.4 1250.4 747.4 1250.6 759.4 1252.2 769.4 1255.4 777.4 1260.6 782.5 1266.6 785.9 1273.6 789.4 1286.5 795.1 1270.6 798.4 1266 801.4 1264.6 804.4 1266.9 807.9 1272.6 813.3 1289.6 815.2 1307.6 813.7 1323.6 809.1 1345.6 803.4 1358.8 801.4 1360.6 799.4 1359.7 796.4 1355 793.4 1347.2 790 1358.6 785.9 1367.6 781 1374.6 775.4 1380.2 768.4 1384.7 760.4 1387.9 751.4 1389.9 741.4 1390.6ZM642.4 1352.6 636.4 1352.3 634.4 1351.1 633.9 1349.6 637.4 1347.4 643.4 1347.6 645.4 1348.6 646 1350.6 642.4 1352.6Z" fill="#0081ff" fill-rule="evenodd"/>
<path d="M724.4 1198.6 715.4 1198 708.4 1196 703.4 1192.7 700.7 1188.6 700.3 1182.6 702.5 1176.6 706.7 1170.6 713.8 1163.6 798.2 1163.6 792.4 1170.6 785.5 1176.6 766.4 1188 744.4 1195.8 724.4 1198.6ZM888.4 1287.8 884.4 1287.3 880.4 1283.3 878 1277.6 876.8 1269.6 877.3 1261.6 879.4 1254.6 882.4 1250.1 886.4 1248.1 890.4 1249.2 893.4 1252.4 896.1 1258.6 897.2 1265.6 897 1272.6 895.4 1279.6 892.4 1285 888.4 1287.8ZM748.4 1389.6 723.6 1389.6 714.4 1388 706.4 1384.9 700.4 1380.8 695 1374.6 691.2 1367.6 687.2 1356.6 684.2 1341.6 683.8 1325.6 688.3 1276.6 691.1 1268.6 695.4 1262.5 701.4 1257.9 710.4 1254.2 722.4 1252.1 737.4 1251.6 751.4 1252.3 762.4 1254.3 773.4 1259.1 780.5 1265.6 785.3 1274.6 789.4 1289.6 794.4 1273.9 797.4 1268.9 800.4 1266.4 802.4 1266.8 805.8 1270.6 811.2 1283.6 814.2 1300.6 814.1 1315.6 810.2 1338.6 804.4 1354.7 801.4 1358.1 799.4 1357.2 796.4 1352.4 793.4 1344.3 787.8 1362.6 784 1369.6 778.4 1376.6 773.4 1381 766.4 1385 757.4 1388.1 748.4 1389.6Z" fill="#0098ff" fill-rule="evenodd"/>
<path d="M734.4 1196.7 723.4 1197.4 714.4 1196.3 707.8 1193.6 703.7 1189.6 702.2 1183.6 703.9 1177.6 708.4 1170.6 715.6 1163.6 796.4 1163.6 786.2 1174.6 771.4 1184.4 753.4 1192.2 734.4 1196.7ZM889.4 1284.8 885.4 1285.1 882.4 1282.9 879.5 1277.6 878.2 1270.6 878.4 1263.2 880.2 1256.6 883.4 1252.1 886.4 1250.6 889.4 1251.2 892.4 1254.1 894.5 1258.6 895.8 1264.6 895.7 1271.6 894.5 1277.6 892.4 1281.9 889.4 1284.8ZM751.4 1388.7 727.4 1389.3 720.1 1388.6 709.2 1385.6 702.4 1381.7 696.4 1375.8 692.4 1369.2 688.4 1359.3 685.4 1347.6 684.1 1328.6 684.4 1317.6 688.4 1279.4 691.4 1270.1 695.4 1264.2 701.4 1259.3 709.8 1255.6 721.4 1253.4 743.4 1253 758.4 1254.6 768 1257.6 776 1262.6 782.4 1270.3 785.5 1277.6 789.4 1293 794 1276.6 797.4 1270.6 800.4 1268 802.4 1268.4 805.4 1271.8 810.2 1282.6 813.4 1298.6 813.7 1313.6 809.9 1336.6 804.4 1352.3 801.4 1355.8 799.4 1354.9 796.4 1349.9 793.4 1341.5 788.4 1359.8 784.4 1367.9 779.4 1374.8 775.4 1378.7 767.9 1383.6 760.4 1386.7 751.4 1388.7Z" fill="#00afff" fill-rule="evenodd"/>
<path d="M734.4 1195.6 724.4 1196.2 716.4 1195.2 709.6 1192.6 705.6 1188.6 704.3 1182.6 706.1 1176.6 710.2 1170.6 717.4 1163.6 794.6 1163.6 785.4 1173.8 770.4 1183.8 752.4 1191.5 734.4 1195.6ZM889.4 1281.8 886.4 1282.6 883.4 1280.8 880.9 1276.6 879.6 1270.6 879.7 1264.6 881.3 1258.6 883.4 1255.2 886.4 1253.4 889.4 1254.2 891.4 1256.2 893.4 1260.4 894.4 1265.5 893.4 1275.6 889.4 1281.8ZM742.4 1388.6 728.4 1388.6 718.4 1387.4 710.4 1385.1 703.4 1381.5 698.4 1377.1 693.8 1370.6 689.7 1361.6 686.4 1350.7 684.5 1337.6 684.5 1320.6 688.4 1285.6 690.2 1276.6 693.4 1269.5 698.4 1263.7 705.4 1259.3 714.4 1256.5 727.4 1254.9 747.4 1255.1 759.4 1256.8 769.4 1260.4 776.4 1265.3 781.9 1272.6 784.8 1279.6 789.4 1296.7 791.4 1286.6 794.4 1277.7 798.4 1271 801.4 1269.4 804.4 1272 807.1 1276.6 811.6 1290.6 813.4 1305.6 812.4 1319.6 808.7 1338.6 803.4 1351.6 801.4 1353.6 798.4 1351.3 795.4 1345.1 792.4 1335 791 1347.6 788.4 1357.7 784.3 1366.6 778.4 1374.6 771.4 1380.6 763.4 1384.7 754.4 1387.3 742.4 1388.6Z" fill="#00c6ff" fill-rule="evenodd"/>
<path d="M733.4 1194.7 723.4 1194.9 716 1193.6 710 1190.6 706.9 1186.6 706.3 1181.6 708.4 1175.6 712.7 1169.6 719.1 1163.6 792.9 1163.6 783.4 1174 768.4 1183.8 750.4 1191.1 733.4 1194.7ZM744.4 1387.6 720.4 1386.9 711.4 1384.6 704.4 1381.1 699 1376.6 694.4 1370.4 690.2 1361.6 687 1351.6 685 1338.6 684.9 1321.6 690.5 1279.6 693.4 1272.4 698.4 1266.1 705.4 1261.5 713.4 1258.7 727.4 1256.9 747.4 1257 759.4 1258.8 769.4 1262.6 776.4 1267.9 781.4 1274.8 784.5 1282.6 789.4 1301.6 791 1290.6 793.6 1281.6 796.9 1274.6 800.4 1271 802.4 1271.5 805.7 1275.6 810.5 1288.6 812.8 1304.6 812.1 1317.6 808.5 1336.6 803.4 1349.5 801.4 1351.5 798.4 1349.2 795.4 1342.7 792.4 1332.2 790.3 1347.6 788 1356.6 783.9 1365.6 779.1 1372.6 772.4 1378.8 764.4 1383.4 755.4 1386.2 744.4 1387.6ZM888.4 1279.1 885.4 1279 883.4 1277 881.2 1269.6 882.4 1260.9 884.4 1257.8 886.4 1256.7 888.4 1256.9 890.4 1258.7 892.7 1265.6 892.1 1273.6 890.4 1277.3 888.4 1279.1Z" fill="#00ddff" fill-rule="evenodd"/>
<path d="M733.4 1193.6 724.4 1193.8 717.4 1192.5 711.7 1189.6 708.8 1185.6 708.4 1180.6 710.1 1175.6 714.4 1169.6 720.8 1163.6 791.2 1163.6 782.2 1173.6 767.4 1183.3 750.4 1190.2 733.4 1193.6ZM746.4 1386.7 722.4 1386.3 713.4 1384.4 706.4 1381.4 700.4 1377 695.9 1371.6 691.5 1363.6 687.9 1353.6 685.5 1340.6 685.2 1322.6 691 1281.6 693.8 1274.6 698.4 1268.4 704.4 1264 712.4 1260.9 726.4 1258.7 747.4 1258.9 760.4 1261 770.4 1265.3 777.4 1271.4 781.8 1278.6 785.1 1288.6 789.4 1308.4 790.5 1296.6 792.6 1286.6 795.6 1278.6 799.4 1273.1 801.4 1272.4 804.4 1275.1 809.7 1287.6 812.1 1301.6 812 1314.6 808.4 1334.5 803.4 1347.4 801.4 1349.5 800.4 1349.4 797.4 1345.3 794.2 1336.6 791.4 1324.3 790.5 1340.6 788.9 1350.6 785.6 1360.6 780.4 1369.6 774.4 1376.2 766.4 1381.5 757.4 1384.9 746.4 1386.7ZM888.4 1274.7 885.4 1274.5 883.4 1269.8 884.1 1263.6 886.4 1260.9 888.7 1261.6 890.5 1265.6 890.4 1270.9 888.4 1274.7Z" fill="#00f4ff" fill-rule="evenodd"/>
<path d="M732.4 1192.7 724.4 1192.5 717.4 1190.9 713.4 1188.6 710.6 1184.6 710.4 1179.6 712.3 1174.6 716 1169.6 722.4 1163.6 789.6 1163.6 780.6 1173.6 766.4 1182.8 749.4 1189.5 732.4 1192.7ZM749.4 1385.6 725.4 1385.9 716.4 1384.4 708.4 1381.6 702.4 1377.8 697.3 1372.6 693 1365.6 688.9 1355.6 686 1341.6 685.5 1323.6 686.7 1310.6 691 1285.6 693.6 1277.6 697.5 1271.6 703.4 1266.5 711.4 1262.9 722.4 1260.8 737.4 1260.2 751.4 1261 761.4 1263.1 769.4 1266.7 775.4 1271.4 779.9 1277.6 783.5 1286.6 790 1313.6 790 1339.6 786.8 1355.6 781 1367.6 772.7 1376.6 762.4 1382.4 749.4 1385.6ZM802.4 1346.7 801.4 1347.5 799.4 1346.5 795.9 1339.6 793 1329.6 789.8 1312.6 790.7 1298.6 793.2 1286.6 797.4 1276.9 799.4 1274.5 801.4 1273.8 805.4 1278.2 808.5 1285.6 811 1296.6 811.9 1307.6 810.8 1319.6 808.5 1331.6 805.4 1341.4 802.4 1346.7Z" fill="#0cfff3" fill-rule="evenodd"/>
<path d="M732.4 1191.6 724.4 1191.3 718.4 1189.7 714.4 1187 712.4 1183.6 712.2 1179.6 714 1174.6 717.6 1169.6 724.1 1163.6 787.9 1163.6 784.2 1168.6 778.9 1173.6 765.4 1182.3 748.4 1188.9 732.4 1191.6ZM750.4 1384.7 725.4 1385.2 716.4 1383.7 708.4 1380.8 702.4 1376.9 697.3 1371.6 693 1364.6 689 1354.6 686.2 1340.6 685.8 1322.6 687 1310.6 691.4 1287.2 694.4 1278.6 698.4 1272.7 704.4 1267.8 711.4 1264.7 722.4 1262.4 737.4 1261.8 750.4 1262.5 761.4 1264.8 768.4 1267.9 774.5 1272.6 779.4 1279.3 782.9 1287.6 787.8 1306.6 789.6 1321.6 789.2 1341.6 786.2 1355.6 780.4 1367.2 772.4 1375.9 762.4 1381.6 750.4 1384.7ZM801.4 1345.6 798.4 1343.1 794.7 1333.6 791.8 1320.6 790.6 1307.6 791.7 1295.6 794.1 1285.6 797.4 1278.4 799.4 1275.9 801.4 1275.1 804.7 1278.6 808.2 1286.6 810.5 1296.6 811.4 1307.6 810.3 1319.6 807.9 1331.6 804.4 1341.6 801.4 1345.6Z" fill="#23ffdc" fill-rule="evenodd"/>
<path d="M740.4 1189.7 731.4 1190.6 724.4 1190 718.4 1187.9 715 1184.6 714 1179.6 715.6 1174.6 719.2 1169.6 725.7 1163.6 786.3 1163.6 779.6 1171.6 768.4 1179.6 754.4 1186.1 740.4 1189.7ZM744.4 1384.7 721.4 1384 712.4 1381.8 705.4 1378.3 699.7 1373.6 695.2 1367.6 690.8 1358.6 688 1349.6 686.2 1336.6 686.3 1319.6 688 1306.6 692.6 1285.6 695.6 1278.6 700.4 1272.6 707.4 1267.9 715.4 1265.1 728.4 1263.5 746.4 1263.7 757.4 1265.3 766.4 1268.6 773.4 1273.5 778.4 1279.9 782.3 1288.6 786 1301.6 788.7 1317.6 789 1336.6 787 1350.6 783 1361.6 776.4 1371.2 768.4 1377.8 757.4 1382.6 744.4 1384.7ZM801.4 1343.8 798.4 1341.2 795 1332.6 792.2 1319.6 791 1307.6 792 1296.6 794.4 1286.6 798.2 1278.6 801.4 1276.4 804.5 1279.6 807.9 1287.6 810.1 1297.6 811 1307.6 810 1318.6 807.5 1330.6 804.4 1339.7 801.4 1343.8Z" fill="#3affc5" fill-rule="evenodd"/>
<path d="M741.4 1188.6 732.4 1189.5 725.4 1188.9 719.6 1186.6 716.7 1183.6 715.8 1179.6 717.3 1174.6 720.8 1169.6 727.4 1163.6 784.6 1163.6 778 1171.6 768.4 1178.6 755.4 1184.8 741.4 1188.6ZM748.4 1383.6 724.4 1383.7 715.4 1382 708.4 1379.3 702.4 1375.4 697.1 1369.6 692.9 1362.6 689.1 1352.6 686.7 1339.6 686.5 1320.6 688 1308.6 692.4 1289 695.7 1280.6 700.2 1274.6 706.4 1270 713.4 1267.2 725.4 1265.1 742.4 1264.9 754.4 1266.1 763.4 1268.8 770.4 1272.7 776.2 1278.6 780.2 1285.6 783.7 1295.6 787.4 1311.6 788.6 1326.6 787.8 1343.6 784.2 1357.6 778.4 1367.8 770.4 1375.7 760.4 1380.9 748.4 1383.6ZM801.4 1342 798.4 1339.4 795.3 1331.6 792.7 1319.6 791.5 1307.6 792.3 1297.6 794.7 1287.6 798.4 1279.7 801.4 1277.8 804.4 1280.9 807.6 1288.6 809.7 1297.6 810.5 1307.6 809.5 1318.6 807.2 1329.6 804.4 1337.8 801.4 1342Z" fill="#50ffaf" fill-rule="evenodd"/>
<path d="M741.4 1187.7 733.4 1188.4 726.4 1187.7 721.2 1185.6 718.4 1182.6 717.7 1178.6 719.5 1173.6 723.3 1168.6 729 1163.6 783 1163.6 776.4 1171.6 766.5 1178.6 754.4 1184.2 741.4 1187.7ZM737.4 1383.6 726.4 1383.3 717.4 1381.9 709.4 1379.1 703.4 1375.4 697.4 1369.3 692.8 1361.6 689.1 1351.6 687.3 1342.6 686.6 1327.6 687.5 1313.6 691 1296.6 694.8 1284.6 699 1277.6 704.4 1272.8 712.4 1268.9 721.4 1267 737.4 1266.2 751.4 1267.1 761.4 1269.5 769.4 1273.6 775.4 1279.4 779.6 1286.6 784.2 1299.6 787.2 1313.6 788.1 1331.6 786.9 1345.6 784 1356.6 778.6 1366.6 771.4 1374.2 762.4 1379.5 751.4 1382.6 737.4 1383.6ZM801.4 1340.3 798.4 1337.6 795.4 1329.7 793 1318.6 791.9 1307.6 792.8 1297.6 794.9 1288.6 798.4 1281.1 801.4 1279 804.4 1282.3 807.4 1289.6 810.1 1307.6 806.9 1328.6 804.4 1335.9 801.4 1340.3Z" fill="#67ff98" fill-rule="evenodd"/>
<path d="M741.4 1186.7 733.4 1187.3 727.4 1186.5 722.8 1184.6 720.2 1181.6 719.7 1177.6 721.1 1173.6 724.9 1168.6 730.7 1163.6 781.3 1163.6 775.9 1170.6 766.4 1177.6 754.4 1183.2 741.4 1186.7ZM746.4 1382.6 723.4 1382.4 715.4 1380.8 708.4 1378 702.4 1373.9 697.4 1368.5 692.7 1360.6 689.7 1352.6 687.2 1339.6 686.9 1322.6 688.6 1308.6 692.4 1293.3 695.7 1284.6 700.4 1277.7 706.4 1273 714.4 1269.7 725.4 1267.9 742.4 1267.6 754.4 1268.9 763.4 1271.7 770.4 1276 775.7 1281.6 780 1289.6 783.9 1300.6 786.9 1315.6 787.5 1333.6 786.1 1347.6 782.5 1358.6 776.4 1368.5 768.4 1375.6 758.4 1380.3 746.4 1382.6ZM802.4 1337.7 801.4 1338.6 799.4 1337.4 796.4 1330.9 793.6 1319.6 792.4 1308.6 793.1 1298.6 795.2 1289.6 798.4 1282.4 801.4 1280.3 804.4 1283.7 807.1 1290.6 809.6 1307.6 807.1 1325.6 802.4 1337.7Z" fill="#7eff81" fill-rule="evenodd"/>
<path d="M741.4 1185.7 734.4 1186.1 728.4 1185.3 724.4 1183.5 722 1180.6 721.7 1176.6 723.4 1172.6 727.5 1167.6 732.4 1163.6 779.6 1163.6 774.3 1170.6 764.5 1177.6 753.4 1182.7 741.4 1185.7ZM749.4 1381.7 725.4 1382.1 716.4 1380.5 709.4 1377.9 703.4 1374.1 698.4 1369.1 693.6 1361.6 690.3 1353.6 687.7 1341.6 687.1 1325.6 688 1313.6 691.1 1299.6 695.1 1287.6 699.4 1280.5 705.4 1275.1 713.4 1271.4 724.4 1269.2 740.4 1268.8 752.4 1269.8 761.4 1272.3 768.4 1275.9 774.4 1281.6 778.7 1288.6 782.7 1298.6 786.1 1312.6 787.1 1327.6 786.3 1343.6 782.9 1356.6 777.4 1366.3 770.2 1373.6 760.4 1379 749.4 1381.7ZM801.4 1336.9 798.4 1334 796 1327.6 793.8 1317.6 792.8 1307.6 793.6 1298.6 795.7 1289.6 798.4 1283.8 801.4 1281.6 804.4 1285.1 806.6 1290.6 809.2 1307.6 806.4 1326.2 803.8 1333.6 801.4 1336.9Z" fill="#95ff6a" fill-rule="evenodd"/>
<path d="M741.4 1184.6 734.4 1184.9 729.4 1184.1 726.3 1182.6 723.9 1179.6 723.8 1175.6 725.7 1171.6 734.2 1163.6 777.8 1163.6 772.6 1170.6 764.4 1176.6 753.4 1181.7 741.4 1184.6ZM745.4 1381.6 722.4 1381.1 714.4 1379.3 707.4 1376.2 701.4 1371.7 697 1366.6 693 1359.6 689.7 1350.6 687.6 1338.6 687.5 1320.6 688.9 1309.6 692.7 1295.6 696.4 1286.6 701.4 1279.7 707.4 1275.2 715.4 1272 727.4 1270.2 743.4 1270.1 754.4 1271.5 763.4 1274.4 770.4 1278.9 775.4 1284.5 779.8 1292.6 783.9 1304.6 786.3 1318.6 786.5 1336.6 784.9 1348.6 781 1359.6 774.9 1368.6 767.4 1374.9 757.4 1379.4 745.4 1381.6ZM801.4 1335.3 799.4 1334 796.4 1327 794.3 1317.6 793.2 1307.6 794.1 1298.6 796 1290.6 798.4 1285.1 801.4 1282.8 804.4 1286.6 806.4 1291.8 808.8 1307.6 806.3 1324.6 803.9 1331.6 801.4 1335.3Z" fill="#acff53" fill-rule="evenodd"/>
<path d="M740.4 1183.6 730.4 1182.7 727.4 1181 725.8 1178.6 725.7 1175.6 727.5 1171.6 736 1163.6 775.9 1163.6 770.8 1170.6 762.4 1176.6 751.4 1181.3 740.4 1183.6ZM749.4 1380.6 726.4 1381.1 718.4 1379.9 710.4 1377.2 704.4 1373.6 699.1 1368.6 694.4 1361.8 690.8 1353.6 688.2 1341.6 687.5 1328.6 688.2 1315.6 690.9 1302.6 695.2 1290.6 699.4 1283.4 705.4 1277.8 713.4 1273.9 724.4 1271.6 738.4 1271.1 750.4 1271.9 760.4 1274.4 767.4 1278 773.4 1283.4 778 1290.6 782.2 1300.6 785.4 1314.6 786.2 1330.6 785.2 1344.6 781.8 1356.6 776.7 1365.6 769.4 1372.9 760.4 1377.8 749.4 1380.6ZM801.4 1333.6 799.4 1332.4 796.4 1325 793.7 1307.6 794.5 1298.6 796.4 1291 799 1285.6 801.4 1284.1 803.6 1286.6 806.1 1292.6 808.3 1307.6 806 1323.6 803.4 1331 801.4 1333.6Z" fill="#c3ff3c" fill-rule="evenodd"/>
<path d="M746.4 1181.6 737.4 1182.5 731.4 1181.3 727.9 1177.6 728.8 1172.6 732.8 1167.6 738 1163.6 774 1163.6 770.4 1169.2 763.7 1174.6 755.4 1178.8 746.4 1181.6ZM744.4 1380.7 722.4 1380.1 714.4 1378.2 707.4 1375.1 701.4 1370.5 696.5 1364.6 692.7 1357.6 689.9 1349.6 688 1337.6 687.9 1321.6 689.3 1310.6 692.5 1298.6 696.4 1289.5 701.4 1282.5 708.4 1277.2 716.4 1274.1 727.4 1272.5 743.4 1272.4 754.4 1273.8 762.4 1276.5 769.4 1280.8 774.7 1286.6 779.4 1295 783.2 1305.6 785.5 1319.6 785.6 1336.6 784 1348.6 779.9 1359.6 774.4 1367.6 766.4 1374.3 756.4 1378.6 744.4 1380.7ZM801.4 1332 799.4 1330.7 796.9 1324.6 794.1 1307.6 796.4 1292.6 799.3 1286.6 801.4 1285.4 803.4 1287.6 805.9 1293.6 807.9 1307.6 805.4 1323.6 803.4 1329.2 801.4 1332Z" fill="#daff25" fill-rule="evenodd"/>
<path d="M745.4 1180.7 735.4 1180.8 732.4 1179.6 730.5 1177.6 730.1 1174.6 731.3 1171.6 738.5 1164.6 740.1 1163.6 771.9 1163.6 769.1 1168.6 763.2 1173.6 754.4 1178.1 745.4 1180.7ZM749.4 1379.7 726.4 1380.1 718.4 1378.8 710.4 1376.1 704.4 1372.5 699.2 1367.6 694.4 1360.6 691 1352.6 688.7 1342.6 688 1329.6 688.7 1315.6 691 1304.6 695 1293.6 699.4 1286.1 705.4 1280.2 713.4 1276.2 723.4 1273.9 737.4 1273.3 749.4 1274 759.4 1276.4 766.4 1279.8 772.4 1285 777.4 1292.3 781.5 1301.6 784.6 1314.6 785.4 1329.6 784.5 1343.6 781.3 1355.6 776.3 1364.6 769.4 1371.6 760.4 1376.8 749.4 1379.7ZM801.4 1330.4 799.4 1329 797.2 1323.6 794.5 1307.6 796.7 1293.6 799.4 1287.7 801.4 1286.6 803.4 1288.9 805.4 1293.8 807.5 1307.6 805.4 1321.7 803.4 1327.5 801.4 1330.4Z" fill="#f1ff0e" fill-rule="evenodd"/>
<path d="M743.4 1179.7 735.4 1178.8 732.5 1175.6 734.1 1170.6 740.8 1164.6 742.4 1163.6 769.5 1163.6 767 1168.6 760.9 1173.6 752.4 1177.6 743.4 1179.7ZM745.4 1379.7 724.4 1379.4 716.4 1377.8 709.4 1375.1 703.4 1371.2 698 1365.6 693.7 1358.6 690.6 1350.6 688.6 1339.6 688.3 1323.6 689.5 1311.6 692.2 1301.6 696.4 1292 701.4 1284.9 708.4 1279.5 716.4 1276.3 727.4 1274.6 742.4 1274.4 752.4 1275.6 761.4 1278.3 768.4 1282.5 773.5 1287.6 778.4 1295.6 782.3 1305.6 784.7 1319.6 784.8 1336.6 783.1 1348.6 779.5 1358.6 774.1 1366.6 766.4 1373.2 757.4 1377.3 745.4 1379.7ZM801.4 1328.8 799.4 1327.3 797.4 1322.5 794.9 1307.6 797.2 1293.6 799.4 1289.1 801.4 1287.9 803.4 1290.4 805.4 1295.6 807.1 1307.6 805.1 1320.6 801.4 1328.8Z" fill="#fff600" fill-rule="evenodd"/>
<path d="M747.4 1177.7 739.4 1177.9 735.6 1175.6 735.8 1171.6 740.4 1166.5 745.2 1163.6 766.8 1163.6 765.5 1167.6 761.4 1171.6 754.4 1175.5 747.4 1177.7ZM749.4 1378.7 727.4 1379.3 718.4 1377.9 711.4 1375.6 705.4 1372.2 699.4 1366.8 695.1 1360.6 691.8 1353.6 689.3 1343.6 688.4 1332.6 688.8 1318.6 690.9 1306.6 694.4 1297 699.4 1288.4 705.4 1282.5 713.4 1278.3 723.4 1276 735.4 1275.3 748.4 1275.9 758.4 1278.2 765.4 1281.5 771.4 1286.4 776.4 1293.1 780.8 1302.6 783.8 1314.6 784.6 1328.6 783.9 1342.6 780.8 1354.6 775.9 1363.6 768.4 1371.2 759.4 1376.2 749.4 1378.7ZM801.4 1327.2 799.4 1325.7 797.4 1320.6 795.4 1307.6 797.4 1294.8 799.4 1290.5 801.4 1289.2 803.4 1291.8 805.1 1296.6 806.6 1307.6 804.8 1319.6 801.4 1327.2Z" fill="#ffe000" fill-rule="evenodd"/>
<path d="M749.4 1175.7 744.4 1176.3 740.4 1175.7 738.4 1173.6 738.6 1171.6 741.8 1167.6 748.7 1163.6 763.2 1163.6 763.3 1166.6 760.4 1170.2 755.1 1173.6 749.4 1175.7ZM746.4 1378.7 724.4 1378.5 716.4 1376.9 709.4 1374.2 703.4 1370.2 698.4 1365.1 694.3 1358.6 691.1 1350.6 689 1339.6 688.6 1324.6 689.6 1313.6 692.1 1303.6 696.4 1294 701.4 1287.1 707.4 1282.2 715.4 1278.7 725.4 1276.7 740.4 1276.3 751.4 1277.4 760.4 1280 767.4 1284 773.4 1289.8 777.7 1296.6 781.4 1305.6 783.9 1318.6 784.2 1335.6 782.6 1347.6 779.1 1357.6 773.8 1365.6 766.4 1372.1 757.4 1376.4 746.4 1378.7ZM801.4 1325.5 799.4 1324 798 1320.6 795.8 1307.6 797.7 1295.6 799.4 1291.9 801.4 1290.6 804.6 1296.6 806.2 1307.6 804.4 1319.2 801.4 1325.5Z" fill="#ffc900" fill-rule="evenodd"/>
<path d="M749.4 1173.6 744.1 1173.6 742.7 1172.6 742.7 1170.6 745.4 1167.6 751.4 1164.7 756.4 1164.1 759.4 1165.6 759.2 1167.6 757.4 1169.7 749.4 1173.6ZM741.4 1378.6 720.4 1377.5 712.4 1375.1 706.4 1371.9 700.4 1366.9 696.3 1361.6 692.7 1354.6 690.2 1346.6 688.9 1335.6 689 1320.6 690.6 1309.6 693.4 1301 697.9 1292.6 703.4 1286.2 710.4 1281.6 718.4 1278.8 729.4 1277.3 744.4 1277.5 754.4 1279 762.4 1281.9 769.4 1286.7 774.4 1292.2 779.1 1300.6 782.1 1309.6 783.8 1321.6 783.6 1338.6 781.7 1349.6 777.6 1359.6 771.4 1367.6 763.4 1373.4 753.4 1377.1 741.4 1378.6ZM801.4 1323.9 800.4 1323.7 798.4 1319.8 796.3 1307.6 798 1296.6 799.4 1293.4 801.4 1291.9 804.4 1297.9 805.7 1307.6 804.4 1317 801.4 1323.9Z" fill="#ffb200" fill-rule="evenodd"/>
<path d="M748.4 1377.6 726.4 1377.9 718.4 1376.6 711.4 1374.2 704.4 1370.1 699.4 1365.3 695.3 1359.6 692.1 1352.6 689.9 1343.6 688.9 1331.6 689.3 1318.6 691.6 1306.6 695.4 1297.5 700.4 1290.2 706.4 1284.9 714.4 1280.9 724.4 1278.7 737.4 1278.1 749.4 1278.9 758.4 1281.2 765.4 1284.6 771.4 1289.6 776.4 1296.3 780.2 1304.6 783 1316.6 783.6 1332.6 782.3 1345.6 779.2 1355.6 774.4 1363.7 767.4 1370.4 758.4 1375.2 748.4 1377.6ZM801.4 1322.2 800.4 1322 798.4 1317.8 796.7 1307.6 798.4 1297.3 800.4 1293.6 801.4 1293.4 804 1298.6 805.3 1307.6 803.9 1316.6 801.4 1322.2Z" fill="#ff9b00" fill-rule="evenodd"/>
<path d="M744.4 1377.6 723.4 1377.2 715.4 1375.3 709.4 1372.8 703.4 1368.8 698.4 1363.7 694 1356.6 691.4 1349.6 689.4 1338.2 689.1 1325.6 690 1314.6 692.4 1305 696.4 1296.5 701.4 1290 708.4 1284.6 716.4 1281.2 726.4 1279.3 740.4 1279 750.4 1280 759.4 1282.5 766.4 1286.3 772.4 1291.7 777.4 1299.1 780.8 1307.6 783 1319.6 783.1 1336.6 781.5 1347.6 777.8 1357.6 772.2 1365.6 764.4 1371.9 755.4 1375.7 744.4 1377.6ZM801.4 1320.4 800.4 1320.2 798.7 1316.6 797.2 1307.6 798.4 1299.3 800 1295.6 801.4 1294.9 803.7 1299.6 804.8 1307.6 803.6 1315.6 801.4 1320.4Z" fill="#ff8400" fill-rule="evenodd"/>
<path d="M749.4 1376.7 726.4 1377.2 712.4 1373.8 705.4 1370 700.4 1365.6 695.4 1358.8 692.4 1352.2 690.2 1343.6 689.3 1330.6 690.2 1314.6 692.1 1306.6 695.4 1298.9 700.4 1291.9 706.4 1286.7 713.4 1283.1 722.4 1280.7 732.4 1279.9 746.4 1280.3 756.4 1282.3 764.4 1285.9 770.4 1290.5 775.4 1296.6 779.4 1304.6 782.4 1317.3 782.9 1332.6 781.8 1344.6 778.9 1354.6 773.5 1363.6 767.2 1369.6 759.4 1373.9 749.4 1376.7ZM801.4 1318.6 799.4 1316.5 797.7 1307.6 799 1299.6 800.4 1296.7 801.4 1296.5 803.4 1300.9 804.3 1307.6 803.4 1314 801.4 1318.6Z" fill="#ff6d00" fill-rule="evenodd"/>
<path d="M746.4 1376.7 725.4 1376.7 719.1 1375.6 710.7 1372.6 704.4 1368.8 698.4 1362.8 692.4 1351.6 690.4 1343.6 689.6 1329.6 690.4 1314.6 692.3 1306.6 695.4 1299.6 701.4 1291.7 708 1286.6 715.4 1283.3 724.4 1281.3 737.4 1280.7 748.4 1281.4 757.4 1283.5 764 1286.6 770.4 1291.4 775.4 1297.5 779.4 1305.6 782.4 1320.8 782.5 1334.6 781.4 1345.1 778.4 1354.9 774.4 1361.9 766.4 1369.7 756.4 1374.6 746.4 1376.7ZM801.4 1316.7 800.4 1316.4 799.4 1314.3 798.3 1307.6 799.4 1300.6 800.4 1298.5 801.4 1298.3 803.1 1302.6 803.7 1307.6 801.4 1316.7Z" fill="#ff5600" fill-rule="evenodd"/>
<path d="M744.4 1375.6 724.4 1375.3 716.7 1373.6 710.4 1371.1 704.4 1367.1 699.4 1362.1 695.4 1355.7 693 1349.6 691 1339.6 690.6 1326.6 691.4 1315.6 693.6 1306.6 697.4 1298.7 702.4 1292.6 709.2 1287.6 716.4 1284.5 726.4 1282.5 739.4 1282.1 749.4 1283 758.4 1285.5 765.4 1289.2 771.4 1294.5 775.7 1300.6 779.1 1308.6 781.2 1320.6 781.3 1335.6 779.8 1346.6 776.4 1356.1 771.3 1363.6 764.2 1369.6 755.4 1373.6 744.4 1375.6ZM801.4 1314.5 799.7 1312.6 798.9 1307.6 799.6 1302.6 800.4 1300.6 801.4 1300.3 803.1 1307.6 801.4 1314.5Z" fill="#ff3f00" fill-rule="evenodd"/>
<path d="M739.4 1373.6 722.3 1372.6 715.2 1370.6 709.1 1367.6 704 1363.6 699.4 1358 696.4 1352.3 694.1 1344.6 692.9 1334.6 693 1320.6 694.5 1311.6 697.3 1303.6 701.4 1297.3 707.4 1291.6 714.4 1287.7 721.4 1285.6 730.4 1284.5 743.6 1284.6 752.4 1286 759.6 1288.6 765.9 1292.6 771.4 1298.3 775.4 1305.2 778 1313.6 779.2 1325.6 778.6 1340.6 776.4 1350.2 772.4 1358.3 766.9 1364.6 759.2 1369.6 749.7 1372.6 739.4 1373.6ZM801.4 1312 800.4 1311.7 799.6 1307.6 800.4 1303.3 801.4 1302.9 802.4 1307.6 801.4 1312Z" fill="#ff2800" fill-rule="evenodd"/>
<path d="M748.4 1369.7 730.4 1370.4 716.4 1367.7 710.4 1364.6 705.6 1360.6 699.1 1350.6 696.9 1343.6 695.9 1334.6 696 1321.6 697.4 1312.4 700.4 1304.6 704.4 1298.7 709.4 1294.1 715.7 1290.6 723.4 1288.4 732.4 1287.5 744.4 1287.8 753.4 1289.6 760.3 1292.6 765.4 1296.4 769.8 1301.6 773 1307.6 775.5 1316.6 776.3 1327.6 775.6 1340.6 773.3 1349.6 769.4 1357 764.3 1362.6 757.4 1366.9 748.4 1369.7Z" fill="#ff1200" fill-rule="evenodd"/>
<path d="M738.4 1365.6 723.8 1364.6 713.4 1360.3 709 1356.6 705.4 1351.9 701.4 1341 700.8 1321.6 702.2 1313.6 704.4 1307.9 707.9 1302.6 712.4 1298.4 717.4 1295.5 724.4 1293.3 742.4 1292.6 749.4 1293.7 755.4 1295.9 761.1 1299.6 765.4 1304.3 768.4 1309.6 770.5 1316.6 771.4 1325.6 771.1 1337.6 769.4 1345.7 766.2 1352.6 760.9 1358.6 754.4 1362.6 747.4 1364.8 738.4 1365.6Z" fill="#fa0000" fill-rule="evenodd"/>
<path d="M756.4 1339.9 724.4 1340.4 715.4 1338.2 712.5 1335.6 711.1 1332.6 710.8 1320.6 711.8 1315.6 715.4 1312 722.4 1309.9 754.4 1309.9 763.4 1312.5 765.6 1314.6 767.1 1318.6 766.8 1332.6 765.5 1335.6 763.4 1337.5 756.4 1339.9Z" fill="#e30000" fill-rule="evenodd"/>
<path d="M755.4 1338.7 727.4 1339.1 721.4 1338.5 716.4 1336.8 714.1 1334.6 712.8 1330.6 712.7 1319.6 713.9 1315.6 718.4 1312.3 727.4 1310.9 751.4 1310.9 761.4 1313.1 764.1 1315.6 765.1 1318.6 765.1 1331.6 763.9 1334.6 761.9 1336.6 755.4 1338.7Z" fill="#cc0000" fill-rule="evenodd"/>
<path d="M752.4 1337.7 727.4 1337.8 718.4 1335.7 716.2 1333.6 715.1 1330.6 715 1320.6 716 1316.6 719.7 1313.6 727.4 1312.2 750.4 1312.2 759.4 1314.2 761.4 1315.8 762.7 1318.6 762.7 1331.6 759.8 1335.6 752.4 1337.7Z" fill="#b50000" fill-rule="evenodd"/>
<path d="M752.4 1335.8 730.4 1336.2 721.7 1334.6 719.3 1332.6 718.3 1329.6 718.2 1321.6 719.2 1317.6 723.4 1314.7 729.4 1313.9 748.4 1313.9 756.7 1315.6 759.6 1319.6 759.6 1330.6 757.4 1333.9 752.4 1335.8Z" fill="#9e0000" fill-rule="evenodd"/>
<g filter="url(#spk)"><rect x="588.4" y="1163.6" width="327.4" height="288.9" fill="#000"/>
<path d="M844.4 1398.6 648.4 1399.3 631.4 1398 622.4 1393.8 619 1387.6 617.6 1376.6 617.3 1282.6 612.3 1275.6 610.8 1267.6 612.4 1259.3 617.3 1252.6 617.7 1195.6 619.2 1186.6 622 1181.6 626.4 1178.6 633.9 1176.6 665.4 1175.5 833.4 1175.7 849.4 1177.2 857.4 1181 861.7 1190.6 863.3 1215.6 862.3 1378.6 861.1 1387.6 857.8 1393.6 852.4 1396.9 844.4 1398.6ZM774.2 1379.6 781.7 1376.6 784.5 1368.6 784.7 1292.6 783.9 1285.6 781.8 1281.6 777.4 1279.1 767.4 1278.3 700.4 1278.3 690.4 1280.6 687.1 1285.6 686.3 1295.6 686.4 1366.6 687.1 1372.6 689.3 1376.6 693.4 1379 700.4 1379.8 774.2 1379.6ZM752.4 1336.8 732.4 1337.5 720.8 1335.6 716.4 1330.6 716.7 1320.6 720.4 1316.6 727.4 1314.8 746.8 1314.6 756.4 1316.5 760.7 1321.6 760.9 1329.6 757.8 1334.6 752.4 1336.8ZM733.4 1367.6 710.4 1367 706.4 1365.3 705.2 1361.6 708.4 1358.5 718.4 1357.3 737.4 1357.6 744.4 1360.6 744.7 1363.6 743.2 1365.6 733.4 1367.6Z" fill="#4c4c4c" fill-rule="evenodd"/>
<path d="M839.4 1395.6 651.4 1396.1 634.4 1394.7 626.4 1390.8 623.1 1384.6 621.9 1374.6 621.6 1280.6 616 1274.6 614.4 1267.6 616.4 1259.7 621.6 1254.6 622 1197.6 623.4 1189.3 626.4 1184.2 631.4 1181.2 639.4 1179.5 677.4 1178.7 830.4 1178.9 845.4 1180.3 853.4 1184 857.4 1192.6 859.1 1216.6 858 1376.6 856.6 1385.6 853.8 1390.6 848.4 1393.9 839.4 1395.6ZM770.2 1381.6 781.4 1379.2 784.5 1375.6 786 1370.6 786.2 1291.6 785.6 1285.6 783.4 1280.9 778.4 1277.7 769.4 1276.7 699.4 1276.8 689.4 1279.2 685.7 1284.6 684.7 1293.6 684.7 1366.6 687.4 1377.1 691.4 1380.2 698.4 1381.5 770.2 1381.6ZM747.4 1335.7 730.4 1335.7 722.4 1334 718.4 1329.1 718.9 1321.6 722.4 1318 728.4 1316.5 745.4 1316.2 754.4 1317.9 758.5 1322.6 758.4 1329.8 755.3 1333.6 747.4 1335.7ZM737.4 1365.6 714.4 1365.9 709.6 1364.6 708.2 1362.6 709.3 1360.6 713.4 1359.3 735.4 1359.1 741.6 1361.6 741.4 1363.7 737.4 1365.6Z" fill="#575757" fill-rule="evenodd"/>
<path d="M835.4 1390.6 657.4 1391.3 640.4 1389.9 632.4 1385.9 629.4 1379.9 628.2 1369.6 628 1278.6 621.4 1274 619.2 1267.6 621.4 1261 628 1256.6 628.4 1202.4 629.8 1193.6 632.8 1188.6 640.4 1185.1 655.4 1183.7 799.4 1183.5 835.4 1184.4 842.4 1185.9 847.4 1188.8 850.7 1195.6 853.7 1216.6 852 1227.6 851.6 1372.6 850.4 1380.6 847.9 1385.6 843.4 1388.8 835.4 1390.6ZM775.9 1384.6 780.4 1383.2 784.9 1379.6 787.7 1374.6 788.6 1369.6 788.7 1291.6 787.9 1284.6 785.3 1279.6 779.4 1275.4 769.4 1274.3 698.4 1274.4 692.4 1275.2 687.4 1277.8 683.1 1284.6 682.3 1294.6 682.3 1367.6 683.3 1374.6 686.1 1379.6 691.4 1383.6 698.4 1385 775.9 1384.6ZM745.4 1333.7 725.4 1332.4 721.5 1328.6 721.4 1323.6 723.6 1320.6 729.4 1318.6 743.4 1318.2 751.6 1319.6 755.4 1323.1 755.4 1328.9 752.4 1332 745.4 1333.7ZM731.4 1362.7 718.1 1362.6 726.4 1361.6 731.4 1362.7Z" fill="#616161" fill-rule="evenodd"/>
<path d="M808.4 1232.8 763.4 1233.5 737.4 1231.6 730.4 1228.6 726.5 1224.6 724.6 1215.6 726.7 1210.6 734.4 1205.1 756.4 1202.4 824.4 1203.1 836.7 1205.6 843 1210.6 844.8 1215.6 844.6 1220.6 842.9 1224.6 839.4 1228 825.4 1232 808.4 1232.8ZM646.4 1274.6 631.9 1272.6 628.3 1269.6 628.2 1265.6 634.1 1261.6 645.4 1260.4 655.4 1261.3 662.1 1265.6 662 1269.6 659.4 1272.1 646.4 1274.6ZM741.4 1330.6 729.9 1329.6 727.1 1327.6 727 1324.6 729.4 1322.6 736.4 1321.4 744.4 1321.7 749.4 1323.8 750.3 1326.6 749 1328.6 741.4 1330.6Z" fill="#6b6b6b" fill-rule="evenodd"/>
</g>
<g filter="url(#hspk)"><rect x="588.4" y="1163.6" width="327.4" height="288.9" fill="#000"/>
<path d="M659.4 1379.6 623.4 1378.8 616.4 1376.7 612.4 1372.6 610.5 1360.6 610.7 1305.6 612.4 1297.4 617.4 1292.8 631.4 1290.5 667.4 1290.7 677.4 1292.7 682.7 1297.6 684.6 1313.6 683.4 1370.6 681.2 1374.6 676.6 1377.6 659.4 1379.6Z" fill="#4c4c4c" fill-rule="evenodd"/>
<path d="M670.4 1377.7 627.4 1378.1 619.4 1376.4 614.5 1372.6 612.2 1361.6 612.2 1308.6 613.4 1299.6 617.3 1294.6 629.4 1291.8 663.4 1291.7 675.4 1293.5 680.6 1297.6 682.8 1309.6 682.4 1366.6 678.8 1374.6 670.4 1377.7Z" fill="#575757" fill-rule="evenodd"/>
<path d="M668.4 1376.7 628.4 1376.9 620.4 1375.1 616.1 1371.6 614 1360.6 614 1308.6 615.4 1299.9 619 1295.6 630.4 1293 662.4 1292.8 673.4 1294.4 679 1298.6 681 1310.6 680.7 1365.6 677.1 1373.6 668.4 1376.7Z" fill="#616161" fill-rule="evenodd"/>
<path d="M664.4 1375.7 628.4 1375.4 621.4 1373.6 617.5 1369.6 615.9 1358.6 616 1308.6 617.4 1300.6 621.1 1296.6 632.4 1294.2 662.4 1294.2 671.6 1295.6 677 1299.6 679.1 1311.6 678.6 1365.6 675.1 1372.6 664.4 1375.7Z" fill="#6b6b6b" fill-rule="evenodd"/>
<path d="M666.4 1373.7 630.4 1373.9 623.4 1372.1 619.9 1368.6 618.2 1357.6 618.3 1309.6 619.8 1301.6 623.4 1297.9 634.4 1295.7 659.4 1295.7 669.4 1297 674.6 1300.6 676.8 1312.6 676.4 1363.6 673.6 1370.6 666.4 1373.7Z" fill="#757575" fill-rule="evenodd"/>
<path d="M664.4 1371.6 632.4 1371.9 626.4 1370.3 622.7 1366.6 621.1 1355.6 621.3 1310.6 622.6 1303.6 626.4 1299.7 637.4 1297.7 660.4 1297.9 668.5 1299.6 672.4 1303.6 673.9 1315.6 673.5 1361.6 671 1368.6 664.4 1371.6Z" fill="#7f7f7f" fill-rule="evenodd"/>
<path d="M659.4 1368.7 635.4 1368.6 629.7 1366.6 627.3 1363.6 625.8 1353.6 625.9 1313.6 627.4 1306.1 631.4 1302.5 641.4 1300.8 657.4 1301.1 664.4 1302.9 667.8 1306.6 669.3 1318.6 668.8 1359.6 666.4 1365.6 659.4 1368.7Z" fill="#8a8a8a" fill-rule="evenodd"/>
</g>
<g filter="url(#kspk)"><rect x="588.4" y="1163.6" width="327.4" height="288.9" fill="#000"/>
<path d="M748.4 1335.7 732.4 1335.9 723.4 1334.1 719.6 1328.6 720.5 1320.6 724 1317.6 731.4 1316.1 746.4 1316.1 754.4 1317.8 757.9 1321.6 758.2 1329.6 755.4 1333.6 748.4 1335.7Z" fill="#4c4c4c" fill-rule="evenodd"/>
<path d="M745.4 1334.7 731.9 1334.6 724.5 1332.6 721.6 1327.6 722.5 1321.6 726.1 1318.6 732.4 1317.4 746.4 1317.4 753.4 1319.3 756.2 1323.6 755.4 1330.6 751.4 1333.6 745.4 1334.7Z" fill="#575757" fill-rule="evenodd"/>
<path d="M747.4 1332.7 736.4 1333.3 728.4 1332 724.7 1328.6 724.6 1323.6 727.1 1320.6 731.4 1319.2 749.4 1319.9 752.9 1322.6 753.6 1327.6 752 1330.6 747.4 1332.7Z" fill="#616161" fill-rule="evenodd"/>
<path d="M742.4 1330.7 731.3 1329.6 729.2 1327.6 729.1 1324.6 731 1322.6 735.4 1321.4 747 1322.6 748.9 1324.6 748.8 1327.6 742.4 1330.7Z" fill="#6b6b6b" fill-rule="evenodd"/>
</g>
<rect x="590.4" y="1335.0" width="12.1" height="2" fill="url(#rimb)"/>
<rect x="602.5" y="1326.1" width="9.7" height="11" fill="url(#rimb)"/>
<rect x="612.2" y="1313.5" width="9.8" height="11" fill="url(#rimb)"/>
<rect x="622.0" y="1304.2" width="10.2" height="11" fill="url(#rimb)"/>
<rect x="632.2" y="1293.1" width="10.2" height="11" fill="url(#rimb)"/>
<rect x="642.4" y="1281.5" width="10.6" height="11" fill="url(#rimb)"/>
<rect x="653.0" y="1268.8" width="10.7" height="11" fill="url(#rimb)"/>
<rect x="663.7" y="1257.2" width="10.7" height="11" fill="url(#rimb)"/>
<rect x="674.4" y="1245.5" width="10.3" height="11" fill="url(#rimb)"/>
<rect x="684.7" y="1233.8" width="10.1" height="11" fill="url(#rimb)"/>
<rect x="694.8" y="1222.2" width="8.8" height="11" fill="url(#rimb)"/>
<rect x="703.6" y="1211.5" width="10.7" height="11" fill="url(#rimb)"/>
<rect x="714.3" y="1200.8" width="11.6" height="11" fill="url(#rimb)"/>
<rect x="725.9" y="1188.2" width="10.7" height="11" fill="url(#rimb)"/>
<rect x="736.6" y="1177.1" width="10.3" height="8" fill="url(#rimb)"/>
<rect x="746.9" y="1165.6" width="11.0" height="6" fill="url(#rimb)"/>
<path d="M589.4 1164.6 589.4 1335.0 602.5 1335.0 602.5 1326.1 612.2 1326.1 612.2 1313.5 622.0 1313.5 622.0 1304.2 632.2 1304.2 632.2 1293.1 642.4 1293.1 642.4 1281.5 653.0 1281.5 653.0 1268.8 663.7 1268.8 663.7 1257.2 674.4 1257.2 674.4 1245.5 684.7 1245.5 684.7 1233.8 694.8 1233.8 694.8 1222.2 703.6 1222.2 703.6 1211.5 714.3 1211.5 714.3 1200.8 725.9 1200.8 725.9 1188.2 736.6 1188.2 736.6 1177.1 746.9 1177.1 746.9 1165.6 746.9 1164.6Z" fill="#fff"/>
</g>
<path d="M658.0 1165.6V1450.5M709.2 1165.6V1450.5M760.3 1165.6V1450.5M811.5 1165.6V1450.5M862.6 1165.6V1450.5M607.3 1165.6V1450.5M590.4 1222.2H913.8M590.4 1279.3H913.8M590.4 1336.3H913.8M590.4 1393.4H913.8" stroke="#000" stroke-opacity="0.12" stroke-width="1" fill="none"/>
<path d="M658.0 1165.6v3M658.0 1450.5v-3M709.2 1165.6v3M709.2 1450.5v-3M760.3 1165.6v3M760.3 1450.5v-3M811.5 1165.6v3M811.5 1450.5v-3M862.6 1165.6v3M862.6 1450.5v-3M607.3 1165.6v3M607.3 1450.5v-3M590.4 1222.2h3M913.8 1222.2h-3M590.4 1279.3h3M913.8 1279.3h-3M590.4 1336.3h3M913.8 1336.3h-3M590.4 1393.4h3M913.8 1393.4h-3" stroke="#333" stroke-width="1" fill="none"/>
<rect x="590.4" y="1165.6" width="323.4" height="284.9" fill="none" stroke="#3a3a3a" stroke-width="1.1"/>
<text transform="translate(553.20,1173.73) scale(0.1766,0.1690)" font-size="100" fill="#1a1a1a" xml:space="preserve"><tspan font-family="Liberation Sans" font-weight="400">500</tspan></text>
<text transform="translate(553.20,1230.83) scale(0.1766,0.1690)" font-size="100" fill="#1a1a1a" xml:space="preserve"><tspan font-family="Liberation Sans" font-weight="400">450</tspan></text>
<text transform="translate(553.20,1287.03) scale(0.1766,0.1690)" font-size="100" fill="#1a1a1a" xml:space="preserve"><tspan font-family="Liberation Sans" font-weight="400">400</tspan></text>
<text transform="translate(553.20,1340.03) scale(0.1766,0.1690)" font-size="100" fill="#1a1a1a" xml:space="preserve"><tspan font-family="Liberation Sans" font-weight="400">350</tspan></text>
<text transform="translate(553.20,1397.23) scale(0.1766,0.1690)" font-size="100" fill="#1a1a1a" xml:space="preserve"><tspan font-family="Liberation Sans" font-weight="400">300</tspan></text>
<text transform="translate(553.20,1457.13) scale(0.1766,0.1690)" font-size="100" fill="#1a1a1a" xml:space="preserve"><tspan font-family="Liberation Sans" font-weight="400">250</tspan></text>
<text transform="translate(574.20,1478.24) scale(0.1772,0.1648)" font-size="100" fill="#1a1a1a" xml:space="preserve"><tspan font-family="Liberation Sans" font-weight="400">400</tspan></text>
<text transform="translate(631.20,1478.24) scale(0.1772,0.1648)" font-size="100" fill="#1a1a1a" xml:space="preserve"><tspan font-family="Liberation Sans" font-weight="400">450</tspan></text>
<text transform="translate(684.00,1478.24) scale(0.1772,0.1648)" font-size="100" fill="#1a1a1a" xml:space="preserve"><tspan font-family="Liberation Sans" font-weight="400">500</tspan></text>
<text transform="translate(741.20,1478.24) scale(0.1772,0.1648)" font-size="100" fill="#1a1a1a" xml:space="preserve"><tspan font-family="Liberation Sans" font-weight="400">550</tspan></text>
<text transform="translate(793.20,1478.24) scale(0.1772,0.1648)" font-size="100" fill="#1a1a1a" xml:space="preserve"><tspan font-family="Liberation Sans" font-weight="400">600</tspan></text>
<text transform="translate(846.70,1478.24) scale(0.1772,0.1648)" font-size="100" fill="#1a1a1a" xml:space="preserve"><tspan font-family="Liberation Sans" font-weight="400">650</tspan></text>
<text transform="translate(902.20,1478.24) scale(0.1772,0.1648)" font-size="100" fill="#1a1a1a" xml:space="preserve"><tspan font-family="Liberation Sans" font-weight="400">700</tspan></text>
<text transform="translate(650.80,1495.93) scale(0.1630,0.1797)" font-size="100" fill="#1a1a1a" xml:space="preserve"><tspan font-family="Liberation Sans" font-weight="700">Emission Wavelength</tspan><tspan font-family="Liberation Sans" font-weight="400"> (nm)</tspan></text>
<text transform="translate(537.51,1413.00) rotate(-90) scale(0.1643,0.1326)" font-size="100" fill="#1a1a1a" xml:space="preserve"><tspan font-family="Liberation Sans" font-weight="700">Excitation Wavelength</tspan></text>
<text transform="translate(539.75,1222.80) rotate(-90) scale(0.1669,0.1786)" font-size="100" fill="#1a1a1a" xml:space="preserve"><tspan font-family="Liberation Sans" font-weight="400">(nm)</tspan></text>
<text transform="translate(709.70,1524.65) scale(0.2117,0.2022)" font-size="100" fill="#1a1a1a" xml:space="preserve"><tspan font-family="Liberation Serif" font-weight="400">(</tspan><tspan font-family="Liberation Serif" font-weight="700">b7</tspan><tspan font-family="Liberation Serif" font-weight="400">)</tspan></text>
<text transform="translate(610.80,1199.80) scale(0.1645,0.1986)" font-size="100" fill="#000" xml:space="preserve"><tspan font-family="Liberation Sans" font-weight="700">S7-S</tspan></text>
</svg></body></html>
